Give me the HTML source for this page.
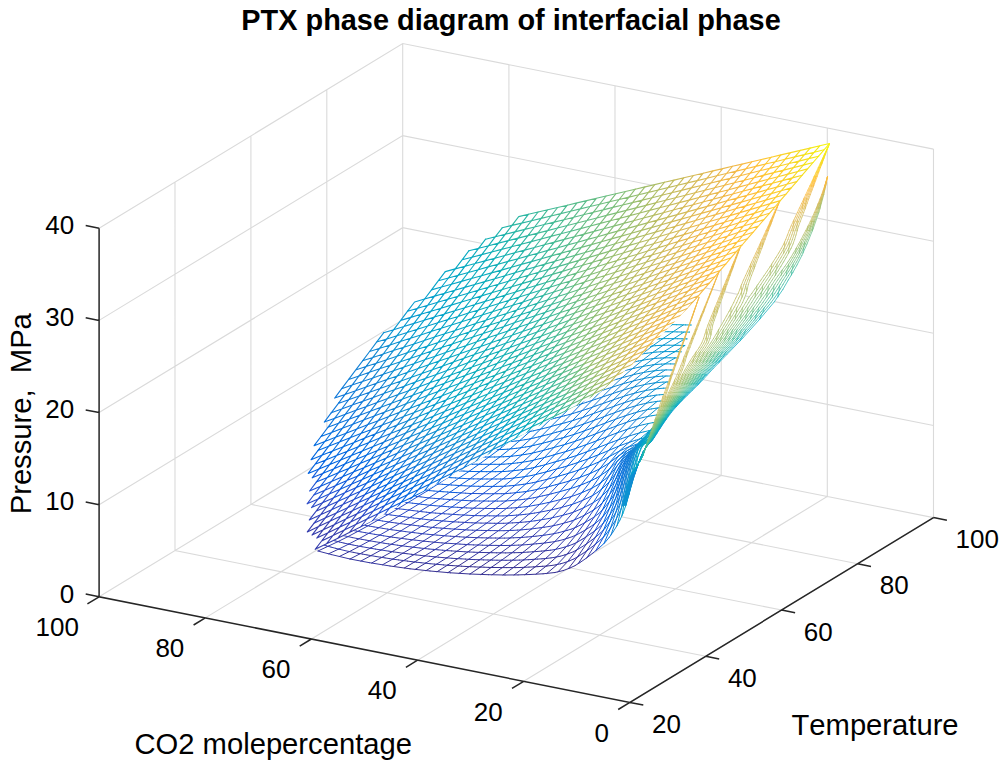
<!DOCTYPE html>
<html><head><meta charset="utf-8"><style>html,body{margin:0;padding:0;background:#fff;}text{font-kerning:none}svg{display:block}</style></head>
<body><svg width="1000" height="764" viewBox="0 0 1000 764">
<rect width="1000" height="764" fill="#fff"/>
<path d="M99.1 596.8L402.7 412.0L933.5 517.6M99.1 504.7L402.7 319.9L933.5 425.5M99.1 412.5L402.7 227.7L933.5 333.3M99.1 320.4L402.7 135.6L933.5 241.2M99.1 228.3L402.7 43.5L933.5 149.1M705.8 656.2L175.0 550.6L175.0 182.1M781.7 610.0L250.9 504.4L250.9 135.9M857.6 563.8L326.8 458.2L326.8 89.7M933.5 517.6L402.7 412.0L402.7 43.5M629.9 702.4L933.5 517.6L933.5 149.1M523.7 681.3L827.3 496.5L827.3 128.0M417.6 660.2L721.2 475.4L721.2 106.9M311.4 639.0L615.0 454.2L615.0 85.7M205.3 617.9L508.9 433.1L508.9 64.6" fill="none" stroke="#dadada" stroke-width="1.1"/>
<path d="M318.0 551.0L326.0 553.1L337.6 556.1L350.0 559.0L362.7 561.5L376.4 563.9L390.0 566.0L403.3 567.9L416.7 569.6L430.0 571.0L443.5 572.2L457.0 573.2L470.0 574.0L482.4 574.5L494.3 574.9L505.0 575.0L514.1 575.0L522.0 574.8L530.0 574.5L538.7 574.0L547.4 573.4L555.0 572.5L560.9 571.2L565.7 569.7L570.0 568.0L573.6 566.4L576.6 564.7L580.0 562.5L584.1 559.7L588.6 556.4L593.0 553.0L597.2 549.6L601.3 546.0L605.0 542.5L608.0 539.1L610.6 535.6L613.0 532.0L615.4 528.2L617.8 524.3L620.0 520.0L622.0 515.6L624.0 510.9L626.0 505.0L628.1 497.5L630.4 488.9L633.0 480.0L636.1 470.3L648.5 438.8L646.0 441.3L643.0 445.0L640.0 451.0L637.0 458.9L634.0 467.6L631.0 476.9L628.0 487.5L625.0 498.4L622.0 506.9L619.0 513.8L616.0 519.5L613.0 524.4L610.0 528.9L607.0 533.0L604.0 536.5L601.0 539.5L598.0 542.1L595.0 544.5L592.0 546.9L589.0 549.2L586.0 551.3L583.0 553.4L580.0 555.4L577.0 557.2L574.0 558.9L571.0 560.2L568.0 561.4L565.0 562.5L562.0 563.4L559.0 564.2L556.0 564.8L553.0 565.3L550.0 565.7L547.0 566.0L544.0 566.2L541.0 566.4L538.0 566.6L535.0 566.8L532.0 567.0L529.0 567.1L526.0 567.3L523.0 567.4L520.0 567.5L517.0 567.6L514.0 567.6L511.0 567.6L508.0 567.6L505.0 567.6L502.0 567.6L499.0 567.6L496.0 567.5L493.0 567.5L490.0 567.4L487.0 567.3L484.0 567.2L481.0 567.1L478.0 567.0L475.0 566.9L472.0 566.8L469.0 566.6L466.0 566.5L463.0 566.3L460.0 566.1L457.0 565.9L454.0 565.7L451.0 565.5L448.0 565.3L445.0 565.0L442.0 564.8L439.0 564.5L436.0 564.3L433.0 564.0L430.0 563.7L427.0 563.4L424.0 563.1L421.0 562.7L418.0 562.4L415.0 562.1L412.0 561.7L409.0 561.3L406.0 560.9L403.0 560.5L400.0 560.1L397.0 559.7L394.0 559.3L391.0 558.8L388.0 558.4L385.0 557.9L382.0 557.5L379.0 557.0L376.0 556.5L373.0 556.0L370.0 555.5L367.0 554.9L364.0 554.4L361.0 553.8L358.0 553.3L355.0 552.7L352.0 552.1L349.0 551.5L346.0 550.8L343.0 550.1L340.0 549.4L337.0 548.7L334.0 547.9L331.0 547.1L328.0 546.3L325.0 545.5L322.0 544.7ZM322.0 544.7L325.0 545.5L328.0 546.3L331.0 547.1L334.0 547.9L337.0 548.7L340.0 549.4L343.0 550.1L346.0 550.8L349.0 551.5L352.0 552.1L355.0 552.7L358.0 553.3L361.0 553.8L364.0 554.4L367.0 554.9L370.0 555.5L373.0 556.0L376.0 556.5L379.0 557.0L382.0 557.5L385.0 557.9L388.0 558.4L391.0 558.8L394.0 559.3L397.0 559.7L400.0 560.1L403.0 560.5L406.0 560.9L409.0 561.3L412.0 561.7L415.0 562.1L418.0 562.4L421.0 562.7L424.0 563.1L427.0 563.4L430.0 563.7L433.0 564.0L436.0 564.3L439.0 564.5L442.0 564.8L445.0 565.0L448.0 565.3L451.0 565.5L454.0 565.7L457.0 565.9L460.0 566.1L463.0 566.3L466.0 566.5L469.0 566.6L472.0 566.8L475.0 566.9L478.0 567.0L481.0 567.1L484.0 567.2L487.0 567.3L490.0 567.4L493.0 567.5L496.0 567.5L499.0 567.6L502.0 567.6L505.0 567.6L508.0 567.6L511.0 567.6L514.0 567.6L517.0 567.6L520.0 567.5L523.0 567.4L526.0 567.3L529.0 567.1L532.0 567.0L535.0 566.8L538.0 566.6L541.0 566.4L544.0 566.2L547.0 566.0L550.0 565.7L553.0 565.3L556.0 564.8L559.0 564.2L562.0 563.4L565.0 562.5L568.0 561.4L571.0 560.2L574.0 558.9L577.0 557.2L580.0 555.4L583.0 553.4L586.0 551.3L589.0 549.2L592.0 546.9L595.0 544.5L598.0 542.1L601.0 539.5L604.0 536.5L607.0 533.0L610.0 528.9L613.0 524.4L616.0 519.5L619.0 513.8L622.0 506.9L625.0 498.4L628.0 487.5L631.0 476.9L634.0 467.6L637.0 458.9L640.0 451.0L643.0 445.0L646.0 441.3L648.5 438.8L650.0 433.4L647.0 436.8L644.0 439.7L641.0 443.7L638.0 449.8L635.0 457.5L632.0 466.1L629.0 475.2L626.0 485.6L623.0 495.8L620.0 503.7L617.0 510.1L614.0 515.5L611.0 520.1L608.0 524.4L605.0 528.3L602.0 531.6L599.0 534.4L596.0 536.8L593.0 539.2L590.0 541.4L587.0 543.5L584.0 545.5L581.0 547.4L578.0 549.2L575.0 550.9L572.0 552.3L569.0 553.4L566.0 554.5L563.0 555.4L560.0 556.3L557.0 556.9L554.0 557.5L551.0 557.9L548.0 558.2L545.0 558.5L542.0 558.8L539.0 559.0L536.0 559.2L533.0 559.4L530.0 559.6L527.0 559.7L524.0 559.9L521.0 560.0L518.0 560.1L515.0 560.2L512.0 560.2L509.0 560.2L506.0 560.3L503.0 560.2L500.0 560.2L497.0 560.2L494.0 560.1L491.0 560.1L488.0 560.0L485.0 559.9L482.0 559.8L479.0 559.7L476.0 559.6L473.0 559.5L470.0 559.4L467.0 559.2L464.0 559.0L461.0 558.8L458.0 558.7L455.0 558.5L452.0 558.3L449.0 558.0L446.0 557.8L443.0 557.6L440.0 557.3L437.0 557.1L434.0 556.8L431.0 556.5L428.0 556.2L425.0 555.9L422.0 555.5L419.0 555.2L416.0 554.9L413.0 554.5L410.0 554.1L407.0 553.7L404.0 553.4L401.0 553.0L398.0 552.5L395.0 552.1L392.0 551.7L389.0 551.2L386.0 550.8L383.0 550.3L380.0 549.8L377.0 549.3L374.0 548.8L371.0 548.3L368.0 547.8L365.0 547.3L362.0 546.7L359.0 546.2L356.0 545.6L353.0 545.0L350.0 544.4L347.0 543.7L344.0 543.1L341.0 542.3L338.0 541.6L335.0 540.8L332.0 540.1L329.0 539.3L326.0 538.5ZM326.0 538.5L329.0 539.3L332.0 540.1L335.0 540.8L338.0 541.6L341.0 542.3L344.0 543.1L347.0 543.7L350.0 544.4L353.0 545.0L356.0 545.6L359.0 546.2L362.0 546.7L365.0 547.3L368.0 547.8L371.0 548.3L374.0 548.8L377.0 549.3L380.0 549.8L383.0 550.3L386.0 550.8L389.0 551.2L392.0 551.7L395.0 552.1L398.0 552.5L401.0 553.0L404.0 553.4L407.0 553.7L410.0 554.1L413.0 554.5L416.0 554.9L419.0 555.2L422.0 555.5L425.0 555.9L428.0 556.2L431.0 556.5L434.0 556.8L437.0 557.1L440.0 557.3L443.0 557.6L446.0 557.8L449.0 558.0L452.0 558.3L455.0 558.5L458.0 558.7L461.0 558.8L464.0 559.0L467.0 559.2L470.0 559.4L473.0 559.5L476.0 559.6L479.0 559.7L482.0 559.8L485.0 559.9L488.0 560.0L491.0 560.1L494.0 560.1L497.0 560.2L500.0 560.2L503.0 560.2L506.0 560.3L509.0 560.2L512.0 560.2L515.0 560.2L518.0 560.1L521.0 560.0L524.0 559.9L527.0 559.7L530.0 559.6L533.0 559.4L536.0 559.2L539.0 559.0L542.0 558.8L545.0 558.5L548.0 558.2L551.0 557.9L554.0 557.5L557.0 556.9L560.0 556.3L563.0 555.4L566.0 554.5L569.0 553.4L572.0 552.3L575.0 550.9L578.0 549.2L581.0 547.4L584.0 545.5L587.0 543.5L590.0 541.4L593.0 539.2L596.0 536.8L599.0 534.4L602.0 531.6L605.0 528.3L608.0 524.4L611.0 520.1L614.0 515.5L617.0 510.1L620.0 503.7L623.0 495.8L626.0 485.6L629.0 475.2L632.0 466.1L635.0 457.5L638.0 449.8L641.0 443.7L644.0 439.7L647.0 436.8L650.0 433.4L651.0 430.0L648.0 434.0L645.0 437.0L642.0 439.9L639.0 444.0L636.0 450.0L633.0 457.5L630.0 465.6L627.0 474.3L624.0 484.3L621.0 493.5L618.0 500.7L615.0 506.6L612.0 511.5L609.0 515.9L606.0 519.9L603.0 523.6L600.0 526.6L597.0 529.1L594.0 531.4L591.0 533.5L588.0 535.6L585.0 537.6L582.0 539.4L579.0 541.2L576.0 542.8L573.0 544.2L570.0 545.4L567.0 546.4L564.0 547.3L561.0 548.2L558.0 548.9L555.0 549.5L552.0 550.0L549.0 550.3L546.0 550.7L543.0 551.0L540.0 551.2L537.0 551.5L534.0 551.7L531.0 551.9L528.0 552.1L525.0 552.3L522.0 552.5L519.0 552.6L516.0 552.7L513.0 552.8L510.0 552.8L507.0 552.8L504.0 552.9L501.0 552.8L498.0 552.8L495.0 552.8L492.0 552.7L489.0 552.7L486.0 552.6L483.0 552.5L480.0 552.4L477.0 552.3L474.0 552.2L471.0 552.1L468.0 551.9L465.0 551.8L462.0 551.6L459.0 551.4L456.0 551.2L453.0 551.0L450.0 550.8L447.0 550.6L444.0 550.3L441.0 550.1L438.0 549.8L435.0 549.6L432.0 549.3L429.0 549.0L426.0 548.7L423.0 548.4L420.0 548.0L417.0 547.7L414.0 547.3L411.0 546.9L408.0 546.6L405.0 546.2L402.0 545.8L399.0 545.4L396.0 545.0L393.0 544.5L390.0 544.1L387.0 543.6L384.0 543.2L381.0 542.7L378.0 542.2L375.0 541.7L372.0 541.2L369.0 540.7L366.0 540.1L363.0 539.6L360.0 539.0L357.0 538.5L354.0 537.9L351.0 537.3L348.0 536.6L345.0 536.0L342.0 535.3L339.0 534.5L336.0 533.8L333.0 533.0L330.0 532.2ZM330.0 532.2L333.0 533.0L336.0 533.8L339.0 534.5L342.0 535.3L345.0 536.0L348.0 536.6L351.0 537.3L354.0 537.9L357.0 538.5L360.0 539.0L363.0 539.6L366.0 540.1L369.0 540.7L372.0 541.2L375.0 541.7L378.0 542.2L381.0 542.7L384.0 543.2L387.0 543.6L390.0 544.1L393.0 544.5L396.0 545.0L399.0 545.4L402.0 545.8L405.0 546.2L408.0 546.6L411.0 546.9L414.0 547.3L417.0 547.7L420.0 548.0L423.0 548.4L426.0 548.7L429.0 549.0L432.0 549.3L435.0 549.6L438.0 549.8L441.0 550.1L444.0 550.3L447.0 550.6L450.0 550.8L453.0 551.0L456.0 551.2L459.0 551.4L462.0 551.6L465.0 551.8L468.0 551.9L471.0 552.1L474.0 552.2L477.0 552.3L480.0 552.4L483.0 552.5L486.0 552.6L489.0 552.7L492.0 552.7L495.0 552.8L498.0 552.8L501.0 552.8L504.0 552.9L507.0 552.8L510.0 552.8L513.0 552.8L516.0 552.7L519.0 552.6L522.0 552.5L525.0 552.3L528.0 552.1L531.0 551.9L534.0 551.7L537.0 551.5L540.0 551.2L543.0 551.0L546.0 550.7L549.0 550.3L552.0 550.0L555.0 549.5L558.0 548.9L561.0 548.2L564.0 547.3L567.0 546.4L570.0 545.4L573.0 544.2L576.0 542.8L579.0 541.2L582.0 539.4L585.0 537.6L588.0 535.6L591.0 533.5L594.0 531.4L597.0 529.1L600.0 526.6L603.0 523.6L606.0 519.9L609.0 515.9L612.0 511.5L615.0 506.6L618.0 500.7L621.0 493.5L624.0 484.3L627.0 474.3L630.0 465.6L633.0 457.5L636.0 450.0L639.0 444.0L642.0 439.9L645.0 437.0L648.0 434.0L651.0 430.0L652.0 428.2L649.0 432.2L646.0 435.8L643.0 438.5L640.0 441.3L637.0 445.3L634.0 451.2L631.0 458.2L628.0 465.8L625.0 473.9L622.0 483.2L619.0 491.3L616.0 497.7L613.0 503.0L610.0 507.5L607.0 511.5L604.0 515.3L601.0 518.6L598.0 521.3L595.0 523.6L592.0 525.7L589.0 527.6L586.0 529.5L583.0 531.3L580.0 533.0L577.0 534.6L574.0 536.0L571.0 537.2L568.0 538.1L565.0 539.0L562.0 539.9L559.0 540.7L556.0 541.3L553.0 541.9L550.0 542.3L547.0 542.7L544.0 543.1L541.0 543.4L538.0 543.7L535.0 544.0L532.0 544.2L529.0 544.5L526.0 544.7L523.0 544.9L520.0 545.0L517.0 545.2L514.0 545.3L511.0 545.4L508.0 545.4L505.0 545.5L502.0 545.5L499.0 545.4L496.0 545.4L493.0 545.4L490.0 545.3L487.0 545.3L484.0 545.2L481.0 545.1L478.0 545.0L475.0 544.9L472.0 544.8L469.0 544.7L466.0 544.5L463.0 544.3L460.0 544.1L457.0 543.9L454.0 543.7L451.0 543.5L448.0 543.3L445.0 543.1L442.0 542.9L439.0 542.6L436.0 542.3L433.0 542.1L430.0 541.8L427.0 541.5L424.0 541.2L421.0 540.8L418.0 540.5L415.0 540.1L412.0 539.7L409.0 539.4L406.0 539.0L403.0 538.6L400.0 538.2L397.0 537.8L394.0 537.4L391.0 536.9L388.0 536.5L385.0 536.0L382.0 535.5L379.0 535.0L376.0 534.5L373.0 534.0L370.0 533.5L367.0 533.0L364.0 532.5L361.0 531.9L358.0 531.3L355.0 530.8L352.0 530.2L349.0 529.6L346.0 528.9L343.0 528.2L340.0 527.5L337.0 526.7L334.0 526.0ZM334.0 526.0L337.0 526.7L340.0 527.5L343.0 528.2L346.0 528.9L349.0 529.6L352.0 530.2L355.0 530.8L358.0 531.3L361.0 531.9L364.0 532.5L367.0 533.0L370.0 533.5L373.0 534.0L376.0 534.5L379.0 535.0L382.0 535.5L385.0 536.0L388.0 536.5L391.0 536.9L394.0 537.4L397.0 537.8L400.0 538.2L403.0 538.6L406.0 539.0L409.0 539.4L412.0 539.7L415.0 540.1L418.0 540.5L421.0 540.8L424.0 541.2L427.0 541.5L430.0 541.8L433.0 542.1L436.0 542.3L439.0 542.6L442.0 542.9L445.0 543.1L448.0 543.3L451.0 543.5L454.0 543.7L457.0 543.9L460.0 544.1L463.0 544.3L466.0 544.5L469.0 544.7L472.0 544.8L475.0 544.9L478.0 545.0L481.0 545.1L484.0 545.2L487.0 545.3L490.0 545.3L493.0 545.4L496.0 545.4L499.0 545.4L502.0 545.5L505.0 545.5L508.0 545.4L511.0 545.4L514.0 545.3L517.0 545.2L520.0 545.0L523.0 544.9L526.0 544.7L529.0 544.5L532.0 544.2L535.0 544.0L538.0 543.7L541.0 543.4L544.0 543.1L547.0 542.7L550.0 542.3L553.0 541.9L556.0 541.3L559.0 540.7L562.0 539.9L565.0 539.0L568.0 538.1L571.0 537.2L574.0 536.0L577.0 534.6L580.0 533.0L583.0 531.3L586.0 529.5L589.0 527.6L592.0 525.7L595.0 523.6L598.0 521.3L601.0 518.6L604.0 515.3L607.0 511.5L610.0 507.5L613.0 503.0L616.0 497.7L619.0 491.3L622.0 483.2L625.0 473.9L628.0 465.8L631.0 458.2L634.0 451.2L637.0 445.3L640.0 441.3L643.0 438.5L646.0 435.8L649.0 432.2L652.0 428.2L651.7 429.6L650.0 431.6L647.0 435.2L644.0 438.3L641.0 440.8L638.0 443.4L635.0 447.4L632.0 452.9L629.0 459.3L626.0 466.2L623.0 473.7L620.0 482.0L617.0 489.0L614.0 494.6L611.0 499.3L608.0 503.3L605.0 507.0L602.0 510.4L599.0 513.3L596.0 515.6L593.0 517.7L590.0 519.6L587.0 521.4L584.0 523.1L581.0 524.7L578.0 526.2L575.0 527.6L572.0 528.9L569.0 529.8L566.0 530.7L563.0 531.5L560.0 532.3L557.0 533.0L554.0 533.7L551.0 534.2L548.0 534.7L545.0 535.1L542.0 535.5L539.0 535.8L536.0 536.2L533.0 536.5L530.0 536.8L527.0 537.0L524.0 537.3L521.0 537.5L518.0 537.6L515.0 537.8L512.0 537.9L509.0 538.0L506.0 538.0L503.0 538.1L500.0 538.1L497.0 538.0L494.0 538.0L491.0 538.0L488.0 537.9L485.0 537.9L482.0 537.8L479.0 537.7L476.0 537.6L473.0 537.5L470.0 537.4L467.0 537.2L464.0 537.1L461.0 536.9L458.0 536.7L455.0 536.5L452.0 536.3L449.0 536.1L446.0 535.9L443.0 535.6L440.0 535.4L437.0 535.1L434.0 534.9L431.0 534.6L428.0 534.3L425.0 533.9L422.0 533.6L419.0 533.3L416.0 532.9L413.0 532.5L410.0 532.2L407.0 531.8L404.0 531.4L401.0 531.0L398.0 530.6L395.0 530.2L392.0 529.8L389.0 529.3L386.0 528.9L383.0 528.4L380.0 527.9L377.0 527.4L374.0 526.9L371.0 526.4L368.0 525.8L365.0 525.3L362.0 524.8L359.0 524.2L356.0 523.7L353.0 523.1L350.0 522.5L347.0 521.8L344.0 521.1L341.0 520.4L338.0 519.7ZM338.0 519.7L341.0 520.4L344.0 521.1L347.0 521.8L350.0 522.5L353.0 523.1L356.0 523.7L359.0 524.2L362.0 524.8L365.0 525.3L368.0 525.8L371.0 526.4L374.0 526.9L377.0 527.4L380.0 527.9L383.0 528.4L386.0 528.9L389.0 529.3L392.0 529.8L395.0 530.2L398.0 530.6L401.0 531.0L404.0 531.4L407.0 531.8L410.0 532.2L413.0 532.5L416.0 532.9L419.0 533.3L422.0 533.6L425.0 533.9L428.0 534.3L431.0 534.6L434.0 534.9L437.0 535.1L440.0 535.4L443.0 535.6L446.0 535.9L449.0 536.1L452.0 536.3L455.0 536.5L458.0 536.7L461.0 536.9L464.0 537.1L467.0 537.2L470.0 537.4L473.0 537.5L476.0 537.6L479.0 537.7L482.0 537.8L485.0 537.9L488.0 537.9L491.0 538.0L494.0 538.0L497.0 538.0L500.0 538.1L503.0 538.1L506.0 538.0L509.0 538.0L512.0 537.9L515.0 537.8L518.0 537.6L521.0 537.5L524.0 537.3L527.0 537.0L530.0 536.8L533.0 536.5L536.0 536.2L539.0 535.8L542.0 535.5L545.0 535.1L548.0 534.7L551.0 534.2L554.0 533.7L557.0 533.0L560.0 532.3L563.0 531.5L566.0 530.7L569.0 529.8L572.0 528.9L575.0 527.6L578.0 526.2L581.0 524.7L584.0 523.1L587.0 521.4L590.0 519.6L593.0 517.7L596.0 515.6L599.0 513.3L602.0 510.4L605.0 507.0L608.0 503.3L611.0 499.3L614.0 494.6L617.0 489.0L620.0 482.0L623.0 473.7L626.0 466.2L629.0 459.3L632.0 452.9L635.0 447.4L638.0 443.4L641.0 440.8L644.0 438.3L647.0 435.2L650.0 431.6L651.7 429.6L650.6 432.6L648.0 435.4L645.0 438.5L642.0 441.2L639.0 443.4L636.0 445.9L633.0 449.7L630.0 454.7L627.0 460.4L624.0 466.5L621.0 473.3L618.0 480.5L615.0 486.5L612.0 491.2L609.0 495.3L606.0 498.9L603.0 502.1L600.0 505.2L597.0 507.6L594.0 509.7L591.0 511.5L588.0 513.3L585.0 514.9L582.0 516.4L579.0 517.9L576.0 519.2L573.0 520.4L570.0 521.4L567.0 522.3L564.0 523.1L561.0 523.9L558.0 524.7L555.0 525.3L552.0 526.0L549.0 526.5L546.0 527.0L543.0 527.4L540.0 527.8L537.0 528.3L534.0 528.6L531.0 529.0L528.0 529.3L525.0 529.6L522.0 529.8L519.0 530.0L516.0 530.2L513.0 530.4L510.0 530.5L507.0 530.6L504.0 530.7L501.0 530.7L498.0 530.7L495.0 530.6L492.0 530.6L489.0 530.6L486.0 530.5L483.0 530.5L480.0 530.4L477.0 530.3L474.0 530.2L471.0 530.1L468.0 530.0L465.0 529.8L462.0 529.6L459.0 529.4L456.0 529.2L453.0 529.0L450.0 528.8L447.0 528.6L444.0 528.4L441.0 528.1L438.0 527.9L435.0 527.6L432.0 527.4L429.0 527.1L426.0 526.8L423.0 526.4L420.0 526.1L417.0 525.7L414.0 525.3L411.0 525.0L408.0 524.6L405.0 524.2L402.0 523.8L399.0 523.4L396.0 523.0L393.0 522.6L390.0 522.2L387.0 521.7L384.0 521.2L381.0 520.7L378.0 520.2L375.0 519.7L372.0 519.2L369.0 518.7L366.0 518.2L363.0 517.6L360.0 517.1L357.0 516.5L354.0 516.0L351.0 515.4L348.0 514.7L345.0 514.0L342.0 513.3ZM342.0 513.3L345.0 514.0L348.0 514.7L351.0 515.4L354.0 516.0L357.0 516.5L360.0 517.1L363.0 517.6L366.0 518.2L369.0 518.7L372.0 519.2L375.0 519.7L378.0 520.2L381.0 520.7L384.0 521.2L387.0 521.7L390.0 522.2L393.0 522.6L396.0 523.0L399.0 523.4L402.0 523.8L405.0 524.2L408.0 524.6L411.0 525.0L414.0 525.3L417.0 525.7L420.0 526.1L423.0 526.4L426.0 526.8L429.0 527.1L432.0 527.4L435.0 527.6L438.0 527.9L441.0 528.1L444.0 528.4L447.0 528.6L450.0 528.8L453.0 529.0L456.0 529.2L459.0 529.4L462.0 529.6L465.0 529.8L468.0 530.0L471.0 530.1L474.0 530.2L477.0 530.3L480.0 530.4L483.0 530.5L486.0 530.5L489.0 530.6L492.0 530.6L495.0 530.6L498.0 530.7L501.0 530.7L504.0 530.7L507.0 530.6L510.0 530.5L513.0 530.4L516.0 530.2L519.0 530.0L522.0 529.8L525.0 529.6L528.0 529.3L531.0 529.0L534.0 528.6L537.0 528.3L540.0 527.8L543.0 527.4L546.0 527.0L549.0 526.5L552.0 526.0L555.0 525.3L558.0 524.7L561.0 523.9L564.0 523.1L567.0 522.3L570.0 521.4L573.0 520.4L576.0 519.2L579.0 517.9L582.0 516.4L585.0 514.9L588.0 513.3L591.0 511.5L594.0 509.7L597.0 507.6L600.0 505.2L603.0 502.1L606.0 498.9L609.0 495.3L612.0 491.2L615.0 486.5L618.0 480.5L621.0 473.3L624.0 466.5L627.0 460.4L630.0 454.7L633.0 449.7L636.0 445.9L639.0 443.4L642.0 441.2L645.0 438.5L648.0 435.4L650.6 432.6L649.0 436.4L646.0 439.1L643.0 441.8L640.0 444.1L637.0 446.0L634.0 448.4L631.0 451.9L628.0 456.3L625.0 461.3L622.0 466.5L619.0 472.4L616.0 478.5L613.0 483.4L610.0 487.4L607.0 491.0L604.0 494.1L601.0 496.9L598.0 499.5L595.0 501.6L592.0 503.4L589.0 505.0L586.0 506.6L583.0 508.1L580.0 509.4L577.0 510.7L574.0 511.9L571.0 513.0L568.0 513.8L565.0 514.7L562.0 515.5L559.0 516.3L556.0 517.0L553.0 517.6L550.0 518.3L547.0 518.8L544.0 519.3L541.0 519.8L538.0 520.3L535.0 520.8L532.0 521.2L529.0 521.6L526.0 521.9L523.0 522.2L520.0 522.4L517.0 522.6L514.0 522.8L511.0 523.0L508.0 523.1L505.0 523.2L502.0 523.3L499.0 523.3L496.0 523.3L493.0 523.3L490.0 523.2L487.0 523.2L484.0 523.1L481.0 523.1L478.0 523.0L475.0 522.9L472.0 522.8L469.0 522.7L466.0 522.5L463.0 522.3L460.0 522.2L457.0 522.0L454.0 521.8L451.0 521.6L448.0 521.4L445.0 521.1L442.0 520.9L439.0 520.7L436.0 520.4L433.0 520.2L430.0 519.9L427.0 519.6L424.0 519.2L421.0 518.9L418.0 518.5L415.0 518.1L412.0 517.8L409.0 517.4L406.0 517.0L403.0 516.6L400.0 516.2L397.0 515.8L394.0 515.4L391.0 515.0L388.0 514.6L385.0 514.1L382.0 513.6L379.0 513.1L376.0 512.6L373.0 512.1L370.0 511.5L367.0 511.0L364.0 510.5L361.0 509.9L358.0 509.4L355.0 508.8L352.0 508.3L349.0 507.7L346.0 507.0ZM346.0 507.0L349.0 507.7L352.0 508.3L355.0 508.8L358.0 509.4L361.0 509.9L364.0 510.5L367.0 511.0L370.0 511.5L373.0 512.1L376.0 512.6L379.0 513.1L382.0 513.6L385.0 514.1L388.0 514.6L391.0 515.0L394.0 515.4L397.0 515.8L400.0 516.2L403.0 516.6L406.0 517.0L409.0 517.4L412.0 517.8L415.0 518.1L418.0 518.5L421.0 518.9L424.0 519.2L427.0 519.6L430.0 519.9L433.0 520.2L436.0 520.4L439.0 520.7L442.0 520.9L445.0 521.1L448.0 521.4L451.0 521.6L454.0 521.8L457.0 522.0L460.0 522.2L463.0 522.3L466.0 522.5L469.0 522.7L472.0 522.8L475.0 522.9L478.0 523.0L481.0 523.1L484.0 523.1L487.0 523.2L490.0 523.2L493.0 523.3L496.0 523.3L499.0 523.3L502.0 523.3L505.0 523.2L508.0 523.1L511.0 523.0L514.0 522.8L517.0 522.6L520.0 522.4L523.0 522.2L526.0 521.9L529.0 521.6L532.0 521.2L535.0 520.8L538.0 520.3L541.0 519.8L544.0 519.3L547.0 518.8L550.0 518.3L553.0 517.6L556.0 517.0L559.0 516.3L562.0 515.5L565.0 514.7L568.0 513.8L571.0 513.0L574.0 511.9L577.0 510.7L580.0 509.4L583.0 508.1L586.0 506.6L589.0 505.0L592.0 503.4L595.0 501.6L598.0 499.5L601.0 496.9L604.0 494.1L607.0 491.0L610.0 487.4L613.0 483.4L616.0 478.5L619.0 472.4L622.0 466.5L625.0 461.3L628.0 456.3L631.0 451.9L634.0 448.4L637.0 446.0L640.0 444.1L643.0 441.8L646.0 439.1L649.0 436.4L647.0 440.1L644.0 442.4L641.0 444.6L638.0 446.5L635.0 448.3L632.0 450.5L629.0 453.6L626.0 457.4L623.0 461.6L620.0 466.0L617.0 471.0L614.0 475.9L611.0 479.8L608.0 483.2L605.0 486.2L602.0 488.8L599.0 491.3L596.0 493.5L593.0 495.2L590.0 496.8L587.0 498.3L584.0 499.7L581.0 501.0L578.0 502.2L575.0 503.4L572.0 504.5L569.0 505.4L566.0 506.2L563.0 507.0L560.0 507.8L557.0 508.6L554.0 509.3L551.0 510.0L548.0 510.6L545.0 511.2L542.0 511.8L539.0 512.3L536.0 512.8L533.0 513.3L530.0 513.8L527.0 514.1L524.0 514.5L521.0 514.8L518.0 515.0L515.0 515.3L512.0 515.5L509.0 515.6L506.0 515.8L503.0 515.9L500.0 515.9L497.0 515.9L494.0 515.9L491.0 515.9L488.0 515.8L485.0 515.8L482.0 515.7L479.0 515.7L476.0 515.6L473.0 515.5L470.0 515.4L467.0 515.2L464.0 515.1L461.0 514.9L458.0 514.7L455.0 514.5L452.0 514.3L449.0 514.1L446.0 513.9L443.0 513.7L440.0 513.4L437.0 513.2L434.0 512.9L431.0 512.7L428.0 512.4L425.0 512.0L422.0 511.7L419.0 511.3L416.0 510.9L413.0 510.6L410.0 510.2L407.0 509.8L404.0 509.4L401.0 509.1L398.0 508.7L395.0 508.3L392.0 507.9L389.0 507.4L386.0 506.9L383.0 506.4L380.0 505.9L377.0 505.4L374.0 504.9L371.0 504.4L368.0 503.9L365.0 503.3L362.0 502.8L359.0 502.3L356.0 501.7L353.0 501.2L350.0 500.6ZM350.0 500.6L353.0 501.2L356.0 501.7L359.0 502.3L362.0 502.8L365.0 503.3L368.0 503.9L371.0 504.4L374.0 504.9L377.0 505.4L380.0 505.9L383.0 506.4L386.0 506.9L389.0 507.4L392.0 507.9L395.0 508.3L398.0 508.7L401.0 509.1L404.0 509.4L407.0 509.8L410.0 510.2L413.0 510.6L416.0 510.9L419.0 511.3L422.0 511.7L425.0 512.0L428.0 512.4L431.0 512.7L434.0 512.9L437.0 513.2L440.0 513.4L443.0 513.7L446.0 513.9L449.0 514.1L452.0 514.3L455.0 514.5L458.0 514.7L461.0 514.9L464.0 515.1L467.0 515.2L470.0 515.4L473.0 515.5L476.0 515.6L479.0 515.7L482.0 515.7L485.0 515.8L488.0 515.8L491.0 515.9L494.0 515.9L497.0 515.9L500.0 515.9L503.0 515.9L506.0 515.8L509.0 515.6L512.0 515.5L515.0 515.3L518.0 515.0L521.0 514.8L524.0 514.5L527.0 514.1L530.0 513.8L533.0 513.3L536.0 512.8L539.0 512.3L542.0 511.8L545.0 511.2L548.0 510.6L551.0 510.0L554.0 509.3L557.0 508.6L560.0 507.8L563.0 507.0L566.0 506.2L569.0 505.4L572.0 504.5L575.0 503.4L578.0 502.2L581.0 501.0L584.0 499.7L587.0 498.3L590.0 496.8L593.0 495.2L596.0 493.5L599.0 491.3L602.0 488.8L605.0 486.2L608.0 483.2L611.0 479.8L614.0 475.9L617.0 471.0L620.0 466.0L623.0 461.6L626.0 457.4L629.0 453.6L632.0 450.5L635.0 448.3L638.0 446.5L641.0 444.6L644.0 442.4L647.0 440.1L647.6 441.3L645.0 442.9L642.0 444.8L639.0 446.7L636.0 448.3L633.0 449.8L630.0 451.8L627.0 454.5L624.0 457.7L621.0 461.1L618.0 464.7L615.0 468.7L612.0 472.5L609.0 475.7L606.0 478.5L603.0 480.9L600.0 483.2L597.0 485.3L594.0 487.0L591.0 488.6L588.0 490.0L585.0 491.3L582.0 492.6L579.0 493.8L576.0 494.9L573.0 496.0L570.0 496.9L567.0 497.8L564.0 498.6L561.0 499.4L558.0 500.2L555.0 500.9L552.0 501.7L549.0 502.4L546.0 503.1L543.0 503.7L540.0 504.3L537.0 504.9L534.0 505.4L531.0 505.9L528.0 506.4L525.0 506.8L522.0 507.1L519.0 507.4L516.0 507.7L513.0 507.9L510.0 508.1L507.0 508.3L504.0 508.4L501.0 508.5L498.0 508.5L495.0 508.5L492.0 508.5L489.0 508.5L486.0 508.4L483.0 508.4L480.0 508.3L477.0 508.3L474.0 508.2L471.0 508.1L468.0 508.0L465.0 507.8L462.0 507.6L459.0 507.4L456.0 507.2L453.0 507.1L450.0 506.9L447.0 506.6L444.0 506.4L441.0 506.2L438.0 505.9L435.0 505.7L432.0 505.5L429.0 505.2L426.0 504.8L423.0 504.5L420.0 504.1L417.0 503.7L414.0 503.4L411.0 503.0L408.0 502.6L405.0 502.2L402.0 501.9L399.0 501.5L396.0 501.1L393.0 500.7L390.0 500.3L387.0 499.8L384.0 499.3L381.0 498.8L378.0 498.3L375.0 497.7L372.0 497.2L369.0 496.7L366.0 496.2L363.0 495.6L360.0 495.1L357.0 494.6L354.0 494.0ZM354.0 494.0L357.0 494.6L360.0 495.1L363.0 495.6L366.0 496.2L369.0 496.7L372.0 497.2L375.0 497.7L378.0 498.3L381.0 498.8L384.0 499.3L387.0 499.8L390.0 500.3L393.0 500.7L396.0 501.1L399.0 501.5L402.0 501.9L405.0 502.2L408.0 502.6L411.0 503.0L414.0 503.4L417.0 503.7L420.0 504.1L423.0 504.5L426.0 504.8L429.0 505.2L432.0 505.5L435.0 505.7L438.0 505.9L441.0 506.2L444.0 506.4L447.0 506.6L450.0 506.9L453.0 507.1L456.0 507.2L459.0 507.4L462.0 507.6L465.0 507.8L468.0 508.0L471.0 508.1L474.0 508.2L477.0 508.3L480.0 508.3L483.0 508.4L486.0 508.4L489.0 508.5L492.0 508.5L495.0 508.5L498.0 508.5L501.0 508.5L504.0 508.4L507.0 508.3L510.0 508.1L513.0 507.9L516.0 507.7L519.0 507.4L522.0 507.1L525.0 506.8L528.0 506.4L531.0 505.9L534.0 505.4L537.0 504.9L540.0 504.3L543.0 503.7L546.0 503.1L549.0 502.4L552.0 501.7L555.0 500.9L558.0 500.2L561.0 499.4L564.0 498.6L567.0 497.8L570.0 496.9L573.0 496.0L576.0 494.9L579.0 493.8L582.0 492.6L585.0 491.3L588.0 490.0L591.0 488.6L594.0 487.0L597.0 485.3L600.0 483.2L603.0 480.9L606.0 478.5L609.0 475.7L612.0 472.5L615.0 468.7L618.0 464.7L621.0 461.1L624.0 457.7L627.0 454.5L630.0 451.8L633.0 449.8L636.0 448.3L639.0 446.7L642.0 444.8L645.0 442.9L647.6 441.3L646.0 443.1L643.0 444.6L640.0 446.1L637.0 447.7L634.0 449.0L631.0 450.4L628.0 452.2L625.0 454.4L622.0 456.9L619.0 459.6L616.0 462.5L613.0 465.6L610.0 468.5L607.0 471.0L604.0 473.2L601.0 475.2L598.0 477.1L595.0 478.8L592.0 480.3L589.0 481.7L586.0 483.0L583.0 484.2L580.0 485.3L577.0 486.5L574.0 487.5L571.0 488.5L568.0 489.4L565.0 490.2L562.0 491.1L559.0 491.9L556.0 492.6L553.0 493.4L550.0 494.2L547.0 494.9L544.0 495.6L541.0 496.3L538.0 496.9L535.0 497.5L532.0 498.1L529.0 498.6L526.0 499.0L523.0 499.4L520.0 499.8L517.0 500.1L514.0 500.4L511.0 500.6L508.0 500.8L505.0 501.0L502.0 501.1L499.0 501.1L496.0 501.1L493.0 501.1L490.0 501.1L487.0 501.1L484.0 501.0L481.0 501.0L478.0 500.9L475.0 500.9L472.0 500.8L469.0 500.7L466.0 500.5L463.0 500.4L460.0 500.2L457.0 500.0L454.0 499.8L451.0 499.6L448.0 499.4L445.0 499.2L442.0 498.9L439.0 498.7L436.0 498.5L433.0 498.2L430.0 498.0L427.0 497.6L424.0 497.3L421.0 496.9L418.0 496.5L415.0 496.2L412.0 495.8L409.0 495.4L406.0 495.0L403.0 494.7L400.0 494.3L397.0 493.9L394.0 493.5L391.0 493.1L388.0 492.7L385.0 492.1L382.0 491.6L379.0 491.1L376.0 490.6L373.0 490.1L370.0 489.6L367.0 489.0L364.0 488.5L361.0 488.0L358.0 487.4ZM358.0 487.4L361.0 488.0L364.0 488.5L367.0 489.0L370.0 489.6L373.0 490.1L376.0 490.6L379.0 491.1L382.0 491.6L385.0 492.1L388.0 492.7L391.0 493.1L394.0 493.5L397.0 493.9L400.0 494.3L403.0 494.7L406.0 495.0L409.0 495.4L412.0 495.8L415.0 496.2L418.0 496.5L421.0 496.9L424.0 497.3L427.0 497.6L430.0 498.0L433.0 498.2L436.0 498.5L439.0 498.7L442.0 498.9L445.0 499.2L448.0 499.4L451.0 499.6L454.0 499.8L457.0 500.0L460.0 500.2L463.0 500.4L466.0 500.5L469.0 500.7L472.0 500.8L475.0 500.9L478.0 500.9L481.0 501.0L484.0 501.0L487.0 501.1L490.0 501.1L493.0 501.1L496.0 501.1L499.0 501.1L502.0 501.1L505.0 501.0L508.0 500.8L511.0 500.6L514.0 500.4L517.0 500.1L520.0 499.8L523.0 499.4L526.0 499.0L529.0 498.6L532.0 498.1L535.0 497.5L538.0 496.9L541.0 496.3L544.0 495.6L547.0 494.9L550.0 494.2L553.0 493.4L556.0 492.6L559.0 491.9L562.0 491.1L565.0 490.2L568.0 489.4L571.0 488.5L574.0 487.5L577.0 486.5L580.0 485.3L583.0 484.2L586.0 483.0L589.0 481.7L592.0 480.3L595.0 478.8L598.0 477.1L601.0 475.2L604.0 473.2L607.0 471.0L610.0 468.5L613.0 465.6L616.0 462.5L619.0 459.6L622.0 456.9L625.0 454.4L628.0 452.2L631.0 450.4L634.0 449.0L637.0 447.7L640.0 446.1L643.0 444.6L646.0 443.1L647.0 442.5L644.0 443.6L641.0 444.8L638.0 446.1L635.0 447.3L632.0 448.5L629.0 449.8L626.0 451.3L623.0 453.1L620.0 455.0L617.0 457.1L614.0 459.3L611.0 461.6L608.0 463.8L605.0 465.7L602.0 467.5L599.0 469.2L596.0 470.7L593.0 472.2L590.0 473.5L587.0 474.7L584.0 475.9L581.0 477.0L578.0 478.1L575.0 479.1L572.0 480.1L569.0 481.1L566.0 481.9L563.0 482.8L560.0 483.6L557.0 484.4L554.0 485.2L551.0 486.0L548.0 486.8L545.0 487.6L542.0 488.3L539.0 489.0L536.0 489.6L533.0 490.3L530.0 490.9L527.0 491.3L524.0 491.8L521.0 492.1L518.0 492.5L515.0 492.8L512.0 493.1L509.0 493.3L506.0 493.6L503.0 493.7L500.0 493.7L497.0 493.7L494.0 493.8L491.0 493.7L488.0 493.7L485.0 493.7L482.0 493.7L479.0 493.6L476.0 493.6L473.0 493.5L470.0 493.5L467.0 493.3L464.0 493.1L461.0 492.9L458.0 492.7L455.0 492.5L452.0 492.4L449.0 492.2L446.0 491.9L443.0 491.7L440.0 491.5L437.0 491.2L434.0 491.0L431.0 490.8L428.0 490.5L425.0 490.1L422.0 489.7L419.0 489.3L416.0 489.0L413.0 488.6L410.0 488.2L407.0 487.9L404.0 487.5L401.0 487.1L398.0 486.7L395.0 486.3L392.0 486.0L389.0 485.5L386.0 485.0L383.0 484.5L380.0 484.0L377.0 483.5L374.0 482.9L371.0 482.4L368.0 481.9L365.0 481.4L362.0 480.8ZM362.0 480.8L365.0 481.4L368.0 481.9L371.0 482.4L374.0 482.9L377.0 483.5L380.0 484.0L383.0 484.5L386.0 485.0L389.0 485.5L392.0 486.0L395.0 486.3L398.0 486.7L401.0 487.1L404.0 487.5L407.0 487.9L410.0 488.2L413.0 488.6L416.0 489.0L419.0 489.3L422.0 489.7L425.0 490.1L428.0 490.5L431.0 490.8L434.0 491.0L437.0 491.2L440.0 491.5L443.0 491.7L446.0 491.9L449.0 492.2L452.0 492.4L455.0 492.5L458.0 492.7L461.0 492.9L464.0 493.1L467.0 493.3L470.0 493.5L473.0 493.5L476.0 493.6L479.0 493.6L482.0 493.7L485.0 493.7L488.0 493.7L491.0 493.7L494.0 493.8L497.0 493.7L500.0 493.7L503.0 493.7L506.0 493.6L509.0 493.3L512.0 493.1L515.0 492.8L518.0 492.5L521.0 492.1L524.0 491.8L527.0 491.3L530.0 490.9L533.0 490.3L536.0 489.6L539.0 489.0L542.0 488.3L545.0 487.6L548.0 486.8L551.0 486.0L554.0 485.2L557.0 484.4L560.0 483.6L563.0 482.8L566.0 481.9L569.0 481.1L572.0 480.1L575.0 479.1L578.0 478.1L581.0 477.0L584.0 475.9L587.0 474.7L590.0 473.5L593.0 472.2L596.0 470.7L599.0 469.2L602.0 467.5L605.0 465.7L608.0 463.8L611.0 461.6L614.0 459.3L617.0 457.1L620.0 455.0L623.0 453.1L626.0 451.3L629.0 449.8L632.0 448.5L635.0 447.3L638.0 446.1L641.0 444.8L644.0 443.6L647.0 442.5L647.9 440.5L645.0 441.3L642.0 442.3L639.0 443.3L636.0 444.4L633.0 445.4L630.0 446.5L627.0 447.6L624.0 448.9L621.0 450.4L618.0 451.9L615.0 453.4L612.0 455.1L609.0 456.8L606.0 458.4L603.0 459.9L600.0 461.4L597.0 462.8L594.0 464.1L591.0 465.3L588.0 466.5L585.0 467.7L582.0 468.8L579.0 469.8L576.0 470.9L573.0 471.9L570.0 472.9L567.0 473.8L564.0 474.6L561.0 475.5L558.0 476.3L555.0 477.1L552.0 477.9L549.0 478.8L546.0 479.6L543.0 480.3L540.0 481.0L537.0 481.8L534.0 482.5L531.0 483.1L528.0 483.6L525.0 484.1L522.0 484.5L519.0 484.9L516.0 485.2L513.0 485.6L510.0 485.8L507.0 486.1L504.0 486.3L501.0 486.3L498.0 486.4L495.0 486.4L492.0 486.4L489.0 486.4L486.0 486.4L483.0 486.3L480.0 486.3L477.0 486.2L474.0 486.2L471.0 486.1L468.0 486.0L465.0 485.8L462.0 485.6L459.0 485.5L456.0 485.3L453.0 485.1L450.0 484.9L447.0 484.7L444.0 484.5L441.0 484.2L438.0 484.0L435.0 483.8L432.0 483.6L429.0 483.3L426.0 482.9L423.0 482.5L420.0 482.2L417.0 481.8L414.0 481.4L411.0 481.0L408.0 480.7L405.0 480.3L402.0 479.9L399.0 479.5L396.0 479.2L393.0 478.8L390.0 478.4L387.0 477.9L384.0 477.4L381.0 476.8L378.0 476.3L375.0 475.8L372.0 475.3L369.0 474.7L366.0 474.2ZM366.0 474.2L369.0 474.7L372.0 475.3L375.0 475.8L378.0 476.3L381.0 476.8L384.0 477.4L387.0 477.9L390.0 478.4L393.0 478.8L396.0 479.2L399.0 479.5L402.0 479.9L405.0 480.3L408.0 480.7L411.0 481.0L414.0 481.4L417.0 481.8L420.0 482.2L423.0 482.5L426.0 482.9L429.0 483.3L432.0 483.6L435.0 483.8L438.0 484.0L441.0 484.2L444.0 484.5L447.0 484.7L450.0 484.9L453.0 485.1L456.0 485.3L459.0 485.5L462.0 485.6L465.0 485.8L468.0 486.0L471.0 486.1L474.0 486.2L477.0 486.2L480.0 486.3L483.0 486.3L486.0 486.4L489.0 486.4L492.0 486.4L495.0 486.4L498.0 486.4L501.0 486.3L504.0 486.3L507.0 486.1L510.0 485.8L513.0 485.6L516.0 485.2L519.0 484.9L522.0 484.5L525.0 484.1L528.0 483.6L531.0 483.1L534.0 482.5L537.0 481.8L540.0 481.0L543.0 480.3L546.0 479.6L549.0 478.8L552.0 477.9L555.0 477.1L558.0 476.3L561.0 475.5L564.0 474.6L567.0 473.8L570.0 472.9L573.0 471.9L576.0 470.9L579.0 469.8L582.0 468.8L585.0 467.7L588.0 466.5L591.0 465.3L594.0 464.1L597.0 462.8L600.0 461.4L603.0 459.9L606.0 458.4L609.0 456.8L612.0 455.1L615.0 453.4L618.0 451.9L621.0 450.4L624.0 448.9L627.0 447.6L630.0 446.5L633.0 445.4L636.0 444.4L639.0 443.3L642.0 442.3L645.0 441.3L647.9 440.5L649.0 436.7L646.0 437.4L643.0 438.1L640.0 438.9L637.0 439.8L634.0 440.8L631.0 441.7L628.0 442.8L625.0 443.8L622.0 444.9L619.0 446.1L616.0 447.3L613.0 448.6L610.0 449.9L607.0 451.2L604.0 452.5L601.0 453.7L598.0 454.9L595.0 456.1L592.0 457.3L589.0 458.5L586.0 459.6L583.0 460.7L580.0 461.8L577.0 462.8L574.0 463.8L571.0 464.8L568.0 465.7L565.0 466.6L562.0 467.5L559.0 468.3L556.0 469.1L553.0 470.0L550.0 470.9L547.0 471.7L544.0 472.5L541.0 473.2L538.0 474.0L535.0 474.7L532.0 475.4L529.0 476.0L526.0 476.5L523.0 476.9L520.0 477.3L517.0 477.7L514.0 478.0L511.0 478.3L508.0 478.6L505.0 478.9L502.0 478.9L499.0 479.0L496.0 479.0L493.0 479.0L490.0 479.0L487.0 479.0L484.0 479.0L481.0 479.0L478.0 478.9L475.0 478.9L472.0 478.8L469.0 478.8L466.0 478.6L463.0 478.4L460.0 478.2L457.0 478.0L454.0 477.8L451.0 477.7L448.0 477.5L445.0 477.2L442.0 477.0L439.0 476.8L436.0 476.6L433.0 476.3L430.0 476.1L427.0 475.7L424.0 475.4L421.0 475.0L418.0 474.6L415.0 474.2L412.0 473.9L409.0 473.5L406.0 473.1L403.0 472.7L400.0 472.4L397.0 472.0L394.0 471.6L391.0 471.2L388.0 470.8L385.0 470.2L382.0 469.7L379.0 469.2L376.0 468.7L373.0 468.1L370.0 467.6ZM370.0 467.6L373.0 468.1L376.0 468.7L379.0 469.2L382.0 469.7L385.0 470.2L388.0 470.8L391.0 471.2L394.0 471.6L397.0 472.0L400.0 472.4L403.0 472.7L406.0 473.1L409.0 473.5L412.0 473.9L415.0 474.2L418.0 474.6L421.0 475.0L424.0 475.4L427.0 475.7L430.0 476.1L433.0 476.3L436.0 476.6L439.0 476.8L442.0 477.0L445.0 477.2L448.0 477.5L451.0 477.7L454.0 477.8L457.0 478.0L460.0 478.2L463.0 478.4L466.0 478.6L469.0 478.8L472.0 478.8L475.0 478.9L478.0 478.9L481.0 479.0L484.0 479.0L487.0 479.0L490.0 479.0L493.0 479.0L496.0 479.0L499.0 479.0L502.0 478.9L505.0 478.9L508.0 478.6L511.0 478.3L514.0 478.0L517.0 477.7L520.0 477.3L523.0 476.9L526.0 476.5L529.0 476.0L532.0 475.4L535.0 474.7L538.0 474.0L541.0 473.2L544.0 472.5L547.0 471.7L550.0 470.9L553.0 470.0L556.0 469.1L559.0 468.3L562.0 467.5L565.0 466.6L568.0 465.7L571.0 464.8L574.0 463.8L577.0 462.8L580.0 461.8L583.0 460.7L586.0 459.6L589.0 458.5L592.0 457.3L595.0 456.1L598.0 454.9L601.0 453.7L604.0 452.5L607.0 451.2L610.0 449.9L613.0 448.6L616.0 447.3L619.0 446.1L622.0 444.9L625.0 443.8L628.0 442.8L631.0 441.7L634.0 440.8L637.0 439.8L640.0 438.9L643.0 438.1L646.0 437.4L649.0 436.7L650.0 430.5L647.0 431.1L644.0 431.8L641.0 432.6L638.0 433.4L635.0 434.2L632.0 435.1L629.0 436.1L626.0 437.1L623.0 438.1L620.0 439.2L617.0 440.3L614.0 441.4L611.0 442.6L608.0 443.7L605.0 444.9L602.0 446.0L599.0 447.2L596.0 448.4L593.0 449.5L590.0 450.6L587.0 451.7L584.0 452.8L581.0 453.9L578.0 455.0L575.0 456.0L572.0 457.0L569.0 457.9L566.0 458.9L563.0 459.7L560.0 460.6L557.0 461.4L554.0 462.2L551.0 463.1L548.0 463.9L545.0 464.8L542.0 465.5L539.0 466.3L536.0 467.0L533.0 467.7L530.0 468.4L527.0 468.9L524.0 469.4L521.0 469.8L518.0 470.2L515.0 470.5L512.0 470.9L509.0 471.1L506.0 471.4L503.0 471.5L500.0 471.6L497.0 471.7L494.0 471.7L491.0 471.7L488.0 471.7L485.0 471.7L482.0 471.6L479.0 471.6L476.0 471.6L473.0 471.5L470.0 471.5L467.0 471.3L464.0 471.1L461.0 471.0L458.0 470.8L455.0 470.6L452.0 470.4L449.0 470.2L446.0 470.0L443.0 469.8L440.0 469.6L437.0 469.3L434.0 469.1L431.0 468.9L428.0 468.6L425.0 468.2L422.0 467.8L419.0 467.4L416.0 467.1L413.0 466.7L410.0 466.3L407.0 465.9L404.0 465.6L401.0 465.2L398.0 464.8L395.0 464.4L392.0 464.1L389.0 463.6L386.0 463.1L383.0 462.6L380.0 462.1L377.0 461.5L374.0 461.0ZM374.0 461.0L377.0 461.5L380.0 462.1L383.0 462.6L386.0 463.1L389.0 463.6L392.0 464.1L395.0 464.4L398.0 464.8L401.0 465.2L404.0 465.6L407.0 465.9L410.0 466.3L413.0 466.7L416.0 467.1L419.0 467.4L422.0 467.8L425.0 468.2L428.0 468.6L431.0 468.9L434.0 469.1L437.0 469.3L440.0 469.6L443.0 469.8L446.0 470.0L449.0 470.2L452.0 470.4L455.0 470.6L458.0 470.8L461.0 471.0L464.0 471.1L467.0 471.3L470.0 471.5L473.0 471.5L476.0 471.6L479.0 471.6L482.0 471.6L485.0 471.7L488.0 471.7L491.0 471.7L494.0 471.7L497.0 471.7L500.0 471.6L503.0 471.5L506.0 471.4L509.0 471.1L512.0 470.9L515.0 470.5L518.0 470.2L521.0 469.8L524.0 469.4L527.0 468.9L530.0 468.4L533.0 467.7L536.0 467.0L539.0 466.3L542.0 465.5L545.0 464.8L548.0 463.9L551.0 463.1L554.0 462.2L557.0 461.4L560.0 460.6L563.0 459.7L566.0 458.9L569.0 457.9L572.0 457.0L575.0 456.0L578.0 455.0L581.0 453.9L584.0 452.8L587.0 451.7L590.0 450.6L593.0 449.5L596.0 448.4L599.0 447.2L602.0 446.0L605.0 444.9L608.0 443.7L611.0 442.6L614.0 441.4L617.0 440.3L620.0 439.2L623.0 438.1L626.0 437.1L629.0 436.1L632.0 435.1L635.0 434.2L638.0 433.4L641.0 432.6L644.0 431.8L647.0 431.1L650.0 430.5L654.0 422.5L651.0 423.0L648.0 423.6L645.0 424.2L642.0 425.0L639.0 425.7L636.0 426.6L633.0 427.5L630.0 428.4L627.0 429.4L624.0 430.4L621.0 431.5L618.0 432.6L615.0 433.7L612.0 434.8L609.0 436.0L606.0 437.1L603.0 438.3L600.0 439.5L597.0 440.6L594.0 441.8L591.0 442.9L588.0 444.0L585.0 445.1L582.0 446.2L579.0 447.2L576.0 448.3L573.0 449.3L570.0 450.2L567.0 451.2L564.0 452.1L561.0 452.9L558.0 453.7L555.0 454.5L552.0 455.4L549.0 456.3L546.0 457.1L543.0 457.9L540.0 458.6L537.0 459.4L534.0 460.1L531.0 460.8L528.0 461.3L525.0 461.8L522.0 462.3L519.0 462.7L516.0 463.0L513.0 463.4L510.0 463.7L507.0 464.0L504.0 464.2L501.0 464.2L498.0 464.3L495.0 464.3L492.0 464.3L489.0 464.3L486.0 464.3L483.0 464.3L480.0 464.3L477.0 464.2L474.0 464.2L471.0 464.2L468.0 464.1L465.0 463.9L462.0 463.7L459.0 463.5L456.0 463.4L453.0 463.2L450.0 463.0L447.0 462.8L444.0 462.5L441.0 462.3L438.0 462.1L435.0 461.9L432.0 461.6L429.0 461.4L426.0 461.0L423.0 460.6L420.0 460.2L417.0 459.9L414.0 459.5L411.0 459.1L408.0 458.8L405.0 458.4L402.0 458.0L399.0 457.6L396.0 457.2L393.0 456.9L390.0 456.5L387.0 456.0L384.0 455.5L381.0 454.9L378.0 454.4ZM378.0 454.4L381.0 454.9L384.0 455.5L387.0 456.0L390.0 456.5L393.0 456.9L396.0 457.2L399.0 457.6L402.0 458.0L405.0 458.4L408.0 458.8L411.0 459.1L414.0 459.5L417.0 459.9L420.0 460.2L423.0 460.6L426.0 461.0L429.0 461.4L432.0 461.6L435.0 461.9L438.0 462.1L441.0 462.3L444.0 462.5L447.0 462.8L450.0 463.0L453.0 463.2L456.0 463.4L459.0 463.5L462.0 463.7L465.0 463.9L468.0 464.1L471.0 464.2L474.0 464.2L477.0 464.2L480.0 464.3L483.0 464.3L486.0 464.3L489.0 464.3L492.0 464.3L495.0 464.3L498.0 464.3L501.0 464.2L504.0 464.2L507.0 464.0L510.0 463.7L513.0 463.4L516.0 463.0L519.0 462.7L522.0 462.3L525.0 461.8L528.0 461.3L531.0 460.8L534.0 460.1L537.0 459.4L540.0 458.6L543.0 457.9L546.0 457.1L549.0 456.3L552.0 455.4L555.0 454.5L558.0 453.7L561.0 452.9L564.0 452.1L567.0 451.2L570.0 450.2L573.0 449.3L576.0 448.3L579.0 447.2L582.0 446.2L585.0 445.1L588.0 444.0L591.0 442.9L594.0 441.8L597.0 440.6L600.0 439.5L603.0 438.3L606.0 437.1L609.0 436.0L612.0 434.8L615.0 433.7L618.0 432.6L621.0 431.5L624.0 430.4L627.0 429.4L630.0 428.4L633.0 427.5L636.0 426.6L639.0 425.7L642.0 425.0L645.0 424.2L648.0 423.6L651.0 423.0L654.0 422.5L656.7 415.0L655.0 415.2L652.0 415.7L649.0 416.2L646.0 416.8L643.0 417.5L640.0 418.3L637.0 419.1L634.0 420.0L631.0 420.9L628.0 421.9L625.0 422.9L622.0 423.9L619.0 425.0L616.0 426.1L613.0 427.2L610.0 428.4L607.0 429.5L604.0 430.6L601.0 431.8L598.0 432.9L595.0 434.1L592.0 435.2L589.0 436.3L586.0 437.4L583.0 438.5L580.0 439.6L577.0 440.6L574.0 441.6L571.0 442.6L568.0 443.5L565.0 444.4L562.0 445.3L559.0 446.1L556.0 446.9L553.0 447.7L550.0 448.6L547.0 449.5L544.0 450.2L541.0 451.0L538.0 451.7L535.0 452.5L532.0 453.2L529.0 453.8L526.0 454.3L523.0 454.8L520.0 455.2L517.0 455.6L514.0 455.9L511.0 456.2L508.0 456.5L505.0 456.8L502.0 456.9L499.0 456.9L496.0 457.0L493.0 457.0L490.0 457.0L487.0 457.0L484.0 457.0L481.0 457.0L478.0 456.9L475.0 456.9L472.0 456.9L469.0 456.8L466.0 456.6L463.0 456.4L460.0 456.3L457.0 456.1L454.0 455.9L451.0 455.8L448.0 455.6L445.0 455.3L442.0 455.1L439.0 454.9L436.0 454.7L433.0 454.4L430.0 454.2L427.0 453.8L424.0 453.4L421.0 453.1L418.0 452.7L415.0 452.3L412.0 451.9L409.0 451.6L406.0 451.2L403.0 450.8L400.0 450.4L397.0 450.1L394.0 449.7L391.0 449.3L388.0 448.8L385.0 448.3L382.0 447.8ZM382.0 447.8L385.0 448.3L388.0 448.8L391.0 449.3L394.0 449.7L397.0 450.1L400.0 450.4L403.0 450.8L406.0 451.2L409.0 451.6L412.0 451.9L415.0 452.3L418.0 452.7L421.0 453.1L424.0 453.4L427.0 453.8L430.0 454.2L433.0 454.4L436.0 454.7L439.0 454.9L442.0 455.1L445.0 455.3L448.0 455.6L451.0 455.8L454.0 455.9L457.0 456.1L460.0 456.3L463.0 456.4L466.0 456.6L469.0 456.8L472.0 456.9L475.0 456.9L478.0 456.9L481.0 457.0L484.0 457.0L487.0 457.0L490.0 457.0L493.0 457.0L496.0 457.0L499.0 456.9L502.0 456.9L505.0 456.8L508.0 456.5L511.0 456.2L514.0 455.9L517.0 455.6L520.0 455.2L523.0 454.8L526.0 454.3L529.0 453.8L532.0 453.2L535.0 452.5L538.0 451.7L541.0 451.0L544.0 450.2L547.0 449.5L550.0 448.6L553.0 447.7L556.0 446.9L559.0 446.1L562.0 445.3L565.0 444.4L568.0 443.5L571.0 442.6L574.0 441.6L577.0 440.6L580.0 439.6L583.0 438.5L586.0 437.4L589.0 436.3L592.0 435.2L595.0 434.1L598.0 432.9L601.0 431.8L604.0 430.6L607.0 429.5L610.0 428.4L613.0 427.2L616.0 426.1L619.0 425.0L622.0 423.9L625.0 422.9L628.0 421.9L631.0 420.9L634.0 420.0L637.0 419.1L640.0 418.3L643.0 417.5L646.0 416.8L649.0 416.2L652.0 415.7L655.0 415.2L656.7 415.0L659.0 407.8L656.0 408.2L653.0 408.6L650.0 409.1L647.0 409.7L644.0 410.4L641.0 411.1L638.0 411.9L635.0 412.8L632.0 413.6L629.0 414.6L626.0 415.6L623.0 416.6L620.0 417.6L617.0 418.7L614.0 419.8L611.0 420.9L608.0 422.0L605.0 423.2L602.0 424.3L599.0 425.5L596.0 426.6L593.0 427.7L590.0 428.8L587.0 429.9L584.0 431.0L581.0 432.0L578.0 433.1L575.0 434.1L572.0 435.0L569.0 436.0L566.0 436.9L563.0 437.7L560.0 438.6L557.0 439.3L554.0 440.1L551.0 441.0L548.0 441.9L545.0 442.6L542.0 443.4L539.0 444.1L536.0 444.9L533.0 445.6L530.0 446.3L527.0 446.8L524.0 447.2L521.0 447.7L518.0 448.1L515.0 448.4L512.0 448.8L509.0 449.1L506.0 449.3L503.0 449.5L500.0 449.5L497.0 449.6L494.0 449.6L491.0 449.6L488.0 449.7L485.0 449.6L482.0 449.6L479.0 449.6L476.0 449.6L473.0 449.6L470.0 449.5L467.0 449.4L464.0 449.2L461.0 449.0L458.0 448.8L455.0 448.7L452.0 448.5L449.0 448.3L446.0 448.1L443.0 447.9L440.0 447.6L437.0 447.4L434.0 447.2L431.0 447.0L428.0 446.6L425.0 446.3L422.0 445.9L419.0 445.5L416.0 445.1L413.0 444.8L410.0 444.4L407.0 444.0L404.0 443.6L401.0 443.3L398.0 442.9L395.0 442.5L392.0 442.1L389.0 441.7L386.0 441.2ZM386.0 441.2L389.0 441.7L392.0 442.1L395.0 442.5L398.0 442.9L401.0 443.3L404.0 443.6L407.0 444.0L410.0 444.4L413.0 444.8L416.0 445.1L419.0 445.5L422.0 445.9L425.0 446.3L428.0 446.6L431.0 447.0L434.0 447.2L437.0 447.4L440.0 447.6L443.0 447.9L446.0 448.1L449.0 448.3L452.0 448.5L455.0 448.7L458.0 448.8L461.0 449.0L464.0 449.2L467.0 449.4L470.0 449.5L473.0 449.6L476.0 449.6L479.0 449.6L482.0 449.6L485.0 449.6L488.0 449.7L491.0 449.6L494.0 449.6L497.0 449.6L500.0 449.5L503.0 449.5L506.0 449.3L509.0 449.1L512.0 448.8L515.0 448.4L518.0 448.1L521.0 447.7L524.0 447.2L527.0 446.8L530.0 446.3L533.0 445.6L536.0 444.9L539.0 444.1L542.0 443.4L545.0 442.6L548.0 441.9L551.0 441.0L554.0 440.1L557.0 439.3L560.0 438.6L563.0 437.7L566.0 436.9L569.0 436.0L572.0 435.0L575.0 434.1L578.0 433.1L581.0 432.0L584.0 431.0L587.0 429.9L590.0 428.8L593.0 427.7L596.0 426.6L599.0 425.5L602.0 424.3L605.0 423.2L608.0 422.0L611.0 420.9L614.0 419.8L617.0 418.7L620.0 417.6L623.0 416.6L626.0 415.6L629.0 414.6L632.0 413.6L635.0 412.8L638.0 411.9L641.0 411.1L644.0 410.4L647.0 409.7L650.0 409.1L653.0 408.6L656.0 408.2L659.0 407.8L660.0 401.1L657.0 401.4L654.0 401.8L651.0 402.3L648.0 402.9L645.0 403.5L642.0 404.2L639.0 404.9L636.0 405.8L633.0 406.6L630.0 407.5L627.0 408.5L624.0 409.5L621.0 410.5L618.0 411.5L615.0 412.6L612.0 413.7L609.0 414.8L606.0 415.9L603.0 417.0L600.0 418.1L597.0 419.2L594.0 420.3L591.0 421.4L588.0 422.5L585.0 423.6L582.0 424.6L579.0 425.6L576.0 426.6L573.0 427.6L570.0 428.5L567.0 429.4L564.0 430.2L561.0 431.1L558.0 431.8L555.0 432.6L552.0 433.5L549.0 434.3L546.0 435.1L543.0 435.8L540.0 436.5L537.0 437.3L534.0 438.0L531.0 438.7L528.0 439.3L525.0 439.7L522.0 440.2L519.0 440.6L516.0 441.0L513.0 441.3L510.0 441.6L507.0 441.9L504.0 442.1L501.0 442.2L498.0 442.2L495.0 442.3L492.0 442.3L489.0 442.3L486.0 442.3L483.0 442.3L480.0 442.3L477.0 442.3L474.0 442.2L471.0 442.2L468.0 442.1L465.0 441.9L462.0 441.8L459.0 441.6L456.0 441.4L453.0 441.3L450.0 441.1L447.0 440.9L444.0 440.6L441.0 440.4L438.0 440.2L435.0 440.0L432.0 439.8L429.0 439.5L426.0 439.1L423.0 438.7L420.0 438.4L417.0 438.0L414.0 437.6L411.0 437.2L408.0 436.9L405.0 436.5L402.0 436.1L399.0 435.7L396.0 435.4L393.0 435.0L390.0 434.6ZM390.0 434.6L393.0 435.0L396.0 435.4L399.0 435.7L402.0 436.1L405.0 436.5L408.0 436.9L411.0 437.2L414.0 437.6L417.0 438.0L420.0 438.4L423.0 438.7L426.0 439.1L429.0 439.5L432.0 439.8L435.0 440.0L438.0 440.2L441.0 440.4L444.0 440.6L447.0 440.9L450.0 441.1L453.0 441.3L456.0 441.4L459.0 441.6L462.0 441.8L465.0 441.9L468.0 442.1L471.0 442.2L474.0 442.2L477.0 442.3L480.0 442.3L483.0 442.3L486.0 442.3L489.0 442.3L492.0 442.3L495.0 442.3L498.0 442.2L501.0 442.2L504.0 442.1L507.0 441.9L510.0 441.6L513.0 441.3L516.0 441.0L519.0 440.6L522.0 440.2L525.0 439.7L528.0 439.3L531.0 438.7L534.0 438.0L537.0 437.3L540.0 436.5L543.0 435.8L546.0 435.1L549.0 434.3L552.0 433.5L555.0 432.6L558.0 431.8L561.0 431.1L564.0 430.2L567.0 429.4L570.0 428.5L573.0 427.6L576.0 426.6L579.0 425.6L582.0 424.6L585.0 423.6L588.0 422.5L591.0 421.4L594.0 420.3L597.0 419.2L600.0 418.1L603.0 417.0L606.0 415.9L609.0 414.8L612.0 413.7L615.0 412.6L618.0 411.5L621.0 410.5L624.0 409.5L627.0 408.5L630.0 407.5L633.0 406.6L636.0 405.8L639.0 404.9L642.0 404.2L645.0 403.5L648.0 402.9L651.0 402.3L654.0 401.8L657.0 401.4L660.0 401.1L663.5 394.5L661.0 394.6L658.0 394.9L655.0 395.3L652.0 395.7L649.0 396.2L646.0 396.8L643.0 397.5L640.0 398.2L637.0 399.0L634.0 399.8L631.0 400.6L628.0 401.6L625.0 402.5L622.0 403.5L619.0 404.5L616.0 405.5L613.0 406.6L610.0 407.7L607.0 408.7L604.0 409.8L601.0 410.9L598.0 412.0L595.0 413.1L592.0 414.1L589.0 415.2L586.0 416.2L583.0 417.3L580.0 418.2L577.0 419.2L574.0 420.2L571.0 421.1L568.0 422.0L565.0 422.8L562.0 423.6L559.0 424.4L556.0 425.1L553.0 425.9L550.0 426.8L547.0 427.6L544.0 428.3L541.0 429.0L538.0 429.7L535.0 430.5L532.0 431.2L529.0 431.8L526.0 432.3L523.0 432.7L520.0 433.1L517.0 433.5L514.0 433.8L511.0 434.2L508.0 434.4L505.0 434.7L502.0 434.8L499.0 434.9L496.0 434.9L493.0 434.9L490.0 435.0L487.0 435.0L484.0 435.0L481.0 435.0L478.0 434.9L475.0 434.9L472.0 434.9L469.0 434.8L466.0 434.7L463.0 434.5L460.0 434.3L457.0 434.2L454.0 434.0L451.0 433.9L448.0 433.7L445.0 433.4L442.0 433.2L439.0 433.0L436.0 432.8L433.0 432.5L430.0 432.3L427.0 431.9L424.0 431.6L421.0 431.2L418.0 430.8L415.0 430.4L412.0 430.1L409.0 429.7L406.0 429.3L403.0 428.9L400.0 428.6L397.0 428.2L394.0 427.8ZM394.0 427.8L397.0 428.2L400.0 428.6L403.0 428.9L406.0 429.3L409.0 429.7L412.0 430.1L415.0 430.4L418.0 430.8L421.0 431.2L424.0 431.6L427.0 431.9L430.0 432.3L433.0 432.5L436.0 432.8L439.0 433.0L442.0 433.2L445.0 433.4L448.0 433.7L451.0 433.9L454.0 434.0L457.0 434.2L460.0 434.3L463.0 434.5L466.0 434.7L469.0 434.8L472.0 434.9L475.0 434.9L478.0 434.9L481.0 435.0L484.0 435.0L487.0 435.0L490.0 435.0L493.0 434.9L496.0 434.9L499.0 434.9L502.0 434.8L505.0 434.7L508.0 434.4L511.0 434.2L514.0 433.8L517.0 433.5L520.0 433.1L523.0 432.7L526.0 432.3L529.0 431.8L532.0 431.2L535.0 430.5L538.0 429.7L541.0 429.0L544.0 428.3L547.0 427.6L550.0 426.8L553.0 425.9L556.0 425.1L559.0 424.4L562.0 423.6L565.0 422.8L568.0 422.0L571.0 421.1L574.0 420.2L577.0 419.2L580.0 418.2L583.0 417.3L586.0 416.2L589.0 415.2L592.0 414.1L595.0 413.1L598.0 412.0L601.0 410.9L604.0 409.8L607.0 408.7L610.0 407.7L613.0 406.6L616.0 405.5L619.0 404.5L622.0 403.5L625.0 402.5L628.0 401.6L631.0 400.6L634.0 399.8L637.0 399.0L640.0 398.2L643.0 397.5L646.0 396.8L649.0 396.2L652.0 395.7L655.0 395.3L658.0 394.9L661.0 394.6L663.5 394.5L665.0 388.2L662.0 388.3L659.0 388.6L656.0 388.9L653.0 389.3L650.0 389.8L647.0 390.3L644.0 390.9L641.0 391.6L638.0 392.3L635.0 393.1L632.0 393.9L629.0 394.8L626.0 395.7L623.0 396.6L620.0 397.6L617.0 398.6L614.0 399.6L611.0 400.7L608.0 401.7L605.0 402.8L602.0 403.8L599.0 404.9L596.0 405.9L593.0 406.9L590.0 408.0L587.0 409.0L584.0 410.0L581.0 411.0L578.0 411.9L575.0 412.8L572.0 413.7L569.0 414.6L566.0 415.4L563.0 416.2L560.0 417.0L557.0 417.7L554.0 418.4L551.0 419.3L548.0 420.1L545.0 420.8L542.0 421.5L539.0 422.2L536.0 422.9L533.0 423.6L530.0 424.3L527.0 424.8L524.0 425.2L521.0 425.6L518.0 426.0L515.0 426.4L512.0 426.7L509.0 427.0L506.0 427.3L503.0 427.4L500.0 427.5L497.0 427.6L494.0 427.6L491.0 427.6L488.0 427.6L485.0 427.6L482.0 427.6L479.0 427.6L476.0 427.6L473.0 427.6L470.0 427.6L467.0 427.4L464.0 427.2L461.0 427.1L458.0 426.9L455.0 426.8L452.0 426.6L449.0 426.4L446.0 426.2L443.0 426.0L440.0 425.8L437.0 425.5L434.0 425.3L431.0 425.1L428.0 424.8L425.0 424.4L422.0 424.0L419.0 423.6L416.0 423.2L413.0 422.9L410.0 422.5L407.0 422.1L404.0 421.8L401.0 421.4L398.0 421.0ZM398.0 421.0L401.0 421.4L404.0 421.8L407.0 422.1L410.0 422.5L413.0 422.9L416.0 423.2L419.0 423.6L422.0 424.0L425.0 424.4L428.0 424.8L431.0 425.1L434.0 425.3L437.0 425.5L440.0 425.8L443.0 426.0L446.0 426.2L449.0 426.4L452.0 426.6L455.0 426.8L458.0 426.9L461.0 427.1L464.0 427.2L467.0 427.4L470.0 427.6L473.0 427.6L476.0 427.6L479.0 427.6L482.0 427.6L485.0 427.6L488.0 427.6L491.0 427.6L494.0 427.6L497.0 427.6L500.0 427.5L503.0 427.4L506.0 427.3L509.0 427.0L512.0 426.7L515.0 426.4L518.0 426.0L521.0 425.6L524.0 425.2L527.0 424.8L530.0 424.3L533.0 423.6L536.0 422.9L539.0 422.2L542.0 421.5L545.0 420.8L548.0 420.1L551.0 419.3L554.0 418.4L557.0 417.7L560.0 417.0L563.0 416.2L566.0 415.4L569.0 414.6L572.0 413.7L575.0 412.8L578.0 411.9L581.0 411.0L584.0 410.0L587.0 409.0L590.0 408.0L593.0 406.9L596.0 405.9L599.0 404.9L602.0 403.8L605.0 402.8L608.0 401.7L611.0 400.7L614.0 399.6L617.0 398.6L620.0 397.6L623.0 396.6L626.0 395.7L629.0 394.8L632.0 393.9L635.0 393.1L638.0 392.3L641.0 391.6L644.0 390.9L647.0 390.3L650.0 389.8L653.0 389.3L656.0 388.9L659.0 388.6L662.0 388.3L665.0 388.2L668.2 382.0L666.0 382.0L663.0 382.1L660.0 382.3L657.0 382.6L654.0 383.0L651.0 383.4L648.0 383.9L645.0 384.5L642.0 385.1L639.0 385.8L636.0 386.5L633.0 387.3L630.0 388.1L627.0 389.0L624.0 389.9L621.0 390.8L618.0 391.8L615.0 392.8L612.0 393.8L609.0 394.8L606.0 395.8L603.0 396.8L600.0 397.8L597.0 398.8L594.0 399.8L591.0 400.8L588.0 401.8L585.0 402.8L582.0 403.7L579.0 404.7L576.0 405.6L573.0 406.4L570.0 407.3L567.0 408.1L564.0 408.9L561.0 409.6L558.0 410.3L555.0 411.0L552.0 411.8L549.0 412.6L546.0 413.3L543.0 414.0L540.0 414.7L537.0 415.4L534.0 416.1L531.0 416.8L528.0 417.3L525.0 417.8L522.0 418.2L519.0 418.6L516.0 418.9L513.0 419.3L510.0 419.6L507.0 419.8L504.0 420.0L501.0 420.1L498.0 420.2L495.0 420.2L492.0 420.3L489.0 420.3L486.0 420.3L483.0 420.3L480.0 420.3L477.0 420.3L474.0 420.3L471.0 420.2L468.0 420.1L465.0 420.0L462.0 419.8L459.0 419.7L456.0 419.5L453.0 419.4L450.0 419.2L447.0 419.0L444.0 418.8L441.0 418.5L438.0 418.3L435.0 418.1L432.0 417.9L429.0 417.6L426.0 417.2L423.0 416.8L420.0 416.5L417.0 416.1L414.0 415.7L411.0 415.3L408.0 415.0L405.0 414.6L402.0 414.2ZM402.0 414.2L405.0 414.6L408.0 415.0L411.0 415.3L414.0 415.7L417.0 416.1L420.0 416.5L423.0 416.8L426.0 417.2L429.0 417.6L432.0 417.9L435.0 418.1L438.0 418.3L441.0 418.5L444.0 418.8L447.0 419.0L450.0 419.2L453.0 419.4L456.0 419.5L459.0 419.7L462.0 419.8L465.0 420.0L468.0 420.1L471.0 420.2L474.0 420.3L477.0 420.3L480.0 420.3L483.0 420.3L486.0 420.3L489.0 420.3L492.0 420.3L495.0 420.2L498.0 420.2L501.0 420.1L504.0 420.0L507.0 419.8L510.0 419.6L513.0 419.3L516.0 418.9L519.0 418.6L522.0 418.2L525.0 417.8L528.0 417.3L531.0 416.8L534.0 416.1L537.0 415.4L540.0 414.7L543.0 414.0L546.0 413.3L549.0 412.6L552.0 411.8L555.0 411.0L558.0 410.3L561.0 409.6L564.0 408.9L567.0 408.1L570.0 407.3L573.0 406.4L576.0 405.6L579.0 404.7L582.0 403.7L585.0 402.8L588.0 401.8L591.0 400.8L594.0 399.8L597.0 398.8L600.0 397.8L603.0 396.8L606.0 395.8L609.0 394.8L612.0 393.8L615.0 392.8L618.0 391.8L621.0 390.8L624.0 389.9L627.0 389.0L630.0 388.1L633.0 387.3L636.0 386.5L639.0 385.8L642.0 385.1L645.0 384.5L648.0 383.9L651.0 383.4L654.0 383.0L657.0 382.6L660.0 382.3L663.0 382.1L666.0 382.0L668.2 382.0L670.0 376.0L667.0 376.0L664.0 376.0L661.0 376.2L658.0 376.5L655.0 376.8L652.0 377.2L649.0 377.6L646.0 378.2L643.0 378.7L640.0 379.4L637.0 380.1L634.0 380.8L631.0 381.6L628.0 382.4L625.0 383.3L622.0 384.1L619.0 385.1L616.0 386.0L613.0 386.9L610.0 387.9L607.0 388.9L604.0 389.8L601.0 390.8L598.0 391.8L595.0 392.8L592.0 393.7L589.0 394.7L586.0 395.6L583.0 396.5L580.0 397.4L577.0 398.3L574.0 399.2L571.0 400.0L568.0 400.8L565.0 401.5L562.0 402.3L559.0 403.0L556.0 403.6L553.0 404.4L550.0 405.1L547.0 405.9L544.0 406.5L541.0 407.2L538.0 407.9L535.0 408.6L532.0 409.2L529.0 409.8L526.0 410.3L523.0 410.7L520.0 411.1L517.0 411.5L514.0 411.8L511.0 412.1L508.0 412.4L505.0 412.7L502.0 412.8L499.0 412.8L496.0 412.9L493.0 412.9L490.0 412.9L487.0 412.9L484.0 413.0L481.0 412.9L478.0 412.9L475.0 412.9L472.0 412.9L469.0 412.9L466.0 412.7L463.0 412.6L460.0 412.4L457.0 412.3L454.0 412.1L451.0 412.0L448.0 411.8L445.0 411.5L442.0 411.3L439.0 411.1L436.0 410.9L433.0 410.6L430.0 410.4L427.0 410.0L424.0 409.6L421.0 409.3L418.0 408.9L415.0 408.5L412.0 408.1L409.0 407.8L406.0 407.4ZM406.0 407.4L409.0 407.8L412.0 408.1L415.0 408.5L418.0 408.9L421.0 409.3L424.0 409.6L427.0 410.0L430.0 410.4L433.0 410.6L436.0 410.9L439.0 411.1L442.0 411.3L445.0 411.5L448.0 411.8L451.0 412.0L454.0 412.1L457.0 412.3L460.0 412.4L463.0 412.6L466.0 412.7L469.0 412.9L472.0 412.9L475.0 412.9L478.0 412.9L481.0 412.9L484.0 413.0L487.0 412.9L490.0 412.9L493.0 412.9L496.0 412.9L499.0 412.8L502.0 412.8L505.0 412.7L508.0 412.4L511.0 412.1L514.0 411.8L517.0 411.5L520.0 411.1L523.0 410.7L526.0 410.3L529.0 409.8L532.0 409.2L535.0 408.6L538.0 407.9L541.0 407.2L544.0 406.5L547.0 405.9L550.0 405.1L553.0 404.4L556.0 403.6L559.0 403.0L562.0 402.3L565.0 401.5L568.0 400.8L571.0 400.0L574.0 399.2L577.0 398.3L580.0 397.4L583.0 396.5L586.0 395.6L589.0 394.7L592.0 393.7L595.0 392.8L598.0 391.8L601.0 390.8L604.0 389.8L607.0 388.9L610.0 387.9L613.0 386.9L616.0 386.0L619.0 385.1L622.0 384.1L625.0 383.3L628.0 382.4L631.0 381.6L634.0 380.8L637.0 380.1L640.0 379.4L643.0 378.7L646.0 378.2L649.0 377.6L652.0 377.2L655.0 376.8L658.0 376.5L661.0 376.2L664.0 376.0L667.0 376.0L670.0 376.0L672.9 370.0L671.0 370.0L668.0 369.9L665.0 370.0L662.0 370.1L659.0 370.3L656.0 370.6L653.0 371.0L650.0 371.4L647.0 371.9L644.0 372.4L641.0 373.0L638.0 373.6L635.0 374.3L632.0 375.1L629.0 375.8L626.0 376.7L623.0 377.5L620.0 378.4L617.0 379.2L614.0 380.2L611.0 381.1L608.0 382.0L605.0 382.9L602.0 383.9L599.0 384.8L596.0 385.8L593.0 386.7L590.0 387.6L587.0 388.5L584.0 389.4L581.0 390.3L578.0 391.1L575.0 391.9L572.0 392.7L569.0 393.5L566.0 394.2L563.0 395.0L560.0 395.6L557.0 396.3L554.0 396.9L551.0 397.7L548.0 398.4L545.0 399.1L542.0 399.7L539.0 400.4L536.0 401.1L533.0 401.7L530.0 402.3L527.0 402.8L524.0 403.2L521.0 403.7L518.0 404.0L515.0 404.4L512.0 404.7L509.0 405.0L506.0 405.2L503.0 405.4L500.0 405.5L497.0 405.5L494.0 405.6L491.0 405.6L488.0 405.6L485.0 405.6L482.0 405.6L479.0 405.6L476.0 405.6L473.0 405.6L470.0 405.6L467.0 405.4L464.0 405.3L461.0 405.1L458.0 405.0L455.0 404.8L452.0 404.7L449.0 404.5L446.0 404.3L443.0 404.1L440.0 403.9L437.0 403.6L434.0 403.4L431.0 403.2L428.0 402.9L425.0 402.5L422.0 402.1L419.0 401.7L416.0 401.4L413.0 401.0L410.0 400.6ZM410.0 400.6L413.0 401.0L416.0 401.4L419.0 401.7L422.0 402.1L425.0 402.5L428.0 402.9L431.0 403.2L434.0 403.4L437.0 403.6L440.0 403.9L443.0 404.1L446.0 404.3L449.0 404.5L452.0 404.7L455.0 404.8L458.0 405.0L461.0 405.1L464.0 405.3L467.0 405.4L470.0 405.6L473.0 405.6L476.0 405.6L479.0 405.6L482.0 405.6L485.0 405.6L488.0 405.6L491.0 405.6L494.0 405.6L497.0 405.5L500.0 405.5L503.0 405.4L506.0 405.2L509.0 405.0L512.0 404.7L515.0 404.4L518.0 404.0L521.0 403.7L524.0 403.2L527.0 402.8L530.0 402.3L533.0 401.7L536.0 401.1L539.0 400.4L542.0 399.7L545.0 399.1L548.0 398.4L551.0 397.7L554.0 396.9L557.0 396.3L560.0 395.6L563.0 395.0L566.0 394.2L569.0 393.5L572.0 392.7L575.0 391.9L578.0 391.1L581.0 390.3L584.0 389.4L587.0 388.5L590.0 387.6L593.0 386.7L596.0 385.8L599.0 384.8L602.0 383.9L605.0 382.9L608.0 382.0L611.0 381.1L614.0 380.2L617.0 379.2L620.0 378.4L623.0 377.5L626.0 376.7L629.0 375.8L632.0 375.1L635.0 374.3L638.0 373.6L641.0 373.0L644.0 372.4L647.0 371.9L650.0 371.4L653.0 371.0L656.0 370.6L659.0 370.3L662.0 370.1L665.0 370.0L668.0 369.9L671.0 370.0L672.9 370.0L675.0 364.0L672.0 363.9L669.0 363.9L666.0 363.9L663.0 364.0L660.0 364.2L657.0 364.4L654.0 364.7L651.0 365.1L648.0 365.6L645.0 366.1L642.0 366.6L639.0 367.2L636.0 367.9L633.0 368.6L630.0 369.3L627.0 370.1L624.0 370.8L621.0 371.7L618.0 372.5L615.0 373.4L612.0 374.3L609.0 375.2L606.0 376.0L603.0 377.0L600.0 377.9L597.0 378.8L594.0 379.6L591.0 380.5L588.0 381.4L585.0 382.3L582.0 383.1L579.0 383.9L576.0 384.7L573.0 385.5L570.0 386.2L567.0 387.0L564.0 387.6L561.0 388.3L558.0 388.9L555.0 389.5L552.0 390.3L549.0 391.0L546.0 391.6L543.0 392.3L540.0 392.9L537.0 393.6L534.0 394.2L531.0 394.8L528.0 395.3L525.0 395.8L522.0 396.2L519.0 396.6L516.0 396.9L513.0 397.2L510.0 397.5L507.0 397.8L504.0 398.0L501.0 398.1L498.0 398.1L495.0 398.2L492.0 398.2L489.0 398.3L486.0 398.3L483.0 398.3L480.0 398.3L477.0 398.3L474.0 398.3L471.0 398.3L468.0 398.2L465.0 398.0L462.0 397.9L459.0 397.7L456.0 397.6L453.0 397.4L450.0 397.3L447.0 397.1L444.0 396.8L441.0 396.6L438.0 396.4L435.0 396.2L432.0 395.9L429.0 395.7L426.0 395.3L423.0 394.9L420.0 394.6L417.0 394.2L414.0 393.8ZM414.0 393.8L417.0 394.2L420.0 394.6L423.0 394.9L426.0 395.3L429.0 395.7L432.0 395.9L435.0 396.2L438.0 396.4L441.0 396.6L444.0 396.8L447.0 397.1L450.0 397.3L453.0 397.4L456.0 397.6L459.0 397.7L462.0 397.9L465.0 398.0L468.0 398.2L471.0 398.3L474.0 398.3L477.0 398.3L480.0 398.3L483.0 398.3L486.0 398.3L489.0 398.3L492.0 398.2L495.0 398.2L498.0 398.1L501.0 398.1L504.0 398.0L507.0 397.8L510.0 397.5L513.0 397.2L516.0 396.9L519.0 396.6L522.0 396.2L525.0 395.8L528.0 395.3L531.0 394.8L534.0 394.2L537.0 393.6L540.0 392.9L543.0 392.3L546.0 391.6L549.0 391.0L552.0 390.3L555.0 389.5L558.0 388.9L561.0 388.3L564.0 387.6L567.0 387.0L570.0 386.2L573.0 385.5L576.0 384.7L579.0 383.9L582.0 383.1L585.0 382.3L588.0 381.4L591.0 380.5L594.0 379.6L597.0 378.8L600.0 377.9L603.0 377.0L606.0 376.0L609.0 375.2L612.0 374.3L615.0 373.4L618.0 372.5L621.0 371.7L624.0 370.8L627.0 370.1L630.0 369.3L633.0 368.6L636.0 367.9L639.0 367.2L642.0 366.6L645.0 366.1L648.0 365.6L651.0 365.1L654.0 364.7L657.0 364.4L660.0 364.2L663.0 364.0L666.0 363.9L669.0 363.9L672.0 363.9L675.0 364.0L678.0 357.9L676.0 357.9L673.0 357.8L670.0 357.8L667.0 357.8L664.0 357.9L661.0 358.0L658.0 358.2L655.0 358.5L652.0 358.8L649.0 359.2L646.0 359.7L643.0 360.2L640.0 360.7L637.0 361.4L634.0 362.0L631.0 362.7L628.0 363.4L625.0 364.2L622.0 365.0L619.0 365.8L616.0 366.6L613.0 367.4L610.0 368.3L607.0 369.1L604.0 370.0L601.0 370.9L598.0 371.7L595.0 372.6L592.0 373.4L589.0 374.3L586.0 375.1L583.0 375.9L580.0 376.7L577.0 377.5L574.0 378.2L571.0 379.0L568.0 379.7L565.0 380.3L562.0 381.0L559.0 381.6L556.0 382.2L553.0 382.8L550.0 383.5L547.0 384.2L544.0 384.8L541.0 385.4L538.0 386.0L535.0 386.7L532.0 387.3L529.0 387.9L526.0 388.3L523.0 388.7L520.0 389.1L517.0 389.5L514.0 389.8L511.0 390.1L508.0 390.4L505.0 390.6L502.0 390.7L499.0 390.8L496.0 390.8L493.0 390.9L490.0 390.9L487.0 390.9L484.0 390.9L481.0 390.9L478.0 390.9L475.0 390.9L472.0 390.9L469.0 390.9L466.0 390.8L463.0 390.6L460.0 390.5L457.0 390.3L454.0 390.2L451.0 390.0L448.0 389.9L445.0 389.6L442.0 389.4L439.0 389.2L436.0 389.0L433.0 388.7L430.0 388.5L427.0 388.1L424.0 387.8L421.0 387.4L418.0 387.0ZM418.0 387.0L421.0 387.4L424.0 387.8L427.0 388.1L430.0 388.5L433.0 388.7L436.0 389.0L439.0 389.2L442.0 389.4L445.0 389.6L448.0 389.9L451.0 390.0L454.0 390.2L457.0 390.3L460.0 390.5L463.0 390.6L466.0 390.8L469.0 390.9L472.0 390.9L475.0 390.9L478.0 390.9L481.0 390.9L484.0 390.9L487.0 390.9L490.0 390.9L493.0 390.9L496.0 390.8L499.0 390.8L502.0 390.7L505.0 390.6L508.0 390.4L511.0 390.1L514.0 389.8L517.0 389.5L520.0 389.1L523.0 388.7L526.0 388.3L529.0 387.9L532.0 387.3L535.0 386.7L538.0 386.0L541.0 385.4L544.0 384.8L547.0 384.2L550.0 383.5L553.0 382.8L556.0 382.2L559.0 381.6L562.0 381.0L565.0 380.3L568.0 379.7L571.0 379.0L574.0 378.2L577.0 377.5L580.0 376.7L583.0 375.9L586.0 375.1L589.0 374.3L592.0 373.4L595.0 372.6L598.0 371.7L601.0 370.9L604.0 370.0L607.0 369.1L610.0 368.3L613.0 367.4L616.0 366.6L619.0 365.8L622.0 365.0L625.0 364.2L628.0 363.4L631.0 362.7L634.0 362.0L637.0 361.4L640.0 360.7L643.0 360.2L646.0 359.7L649.0 359.2L652.0 358.8L655.0 358.5L658.0 358.2L661.0 358.0L664.0 357.9L667.0 357.8L670.0 357.8L673.0 357.8L676.0 357.9L678.0 357.9L680.0 351.7L677.0 351.7L674.0 351.6L671.0 351.6L668.0 351.6L665.0 351.6L662.0 351.7L659.0 351.9L656.0 352.1L653.0 352.4L650.0 352.8L647.0 353.2L644.0 353.7L641.0 354.2L638.0 354.8L635.0 355.4L632.0 356.0L629.0 356.7L626.0 357.4L623.0 358.2L620.0 358.9L617.0 359.7L614.0 360.5L611.0 361.4L608.0 362.2L605.0 363.0L602.0 363.8L599.0 364.7L596.0 365.5L593.0 366.3L590.0 367.1L587.0 367.9L584.0 368.7L581.0 369.5L578.0 370.2L575.0 371.0L572.0 371.7L569.0 372.4L566.0 373.0L563.0 373.6L560.0 374.2L557.0 374.8L554.0 375.4L551.0 376.1L548.0 376.7L545.0 377.3L542.0 377.9L539.0 378.5L536.0 379.2L533.0 379.8L530.0 380.4L527.0 380.8L524.0 381.3L521.0 381.6L518.0 382.0L515.0 382.3L512.0 382.6L509.0 382.9L506.0 383.2L503.0 383.3L500.0 383.4L497.0 383.5L494.0 383.5L491.0 383.6L488.0 383.6L485.0 383.6L482.0 383.6L479.0 383.6L476.0 383.6L473.0 383.6L470.0 383.6L467.0 383.5L464.0 383.3L461.0 383.2L458.0 383.1L455.0 382.9L452.0 382.8L449.0 382.6L446.0 382.4L443.0 382.2L440.0 382.0L437.0 381.7L434.0 381.5L431.0 381.3L428.0 381.0L425.0 380.6L422.0 380.2ZM422.0 380.2L425.0 380.6L428.0 381.0L431.0 381.3L434.0 381.5L437.0 381.7L440.0 382.0L443.0 382.2L446.0 382.4L449.0 382.6L452.0 382.8L455.0 382.9L458.0 383.1L461.0 383.2L464.0 383.3L467.0 383.5L470.0 383.6L473.0 383.6L476.0 383.6L479.0 383.6L482.0 383.6L485.0 383.6L488.0 383.6L491.0 383.6L494.0 383.5L497.0 383.5L500.0 383.4L503.0 383.3L506.0 383.2L509.0 382.9L512.0 382.6L515.0 382.3L518.0 382.0L521.0 381.6L524.0 381.3L527.0 380.8L530.0 380.4L533.0 379.8L536.0 379.2L539.0 378.5L542.0 377.9L545.0 377.3L548.0 376.7L551.0 376.1L554.0 375.4L557.0 374.8L560.0 374.2L563.0 373.6L566.0 373.0L569.0 372.4L572.0 371.7L575.0 371.0L578.0 370.2L581.0 369.5L584.0 368.7L587.0 367.9L590.0 367.1L593.0 366.3L596.0 365.5L599.0 364.7L602.0 363.8L605.0 363.0L608.0 362.2L611.0 361.4L614.0 360.5L617.0 359.7L620.0 358.9L623.0 358.2L626.0 357.4L629.0 356.7L632.0 356.0L635.0 355.4L638.0 354.8L641.0 354.2L644.0 353.7L647.0 353.2L650.0 352.8L653.0 352.4L656.0 352.1L659.0 351.9L662.0 351.7L665.0 351.6L668.0 351.6L671.0 351.6L674.0 351.6L677.0 351.7L680.0 351.7L684.0 345.4L681.0 345.4L678.0 345.3L675.0 345.3L672.0 345.2L669.0 345.2L666.0 345.2L663.0 345.3L660.0 345.4L657.0 345.6L654.0 345.9L651.0 346.2L648.0 346.6L645.0 347.0L642.0 347.5L639.0 348.1L636.0 348.6L633.0 349.3L630.0 349.9L627.0 350.6L624.0 351.3L621.0 352.0L618.0 352.8L615.0 353.6L612.0 354.3L609.0 355.1L606.0 355.9L603.0 356.7L600.0 357.6L597.0 358.4L594.0 359.2L591.0 359.9L588.0 360.7L585.0 361.5L582.0 362.2L579.0 363.0L576.0 363.7L573.0 364.4L570.0 365.0L567.0 365.7L564.0 366.3L561.0 366.9L558.0 367.4L555.0 367.9L552.0 368.6L549.0 369.3L546.0 369.9L543.0 370.4L540.0 371.0L537.0 371.7L534.0 372.3L531.0 372.9L528.0 373.4L525.0 373.8L522.0 374.2L519.0 374.5L516.0 374.9L513.0 375.2L510.0 375.5L507.0 375.8L504.0 376.0L501.0 376.0L498.0 376.1L495.0 376.2L492.0 376.2L489.0 376.2L486.0 376.3L483.0 376.3L480.0 376.3L477.0 376.3L474.0 376.3L471.0 376.3L468.0 376.2L465.0 376.1L462.0 375.9L459.0 375.8L456.0 375.7L453.0 375.5L450.0 375.4L447.0 375.2L444.0 374.9L441.0 374.7L438.0 374.5L435.0 374.3L432.0 374.0L429.0 373.8L426.0 373.4ZM426.0 373.4L429.0 373.8L432.0 374.0L435.0 374.3L438.0 374.5L441.0 374.7L444.0 374.9L447.0 375.2L450.0 375.4L453.0 375.5L456.0 375.7L459.0 375.8L462.0 375.9L465.0 376.1L468.0 376.2L471.0 376.3L474.0 376.3L477.0 376.3L480.0 376.3L483.0 376.3L486.0 376.3L489.0 376.2L492.0 376.2L495.0 376.2L498.0 376.1L501.0 376.0L504.0 376.0L507.0 375.8L510.0 375.5L513.0 375.2L516.0 374.9L519.0 374.5L522.0 374.2L525.0 373.8L528.0 373.4L531.0 372.9L534.0 372.3L537.0 371.7L540.0 371.0L543.0 370.4L546.0 369.9L549.0 369.3L552.0 368.6L555.0 367.9L558.0 367.4L561.0 366.9L564.0 366.3L567.0 365.7L570.0 365.0L573.0 364.4L576.0 363.7L579.0 363.0L582.0 362.2L585.0 361.5L588.0 360.7L591.0 359.9L594.0 359.2L597.0 358.4L600.0 357.6L603.0 356.7L606.0 355.9L609.0 355.1L612.0 354.3L615.0 353.6L618.0 352.8L621.0 352.0L624.0 351.3L627.0 350.6L630.0 349.9L633.0 349.3L636.0 348.6L639.0 348.1L642.0 347.5L645.0 347.0L648.0 346.6L651.0 346.2L654.0 345.9L657.0 345.6L660.0 345.4L663.0 345.3L666.0 345.2L669.0 345.2L672.0 345.2L675.0 345.3L678.0 345.3L681.0 345.4L684.0 345.4L687.3 338.9L685.0 338.9L682.0 338.8L679.0 338.8L676.0 338.7L673.0 338.7L670.0 338.6L667.0 338.6L664.0 338.6L661.0 338.7L658.0 338.9L655.0 339.2L652.0 339.5L649.0 339.8L646.0 340.2L643.0 340.7L640.0 341.2L637.0 341.7L634.0 342.3L631.0 342.9L628.0 343.6L625.0 344.3L622.0 345.0L619.0 345.7L616.0 346.5L613.0 347.2L610.0 348.0L607.0 348.8L604.0 349.5L601.0 350.3L598.0 351.1L595.0 351.9L592.0 352.7L589.0 353.4L586.0 354.2L583.0 354.9L580.0 355.6L577.0 356.3L574.0 357.0L571.0 357.6L568.0 358.3L565.0 358.9L562.0 359.4L559.0 360.0L556.0 360.5L553.0 361.1L550.0 361.8L547.0 362.4L544.0 362.9L541.0 363.5L538.0 364.1L535.0 364.7L532.0 365.3L529.0 365.9L526.0 366.3L523.0 366.7L520.0 367.1L517.0 367.4L514.0 367.7L511.0 368.0L508.0 368.3L505.0 368.6L502.0 368.7L499.0 368.7L496.0 368.8L493.0 368.8L490.0 368.9L487.0 368.9L484.0 368.9L481.0 368.9L478.0 369.0L475.0 369.0L472.0 369.0L469.0 368.9L466.0 368.8L463.0 368.7L460.0 368.5L457.0 368.4L454.0 368.3L451.0 368.1L448.0 368.0L445.0 367.7L442.0 367.5L439.0 367.3L436.0 367.1L433.0 366.8L430.0 366.6ZM430.0 366.6L433.0 366.8L436.0 367.1L439.0 367.3L442.0 367.5L445.0 367.7L448.0 368.0L451.0 368.1L454.0 368.3L457.0 368.4L460.0 368.5L463.0 368.7L466.0 368.8L469.0 368.9L472.0 369.0L475.0 369.0L478.0 369.0L481.0 368.9L484.0 368.9L487.0 368.9L490.0 368.9L493.0 368.8L496.0 368.8L499.0 368.7L502.0 368.7L505.0 368.6L508.0 368.3L511.0 368.0L514.0 367.7L517.0 367.4L520.0 367.1L523.0 366.7L526.0 366.3L529.0 365.9L532.0 365.3L535.0 364.7L538.0 364.1L541.0 363.5L544.0 362.9L547.0 362.4L550.0 361.8L553.0 361.1L556.0 360.5L559.0 360.0L562.0 359.4L565.0 358.9L568.0 358.3L571.0 357.6L574.0 357.0L577.0 356.3L580.0 355.6L583.0 354.9L586.0 354.2L589.0 353.4L592.0 352.7L595.0 351.9L598.0 351.1L601.0 350.3L604.0 349.5L607.0 348.8L610.0 348.0L613.0 347.2L616.0 346.5L619.0 345.7L622.0 345.0L625.0 344.3L628.0 343.6L631.0 342.9L634.0 342.3L637.0 341.7L640.0 341.2L643.0 340.7L646.0 340.2L649.0 339.8L652.0 339.5L655.0 339.2L658.0 338.9L661.0 338.7L664.0 338.6L667.0 338.6L670.0 338.6L673.0 338.7L676.0 338.7L679.0 338.8L682.0 338.8L685.0 338.9L687.3 338.9L689.0 332.1L686.0 332.1L683.0 332.0L680.0 331.9L677.0 331.9L674.0 331.8L671.0 331.8L668.0 331.7L665.0 331.7L662.0 331.8L659.0 332.0L656.0 332.2L653.0 332.5L650.0 332.8L647.0 333.2L644.0 333.6L641.0 334.1L638.0 334.6L635.0 335.2L632.0 335.8L629.0 336.4L626.0 337.1L623.0 337.8L620.0 338.5L617.0 339.2L614.0 339.9L611.0 340.7L608.0 341.4L605.0 342.2L602.0 343.0L599.0 343.7L596.0 344.5L593.0 345.3L590.0 346.0L587.0 346.7L584.0 347.5L581.0 348.2L578.0 348.9L575.0 349.5L572.0 350.2L569.0 350.8L566.0 351.4L563.0 352.0L560.0 352.5L557.0 353.0L554.0 353.6L551.0 354.2L548.0 354.8L545.0 355.4L542.0 356.0L539.0 356.5L536.0 357.2L533.0 357.8L530.0 358.4L527.0 358.8L524.0 359.2L521.0 359.6L518.0 359.9L515.0 360.3L512.0 360.6L509.0 360.9L506.0 361.1L503.0 361.3L500.0 361.4L497.0 361.4L494.0 361.5L491.0 361.5L488.0 361.6L485.0 361.6L482.0 361.6L479.0 361.6L476.0 361.6L473.0 361.6L470.0 361.7L467.0 361.5L464.0 361.4L461.0 361.3L458.0 361.1L455.0 361.0L452.0 360.9L449.0 360.7L446.0 360.5L443.0 360.3L440.0 360.1L437.0 359.8L434.0 359.6ZM434.0 359.6L437.0 359.8L440.0 360.1L443.0 360.3L446.0 360.5L449.0 360.7L452.0 360.9L455.0 361.0L458.0 361.1L461.0 361.3L464.0 361.4L467.0 361.5L470.0 361.7L473.0 361.6L476.0 361.6L479.0 361.6L482.0 361.6L485.0 361.6L488.0 361.6L491.0 361.5L494.0 361.5L497.0 361.4L500.0 361.4L503.0 361.3L506.0 361.1L509.0 360.9L512.0 360.6L515.0 360.3L518.0 359.9L521.0 359.6L524.0 359.2L527.0 358.8L530.0 358.4L533.0 357.8L536.0 357.2L539.0 356.5L542.0 356.0L545.0 355.4L548.0 354.8L551.0 354.2L554.0 353.6L557.0 353.0L560.0 352.5L563.0 352.0L566.0 351.4L569.0 350.8L572.0 350.2L575.0 349.5L578.0 348.9L581.0 348.2L584.0 347.5L587.0 346.7L590.0 346.0L593.0 345.3L596.0 344.5L599.0 343.7L602.0 343.0L605.0 342.2L608.0 341.4L611.0 340.7L614.0 339.9L617.0 339.2L620.0 338.5L623.0 337.8L626.0 337.1L629.0 336.4L632.0 335.8L635.0 335.2L638.0 334.6L641.0 334.1L644.0 333.6L647.0 333.2L650.0 332.8L653.0 332.5L656.0 332.2L659.0 332.0L662.0 331.8L665.0 331.7L668.0 331.7L671.0 331.8L674.0 331.8L677.0 331.9L680.0 331.9L683.0 332.0L686.0 332.1L689.0 332.1L690.0 325.0L687.0 324.9L684.0 324.9L681.0 324.8L678.0 324.8L675.0 324.7L672.0 324.6L669.0 324.6L666.0 324.6L663.0 324.6L660.0 324.8L657.0 325.0L654.0 325.2L651.0 325.5L648.0 325.9L645.0 326.3L642.0 326.8L639.0 327.3L636.0 327.8L633.0 328.4L630.0 329.0L627.0 329.6L624.0 330.3L621.0 331.0L618.0 331.7L615.0 332.4L612.0 333.2L609.0 333.9L606.0 334.7L603.0 335.5L600.0 336.2L597.0 337.0L594.0 337.7L591.0 338.5L588.0 339.2L585.0 339.9L582.0 340.6L579.0 341.3L576.0 342.0L573.0 342.6L570.0 343.3L567.0 343.9L564.0 344.5L561.0 345.0L558.0 345.5L555.0 346.0L552.0 346.7L549.0 347.3L546.0 347.9L543.0 348.4L540.0 348.9L537.0 349.6L534.0 350.2L531.0 350.8L528.0 351.3L525.0 351.7L522.0 352.1L519.0 352.5L516.0 352.8L513.0 353.1L510.0 353.4L507.0 353.7L504.0 353.9L501.0 354.0L498.0 354.1L495.0 354.1L492.0 354.2L489.0 354.2L486.0 354.2L483.0 354.3L480.0 354.3L477.0 354.3L474.0 354.3L471.0 354.3L468.0 354.2L465.0 354.1L462.0 354.0L459.0 353.9L456.0 353.8L453.0 353.6L450.0 353.5L447.0 353.3L444.0 353.0L441.0 352.8L438.0 352.6ZM626.0 505.0L628.1 497.5L630.4 488.9L633.0 480.0L636.1 470.3L639.6 460.3L643.0 452.0L646.3 446.9L649.5 443.5L652.6 440.0L655.4 435.8L658.1 431.5L661.0 427.0L664.3 422.1L667.9 417.1L671.4 412.4L674.9 408.3L678.4 404.5L681.9 400.8L685.4 397.2L688.9 393.8L692.4 390.4L695.9 386.9L699.3 383.5L702.8 379.9L705.6 376.8L708.4 373.7L713.3 368.4L721.7 359.9L732.1 349.2L742.8 338.0L753.8 325.9L764.9 313.2L774.2 302.0L780.4 293.4L784.6 286.3L788.3 280.0L791.6 274.7L794.2 270.2L797.0 265.0L800.2 258.9L803.5 252.0L807.0 244.0L811.0 234.3L815.2 223.3L819.0 212.0L822.3 200.5L825.2 188.7L827.4 177.0L827.2 178.0L826.6 181.0L826.0 184.0L825.3 187.0L824.6 190.0L823.8 193.0L823.0 196.0L822.1 199.0L821.3 202.0L820.4 205.0L819.4 208.0L818.5 211.0L817.4 214.0L816.4 217.0L815.3 220.0L814.2 223.0L813.0 226.0L811.8 229.0L810.5 232.0L809.3 235.0L808.0 238.0L806.7 241.0L805.3 244.0L804.0 247.0L802.6 250.0L801.1 253.0L799.6 256.0L798.1 259.0L796.5 262.0L794.8 265.0L793.1 268.0L791.3 271.0L789.5 274.0L787.6 277.0L785.7 280.0L783.9 283.0L782.1 286.0L780.3 289.0L778.5 292.0L776.5 295.0L774.4 298.0L772.2 301.0L769.9 304.0L767.5 307.0L765.1 310.0L762.6 313.0L760.0 316.0L757.5 319.0L754.9 322.0L752.3 325.0L749.7 328.0L747.1 331.0L744.4 334.0L741.7 337.0L739.0 340.0L736.3 343.0L733.4 346.0L730.6 349.0L727.7 352.0L724.8 355.0L721.9 358.0L719.0 361.0L716.1 364.0L713.2 367.0L710.4 370.0L707.7 373.0L705.1 376.0L702.4 379.0L699.6 382.0L696.7 385.0L693.8 388.0L690.8 391.0L687.8 394.0L684.8 397.0L681.9 400.0L679.1 403.0L676.3 406.0L673.7 409.0L671.2 412.0L668.9 415.0L666.8 418.0L664.7 421.0L662.7 424.0L660.7 427.0L658.8 430.0L656.9 433.0L655.1 436.0L653.1 439.0L650.8 442.0L647.9 445.0L645.4 448.0L643.6 451.0L642.2 454.0L640.9 457.0L639.7 460.0L638.6 463.0L637.5 466.0L636.5 469.0L635.5 472.0L634.5 475.0L633.5 478.0L632.6 481.0L631.6 484.0L630.8 487.0L630.0 490.0L629.2 493.0L628.4 496.0L627.6 499.0L626.8 502.0L625.9 505.0ZM625.9 505.0L626.8 502.0L627.6 499.0L628.4 496.0L629.2 493.0L630.0 490.0L630.8 487.0L631.6 484.0L632.6 481.0L633.5 478.0L634.5 475.0L635.5 472.0L636.5 469.0L637.5 466.0L638.6 463.0L639.7 460.0L640.9 457.0L642.2 454.0L643.6 451.0L645.4 448.0L647.9 445.0L650.8 442.0L653.1 439.0L655.1 436.0L656.9 433.0L658.8 430.0L660.7 427.0L662.7 424.0L664.7 421.0L666.8 418.0L668.9 415.0L671.2 412.0L673.7 409.0L676.3 406.0L679.1 403.0L681.9 400.0L684.8 397.0L687.8 394.0L690.8 391.0L693.8 388.0L696.7 385.0L699.6 382.0L702.4 379.0L705.1 376.0L707.7 373.0L710.4 370.0L713.2 367.0L716.1 364.0L719.0 361.0L721.9 358.0L724.8 355.0L727.7 352.0L730.6 349.0L733.4 346.0L736.3 343.0L739.0 340.0L741.7 337.0L744.4 334.0L747.1 331.0L749.7 328.0L752.3 325.0L754.9 322.0L757.5 319.0L760.0 316.0L762.6 313.0L765.1 310.0L767.5 307.0L769.9 304.0L772.2 301.0L774.4 298.0L776.5 295.0L778.5 292.0L780.3 289.0L782.1 286.0L783.9 283.0L785.7 280.0L787.6 277.0L789.5 274.0L791.3 271.0L793.1 268.0L794.8 265.0L796.5 262.0L798.1 259.0L799.6 256.0L801.1 253.0L802.6 250.0L804.0 247.0L805.3 244.0L806.7 241.0L808.0 238.0L809.3 235.0L810.5 232.0L811.8 229.0L813.0 226.0L814.2 223.0L815.3 220.0L816.4 217.0L817.4 214.0L818.5 211.0L819.4 208.0L820.4 205.0L821.3 202.0L822.1 199.0L823.0 196.0L823.8 193.0L824.6 190.0L825.3 187.0L826.0 184.0L826.6 181.0L827.2 178.0L827.2 178.0L826.5 181.0L825.8 184.0L825.0 187.0L824.2 190.0L823.4 193.0L822.5 196.0L821.6 199.0L820.6 202.0L819.7 205.0L818.7 208.0L817.6 211.0L816.5 214.0L815.4 217.0L814.2 220.0L813.0 223.0L811.8 226.0L810.5 229.0L809.2 232.0L807.8 235.0L806.5 238.0L805.1 241.0L803.7 244.0L802.3 247.0L800.8 250.0L799.3 253.0L797.7 256.0L796.0 259.0L794.3 262.0L792.6 265.0L790.8 268.0L788.9 271.0L787.0 274.0L785.0 277.0L783.0 280.0L781.2 283.0L779.4 286.0L777.6 289.0L775.7 292.0L773.7 295.0L771.6 298.0L769.5 301.0L767.2 304.0L764.9 307.0L762.5 310.0L760.1 313.0L757.6 316.0L755.1 319.0L752.6 322.0L750.1 325.0L747.5 328.0L744.9 331.0L742.3 334.0L739.7 337.0L737.1 340.0L734.4 343.0L731.6 346.0L728.8 349.0L726.0 352.0L723.1 355.0L720.3 358.0L717.4 361.0L714.6 364.0L711.8 367.0L709.0 370.0L706.3 373.0L703.8 376.0L701.2 379.0L698.5 382.0L695.6 385.0L692.8 388.0L689.9 391.0L686.9 394.0L684.0 397.0L681.2 400.0L678.4 403.0L675.7 406.0L673.1 409.0L670.7 412.0L668.5 415.0L666.4 418.0L664.4 421.0L662.4 424.0L660.4 427.0L658.5 430.0L656.7 433.0L654.9 436.0L652.9 439.0L650.7 442.0L647.8 445.0L645.4 448.0L643.6 451.0L642.2 454.0L641.0 457.0L639.8 460.0L638.6 463.0L637.5 466.0L636.4 469.0L635.4 472.0L634.3 475.0L633.4 478.0L632.4 481.0L631.5 484.0L630.7 487.0L629.8 490.0L629.0 493.0L628.3 496.0L627.5 499.0L626.6 502.0L625.7 505.0ZM625.7 505.0L626.6 502.0L627.5 499.0L628.3 496.0L629.0 493.0L629.8 490.0L630.7 487.0L631.5 484.0L632.4 481.0L633.4 478.0L634.3 475.0L635.4 472.0L636.4 469.0L637.5 466.0L638.6 463.0L639.8 460.0L641.0 457.0L642.2 454.0L643.6 451.0L645.4 448.0L647.8 445.0L650.7 442.0L652.9 439.0L654.9 436.0L656.7 433.0L658.5 430.0L660.4 427.0L662.4 424.0L664.4 421.0L666.4 418.0L668.5 415.0L670.7 412.0L673.1 409.0L675.7 406.0L678.4 403.0L681.2 400.0L684.0 397.0L686.9 394.0L689.9 391.0L692.8 388.0L695.6 385.0L698.5 382.0L701.2 379.0L703.8 376.0L706.3 373.0L709.0 370.0L711.8 367.0L714.6 364.0L717.4 361.0L720.3 358.0L723.1 355.0L726.0 352.0L728.8 349.0L731.6 346.0L734.4 343.0L737.1 340.0L739.7 337.0L742.3 334.0L744.9 331.0L747.5 328.0L750.1 325.0L752.6 322.0L755.1 319.0L757.6 316.0L760.1 313.0L762.5 310.0L764.9 307.0L767.2 304.0L769.5 301.0L771.6 298.0L773.7 295.0L775.7 292.0L777.6 289.0L779.4 286.0L781.2 283.0L783.0 280.0L785.0 277.0L787.0 274.0L788.9 271.0L790.8 268.0L792.6 265.0L794.3 262.0L796.0 259.0L797.7 256.0L799.3 253.0L800.8 250.0L802.3 247.0L803.7 244.0L805.1 241.0L806.5 238.0L807.8 235.0L809.2 232.0L810.5 229.0L811.8 226.0L813.0 223.0L814.2 220.0L815.4 217.0L816.5 214.0L817.6 211.0L818.7 208.0L819.7 205.0L820.6 202.0L821.6 199.0L822.5 196.0L823.4 193.0L824.2 190.0L825.0 187.0L825.8 184.0L826.5 181.0L827.2 178.0L827.2 178.0L826.4 181.0L825.6 184.0L824.8 187.0L823.9 190.0L823.0 193.0L822.0 196.0L821.0 199.0L820.0 202.0L819.0 205.0L817.9 208.0L816.8 211.0L815.6 214.0L814.4 217.0L813.2 220.0L811.9 223.0L810.5 226.0L809.2 229.0L807.8 232.0L806.4 235.0L804.9 238.0L803.5 241.0L802.0 244.0L800.5 247.0L799.0 250.0L797.4 253.0L795.7 256.0L794.0 259.0L792.2 262.0L790.3 265.0L788.4 268.0L786.5 271.0L784.4 274.0L782.4 277.0L780.4 280.0L778.5 283.0L776.7 286.0L774.8 289.0L772.9 292.0L770.9 295.0L768.8 298.0L766.7 301.0L764.5 304.0L762.2 307.0L759.9 310.0L757.5 313.0L755.1 316.0L752.7 319.0L750.3 322.0L747.8 325.0L745.3 328.0L742.8 331.0L740.3 334.0L737.7 337.0L735.1 340.0L732.5 343.0L729.8 346.0L727.1 349.0L724.3 352.0L721.4 355.0L718.6 358.0L715.8 361.0L713.0 364.0L710.3 367.0L707.6 370.0L705.0 373.0L702.5 376.0L700.0 379.0L697.3 382.0L694.5 385.0L691.7 388.0L688.9 391.0L686.0 394.0L683.2 397.0L680.4 400.0L677.7 403.0L675.1 406.0L672.6 409.0L670.2 412.0L668.0 415.0L666.0 418.0L664.0 421.0L662.0 424.0L660.1 427.0L658.2 430.0L656.4 433.0L654.7 436.0L652.8 439.0L650.6 442.0L647.8 445.0L645.4 448.0L643.7 451.0L642.3 454.0L641.0 457.0L639.8 460.0L638.6 463.0L637.5 466.0L636.4 469.0L635.2 472.0L634.2 475.0L633.2 478.0L632.3 481.0L631.4 484.0L630.5 487.0L629.7 490.0L628.9 493.0L628.1 496.0L627.3 499.0L626.5 502.0L625.6 505.0ZM625.6 505.0L626.5 502.0L627.3 499.0L628.1 496.0L628.9 493.0L629.7 490.0L630.5 487.0L631.4 484.0L632.3 481.0L633.2 478.0L634.2 475.0L635.2 472.0L636.4 469.0L637.5 466.0L638.6 463.0L639.8 460.0L641.0 457.0L642.3 454.0L643.7 451.0L645.4 448.0L647.8 445.0L650.6 442.0L652.8 439.0L654.7 436.0L656.4 433.0L658.2 430.0L660.1 427.0L662.0 424.0L664.0 421.0L666.0 418.0L668.0 415.0L670.2 412.0L672.6 409.0L675.1 406.0L677.7 403.0L680.4 400.0L683.2 397.0L686.0 394.0L688.9 391.0L691.7 388.0L694.5 385.0L697.3 382.0L700.0 379.0L702.5 376.0L705.0 373.0L707.6 370.0L710.3 367.0L713.0 364.0L715.8 361.0L718.6 358.0L721.4 355.0L724.3 352.0L727.1 349.0L729.8 346.0L732.5 343.0L735.1 340.0L737.7 337.0L740.3 334.0L742.8 331.0L745.3 328.0L747.8 325.0L750.3 322.0L752.7 319.0L755.1 316.0L757.5 313.0L759.9 310.0L762.2 307.0L764.5 304.0L766.7 301.0L768.8 298.0L770.9 295.0L772.9 292.0L774.8 289.0L776.7 286.0L778.5 283.0L780.4 280.0L782.4 277.0L784.4 274.0L786.5 271.0L788.4 268.0L790.3 265.0L792.2 262.0L794.0 259.0L795.7 256.0L797.4 253.0L799.0 250.0L800.5 247.0L802.0 244.0L803.5 241.0L804.9 238.0L806.4 235.0L807.8 232.0L809.2 229.0L810.5 226.0L811.9 223.0L813.2 220.0L814.4 217.0L815.6 214.0L816.8 211.0L817.9 208.0L819.0 205.0L820.0 202.0L821.0 199.0L822.0 196.0L823.0 193.0L823.9 190.0L824.8 187.0L825.6 184.0L826.4 181.0L827.2 178.0L827.1 178.0L826.3 181.0L825.5 184.0L824.5 187.0L823.6 190.0L822.6 193.0L821.6 196.0L820.5 199.0L819.4 202.0L818.3 205.0L817.1 208.0L815.9 211.0L814.7 214.0L813.4 217.0L812.1 220.0L810.7 223.0L809.3 226.0L807.9 229.0L806.4 232.0L804.9 235.0L803.4 238.0L801.9 241.0L800.3 244.0L798.8 247.0L797.1 250.0L795.4 253.0L793.7 256.0L791.9 259.0L790.1 262.0L788.1 265.0L786.1 268.0L784.0 271.0L781.9 274.0L779.8 277.0L777.7 280.0L775.7 283.0L773.9 286.0L772.0 289.0L770.1 292.0L768.1 295.0L765.9 298.0L763.9 301.0L761.8 304.0L759.6 307.0L757.3 310.0L755.0 313.0L752.6 316.0L750.3 319.0L747.9 322.0L745.5 325.0L743.1 328.0L740.6 331.0L738.2 334.0L735.7 337.0L733.2 340.0L730.6 343.0L728.0 346.0L725.3 349.0L722.5 352.0L719.7 355.0L717.0 358.0L714.2 361.0L711.5 364.0L708.8 367.0L706.2 370.0L703.6 373.0L701.2 376.0L698.7 379.0L696.1 382.0L693.4 385.0L690.7 388.0L687.9 391.0L685.1 394.0L682.4 397.0L679.7 400.0L677.0 403.0L674.5 406.0L672.0 409.0L669.7 412.0L667.6 415.0L665.6 418.0L663.6 421.0L661.7 424.0L659.8 427.0L658.0 430.0L656.2 433.0L654.4 436.0L652.6 439.0L650.4 442.0L647.7 445.0L645.4 448.0L643.7 451.0L642.3 454.0L641.1 457.0L639.8 460.0L638.7 463.0L637.5 466.0L636.3 469.0L635.1 472.0L634.0 475.0L633.1 478.0L632.1 481.0L631.2 484.0L630.4 487.0L629.5 490.0L628.8 493.0L628.0 496.0L627.2 499.0L626.3 502.0L625.4 505.0ZM625.4 505.0L626.3 502.0L627.2 499.0L628.0 496.0L628.8 493.0L629.5 490.0L630.4 487.0L631.2 484.0L632.1 481.0L633.1 478.0L634.0 475.0L635.1 472.0L636.3 469.0L637.5 466.0L638.7 463.0L639.8 460.0L641.1 457.0L642.3 454.0L643.7 451.0L645.4 448.0L647.7 445.0L650.4 442.0L652.6 439.0L654.4 436.0L656.2 433.0L658.0 430.0L659.8 427.0L661.7 424.0L663.6 421.0L665.6 418.0L667.6 415.0L669.7 412.0L672.0 409.0L674.5 406.0L677.0 403.0L679.7 400.0L682.4 397.0L685.1 394.0L687.9 391.0L690.7 388.0L693.4 385.0L696.1 382.0L698.7 379.0L701.2 376.0L703.6 373.0L706.2 370.0L708.8 367.0L711.5 364.0L714.2 361.0L717.0 358.0L719.7 355.0L722.5 352.0L725.3 349.0L728.0 346.0L730.6 343.0L733.2 340.0L735.7 337.0L738.2 334.0L740.6 331.0L743.1 328.0L745.5 325.0L747.9 322.0L750.3 319.0L752.6 316.0L755.0 313.0L757.3 310.0L759.6 307.0L761.8 304.0L763.9 301.0L765.9 298.0L768.1 295.0L770.1 292.0L772.0 289.0L773.9 286.0L775.7 283.0L777.7 280.0L779.8 277.0L781.9 274.0L784.0 271.0L786.1 268.0L788.1 265.0L790.1 262.0L791.9 259.0L793.7 256.0L795.4 253.0L797.1 250.0L798.8 247.0L800.3 244.0L801.9 241.0L803.4 238.0L804.9 235.0L806.4 232.0L807.9 229.0L809.3 226.0L810.7 223.0L812.1 220.0L813.4 217.0L814.7 214.0L815.9 211.0L817.1 208.0L818.3 205.0L819.4 202.0L820.5 199.0L821.6 196.0L822.6 193.0L823.6 190.0L824.5 187.0L825.5 184.0L826.3 181.0L827.1 178.0L827.1 178.0L826.2 181.0L825.3 184.0L824.3 187.0L823.3 190.0L822.2 193.0L821.1 196.0L819.9 199.0L818.8 202.0L817.6 205.0L816.3 208.0L815.1 211.0L813.7 214.0L812.4 217.0L811.0 220.0L809.6 223.0L808.1 226.0L806.6 229.0L805.0 232.0L803.4 235.0L801.9 238.0L800.2 241.0L798.6 244.0L797.0 247.0L795.3 250.0L793.5 253.0L791.7 256.0L789.8 259.0L787.9 262.0L785.8 265.0L783.7 268.0L781.5 271.0L779.3 274.0L777.1 277.0L775.0 280.0L773.0 283.0L771.1 286.0L769.2 289.0L767.3 292.0L765.2 295.0L763.1 298.0L761.1 301.0L759.0 304.0L756.9 307.0L754.6 310.0L752.4 313.0L750.1 316.0L747.8 319.0L745.5 322.0L743.2 325.0L740.8 328.0L738.5 331.0L736.1 334.0L733.7 337.0L731.2 340.0L728.7 343.0L726.1 346.0L723.5 349.0L720.8 352.0L718.0 355.0L715.3 358.0L712.6 361.0L710.0 364.0L707.3 367.0L704.8 370.0L702.3 373.0L699.9 376.0L697.5 379.0L694.9 382.0L692.3 385.0L689.6 388.0L686.9 391.0L684.2 394.0L681.5 397.0L678.9 400.0L676.3 403.0L673.8 406.0L671.4 409.0L669.2 412.0L667.1 415.0L665.1 418.0L663.2 421.0L661.3 424.0L659.5 427.0L657.7 430.0L656.0 433.0L654.2 436.0L652.4 439.0L650.3 442.0L647.7 445.0L645.4 448.0L643.7 451.0L642.4 454.0L641.1 457.0L639.9 460.0L638.7 463.0L637.4 466.0L636.2 469.0L635.0 472.0L633.9 475.0L632.9 478.0L632.0 481.0L631.1 484.0L630.2 487.0L629.4 490.0L628.6 493.0L627.8 496.0L627.0 499.0L626.2 502.0L625.3 505.0ZM625.3 505.0L626.2 502.0L627.0 499.0L627.8 496.0L628.6 493.0L629.4 490.0L630.2 487.0L631.1 484.0L632.0 481.0L632.9 478.0L633.9 475.0L635.0 472.0L636.2 469.0L637.4 466.0L638.7 463.0L639.9 460.0L641.1 457.0L642.4 454.0L643.7 451.0L645.4 448.0L647.7 445.0L650.3 442.0L652.4 439.0L654.2 436.0L656.0 433.0L657.7 430.0L659.5 427.0L661.3 424.0L663.2 421.0L665.1 418.0L667.1 415.0L669.2 412.0L671.4 409.0L673.8 406.0L676.3 403.0L678.9 400.0L681.5 397.0L684.2 394.0L686.9 391.0L689.6 388.0L692.3 385.0L694.9 382.0L697.5 379.0L699.9 376.0L702.3 373.0L704.8 370.0L707.3 367.0L710.0 364.0L712.6 361.0L715.3 358.0L718.0 355.0L720.8 352.0L723.5 349.0L726.1 346.0L728.7 343.0L731.2 340.0L733.7 337.0L736.1 334.0L738.5 331.0L740.8 328.0L743.2 325.0L745.5 322.0L747.8 319.0L750.1 316.0L752.4 313.0L754.6 310.0L756.9 307.0L759.0 304.0L761.1 301.0L763.1 298.0L765.2 295.0L767.3 292.0L769.2 289.0L771.1 286.0L773.0 283.0L775.0 280.0L777.1 277.0L779.3 274.0L781.5 271.0L778.1 271.0L776.1 274.0L774.2 277.0L772.2 280.0L770.2 283.0L768.3 286.0L766.4 289.0L764.4 292.0L762.3 295.0L760.2 298.0L758.3 301.0L756.2 304.0L754.1 307.0L752.0 310.0L749.8 313.0L747.6 316.0L745.4 319.0L743.1 322.0L740.9 325.0L738.6 328.0L736.3 331.0L733.9 334.0L731.6 337.0L729.2 340.0L726.8 343.0L724.2 346.0L721.7 349.0L719.0 352.0L716.3 355.0L713.6 358.0L711.0 361.0L708.4 364.0L705.8 367.0L703.3 370.0L700.9 373.0L698.6 376.0L696.2 379.0L693.7 382.0L691.1 385.0L688.5 388.0L685.9 391.0L683.3 394.0L680.7 397.0L678.1 400.0L675.6 403.0L673.2 406.0L670.9 409.0L668.7 412.0L666.6 415.0L664.7 418.0L662.8 421.0L661.0 424.0L659.2 427.0L657.4 430.0L655.7 433.0L654.0 436.0L652.2 439.0L650.2 442.0L647.6 445.0L645.4 448.0L643.8 451.0L642.4 454.0L641.2 457.0L639.9 460.0L638.7 463.0L637.4 466.0L636.1 469.0L634.9 472.0L633.7 475.0L632.8 478.0L631.8 481.0L630.9 484.0L630.1 487.0L629.3 490.0L628.5 493.0L627.7 496.0L626.9 499.0L626.0 502.0L625.1 505.0ZM625.1 505.0L626.0 502.0L626.9 499.0L627.7 496.0L628.5 493.0L629.3 490.0L630.1 487.0L630.9 484.0L631.8 481.0L632.8 478.0L633.7 475.0L634.9 472.0L636.1 469.0L637.4 466.0L638.7 463.0L639.9 460.0L641.2 457.0L642.4 454.0L643.8 451.0L645.4 448.0L647.6 445.0L650.2 442.0L652.2 439.0L654.0 436.0L655.7 433.0L657.4 430.0L659.2 427.0L661.0 424.0L662.8 421.0L664.7 418.0L666.6 415.0L668.7 412.0L670.9 409.0L673.2 406.0L675.6 403.0L678.1 400.0L680.7 397.0L683.3 394.0L685.9 391.0L688.5 388.0L691.1 385.0L693.7 382.0L696.2 379.0L698.6 376.0L700.9 373.0L703.3 370.0L705.8 367.0L708.4 364.0L711.0 361.0L713.6 358.0L716.3 355.0L719.0 352.0L721.7 349.0L724.2 346.0L726.8 343.0L729.2 340.0L731.6 337.0L733.9 334.0L736.3 331.0L738.6 328.0L740.9 325.0L743.1 322.0L745.4 319.0L747.6 316.0L749.8 313.0L752.0 310.0L754.1 307.0L756.2 304.0L758.3 301.0L760.2 298.0L762.3 295.0L764.4 292.0L766.4 289.0L768.3 286.0L770.2 283.0L772.2 280.0L774.2 277.0L776.1 274.0L778.1 271.0L779.9 268.0L781.7 265.0L783.5 262.0L785.2 259.0L787.0 256.0L788.6 253.0L790.2 250.0L791.7 247.0L793.0 244.0L794.1 241.0L795.1 238.0L796.0 235.0L796.8 232.0L797.6 229.0L798.6 226.0L799.8 223.0L800.9 220.0L802.0 217.0L803.1 214.0L804.3 211.0L805.4 208.0L806.5 205.0L807.6 202.0L808.7 199.0L809.9 196.0L811.0 193.0L812.1 190.0L813.2 187.0L814.4 184.0L815.5 181.0L816.6 178.0L817.7 175.0L818.8 172.0L820.0 169.0L821.1 166.0L822.2 163.0L823.3 160.0L824.5 157.0L825.6 154.0L826.7 151.0L827.8 148.0L828.9 145.0L828.9 145.0L827.7 148.0L826.5 151.0L825.3 154.0L824.1 157.0L823.0 160.0L821.8 163.0L820.6 166.0L819.4 169.0L818.2 172.0L817.0 175.0L815.8 178.0L814.6 181.0L813.4 184.0L812.3 187.0L811.1 190.0L809.9 193.0L808.7 196.0L807.5 199.0L806.3 202.0L805.1 205.0L803.9 208.0L802.7 211.0L801.6 214.0L800.4 217.0L799.2 220.0L798.0 223.0L796.8 226.0L795.7 229.0L794.8 232.0L793.9 235.0L792.9 238.0L791.9 241.0L790.7 244.0L789.3 247.0L787.8 250.0L786.2 253.0L784.5 256.0L782.7 259.0L780.9 262.0L779.1 265.0L777.3 268.0L775.4 271.0L773.4 274.0L771.4 277.0L769.4 280.0L767.4 283.0L765.5 286.0L763.6 289.0L761.5 292.0L759.4 295.0L757.3 298.0L755.4 301.0L753.4 304.0L751.4 307.0L749.3 310.0L747.2 313.0L745.1 316.0L742.9 319.0L740.7 322.0L738.5 325.0L736.3 328.0L734.1 331.0L731.8 334.0L729.5 337.0L727.2 340.0L724.8 343.0L722.4 346.0L719.8 349.0L717.2 352.0L714.6 355.0L711.9 358.0L709.4 361.0L706.8 364.0L704.3 367.0L701.9 370.0L699.5 373.0L697.2 376.0L694.9 379.0L692.5 382.0L690.0 385.0L687.5 388.0L684.9 391.0L682.4 394.0L679.8 397.0L677.3 400.0L674.9 403.0L672.6 406.0L670.3 409.0L668.2 412.0L666.2 415.0L664.3 418.0L662.4 421.0L660.7 424.0L658.9 427.0L657.1 430.0L655.5 433.0L653.8 436.0L652.0 439.0L650.0 442.0L647.6 445.0L645.4 448.0L643.8 451.0L642.5 454.0L641.2 457.0L640.0 460.0L638.7 463.0L637.4 466.0L636.1 469.0L634.8 472.0L633.6 475.0L632.6 478.0L631.7 481.0L630.8 484.0L629.9 487.0L629.1 490.0L628.3 493.0L627.5 496.0L626.7 499.0L625.9 502.0L625.0 505.0ZM625.0 505.0L625.9 502.0L626.7 499.0L627.5 496.0L628.3 493.0L629.1 490.0L629.9 487.0L630.8 484.0L631.7 481.0L632.6 478.0L633.6 475.0L634.8 472.0L636.1 469.0L637.4 466.0L638.7 463.0L640.0 460.0L641.2 457.0L642.5 454.0L643.8 451.0L645.4 448.0L647.6 445.0L650.0 442.0L652.0 439.0L653.8 436.0L655.5 433.0L657.1 430.0L658.9 427.0L660.7 424.0L662.4 421.0L664.3 418.0L666.2 415.0L668.2 412.0L670.3 409.0L672.6 406.0L674.9 403.0L677.3 400.0L679.8 397.0L682.4 394.0L684.9 391.0L687.5 388.0L690.0 385.0L692.5 382.0L694.9 379.0L697.2 376.0L699.5 373.0L701.9 370.0L704.3 367.0L706.8 364.0L709.4 361.0L711.9 358.0L714.6 355.0L717.2 352.0L719.8 349.0L722.4 346.0L724.8 343.0L727.2 340.0L729.5 337.0L731.8 334.0L734.1 331.0L736.3 328.0L738.5 325.0L740.7 322.0L742.9 319.0L745.1 316.0L747.2 313.0L749.3 310.0L751.4 307.0L753.4 304.0L755.4 301.0L757.3 298.0L759.4 295.0L761.5 292.0L763.6 289.0L765.5 286.0L767.4 283.0L769.4 280.0L771.4 277.0L773.4 274.0L775.4 271.0L777.3 268.0L779.1 265.0L780.9 262.0L782.7 259.0L784.5 256.0L786.2 253.0L787.8 250.0L789.3 247.0L790.7 244.0L791.9 241.0L792.9 238.0L793.9 235.0L794.8 232.0L795.7 229.0L796.8 226.0L798.0 223.0L799.2 220.0L800.4 217.0L801.6 214.0L802.7 211.0L803.9 208.0L805.1 205.0L806.3 202.0L807.5 199.0L808.7 196.0L809.9 193.0L811.1 190.0L812.3 187.0L813.4 184.0L814.6 181.0L815.8 178.0L817.0 175.0L818.2 172.0L819.4 169.0L820.6 166.0L821.8 163.0L823.0 160.0L824.1 157.0L825.3 154.0L826.5 151.0L827.7 148.0L828.9 145.0L828.9 145.0L827.6 148.0L826.4 151.0L825.1 154.0L823.8 157.0L822.6 160.0L821.3 163.0L820.1 166.0L818.8 169.0L817.6 172.0L816.3 175.0L815.0 178.0L813.8 181.0L812.5 184.0L811.3 187.0L810.0 190.0L808.8 193.0L807.5 196.0L806.2 199.0L805.0 202.0L803.7 205.0L802.5 208.0L801.2 211.0L800.0 214.0L798.7 217.0L797.4 220.0L796.2 223.0L794.9 226.0L793.8 229.0L792.7 232.0L791.8 235.0L790.7 238.0L789.6 241.0L788.4 244.0L787.0 247.0L785.4 250.0L783.7 253.0L781.9 256.0L780.1 259.0L778.3 262.0L776.5 265.0L774.6 268.0L772.7 271.0L770.7 274.0L768.7 277.0L766.6 280.0L764.6 283.0L762.7 286.0L760.7 289.0L758.6 292.0L756.5 295.0L754.3 298.0L752.5 301.0L750.6 304.0L748.6 307.0L746.6 310.0L744.6 313.0L742.5 316.0L740.4 319.0L738.3 322.0L736.2 325.0L734.0 328.0L731.8 331.0L729.7 334.0L727.5 337.0L725.2 340.0L722.9 343.0L720.5 346.0L718.0 349.0L715.4 352.0L712.8 355.0L710.2 358.0L707.7 361.0L705.2 364.0L702.8 367.0L700.4 370.0L698.1 373.0L695.9 376.0L693.7 379.0L691.3 382.0L688.9 385.0L686.4 388.0L683.9 391.0L681.4 394.0L678.9 397.0L676.5 400.0L674.2 403.0L671.9 406.0L669.7 409.0L667.6 412.0L665.7 415.0L663.8 418.0L662.1 421.0L660.3 424.0L658.6 427.0L656.9 430.0L655.2 433.0L653.6 436.0L651.9 439.0L649.9 442.0L647.5 445.0L645.4 448.0L643.8 451.0L642.5 454.0L641.3 457.0L640.0 460.0L638.7 463.0L637.3 466.0L636.0 469.0L634.7 472.0L633.4 475.0L632.5 478.0L631.5 481.0L630.6 484.0L629.8 487.0L629.0 490.0L628.2 493.0L627.4 496.0L626.6 499.0L625.7 502.0L624.8 505.0ZM624.8 505.0L625.7 502.0L626.6 499.0L627.4 496.0L628.2 493.0L629.0 490.0L629.8 487.0L630.6 484.0L631.5 481.0L632.5 478.0L633.4 475.0L634.7 472.0L636.0 469.0L637.3 466.0L638.7 463.0L640.0 460.0L641.3 457.0L642.5 454.0L643.8 451.0L645.4 448.0L647.5 445.0L649.9 442.0L651.9 439.0L653.6 436.0L655.2 433.0L656.9 430.0L658.6 427.0L660.3 424.0L662.1 421.0L663.8 418.0L665.7 415.0L667.6 412.0L669.7 409.0L671.9 406.0L674.2 403.0L676.5 400.0L678.9 397.0L681.4 394.0L683.9 391.0L686.4 388.0L688.9 385.0L691.3 382.0L693.7 379.0L695.9 376.0L698.1 373.0L700.4 370.0L702.8 367.0L705.2 364.0L707.7 361.0L710.2 358.0L712.8 355.0L715.4 352.0L718.0 349.0L720.5 346.0L722.9 343.0L725.2 340.0L727.5 337.0L729.7 334.0L731.8 331.0L734.0 328.0L736.2 325.0L738.3 322.0L740.4 319.0L742.5 316.0L744.6 313.0L746.6 310.0L748.6 307.0L750.6 304.0L752.5 301.0L754.3 298.0L756.5 295.0L758.6 292.0L760.7 289.0L762.7 286.0L764.6 283.0L766.6 280.0L768.7 277.0L770.7 274.0L772.7 271.0L774.6 268.0L776.5 265.0L778.3 262.0L780.1 259.0L781.9 256.0L783.7 253.0L785.4 250.0L787.0 247.0L788.4 244.0L789.6 241.0L790.7 238.0L791.8 235.0L792.7 232.0L793.8 229.0L794.9 226.0L796.2 223.0L797.4 220.0L798.7 217.0L800.0 214.0L801.2 211.0L802.5 208.0L803.7 205.0L805.0 202.0L806.2 199.0L807.5 196.0L808.8 193.0L810.0 190.0L811.3 187.0L812.5 184.0L813.8 181.0L815.0 178.0L816.3 175.0L817.6 172.0L818.8 169.0L820.1 166.0L821.3 163.0L822.6 160.0L823.8 157.0L825.1 154.0L826.4 151.0L827.6 148.0L828.9 145.0L828.8 145.0L827.5 148.0L826.2 151.0L824.9 154.0L823.5 157.0L822.2 160.0L820.9 163.0L819.6 166.0L818.2 169.0L816.9 172.0L815.6 175.0L814.3 178.0L812.9 181.0L811.6 184.0L810.3 187.0L809.0 190.0L807.6 193.0L806.3 196.0L805.0 199.0L803.6 202.0L802.3 205.0L801.0 208.0L799.7 211.0L798.3 214.0L797.0 217.0L795.7 220.0L794.4 223.0L793.0 226.0L791.8 229.0L790.7 232.0L789.6 235.0L788.5 238.0L787.3 241.0L786.0 244.0L784.6 247.0L782.9 250.0L781.2 253.0L779.4 256.0L777.6 259.0L775.7 262.0L773.8 265.0L771.9 268.0L769.9 271.0L767.9 274.0L765.9 277.0L763.8 280.0L761.8 283.0L759.8 286.0L757.8 289.0L755.7 292.0L753.6 295.0L751.4 298.0L749.6 301.0L747.7 304.0L745.9 307.0L743.9 310.0L741.9 313.0L739.9 316.0L737.9 319.0L735.8 322.0L733.8 325.0L731.7 328.0L729.6 331.0L727.5 334.0L725.3 337.0L723.2 340.0L720.9 343.0L718.5 346.0L716.1 349.0L713.6 352.0L711.0 355.0L708.5 358.0L706.1 361.0L703.6 364.0L701.3 367.0L699.0 370.0L696.7 373.0L694.5 376.0L692.4 379.0L690.1 382.0L687.7 385.0L685.3 388.0L682.9 391.0L680.5 394.0L678.1 397.0L675.7 400.0L673.5 403.0L671.3 406.0L669.1 409.0L667.1 412.0L665.2 415.0L663.4 418.0L661.7 421.0L659.9 424.0L658.2 427.0L656.6 430.0L655.0 433.0L653.4 436.0L651.7 439.0L649.8 442.0L647.4 445.0L645.4 448.0L643.9 451.0L642.6 454.0L641.3 457.0L640.0 460.0L638.7 463.0L637.3 466.0L635.9 469.0L634.5 472.0L633.3 475.0L632.3 478.0L631.4 481.0L630.5 484.0L629.6 487.0L628.8 490.0L628.0 493.0L627.2 496.0L626.4 499.0L625.6 502.0L624.7 505.0ZM624.7 505.0L625.6 502.0L626.4 499.0L627.2 496.0L628.0 493.0L628.8 490.0L629.6 487.0L630.5 484.0L631.4 481.0L632.3 478.0L633.3 475.0L634.5 472.0L635.9 469.0L637.3 466.0L638.7 463.0L640.0 460.0L641.3 457.0L642.6 454.0L643.9 451.0L645.4 448.0L647.4 445.0L649.8 442.0L651.7 439.0L653.4 436.0L655.0 433.0L656.6 430.0L658.2 427.0L659.9 424.0L661.7 421.0L663.4 418.0L665.2 415.0L667.1 412.0L669.1 409.0L671.3 406.0L673.5 403.0L675.7 400.0L678.1 397.0L680.5 394.0L682.9 391.0L685.3 388.0L687.7 385.0L690.1 382.0L692.4 379.0L694.5 376.0L696.7 373.0L699.0 370.0L701.3 367.0L703.6 364.0L706.1 361.0L708.5 358.0L711.0 355.0L713.6 352.0L716.1 349.0L718.5 346.0L720.9 343.0L723.2 340.0L725.3 337.0L727.5 334.0L729.6 331.0L731.7 328.0L733.8 325.0L735.8 322.0L737.9 319.0L739.9 316.0L741.9 313.0L743.9 310.0L745.9 307.0L747.7 304.0L749.6 301.0L751.4 298.0L753.6 295.0L755.7 292.0L757.8 289.0L759.8 286.0L761.8 283.0L763.8 280.0L765.9 277.0L767.9 274.0L769.9 271.0L771.9 268.0L773.8 265.0L775.7 262.0L777.6 259.0L779.4 256.0L781.2 253.0L782.9 250.0L784.6 247.0L786.0 244.0L787.3 241.0L788.5 238.0L789.6 235.0L790.7 232.0L791.8 229.0L793.0 226.0L794.4 223.0L795.7 220.0L797.0 217.0L798.3 214.0L799.7 211.0L801.0 208.0L802.3 205.0L803.6 202.0L805.0 199.0L806.3 196.0L807.6 193.0L809.0 190.0L810.3 187.0L811.6 184.0L812.9 181.0L814.3 178.0L815.6 175.0L816.9 172.0L818.2 169.0L819.6 166.0L820.9 163.0L822.2 160.0L823.5 157.0L824.9 154.0L826.2 151.0L827.5 148.0L828.8 145.0L828.8 145.0L827.4 148.0L826.0 151.0L824.6 154.0L823.2 157.0L821.8 160.0L820.4 163.0L819.0 166.0L817.6 169.0L816.2 172.0L814.9 175.0L813.5 178.0L812.1 181.0L810.7 184.0L809.3 187.0L807.9 190.0L806.5 193.0L805.1 196.0L803.7 199.0L802.3 202.0L800.9 205.0L799.5 208.0L798.1 211.0L796.7 214.0L795.3 217.0L793.9 220.0L792.5 223.0L791.1 226.0L789.8 229.0L788.7 232.0L787.5 235.0L786.3 238.0L785.0 241.0L783.7 244.0L782.1 247.0L780.4 250.0L778.7 253.0L776.8 256.0L774.9 259.0L773.0 262.0L771.1 265.0L769.2 268.0L767.2 271.0L765.1 274.0L763.1 277.0L761.0 280.0L758.9 283.0L756.9 286.0L754.8 289.0L752.7 292.0L750.6 295.0L748.4 298.0L746.7 301.0L744.9 304.0L743.0 307.0L741.1 310.0L739.2 313.0L737.3 316.0L735.3 319.0L733.3 322.0L731.4 325.0L729.3 328.0L727.3 331.0L725.3 334.0L723.2 337.0L721.1 340.0L718.9 343.0L716.6 346.0L714.2 349.0L711.7 352.0L709.2 355.0L706.8 358.0L704.4 361.0L702.0 364.0L699.7 367.0L697.5 370.0L695.3 373.0L693.2 376.0L691.0 379.0L688.8 382.0L686.5 385.0L684.2 388.0L681.9 391.0L679.5 394.0L677.2 397.0L674.9 400.0L672.7 403.0L670.6 406.0L668.5 409.0L666.6 412.0L664.7 415.0L663.0 418.0L661.3 421.0L659.6 424.0L657.9 427.0L656.3 430.0L654.7 433.0L653.1 436.0L651.5 439.0L649.6 442.0L647.4 445.0L645.4 448.0L643.9 451.0L642.6 454.0L641.4 457.0L640.1 460.0L638.7 463.0L637.3 466.0L635.9 469.0L634.4 472.0L633.1 475.0L632.2 478.0L631.2 481.0L630.3 484.0L629.5 487.0L628.7 490.0L627.9 493.0L627.1 496.0L626.3 499.0L625.4 502.0L624.5 505.0ZM624.5 505.0L625.4 502.0L626.3 499.0L627.1 496.0L627.9 493.0L628.7 490.0L629.5 487.0L630.3 484.0L631.2 481.0L632.2 478.0L633.1 475.0L634.4 472.0L635.9 469.0L637.3 466.0L638.7 463.0L640.1 460.0L641.4 457.0L642.6 454.0L643.9 451.0L645.4 448.0L647.4 445.0L649.6 442.0L651.5 439.0L653.1 436.0L654.7 433.0L656.3 430.0L657.9 427.0L659.6 424.0L661.3 421.0L663.0 418.0L664.7 415.0L666.6 412.0L668.5 409.0L670.6 406.0L672.7 403.0L674.9 400.0L677.2 397.0L679.5 394.0L681.9 391.0L684.2 388.0L686.5 385.0L688.8 382.0L691.0 379.0L693.2 376.0L695.3 373.0L697.5 370.0L699.7 367.0L702.0 364.0L704.4 361.0L706.8 358.0L709.2 355.0L711.7 352.0L714.2 349.0L716.6 346.0L718.9 343.0L721.1 340.0L723.2 337.0L725.3 334.0L727.3 331.0L729.3 328.0L731.4 325.0L733.3 322.0L735.3 319.0L737.3 316.0L739.2 313.0L741.1 310.0L743.0 307.0L744.9 304.0L746.7 301.0L743.3 301.0L741.8 304.0L740.2 307.0L738.4 310.0L736.5 313.0L734.6 316.0L732.8 319.0L730.8 322.0L728.9 325.0L727.0 328.0L725.0 331.0L723.0 334.0L721.1 337.0L719.0 340.0L716.9 343.0L714.7 346.0L712.3 349.0L709.9 352.0L707.4 355.0L705.0 358.0L702.7 361.0L700.4 364.0L698.2 367.0L696.0 370.0L693.8 373.0L691.8 376.0L689.7 379.0L687.6 382.0L685.3 385.0L683.1 388.0L680.8 391.0L678.6 394.0L676.3 397.0L674.1 400.0L672.0 403.0L669.9 406.0L667.9 409.0L666.0 412.0L664.2 415.0L662.5 418.0L660.9 421.0L659.2 424.0L657.6 427.0L656.0 430.0L654.5 433.0L652.9 436.0L651.3 439.0L649.5 442.0L647.3 445.0L645.4 448.0L644.0 451.0L642.7 454.0L641.4 457.0L640.1 460.0L638.7 463.0L637.3 466.0L635.8 469.0L634.3 472.0L633.0 475.0L632.0 478.0L631.1 481.0L630.2 484.0L629.3 487.0L628.5 490.0L627.7 493.0L626.9 496.0L626.1 499.0L625.3 502.0L624.4 505.0ZM624.4 505.0L625.3 502.0L626.1 499.0L626.9 496.0L627.7 493.0L628.5 490.0L629.3 487.0L630.2 484.0L631.1 481.0L632.0 478.0L633.0 475.0L634.3 472.0L635.8 469.0L637.3 466.0L638.7 463.0L640.1 460.0L641.4 457.0L642.7 454.0L644.0 451.0L645.4 448.0L647.3 445.0L649.5 442.0L651.3 439.0L652.9 436.0L654.5 433.0L656.0 430.0L657.6 427.0L659.2 424.0L660.9 421.0L662.5 418.0L664.2 415.0L666.0 412.0L667.9 409.0L669.9 406.0L672.0 403.0L674.1 400.0L676.3 397.0L678.6 394.0L680.8 391.0L683.1 388.0L685.3 385.0L687.6 382.0L689.7 379.0L691.8 376.0L693.8 373.0L696.0 370.0L698.2 367.0L700.4 364.0L702.7 361.0L705.0 358.0L707.4 355.0L709.9 352.0L712.3 349.0L714.7 346.0L716.9 343.0L719.0 340.0L721.1 337.0L723.0 334.0L725.0 331.0L727.0 328.0L728.9 325.0L730.8 322.0L732.8 319.0L734.6 316.0L736.5 313.0L738.4 310.0L740.2 307.0L741.8 304.0L743.3 301.0L744.5 298.0L745.7 295.0L746.7 292.0L747.3 289.0L747.9 286.0L748.7 283.0L749.8 280.0L751.0 277.0L752.1 274.0L753.2 271.0L754.4 268.0L755.5 265.0L756.6 262.0L757.8 259.0L758.9 256.0L760.0 253.0L761.2 250.0L762.3 247.0L763.4 244.0L764.6 241.0L765.7 238.0L766.8 235.0L768.0 232.0L769.1 229.0L770.2 226.0L771.4 223.0L772.5 220.0L773.6 217.0L774.8 214.0L775.9 211.0L777.0 208.0L778.2 205.0L779.3 202.0L780.3 199.4L780.3 199.4L779.3 202.0L778.0 205.0L776.8 208.0L775.6 211.0L774.4 214.0L773.2 217.0L772.0 220.0L770.8 223.0L769.6 226.0L768.4 229.0L767.1 232.0L765.9 235.0L764.7 238.0L763.5 241.0L762.3 244.0L761.1 247.0L759.9 250.0L758.7 253.0L757.5 256.0L756.2 259.0L755.0 262.0L753.8 265.0L752.6 268.0L751.4 271.0L750.2 274.0L749.0 277.0L747.8 280.0L746.6 283.0L745.7 286.0L744.9 289.0L744.1 292.0L743.0 295.0L741.6 298.0L740.4 301.0L738.9 304.0L737.3 307.0L735.5 310.0L733.8 313.0L732.0 316.0L730.1 319.0L728.3 322.0L726.5 325.0L724.6 328.0L722.7 331.0L720.8 334.0L718.9 337.0L716.9 340.0L714.8 343.0L712.7 346.0L710.4 349.0L708.0 352.0L705.6 355.0L703.2 358.0L701.0 361.0L698.7 364.0L696.6 367.0L694.5 370.0L692.4 373.0L690.4 376.0L688.4 379.0L686.3 382.0L684.1 385.0L682.0 388.0L679.8 391.0L677.6 394.0L675.4 397.0L673.3 400.0L671.3 403.0L669.3 406.0L667.3 409.0L665.5 412.0L663.7 415.0L662.1 418.0L660.4 421.0L658.9 424.0L657.3 427.0L655.7 430.0L654.2 433.0L652.7 436.0L651.1 439.0L649.3 442.0L647.2 445.0L645.4 448.0L644.0 451.0L642.7 454.0L641.5 457.0L640.2 460.0L638.7 463.0L637.2 466.0L635.7 469.0L634.2 472.0L632.8 475.0L631.9 478.0L630.9 481.0L630.0 484.0L629.2 487.0L628.3 490.0L627.6 493.0L626.8 496.0L626.0 499.0L625.1 502.0L624.2 505.0ZM624.2 505.0L625.1 502.0L626.0 499.0L626.8 496.0L627.6 493.0L628.3 490.0L629.2 487.0L630.0 484.0L630.9 481.0L631.9 478.0L632.8 475.0L634.2 472.0L635.7 469.0L637.2 466.0L638.7 463.0L640.2 460.0L641.5 457.0L642.7 454.0L644.0 451.0L645.4 448.0L647.2 445.0L649.3 442.0L651.1 439.0L652.7 436.0L654.2 433.0L655.7 430.0L657.3 427.0L658.9 424.0L660.4 421.0L662.1 418.0L663.7 415.0L665.5 412.0L667.3 409.0L669.3 406.0L671.3 403.0L673.3 400.0L675.4 397.0L677.6 394.0L679.8 391.0L682.0 388.0L684.1 385.0L686.3 382.0L688.4 379.0L690.4 376.0L692.4 373.0L694.5 370.0L696.6 367.0L698.7 364.0L701.0 361.0L703.2 358.0L705.6 355.0L708.0 352.0L710.4 349.0L712.7 346.0L714.8 343.0L716.9 340.0L718.9 337.0L720.8 334.0L722.7 331.0L724.6 328.0L726.5 325.0L728.3 322.0L730.1 319.0L732.0 316.0L733.8 313.0L735.5 310.0L737.3 307.0L738.9 304.0L740.4 301.0L741.6 298.0L743.0 295.0L744.1 292.0L744.9 289.0L745.7 286.0L746.6 283.0L747.8 280.0L749.0 277.0L750.2 274.0L751.4 271.0L752.6 268.0L753.8 265.0L755.0 262.0L756.2 259.0L757.5 256.0L758.7 253.0L759.9 250.0L761.1 247.0L762.3 244.0L763.5 241.0L764.7 238.0L765.9 235.0L767.1 232.0L768.4 229.0L769.6 226.0L770.8 223.0L772.0 220.0L773.2 217.0L774.4 214.0L775.6 211.0L776.8 208.0L778.0 205.0L779.3 202.0L780.3 199.4L780.3 199.4L779.2 202.0L777.9 205.0L776.6 208.0L775.3 211.0L774.0 214.0L772.7 217.0L771.4 220.0L770.2 223.0L768.9 226.0L767.6 229.0L766.3 232.0L765.0 235.0L763.7 238.0L762.4 241.0L761.1 244.0L759.8 247.0L758.6 250.0L757.3 253.0L756.0 256.0L754.7 259.0L753.4 262.0L752.1 265.0L750.8 268.0L749.5 271.0L748.2 274.0L747.0 277.0L745.7 280.0L744.4 283.0L743.4 286.0L742.5 289.0L741.5 292.0L740.2 295.0L738.7 298.0L737.4 301.0L736.0 304.0L734.4 307.0L732.7 310.0L731.0 313.0L729.2 316.0L727.5 319.0L725.7 322.0L724.0 325.0L722.2 328.0L720.3 331.0L718.5 334.0L716.7 337.0L714.8 340.0L712.8 343.0L710.7 346.0L708.4 349.0L706.1 352.0L703.7 355.0L701.4 358.0L699.2 361.0L697.1 364.0L695.0 367.0L692.9 370.0L690.9 373.0L689.0 376.0L687.0 379.0L685.0 382.0L682.9 385.0L680.8 388.0L678.7 391.0L676.6 394.0L674.5 397.0L672.5 400.0L670.5 403.0L668.6 406.0L666.7 409.0L664.9 412.0L663.2 415.0L661.6 418.0L660.0 421.0L658.5 424.0L656.9 427.0L655.4 430.0L653.9 433.0L652.5 436.0L650.9 439.0L649.2 442.0L647.2 445.0L645.4 448.0L644.0 451.0L642.8 454.0L641.6 457.0L640.2 460.0L638.7 463.0L637.2 466.0L635.6 469.0L634.1 472.0L632.7 475.0L631.7 478.0L630.8 481.0L629.8 484.0L629.0 487.0L628.2 490.0L627.4 493.0L626.6 496.0L625.8 499.0L625.0 502.0L624.1 505.0ZM624.1 505.0L625.0 502.0L625.8 499.0L626.6 496.0L627.4 493.0L628.2 490.0L629.0 487.0L629.8 484.0L630.8 481.0L631.7 478.0L632.7 475.0L634.1 472.0L635.6 469.0L637.2 466.0L638.7 463.0L640.2 460.0L641.6 457.0L642.8 454.0L644.0 451.0L645.4 448.0L647.2 445.0L649.2 442.0L650.9 439.0L652.5 436.0L653.9 433.0L655.4 430.0L656.9 427.0L658.5 424.0L660.0 421.0L661.6 418.0L663.2 415.0L664.9 412.0L666.7 409.0L668.6 406.0L670.5 403.0L672.5 400.0L674.5 397.0L676.6 394.0L678.7 391.0L680.8 388.0L682.9 385.0L685.0 382.0L687.0 379.0L689.0 376.0L690.9 373.0L692.9 370.0L695.0 367.0L697.1 364.0L699.2 361.0L701.4 358.0L703.7 355.0L706.1 352.0L708.4 349.0L710.7 346.0L712.8 343.0L714.8 340.0L716.7 337.0L718.5 334.0L720.3 331.0L722.2 328.0L724.0 325.0L725.7 322.0L727.5 319.0L729.2 316.0L731.0 313.0L732.7 310.0L734.4 307.0L736.0 304.0L737.4 301.0L738.7 298.0L740.2 295.0L741.5 292.0L742.5 289.0L743.4 286.0L744.4 283.0L745.7 280.0L747.0 277.0L748.2 274.0L749.5 271.0L750.8 268.0L752.1 265.0L753.4 262.0L754.7 259.0L756.0 256.0L757.3 253.0L758.6 250.0L759.8 247.0L761.1 244.0L762.4 241.0L763.7 238.0L765.0 235.0L766.3 232.0L767.6 229.0L768.9 226.0L770.2 223.0L771.4 220.0L772.7 217.0L774.0 214.0L775.3 211.0L776.6 208.0L777.9 205.0L779.2 202.0L780.3 199.4L780.3 199.4L779.1 202.0L777.7 205.0L776.4 208.0L775.0 211.0L773.6 214.0L772.3 217.0L770.9 220.0L769.5 223.0L768.2 226.0L766.8 229.0L765.4 232.0L764.1 235.0L762.7 238.0L761.3 241.0L760.0 244.0L758.6 247.0L757.2 250.0L755.9 253.0L754.5 256.0L753.1 259.0L751.7 262.0L750.4 265.0L749.0 268.0L747.6 271.0L746.3 274.0L744.9 277.0L743.5 280.0L742.2 283.0L741.0 286.0L740.0 289.0L738.8 292.0L737.4 295.0L735.8 298.0L734.4 301.0L733.0 304.0L731.4 307.0L729.8 310.0L728.2 313.0L726.5 316.0L724.8 319.0L723.1 322.0L721.4 325.0L719.7 328.0L718.0 331.0L716.2 334.0L714.4 337.0L712.6 340.0L710.7 343.0L708.6 346.0L706.5 349.0L704.2 352.0L701.9 355.0L699.6 358.0L697.5 361.0L695.4 364.0L693.3 367.0L691.4 370.0L689.4 373.0L687.5 376.0L685.7 379.0L683.7 382.0L681.7 385.0L679.7 388.0L677.6 391.0L675.6 394.0L673.6 397.0L671.6 400.0L669.7 403.0L667.9 406.0L666.1 409.0L664.3 412.0L662.7 415.0L661.1 418.0L659.6 421.0L658.1 424.0L656.6 427.0L655.1 430.0L653.7 433.0L652.2 436.0L650.7 439.0L649.1 442.0L647.1 445.0L645.4 448.0L644.1 451.0L642.9 454.0L641.6 457.0L640.2 460.0L638.8 463.0L637.2 466.0L635.6 469.0L633.9 472.0L632.5 475.0L631.5 478.0L630.6 481.0L629.7 484.0L628.8 487.0L628.0 490.0L627.2 493.0L626.4 496.0L625.6 499.0L624.8 502.0L623.9 505.0ZM623.9 505.0L624.8 502.0L625.6 499.0L626.4 496.0L627.2 493.0L628.0 490.0L628.8 487.0L629.7 484.0L630.6 481.0L631.5 478.0L632.5 475.0L633.9 472.0L635.6 469.0L637.2 466.0L638.8 463.0L640.2 460.0L641.6 457.0L642.9 454.0L644.1 451.0L645.4 448.0L647.1 445.0L649.1 442.0L650.7 439.0L652.2 436.0L653.7 433.0L655.1 430.0L656.6 427.0L658.1 424.0L659.6 421.0L661.1 418.0L662.7 415.0L664.3 412.0L666.1 409.0L667.9 406.0L669.7 403.0L671.6 400.0L673.6 397.0L675.6 394.0L677.6 391.0L679.7 388.0L681.7 385.0L683.7 382.0L685.7 379.0L687.5 376.0L689.4 373.0L691.4 370.0L693.3 367.0L695.4 364.0L697.5 361.0L699.6 358.0L701.9 355.0L704.2 352.0L706.5 349.0L708.6 346.0L710.7 343.0L712.6 340.0L709.5 340.0L708.2 343.0L706.5 346.0L704.4 349.0L702.2 352.0L700.0 355.0L697.8 358.0L695.7 361.0L693.6 364.0L691.7 367.0L689.8 370.0L687.9 373.0L686.1 376.0L684.3 379.0L682.4 382.0L680.4 385.0L678.5 388.0L676.5 391.0L674.6 394.0L672.6 397.0L670.8 400.0L669.0 403.0L667.2 406.0L665.4 409.0L663.8 412.0L662.2 415.0L660.7 418.0L659.2 421.0L657.7 424.0L656.2 427.0L654.8 430.0L653.4 433.0L652.0 436.0L650.5 439.0L648.9 442.0L647.0 445.0L645.4 448.0L644.1 451.0L642.9 454.0L641.7 457.0L640.3 460.0L638.8 463.0L637.1 466.0L635.5 469.0L633.8 472.0L632.3 475.0L631.4 478.0L630.4 481.0L629.5 484.0L628.7 487.0L627.9 490.0L627.1 493.0L626.3 496.0L625.5 499.0L624.6 502.0L623.7 505.0ZM623.7 505.0L624.6 502.0L625.5 499.0L626.3 496.0L627.1 493.0L627.9 490.0L628.7 487.0L629.5 484.0L630.4 481.0L631.4 478.0L632.3 475.0L633.8 472.0L635.5 469.0L637.1 466.0L638.8 463.0L640.3 460.0L641.7 457.0L642.9 454.0L644.1 451.0L645.4 448.0L647.0 445.0L648.9 442.0L650.5 439.0L652.0 436.0L653.4 433.0L654.8 430.0L656.2 427.0L657.7 424.0L659.2 421.0L660.7 418.0L662.2 415.0L663.8 412.0L665.4 409.0L667.2 406.0L669.0 403.0L670.8 400.0L672.6 397.0L674.6 394.0L676.5 391.0L678.5 388.0L680.4 385.0L682.4 382.0L684.3 379.0L686.1 376.0L687.9 373.0L689.8 370.0L691.7 367.0L693.6 364.0L695.7 361.0L697.8 358.0L700.0 355.0L702.2 352.0L704.4 349.0L706.5 346.0L708.2 343.0L709.5 340.0L710.4 337.0L711.1 334.0L711.6 331.0L712.1 328.0L712.7 325.0L713.7 322.0L714.7 319.0L715.8 316.0L716.9 313.0L717.9 310.0L719.0 307.0L720.1 304.0L721.1 301.0L722.2 298.0L723.3 295.0L724.3 292.0L725.4 289.0L726.5 286.0L727.5 283.0L728.6 280.0L729.7 277.0L730.7 274.0L731.8 271.0L732.8 268.0L733.9 265.0L735.0 262.0L736.0 259.0L737.1 256.0L738.2 253.0L739.2 250.0L740.3 247.0L741.4 244.0L742.4 241.0L742.4 241.0L741.3 244.0L740.2 247.0L739.1 250.0L737.9 253.0L736.8 256.0L735.7 259.0L734.6 262.0L733.5 265.0L732.3 268.0L731.2 271.0L730.1 274.0L729.0 277.0L727.8 280.0L726.7 283.0L725.6 286.0L724.5 289.0L723.4 292.0L722.2 295.0L721.1 298.0L720.0 301.0L718.9 304.0L717.8 307.0L716.6 310.0L715.5 313.0L714.4 316.0L713.3 319.0L712.1 322.0L711.1 325.0L710.4 328.0L709.8 331.0L709.1 334.0L708.3 337.0L707.3 340.0L706.1 343.0L704.4 346.0L702.4 349.0L700.2 352.0L698.0 355.0L695.9 358.0L693.8 361.0L691.9 364.0L690.0 367.0L688.2 370.0L686.4 373.0L684.6 376.0L682.8 379.0L681.0 382.0L679.2 385.0L677.3 388.0L675.4 391.0L673.5 394.0L671.7 397.0L669.9 400.0L668.2 403.0L666.5 406.0L664.8 409.0L663.2 412.0L661.7 415.0L660.2 418.0L658.8 421.0L657.3 424.0L655.9 427.0L654.5 430.0L653.1 433.0L651.7 436.0L650.3 439.0L648.8 442.0L647.0 445.0L645.4 448.0L644.2 451.0L643.0 454.0L641.7 457.0L640.3 460.0L638.8 463.0L637.1 466.0L635.4 469.0L633.7 472.0L632.2 475.0L631.2 478.0L630.3 481.0L629.4 484.0L628.5 487.0L627.7 490.0L626.9 493.0L626.1 496.0L625.3 499.0L624.5 502.0L623.6 505.0ZM623.6 505.0L624.5 502.0L625.3 499.0L626.1 496.0L626.9 493.0L627.7 490.0L628.5 487.0L629.4 484.0L630.3 481.0L631.2 478.0L632.2 475.0L633.7 472.0L635.4 469.0L637.1 466.0L638.8 463.0L640.3 460.0L641.7 457.0L643.0 454.0L644.2 451.0L645.4 448.0L647.0 445.0L648.8 442.0L650.3 439.0L651.7 436.0L653.1 433.0L654.5 430.0L655.9 427.0L657.3 424.0L658.8 421.0L660.2 418.0L661.7 415.0L663.2 412.0L664.8 409.0L666.5 406.0L668.2 403.0L669.9 400.0L671.7 397.0L673.5 394.0L675.4 391.0L677.3 388.0L679.2 385.0L681.0 382.0L682.8 379.0L684.6 376.0L686.4 373.0L688.2 370.0L690.0 367.0L691.9 364.0L693.8 361.0L695.9 358.0L698.0 355.0L700.2 352.0L702.4 349.0L704.4 346.0L706.1 343.0L707.3 340.0L708.3 337.0L709.1 334.0L709.8 331.0L710.4 328.0L711.1 325.0L712.1 322.0L713.3 319.0L714.4 316.0L715.5 313.0L716.6 310.0L717.8 307.0L718.9 304.0L720.0 301.0L721.1 298.0L722.2 295.0L723.4 292.0L724.5 289.0L725.6 286.0L726.7 283.0L727.8 280.0L729.0 277.0L730.1 274.0L731.2 271.0L732.3 268.0L733.5 265.0L734.6 262.0L735.7 259.0L736.8 256.0L737.9 253.0L739.1 250.0L740.2 247.0L741.3 244.0L742.4 241.0L742.4 241.0L741.2 244.0L740.1 247.0L738.9 250.0L737.7 253.0L736.5 256.0L735.3 259.0L734.2 262.0L733.0 265.0L731.8 268.0L730.6 271.0L729.5 274.0L728.3 277.0L727.1 280.0L725.9 283.0L724.7 286.0L723.6 289.0L722.4 292.0L721.2 295.0L720.0 298.0L718.9 301.0L717.7 304.0L716.5 307.0L715.3 310.0L714.1 313.0L713.0 316.0L711.8 319.0L710.6 322.0L709.5 325.0L708.7 328.0L707.9 331.0L707.1 334.0L706.2 337.0L705.2 340.0L703.9 343.0L702.3 346.0L700.3 349.0L698.2 352.0L696.0 355.0L693.9 358.0L692.0 361.0L690.1 364.0L688.3 367.0L686.5 370.0L684.8 373.0L683.1 376.0L681.4 379.0L679.6 382.0L677.9 385.0L676.1 388.0L674.3 391.0L672.5 394.0L670.7 397.0L669.0 400.0L667.4 403.0L665.7 406.0L664.1 409.0L662.6 412.0L661.1 415.0L659.7 418.0L658.3 421.0L656.9 424.0L655.5 427.0L654.2 430.0L652.8 433.0L651.5 436.0L650.1 439.0L648.6 442.0L646.9 445.0L645.4 448.0L644.2 451.0L643.0 454.0L641.8 457.0L640.4 460.0L638.8 463.0L637.1 466.0L635.3 469.0L633.5 472.0L632.0 475.0L631.0 478.0L630.1 481.0L629.2 484.0L628.3 487.0L627.5 490.0L626.7 493.0L625.9 496.0L625.1 499.0L624.3 502.0L623.4 505.0ZM623.4 505.0L624.3 502.0L625.1 499.0L625.9 496.0L626.7 493.0L627.5 490.0L628.3 487.0L629.2 484.0L630.1 481.0L631.0 478.0L632.0 475.0L633.5 472.0L635.3 469.0L637.1 466.0L638.8 463.0L640.4 460.0L641.8 457.0L643.0 454.0L644.2 451.0L645.4 448.0L646.9 445.0L648.6 442.0L650.1 439.0L651.5 436.0L652.8 433.0L654.2 430.0L655.5 427.0L656.9 424.0L658.3 421.0L659.7 418.0L661.1 415.0L662.6 412.0L664.1 409.0L665.7 406.0L667.4 403.0L669.0 400.0L670.7 397.0L672.5 394.0L674.3 391.0L676.1 388.0L677.9 385.0L679.6 382.0L681.4 379.0L683.1 376.0L684.8 373.0L686.5 370.0L688.3 367.0L690.1 364.0L692.0 361.0L693.9 358.0L696.0 355.0L698.2 352.0L700.3 349.0L702.3 346.0L703.9 343.0L705.2 340.0L706.2 337.0L707.1 334.0L707.9 331.0L708.7 328.0L709.5 325.0L710.6 322.0L711.8 319.0L713.0 316.0L714.1 313.0L715.3 310.0L716.5 307.0L717.7 304.0L718.9 301.0L720.0 298.0L721.2 295.0L722.4 292.0L723.6 289.0L724.7 286.0L725.9 283.0L727.1 280.0L728.3 277.0L729.5 274.0L730.6 271.0L731.8 268.0L733.0 265.0L734.2 262.0L735.3 259.0L736.5 256.0L737.7 253.0L738.9 250.0L740.1 247.0L741.2 244.0L742.4 241.0L742.4 241.0L741.2 244.0L739.9 247.0L738.7 250.0L737.4 253.0L736.2 256.0L735.0 259.0L733.7 262.0L732.5 265.0L731.3 268.0L730.0 271.0L728.8 274.0L727.6 277.0L726.3 280.0L725.1 283.0L723.9 286.0L722.6 289.0L721.4 292.0L720.2 295.0L718.9 298.0L717.7 301.0L716.4 304.0L715.2 307.0L714.0 310.0L712.7 313.0L711.5 316.0L710.3 319.0L709.0 322.0L707.9 325.0L706.9 328.0L705.9 331.0L705.0 334.0L704.1 337.0L703.0 340.0L701.7 343.0L700.1 346.0L698.2 349.0L696.1 352.0L694.0 355.0L692.0 358.0L690.1 361.0L688.3 364.0L686.5 367.0L684.8 370.0L683.2 373.0L681.6 376.0L679.9 379.0L678.2 382.0L676.5 385.0L674.8 388.0L673.1 391.0L671.4 394.0L669.7 397.0L668.1 400.0L666.5 403.0L665.0 406.0L663.5 409.0L662.0 412.0L660.6 415.0L659.2 418.0L657.9 421.0L656.5 424.0L655.2 427.0L653.9 430.0L652.6 433.0L651.3 436.0L649.9 439.0L648.5 442.0L646.8 445.0L645.4 448.0L644.2 451.0L643.1 454.0L641.9 457.0L640.4 460.0L638.8 463.0L637.1 466.0L635.2 469.0L633.4 472.0L631.8 475.0L630.9 478.0L629.9 481.0L629.0 484.0L628.2 487.0L627.4 490.0L626.6 493.0L625.8 496.0L625.0 499.0L624.1 502.0L623.2 505.0ZM623.2 505.0L624.1 502.0L625.0 499.0L625.8 496.0L626.6 493.0L627.4 490.0L628.2 487.0L629.0 484.0L629.9 481.0L630.9 478.0L631.8 475.0L633.4 472.0L635.2 469.0L637.1 466.0L638.8 463.0L640.4 460.0L641.9 457.0L643.1 454.0L644.2 451.0L645.4 448.0L646.8 445.0L648.5 442.0L649.9 439.0L651.3 436.0L652.6 433.0L653.9 430.0L655.2 427.0L656.5 424.0L657.9 421.0L659.2 418.0L660.6 415.0L662.0 412.0L663.5 409.0L665.0 406.0L666.5 403.0L668.1 400.0L669.7 397.0L671.4 394.0L673.1 391.0L674.8 388.0L676.5 385.0L678.2 382.0L679.9 379.0L681.6 376.0L683.2 373.0L684.8 370.0L686.5 367.0L683.4 367.0L682.3 370.0L681.2 373.0L679.8 376.0L678.4 379.0L676.8 382.0L675.2 385.0L673.5 388.0L671.9 391.0L670.3 394.0L668.7 397.0L667.2 400.0L665.7 403.0L664.2 406.0L662.8 409.0L661.4 412.0L660.0 415.0L658.7 418.0L657.4 421.0L656.1 424.0L654.8 427.0L653.5 430.0L652.3 433.0L651.0 436.0L649.7 439.0L648.3 442.0L646.8 445.0L645.4 448.0L644.3 451.0L643.2 454.0L641.9 457.0L640.5 460.0L638.8 463.0L637.0 466.0L635.2 469.0L633.3 472.0L631.7 475.0L630.7 478.0L629.8 481.0L628.8 484.0L628.0 487.0L627.2 490.0L626.4 493.0L625.6 496.0L624.8 499.0L624.0 502.0L623.1 505.0ZM623.1 505.0L624.0 502.0L624.8 499.0L625.6 496.0L626.4 493.0L627.2 490.0L628.0 487.0L628.8 484.0L629.8 481.0L630.7 478.0L631.7 475.0L633.3 472.0L635.2 469.0L637.0 466.0L638.8 463.0L640.5 460.0L641.9 457.0L643.2 454.0L644.3 451.0L645.4 448.0L646.8 445.0L648.3 442.0L649.7 439.0L651.0 436.0L652.3 433.0L653.5 430.0L654.8 427.0L656.1 424.0L657.4 421.0L658.7 418.0L660.0 415.0L661.4 412.0L662.8 409.0L664.2 406.0L665.7 403.0L667.2 400.0L668.7 397.0L670.3 394.0L671.9 391.0L673.5 388.0L675.2 385.0L676.8 382.0L678.4 379.0L679.8 376.0L681.2 373.0L682.3 370.0L683.4 367.0L684.3 364.0L685.2 361.0L686.1 358.0L687.1 355.0L688.2 352.0L689.4 349.0L690.5 346.0L691.7 343.0L692.8 340.0L694.0 337.0L695.1 334.0L696.3 331.0L697.4 328.0L698.6 325.0L699.7 322.0L700.9 319.0L702.0 316.0L703.2 313.0L704.3 310.0L705.5 307.0L706.6 304.0L707.8 301.0L708.9 298.0L710.1 295.0L711.2 292.0L712.4 289.0L713.5 286.0L714.7 283.0L715.8 280.0L717.0 277.0L718.1 274.0L718.1 274.0L716.9 277.0L715.7 280.0L714.5 283.0L713.3 286.0L712.2 289.0L711.0 292.0L709.8 295.0L708.6 298.0L707.4 301.0L706.2 304.0L705.0 307.0L703.8 310.0L702.6 313.0L701.4 316.0L700.3 319.0L699.1 322.0L697.9 325.0L696.7 328.0L695.5 331.0L694.3 334.0L693.1 337.0L691.9 340.0L690.7 343.0L689.5 346.0L688.4 349.0L687.2 352.0L686.0 355.0L684.9 358.0L683.9 361.0L682.9 364.0L681.9 367.0L680.8 370.0L679.6 373.0L678.2 376.0L676.8 379.0L675.3 382.0L673.8 385.0L672.2 388.0L670.7 391.0L669.2 394.0L667.7 397.0L666.2 400.0L664.8 403.0L663.4 406.0L662.1 409.0L660.7 412.0L659.4 415.0L658.2 418.0L656.9 421.0L655.7 424.0L654.4 427.0L653.2 430.0L652.0 433.0L650.7 436.0L649.5 439.0L648.1 442.0L646.7 445.0L645.4 448.0L644.3 451.0L643.2 454.0L642.0 457.0L640.5 460.0L638.8 463.0L637.0 466.0L635.1 469.0L633.1 472.0L631.5 475.0L630.5 478.0L629.6 481.0L628.7 484.0L627.8 487.0L627.0 490.0L626.2 493.0L625.4 496.0L624.6 499.0L623.8 502.0L622.9 505.0ZM622.9 505.0L623.8 502.0L624.6 499.0L625.4 496.0L626.2 493.0L627.0 490.0L627.8 487.0L628.7 484.0L629.6 481.0L630.5 478.0L631.5 475.0L633.1 472.0L635.1 469.0L637.0 466.0L638.8 463.0L640.5 460.0L642.0 457.0L643.2 454.0L644.3 451.0L645.4 448.0L646.7 445.0L648.1 442.0L649.5 439.0L650.7 436.0L652.0 433.0L653.2 430.0L654.4 427.0L655.7 424.0L656.9 421.0L658.2 418.0L659.4 415.0L660.7 412.0L662.1 409.0L663.4 406.0L664.8 403.0L666.2 400.0L667.7 397.0L669.2 394.0L670.7 391.0L672.2 388.0L673.8 385.0L675.3 382.0L676.8 379.0L678.2 376.0L679.6 373.0L680.8 370.0L681.9 367.0L682.9 364.0L683.9 361.0L684.9 358.0L686.0 355.0L687.2 352.0L688.4 349.0L689.5 346.0L690.7 343.0L691.9 340.0L693.1 337.0L694.3 334.0L695.5 331.0L696.7 328.0L697.9 325.0L699.1 322.0L700.3 319.0L701.4 316.0L702.6 313.0L703.8 310.0L705.0 307.0L706.2 304.0L707.4 301.0L708.6 298.0L709.8 295.0L711.0 292.0L712.2 289.0L713.3 286.0L714.5 283.0L715.7 280.0L716.9 277.0L718.1 274.0L718.1 274.0L716.9 277.0L715.6 280.0L714.4 283.0L713.2 286.0L711.9 289.0L710.7 292.0L709.5 295.0L708.2 298.0L707.0 301.0L705.8 304.0L704.5 307.0L703.3 310.0L702.1 313.0L700.8 316.0L699.6 319.0L698.4 322.0L697.1 325.0L695.9 328.0L694.7 331.0L693.5 334.0L692.2 337.0L691.0 340.0L689.8 343.0L688.5 346.0L687.3 349.0L686.1 352.0L684.8 355.0L683.7 358.0L682.6 361.0L681.5 364.0L680.3 367.0L679.1 370.0L677.9 373.0L676.6 376.0L675.2 379.0L673.8 382.0L672.3 385.0L670.9 388.0L669.4 391.0L668.0 394.0L666.6 397.0L665.2 400.0L663.9 403.0L662.6 406.0L661.3 409.0L660.1 412.0L658.8 415.0L657.6 418.0L656.4 421.0L655.2 424.0L654.0 427.0L652.8 430.0L651.6 433.0L650.5 436.0L649.2 439.0L648.0 442.0L646.6 445.0L645.4 448.0L644.4 451.0L643.3 454.0L642.1 457.0L640.6 460.0L638.8 463.0L637.0 466.0L635.0 469.0L633.0 472.0L631.3 475.0L630.3 478.0L629.4 481.0L628.5 484.0L627.6 487.0L626.8 490.0L626.0 493.0L625.2 496.0L624.4 499.0L623.6 502.0L622.7 505.0ZM622.7 505.0L623.6 502.0L624.4 499.0L625.2 496.0L626.0 493.0L626.8 490.0L627.6 487.0L628.5 484.0L629.4 481.0L630.3 478.0L631.3 475.0L633.0 472.0L635.0 469.0L637.0 466.0L638.8 463.0L640.6 460.0L642.1 457.0L643.3 454.0L644.4 451.0L645.4 448.0L646.6 445.0L648.0 442.0L649.2 439.0L650.5 436.0L651.6 433.0L652.8 430.0L654.0 427.0L655.2 424.0L656.4 421.0L657.6 418.0L658.8 415.0L660.1 412.0L661.3 409.0L662.6 406.0L663.9 403.0L665.2 400.0L666.6 397.0L668.0 394.0L669.4 391.0L670.9 388.0L672.3 385.0L669.0 385.0L668.2 388.0L667.2 391.0L666.3 394.0L665.2 397.0L664.1 400.0L662.9 403.0L661.7 406.0L660.6 409.0L659.4 412.0L658.2 415.0L657.1 418.0L655.9 421.0L654.8 424.0L653.6 427.0L652.5 430.0L651.3 433.0L650.2 436.0L649.0 439.0L647.8 442.0L646.5 445.0L645.4 448.0L644.4 451.0L643.4 454.0L642.1 457.0L640.6 460.0L638.9 463.0L636.9 466.0L634.9 469.0L632.8 472.0L631.1 475.0L630.1 478.0L629.2 481.0L628.3 484.0L627.4 487.0L626.6 490.0L625.8 493.0L625.0 496.0L624.2 499.0L623.4 502.0L622.5 505.0ZM622.5 505.0L623.4 502.0L624.2 499.0L625.0 496.0L625.8 493.0L626.6 490.0L627.4 487.0L628.3 484.0L629.2 481.0L630.1 478.0L631.1 475.0L632.8 472.0L634.9 469.0L636.9 466.0L638.9 463.0L640.6 460.0L642.1 457.0L643.4 454.0L644.4 451.0L645.4 448.0L646.5 445.0L647.8 442.0L649.0 439.0L650.2 436.0L651.3 433.0L652.5 430.0L653.6 427.0L654.8 424.0L655.9 421.0L657.1 418.0L658.2 415.0L659.4 412.0L660.6 409.0L661.7 406.0L662.9 403.0L664.1 400.0L665.2 397.0L666.3 394.0L667.2 391.0L668.2 388.0L669.0 385.0L669.9 382.0L670.9 379.0L672.0 376.0L673.0 373.0L674.0 370.0L675.1 367.0L676.1 364.0L677.1 361.0L678.2 358.0L679.2 355.0L680.2 352.0L681.3 349.0L682.3 346.0L683.3 343.0L684.4 340.0L685.4 337.0L686.4 334.0L687.4 331.0L688.5 328.0L689.5 325.0L690.5 322.0L691.6 319.0L692.6 316.0L693.6 313.0L694.7 310.0L695.7 307.0L696.7 304.0L697.8 301.0L698.8 298.0L698.8 298.0L697.7 301.0L696.7 304.0L695.6 307.0L694.6 310.0L693.5 313.0L692.5 316.0L691.4 319.0L690.3 322.0L689.3 325.0L688.2 328.0L687.2 331.0L686.1 334.0L685.1 337.0L684.0 340.0L683.0 343.0L681.9 346.0L680.8 349.0L679.8 352.0L678.7 355.0L677.7 358.0L676.6 361.0L675.6 364.0L674.5 367.0L673.5 370.0L672.4 373.0L671.3 376.0L670.3 379.0L669.2 382.0L668.3 385.0L667.3 388.0L666.3 391.0L665.2 394.0L664.1 397.0L663.0 400.0L661.9 403.0L660.8 406.0L659.7 409.0L658.6 412.0L657.5 415.0L656.4 418.0L655.3 421.0L654.3 424.0L653.2 427.0L652.1 430.0L651.0 433.0L649.9 436.0L648.7 439.0L647.6 442.0L646.4 445.0L645.4 448.0L644.5 451.0L643.4 454.0L642.2 457.0L640.7 460.0L638.9 463.0L636.9 466.0L634.8 469.0L632.7 472.0L630.9 475.0L629.9 478.0L629.0 481.0L628.1 484.0L627.2 487.0L626.4 490.0L625.6 493.0L624.8 496.0L624.0 499.0L623.2 502.0L622.3 505.0ZM622.3 505.0L623.2 502.0L624.0 499.0L624.8 496.0L625.6 493.0L626.4 490.0L627.2 487.0L628.1 484.0L629.0 481.0L629.9 478.0L630.9 475.0L632.7 472.0L634.8 469.0L636.9 466.0L638.9 463.0L640.7 460.0L642.2 457.0L643.4 454.0L644.5 451.0L645.4 448.0L646.4 445.0L647.6 442.0L648.7 439.0L649.9 436.0L651.0 433.0L652.1 430.0L653.2 427.0L654.3 424.0L655.3 421.0L656.4 418.0L657.5 415.0L658.6 412.0L659.7 409.0L660.8 406.0L661.9 403.0L663.0 400.0L664.1 397.0L665.2 394.0L666.3 391.0L667.3 388.0L668.3 385.0L669.2 382.0L670.3 379.0L671.3 376.0L672.4 373.0L673.5 370.0L674.5 367.0L675.6 364.0L676.6 361.0L677.7 358.0L678.7 355.0L679.8 352.0L680.8 349.0L681.9 346.0L683.0 343.0L684.0 340.0L685.1 337.0L686.1 334.0L687.2 331.0L688.2 328.0L689.3 325.0L690.3 322.0L691.4 319.0L692.5 316.0L693.5 313.0L694.6 310.0L695.6 307.0L696.7 304.0L697.7 301.0L698.8 298.0L698.8 298.0L697.7 301.0L696.6 304.0L695.5 307.0L694.4 310.0L693.4 313.0L692.3 316.0L691.2 319.0L690.1 322.0L689.0 325.0L687.9 328.0L686.8 331.0L685.8 334.0L684.7 337.0L683.6 340.0L682.5 343.0L681.4 346.0L680.3 349.0L679.2 352.0L678.2 355.0L677.1 358.0L676.0 361.0L674.9 364.0L673.8 367.0L672.7 370.0L671.6 373.0L670.6 376.0L669.5 379.0L668.4 382.0L667.3 385.0L666.2 388.0L665.0 391.0L663.9 394.0L662.8 397.0L661.7 400.0L660.6 403.0L659.6 406.0L658.7 409.0L657.7 412.0L656.7 415.0L655.7 418.0L654.6 421.0L653.6 424.0L652.6 427.0L651.6 430.0L650.5 433.0L649.5 436.0L648.4 439.0L647.4 442.0L646.3 445.0L645.4 448.0L644.5 451.0L643.5 454.0L642.3 457.0L640.8 460.0L638.9 463.0L636.8 466.0L634.7 469.0L632.4 472.0L630.6 475.0L629.6 478.0L628.7 481.0L627.8 484.0L626.9 487.0L626.1 490.0L625.3 493.0L624.5 496.0L623.7 499.0L622.9 502.0L622.0 505.0Z" fill="#fff" stroke="#fff" stroke-width="0.8"/><g fill="none" stroke-width="1.0" stroke-linecap="round"><path d="M390.0 566.0L410.0 568.8M410.0 568.8L430.0 571.0M430.0 571.0L450.3 572.8M450.3 572.8L470.0 574.0M470.0 574.0L488.4 574.7M488.4 574.7L505.0 575.0M505.0 575.0L518.1 574.9M518.1 574.9L530.0 574.5M530.0 574.5L543.1 573.8M543.1 573.8L555.0 572.5M555.0 572.5L563.4 570.5M563.4 570.5L570.0 568.0M570.0 568.0L575.1 565.6M575.1 565.6L580.0 562.5M448.0 565.3L452.5 565.6M452.5 565.6L457.0 565.9M457.0 565.9L461.5 566.2M461.5 566.2L466.0 566.5M466.0 566.5L470.5 566.7M470.5 566.7L475.0 566.9M475.0 566.9L479.5 567.1M479.5 567.1L484.0 567.2M484.0 567.2L488.5 567.4M488.5 567.4L493.0 567.5M493.0 567.5L497.5 567.5M497.5 567.5L502.0 567.6M502.0 567.6L506.5 567.6M506.5 567.6L511.0 567.6M511.0 567.6L515.5 567.6M515.5 567.6L520.0 567.5M520.0 567.5L524.5 567.3M524.5 567.3L529.0 567.1M529.0 567.1L533.5 566.9M533.5 566.9L538.0 566.6M538.0 566.6L542.5 566.3M542.5 566.3L547.0 566.0M547.0 566.0L551.5 565.5M551.5 565.5L556.0 564.8M393.4 566.5L403.6 560.6M404.3 568.0L414.5 562.0M415.2 569.4L425.5 563.2M426.1 570.6L436.4 564.3M437.1 571.7L447.4 565.2M448.0 572.6L458.3 566.0M459.0 573.3L469.3 566.6M470.0 574.0L480.3 567.1M481.0 574.5L491.3 567.4M492.0 574.8L502.3 567.6M503.0 575.0L513.3 567.6M514.0 575.0L524.3 567.3M524.9 574.7L535.3 566.8M535.9 574.2L546.3 566.0M546.9 573.4L557.2 564.6M557.8 572.0L567.7 561.5M568.3 568.7L577.6 556.8M447.4 565.2L457.7 558.6M458.3 566.0L468.6 559.3M469.3 566.6L479.6 559.8M480.3 567.1L490.6 560.1M491.3 567.4L501.6 560.2M502.3 567.6L512.6 560.2M513.3 567.6L523.6 559.9M524.3 567.3L534.6 559.3M535.3 566.8L545.6 558.5M546.3 566.0L556.5 557.0" stroke="#363093"/><path d="M318.0 551.0L331.5 554.6M331.5 554.6L350.0 559.0M350.0 559.0L369.5 562.7M369.5 562.7L390.0 566.0M580.0 562.5L586.4 558.1M586.4 558.1L593.0 553.0M349.0 551.5L353.5 552.4M353.5 552.4L358.0 553.3M358.0 553.3L362.5 554.1M362.5 554.1L367.0 554.9M367.0 554.9L371.5 555.7M371.5 555.7L376.0 556.5M376.0 556.5L380.5 557.2M380.5 557.2L385.0 557.9M385.0 557.9L389.5 558.6M389.5 558.6L394.0 559.3M394.0 559.3L398.5 559.9M398.5 559.9L403.0 560.5M403.0 560.5L407.5 561.1M407.5 561.1L412.0 561.7M412.0 561.7L416.5 562.2M416.5 562.2L421.0 562.7M421.0 562.7L425.5 563.2M425.5 563.2L430.0 563.7M430.0 563.7L434.5 564.1M434.5 564.1L439.0 564.5M439.0 564.5L443.5 564.9M443.5 564.9L448.0 565.3M556.0 564.8L560.5 563.8M560.5 563.8L565.0 562.5M565.0 562.5L569.5 560.8M569.5 560.8L574.0 558.9M574.0 558.9L578.5 556.3M578.5 556.3L583.0 553.4M389.0 551.2L393.5 551.9M393.5 551.9L398.0 552.5M398.0 552.5L402.5 553.2M402.5 553.2L407.0 553.7M407.0 553.7L411.5 554.3M411.5 554.3L416.0 554.9M416.0 554.9L420.5 555.4M420.5 555.4L425.0 555.9M425.0 555.9L429.5 556.3M429.5 556.3L434.0 556.8M434.0 556.8L438.5 557.2M438.5 557.2L443.0 557.6M443.0 557.6L447.5 557.9M447.5 557.9L452.0 558.3M452.0 558.3L456.5 558.6M456.5 558.6L461.0 558.8M461.0 558.8L465.5 559.1M465.5 559.1L470.0 559.4M470.0 559.4L474.5 559.6M474.5 559.6L479.0 559.7M479.0 559.7L483.5 559.9M483.5 559.9L488.0 560.0M488.0 560.0L492.5 560.1M492.5 560.1L497.0 560.2M497.0 560.2L501.5 560.2M501.5 560.2L506.0 560.3M506.0 560.3L510.5 560.2M510.5 560.2L515.0 560.2M515.0 560.2L519.5 560.1M519.5 560.1L524.0 559.9M524.0 559.9L528.5 559.7M528.5 559.7L533.0 559.4M533.0 559.4L537.5 559.1M537.5 559.1L542.0 558.8M542.0 558.8L546.5 558.4M546.5 558.4L551.0 557.9M551.0 557.9L555.5 557.2M555.5 557.2L560.0 556.3M560.0 556.3L564.5 555.0M564.5 555.0L569.0 553.4M569.0 553.4L573.5 551.7M573.5 551.7L578.0 549.2M447.0 550.6L451.5 550.9M451.5 550.9L456.0 551.2M456.0 551.2L460.5 551.5M460.5 551.5L465.0 551.8M465.0 551.8L469.5 552.0M469.5 552.0L474.0 552.2M474.0 552.2L478.5 552.4M478.5 552.4L483.0 552.5M483.0 552.5L487.5 552.6M487.5 552.6L492.0 552.7M492.0 552.7L496.5 552.8M496.5 552.8L501.0 552.8M501.0 552.8L505.5 552.9M505.5 552.9L510.0 552.8M510.0 552.8L514.5 552.7M514.5 552.7L519.0 552.6M519.0 552.6L523.5 552.4M523.5 552.4L528.0 552.1M528.0 552.1L532.5 551.8M532.5 551.8L537.0 551.5M537.0 551.5L541.5 551.1M541.5 551.1L546.0 550.7M546.0 550.7L550.5 550.2M318.0 551.0L328.0 546.3M328.6 553.8L338.7 549.1M339.3 556.5L349.4 551.6M350.0 559.0L360.2 553.7M360.8 561.1L371.0 555.6M371.6 563.0L381.8 557.4M382.5 564.8L392.7 559.1M578.1 563.7L586.8 550.8M349.4 551.6L359.5 546.3M360.2 553.7L370.3 548.2M371.0 555.6L381.2 550.0M381.8 557.4L392.0 551.7M392.7 559.1L402.9 553.2M403.6 560.6L413.9 554.6M414.5 562.0L424.8 555.9M425.5 563.2L435.7 556.9M436.4 564.3L446.7 557.9M557.2 564.6L567.1 554.1M567.7 561.5L577.1 549.7M577.6 556.8L586.4 543.9M392.0 551.7L402.2 545.8M402.9 553.2L413.1 547.2M413.9 554.6L424.1 548.5M424.8 555.9L435.0 549.6M435.7 556.9L446.0 550.5M446.7 557.9L456.9 551.3M457.7 558.6L467.9 551.9M468.6 559.3L478.9 552.4M479.6 559.8L489.9 552.7M490.6 560.1L500.9 552.8M501.6 560.2L511.9 552.8M512.6 560.2L522.9 552.4M523.6 559.9L533.9 551.7M534.6 559.3L544.8 550.8M545.6 558.5L555.7 549.3M556.5 557.0L566.4 546.6M567.1 554.1L576.6 542.5M456.9 551.3L467.1 544.6M467.9 551.9L478.1 545.0M478.9 552.4L489.1 545.3M489.9 552.7L500.1 545.5M500.9 552.8L511.1 545.4M511.9 552.8L522.1 544.9M522.9 552.4L533.1 544.2M533.9 551.7L544.0 543.1M544.8 550.8L554.9 541.5" stroke="#3637a0"/><path d="M322.0 544.7L326.5 545.9M326.5 545.9L331.0 547.1M331.0 547.1L335.5 548.3M335.5 548.3L340.0 549.4M340.0 549.4L344.5 550.5M344.5 550.5L349.0 551.5M583.0 553.4L587.5 550.3M587.5 550.3L592.0 546.9M326.0 538.5L330.5 539.7M330.5 539.7L335.0 540.8M335.0 540.8L339.5 542.0M339.5 542.0L344.0 543.1M344.0 543.1L348.5 544.1M348.5 544.1L353.0 545.0M353.0 545.0L357.5 545.9M357.5 545.9L362.0 546.7M362.0 546.7L366.5 547.5M366.5 547.5L371.0 548.3M371.0 548.3L375.5 549.1M375.5 549.1L380.0 549.8M380.0 549.8L384.5 550.5M384.5 550.5L389.0 551.2M578.0 549.2L582.5 546.5M582.5 546.5L587.0 543.5M587.0 543.5L591.5 540.3M348.0 536.6L352.5 537.6M352.5 537.6L357.0 538.5M357.0 538.5L361.5 539.3M361.5 539.3L366.0 540.1M366.0 540.1L370.5 540.9M370.5 540.9L375.0 541.7M375.0 541.7L379.5 542.4M379.5 542.4L384.0 543.2M384.0 543.2L388.5 543.9M388.5 543.9L393.0 544.5M393.0 544.5L397.5 545.2M397.5 545.2L402.0 545.8M402.0 545.8L406.5 546.4M406.5 546.4L411.0 546.9M411.0 546.9L415.5 547.5M415.5 547.5L420.0 548.0M420.0 548.0L424.5 548.5M424.5 548.5L429.0 549.0M429.0 549.0L433.5 549.4M433.5 549.4L438.0 549.8M438.0 549.8L442.5 550.2M442.5 550.2L447.0 550.6M550.5 550.2L555.0 549.5M555.0 549.5L559.5 548.5M559.5 548.5L564.0 547.3M564.0 547.3L568.5 545.9M568.5 545.9L573.0 544.2M573.0 544.2L577.5 542.0M577.5 542.0L582.0 539.4M582.0 539.4L586.5 536.6M388.0 536.5L392.5 537.2M392.5 537.2L397.0 537.8M397.0 537.8L401.5 538.4M401.5 538.4L406.0 539.0M406.0 539.0L410.5 539.6M410.5 539.6L415.0 540.1M415.0 540.1L419.5 540.6M419.5 540.6L424.0 541.2M424.0 541.2L428.5 541.6M428.5 541.6L433.0 542.1M433.0 542.1L437.5 542.5M437.5 542.5L442.0 542.9M442.0 542.9L446.5 543.2M446.5 543.2L451.0 543.5M451.0 543.5L455.5 543.8M455.5 543.8L460.0 544.1M460.0 544.1L464.5 544.4M464.5 544.4L469.0 544.7M469.0 544.7L473.5 544.9M473.5 544.9L478.0 545.0M478.0 545.0L482.5 545.2M482.5 545.2L487.0 545.3M487.0 545.3L491.5 545.4M491.5 545.4L496.0 545.4M496.0 545.4L500.5 545.5M500.5 545.5L505.0 545.5M505.0 545.5L509.5 545.4M509.5 545.4L514.0 545.3M514.0 545.3L518.5 545.1M518.5 545.1L523.0 544.9M523.0 544.9L527.5 544.6M527.5 544.6L532.0 544.2M532.0 544.2L536.5 543.8M536.5 543.8L541.0 543.4M541.0 543.4L545.5 542.9M545.5 542.9L550.0 542.3M550.0 542.3L554.5 541.6M554.5 541.6L559.0 540.7M559.0 540.7L563.5 539.5M563.5 539.5L568.0 538.1M568.0 538.1L572.5 536.6M572.5 536.6L577.0 534.6M450.5 536.2L455.0 536.5M455.0 536.5L459.5 536.8M459.5 536.8L464.0 537.1M464.0 537.1L468.5 537.3M468.5 537.3L473.0 537.5M473.0 537.5L477.5 537.7M477.5 537.7L482.0 537.8M482.0 537.8L486.5 537.9M486.5 537.9L491.0 538.0M491.0 538.0L495.5 538.0M495.5 538.0L500.0 538.1M500.0 538.1L504.5 538.1M504.5 538.1L509.0 538.0M509.0 538.0L513.5 537.8M513.5 537.8L518.0 537.6M518.0 537.6L522.5 537.4M522.5 537.4L527.0 537.0M527.0 537.0L531.5 536.6M531.5 536.6L536.0 536.2M536.0 536.2L540.5 535.6M587.1 557.5L595.5 544.1M328.0 546.3L338.0 541.6M338.7 549.1L348.7 544.1M586.8 550.8L595.3 537.4M327.3 538.9L337.3 534.1M338.0 541.6L348.0 536.6M348.7 544.1L358.8 538.8M359.5 546.3L369.6 540.8M370.3 548.2L380.5 542.6M381.2 550.0L391.3 544.3M577.1 549.7L586.0 536.9M586.4 543.9L595.0 530.6M348.0 536.6L358.0 531.3M358.8 538.8L368.8 533.3M369.6 540.8L379.7 535.1M380.5 542.6L390.5 536.9M391.3 544.3L401.4 538.4M402.2 545.8L412.3 539.8M413.1 547.2L423.3 541.1M424.1 548.5L434.2 542.2M435.0 549.6L445.2 543.1M446.0 550.5L456.1 543.9M555.7 549.3L565.6 538.9M566.4 546.6L575.9 535.1M576.6 542.5L585.5 529.8M390.5 536.9L400.6 531.0M401.4 538.4L411.5 532.4M412.3 539.8L422.4 533.7M423.3 541.1L433.4 534.8M434.2 542.2L444.3 535.7M445.2 543.1L455.3 536.5M456.1 543.9L466.3 537.2M467.1 544.6L477.3 537.6M478.1 545.0L488.3 537.9M489.1 545.3L499.3 538.1M500.1 545.5L510.3 537.9M511.1 545.4L521.3 537.4M522.1 544.9L532.2 536.6M533.1 544.2L543.1 535.3M544.0 543.1L554.0 533.6M554.9 541.5L564.7 531.1M565.6 538.9L575.1 527.6M455.3 536.5L465.4 529.8M466.3 537.2L476.4 530.3M477.3 537.6L487.4 530.5M488.3 537.9L498.4 530.7M499.3 538.1L509.4 530.5M510.3 537.9L520.4 529.9M521.3 537.4L531.4 529.0M532.2 536.6L542.3 527.5" stroke="#353dad"/><path d="M593.0 553.0L599.3 547.8M592.0 546.9L596.5 543.3M591.5 540.3L596.0 536.8M330.0 532.2L334.5 533.4M334.5 533.4L339.0 534.5M339.0 534.5L343.5 535.6M343.5 535.6L348.0 536.6M586.5 536.6L591.0 533.5M334.0 526.0L338.5 527.1M338.5 527.1L343.0 528.2M343.0 528.2L347.5 529.2M347.5 529.2L352.0 530.2M352.0 530.2L356.5 531.1M356.5 531.1L361.0 531.9M361.0 531.9L365.5 532.7M365.5 532.7L370.0 533.5M370.0 533.5L374.5 534.3M374.5 534.3L379.0 535.0M379.0 535.0L383.5 535.8M383.5 535.8L388.0 536.5M577.0 534.6L581.5 532.2M581.5 532.2L586.0 529.5M586.0 529.5L590.5 526.7M347.0 521.8L351.5 522.8M351.5 522.8L356.0 523.7M356.0 523.7L360.5 524.5M360.5 524.5L365.0 525.3M365.0 525.3L369.5 526.1M369.5 526.1L374.0 526.9M374.0 526.9L378.5 527.6M378.5 527.6L383.0 528.4M383.0 528.4L387.5 529.1M387.5 529.1L392.0 529.8M392.0 529.8L396.5 530.4M396.5 530.4L401.0 531.0M401.0 531.0L405.5 531.6M405.5 531.6L410.0 532.2M410.0 532.2L414.5 532.7M414.5 532.7L419.0 533.3M419.0 533.3L423.5 533.8M423.5 533.8L428.0 534.3M428.0 534.3L432.5 534.7M432.5 534.7L437.0 535.1M437.0 535.1L441.5 535.5M441.5 535.5L446.0 535.9M446.0 535.9L450.5 536.2M540.5 535.6L545.0 535.1M545.0 535.1L549.5 534.4M549.5 534.4L554.0 533.7M554.0 533.7L558.5 532.7M558.5 532.7L563.0 531.5M563.0 531.5L567.5 530.3M567.5 530.3L572.0 528.9M572.0 528.9L576.5 527.0M576.5 527.0L581.0 524.7M581.0 524.7L585.5 522.3M387.0 521.7L391.5 522.4M391.5 522.4L396.0 523.0M396.0 523.0L400.5 523.6M400.5 523.6L405.0 524.2M405.0 524.2L409.5 524.8M409.5 524.8L414.0 525.3M414.0 525.3L418.5 525.9M418.5 525.9L423.0 526.4M423.0 526.4L427.5 526.9M427.5 526.9L432.0 527.4M432.0 527.4L436.5 527.8M436.5 527.8L441.0 528.1M441.0 528.1L445.5 528.5M445.5 528.5L450.0 528.8M450.0 528.8L454.5 529.1M454.5 529.1L459.0 529.4M459.0 529.4L463.5 529.7M463.5 529.7L468.0 530.0M468.0 530.0L472.5 530.2M472.5 530.2L477.0 530.3M477.0 530.3L481.5 530.4M481.5 530.4L486.0 530.5M486.0 530.5L490.5 530.6M490.5 530.6L495.0 530.6M495.0 530.6L499.5 530.7M499.5 530.7L504.0 530.7M504.0 530.7L508.5 530.5M508.5 530.5L513.0 530.4M513.0 530.4L517.5 530.1M517.5 530.1L522.0 529.8M522.0 529.8L526.5 529.4M526.5 529.4L531.0 529.0M531.0 529.0L535.5 528.4M535.5 528.4L540.0 527.8M540.0 527.8L544.5 527.2M544.5 527.2L549.0 526.5M549.0 526.5L553.5 525.7M553.5 525.7L558.0 524.7M558.0 524.7L562.5 523.5M562.5 523.5L567.0 522.3M567.0 522.3L571.5 521.0M454.0 521.8L458.5 522.1M458.5 522.1L463.0 522.3M463.0 522.3L467.5 522.6M467.5 522.6L472.0 522.8M472.0 522.8L476.5 522.9M476.5 522.9L481.0 523.1M481.0 523.1L485.5 523.1M485.5 523.1L490.0 523.2M490.0 523.2L494.5 523.3M494.5 523.3L499.0 523.3M499.0 523.3L503.5 523.3M503.5 523.3L508.0 523.1M508.0 523.1L512.5 522.9M512.5 522.9L517.0 522.6M517.0 522.6L521.5 522.3M521.5 522.3L526.0 521.9M526.0 521.9L530.5 521.4M337.3 534.1L347.2 529.2M586.0 536.9L594.7 523.8M336.5 526.6L346.4 521.7M347.2 529.2L357.2 523.9M358.0 531.3L368.0 525.8M368.8 533.3L378.8 527.7M379.7 535.1L389.7 529.4M575.9 535.1L584.9 522.6M585.5 529.8L594.3 516.8M357.2 523.9L367.2 518.4M368.0 525.8L378.0 520.2M378.8 527.7L388.9 522.0M389.7 529.4L399.7 523.5M400.6 531.0L410.7 524.9M411.5 532.4L421.6 526.2M422.4 533.7L432.5 527.4M433.4 534.8L443.5 528.3M444.3 535.7L454.5 529.1M543.1 535.3L553.1 525.7M554.0 533.6L563.8 523.2M564.7 531.1L574.3 519.9M575.1 527.6L584.3 515.3M388.9 522.0L398.9 516.1M399.7 523.5L409.8 517.5M410.7 524.9L420.7 518.8M421.6 526.2L431.7 520.0M432.5 527.4L442.6 520.9M443.5 528.3L453.6 521.7M454.5 529.1L464.6 522.4M465.4 529.8L475.6 522.9M476.4 530.3L486.6 523.2M487.4 530.5L497.6 523.3M498.4 530.7L508.5 523.1M509.4 530.5L519.5 522.4M520.4 529.9L530.5 521.4M531.4 529.0L541.4 519.8M542.3 527.5L552.2 517.8M553.1 525.7L562.9 515.3M563.8 523.2L573.4 512.1M453.6 521.7L463.7 515.0M464.6 522.4L474.7 515.5M475.6 522.9L485.7 515.8M486.6 523.2L496.7 515.9M497.6 523.3L507.6 515.7M508.5 523.1L518.6 515.0M519.5 522.4L529.6 513.8" stroke="#3243ba"/><path d="M591.0 533.5L595.5 530.3M590.5 526.7L595.0 523.6M338.0 519.7L342.5 520.8M342.5 520.8L347.0 521.8M585.5 522.3L590.0 519.6M590.0 519.6L594.5 516.7M342.0 513.3L346.5 514.4M346.5 514.4L351.0 515.4M351.0 515.4L355.5 516.2M355.5 516.2L360.0 517.1M360.0 517.1L364.5 517.9M364.5 517.9L369.0 518.7M369.0 518.7L373.5 519.5M373.5 519.5L378.0 520.2M378.0 520.2L382.5 521.0M382.5 521.0L387.0 521.7M571.5 521.0L576.0 519.2M576.0 519.2L580.5 517.2M580.5 517.2L585.0 514.9M585.0 514.9L589.5 512.4M350.5 508.0L355.0 508.8M355.0 508.8L359.5 509.7M359.5 509.7L364.0 510.5M364.0 510.5L368.5 511.3M368.5 511.3L373.0 512.1M373.0 512.1L377.5 512.8M377.5 512.8L382.0 513.6M382.0 513.6L386.5 514.3M386.5 514.3L391.0 515.0M391.0 515.0L395.5 515.6M395.5 515.6L400.0 516.2M400.0 516.2L404.5 516.8M404.5 516.8L409.0 517.4M409.0 517.4L413.5 518.0M413.5 518.0L418.0 518.5M418.0 518.5L422.5 519.0M422.5 519.0L427.0 519.6M427.0 519.6L431.5 520.0M431.5 520.0L436.0 520.4M436.0 520.4L440.5 520.8M440.5 520.8L445.0 521.1M445.0 521.1L449.5 521.5M449.5 521.5L454.0 521.8M530.5 521.4L535.0 520.8M535.0 520.8L539.5 520.1M539.5 520.1L544.0 519.3M544.0 519.3L548.5 518.6M548.5 518.6L553.0 517.6M553.0 517.6L557.5 516.6M557.5 516.6L562.0 515.5M562.0 515.5L566.5 514.3M566.5 514.3L571.0 513.0M571.0 513.0L575.5 511.3M575.5 511.3L580.0 509.4M580.0 509.4L584.5 507.3M390.5 507.7L395.0 508.3M395.0 508.3L399.5 508.9M399.5 508.9L404.0 509.4M404.0 509.4L408.5 510.0M408.5 510.0L413.0 510.6M413.0 510.6L417.5 511.1M417.5 511.1L422.0 511.7M422.0 511.7L426.5 512.2M426.5 512.2L431.0 512.7M431.0 512.7L435.5 513.1M435.5 513.1L440.0 513.4M440.0 513.4L444.5 513.8M444.5 513.8L449.0 514.1M449.0 514.1L453.5 514.4M453.5 514.4L458.0 514.7M458.0 514.7L462.5 515.0M462.5 515.0L467.0 515.2M467.0 515.2L471.5 515.5M471.5 515.5L476.0 515.6M476.0 515.6L480.5 515.7M480.5 515.7L485.0 515.8M485.0 515.8L489.5 515.8M489.5 515.8L494.0 515.9M494.0 515.9L498.5 515.9M498.5 515.9L503.0 515.9M503.0 515.9L507.5 515.7M507.5 515.7L512.0 515.5M512.0 515.5L516.5 515.1M516.5 515.1L521.0 514.8M521.0 514.8L525.5 514.3M525.5 514.3L530.0 513.8M530.0 513.8L534.5 513.1M534.5 513.1L539.0 512.3M539.0 512.3L543.5 511.5M543.5 511.5L548.0 510.6M548.0 510.6L552.5 509.6M552.5 509.6L557.0 508.6M557.0 508.6L561.5 507.4M561.5 507.4L566.0 506.2M457.5 507.3L462.0 507.6M462.0 507.6L466.5 507.9M466.5 507.9L471.0 508.1M471.0 508.1L475.5 508.2M475.5 508.2L480.0 508.3M480.0 508.3L484.5 508.4M484.5 508.4L489.0 508.5M489.0 508.5L493.5 508.5M493.5 508.5L498.0 508.5M498.0 508.5L502.5 508.5M502.5 508.5L507.0 508.3M507.0 508.3L511.5 508.0M511.5 508.0L516.0 507.7M516.0 507.7L520.5 507.3M595.5 544.1L603.5 530.1M595.3 537.4L603.2 523.3M595.0 530.6L602.9 516.5M346.4 521.7L356.3 516.4M584.9 522.6L593.8 509.8M345.6 514.2L355.5 508.9M356.3 516.4L366.3 510.9M367.2 518.4L377.1 512.8M378.0 520.2L388.0 514.6M574.3 519.9L583.5 507.8M584.3 515.3L593.3 502.7M355.5 508.9L365.4 503.4M366.3 510.9L376.3 505.3M377.1 512.8L387.1 507.1M388.0 514.6L398.0 508.7M398.9 516.1L408.9 510.1M409.8 517.5L419.8 511.4M420.7 518.8L430.8 512.7M431.7 520.0L441.7 513.6M442.6 520.9L452.7 514.4M530.5 521.4L540.4 512.0M541.4 519.8L551.2 509.9M552.2 517.8L561.9 507.3M562.9 515.3L572.5 504.3M573.4 512.1L582.7 500.3M398.0 508.7L408.0 502.6M408.9 510.1L418.9 504.0M419.8 511.4L429.8 505.3M430.8 512.7L440.8 506.2M441.7 513.6L451.8 507.0M452.7 514.4L462.8 507.7M463.7 515.0L473.7 508.2M474.7 515.5L484.7 508.4M485.7 515.8L495.7 508.5M496.7 515.9L506.7 508.3M507.6 515.7L517.7 507.5M518.6 515.0L528.6 506.3M529.6 513.8L539.5 504.4M540.4 512.0L550.2 502.1M551.2 509.9L560.9 499.4M561.9 507.3L571.5 496.5M462.8 507.7L472.8 500.8M473.7 508.2L483.8 501.0M484.7 508.4L494.8 501.1M495.7 508.5L505.8 501.0M506.7 508.3L516.8 500.1M517.7 507.5L527.7 498.8" stroke="#2c4ac7"/><path d="M596.5 543.3L601.0 539.5M596.0 536.8L600.5 533.0M595.5 530.3L600.0 526.6M595.0 523.6L599.5 520.0M594.5 516.7L599.0 513.3M589.5 512.4L594.0 509.7M594.0 509.7L598.5 506.5M346.0 507.0L350.5 508.0M584.5 507.3L589.0 505.0M589.0 505.0L593.5 502.5M350.0 500.6L354.5 501.4M354.5 501.4L359.0 502.3M359.0 502.3L363.5 503.1M363.5 503.1L368.0 503.9M368.0 503.9L372.5 504.6M372.5 504.6L377.0 505.4M377.0 505.4L381.5 506.2M381.5 506.2L386.0 506.9M386.0 506.9L390.5 507.7M566.0 506.2L570.5 504.9M570.5 504.9L575.0 503.4M575.0 503.4L579.5 501.6M579.5 501.6L584.0 499.7M584.0 499.7L588.5 497.6M354.0 494.0L358.5 494.8M358.5 494.8L363.0 495.6M363.0 495.6L367.5 496.4M367.5 496.4L372.0 497.2M372.0 497.2L376.5 498.0M376.5 498.0L381.0 498.8M381.0 498.8L385.5 499.5M385.5 499.5L390.0 500.3M390.0 500.3L394.5 500.9M394.5 500.9L399.0 501.5M399.0 501.5L403.5 502.1M403.5 502.1L408.0 502.6M408.0 502.6L412.5 503.2M412.5 503.2L417.0 503.7M417.0 503.7L421.5 504.3M421.5 504.3L426.0 504.8M426.0 504.8L430.5 505.3M430.5 505.3L435.0 505.7M435.0 505.7L439.5 506.1M439.5 506.1L444.0 506.4M444.0 506.4L448.5 506.8M448.5 506.8L453.0 507.1M453.0 507.1L457.5 507.3M520.5 507.3L525.0 506.8M525.0 506.8L529.5 506.2M529.5 506.2L534.0 505.4M534.0 505.4L538.5 504.6M538.5 504.6L543.0 503.7M543.0 503.7L547.5 502.7M547.5 502.7L552.0 501.7M552.0 501.7L556.5 500.6M556.5 500.6L561.0 499.4M561.0 499.4L565.5 498.2M565.5 498.2L570.0 496.9M570.0 496.9L574.5 495.5M574.5 495.5L579.0 493.8M389.5 492.9L394.0 493.5M394.0 493.5L398.5 494.1M398.5 494.1L403.0 494.7M403.0 494.7L407.5 495.2M407.5 495.2L412.0 495.8M412.0 495.8L416.5 496.4M416.5 496.4L421.0 496.9M421.0 496.9L425.5 497.5M425.5 497.5L430.0 498.0M430.0 498.0L434.5 498.4M434.5 498.4L439.0 498.7M439.0 498.7L443.5 499.1M443.5 499.1L448.0 499.4M448.0 499.4L452.5 499.7M452.5 499.7L457.0 500.0M457.0 500.0L461.5 500.3M461.5 500.3L466.0 500.5M466.0 500.5L470.5 500.8M470.5 500.8L475.0 500.9M475.0 500.9L479.5 501.0M479.5 501.0L484.0 501.0M484.0 501.0L488.5 501.1M488.5 501.1L493.0 501.1M493.0 501.1L497.5 501.1M497.5 501.1L502.0 501.1M502.0 501.1L506.5 500.9M506.5 500.9L511.0 500.6M511.0 500.6L515.5 500.2M515.5 500.2L520.0 499.8M520.0 499.8L524.5 499.2M524.5 499.2L529.0 498.6M529.0 498.6L533.5 497.8M533.5 497.8L538.0 496.9M538.0 496.9L542.5 495.9M542.5 495.9L547.0 494.9M547.0 494.9L551.5 493.8M551.5 493.8L556.0 492.6M461.0 492.9L465.5 493.2M465.5 493.2L470.0 493.5M470.0 493.5L474.5 493.5M474.5 493.5L479.0 493.6M479.0 493.6L483.5 493.7M483.5 493.7L488.0 493.7M488.0 493.7L492.5 493.8M492.5 493.8L497.0 493.7M497.0 493.7L501.5 493.7M501.5 493.7L506.0 493.6M506.0 493.6L510.5 493.2M510.5 493.2L515.0 492.8M595.8 550.7L603.7 536.8M594.7 523.8L602.6 509.7M594.3 516.8L602.3 502.9M593.8 509.8L602.0 496.0M583.5 507.8L592.6 495.5M354.6 501.5L364.5 495.9M365.4 503.4L375.4 497.8M376.3 505.3L386.2 499.7M387.1 507.1L397.1 501.2M572.5 504.3L581.8 492.6M582.7 500.3L591.8 488.2M364.5 495.9L374.5 490.3M375.4 497.8L385.3 492.2M386.2 499.7L396.2 493.8M397.1 501.2L407.1 495.2M408.0 502.6L418.0 496.5M418.9 504.0L428.9 497.9M429.8 505.3L439.9 498.8M440.8 506.2L450.9 499.6M451.8 507.0L461.8 500.3M528.6 506.3L538.5 496.8M539.5 504.4L549.2 494.4M550.2 502.1L559.9 491.6M560.9 499.4L570.5 488.6M571.5 496.5L580.9 485.0M396.2 493.8L406.2 487.7M407.1 495.2L417.1 489.1M418.0 496.5L428.0 490.5M428.9 497.9L439.0 491.4M439.9 498.8L449.9 492.2M450.9 499.6L460.9 492.9M461.8 500.3L471.9 493.5M472.8 500.8L482.9 493.7M483.8 501.0L493.9 493.8M494.8 501.1L504.9 493.6M505.8 501.0L515.8 492.7M516.8 500.1L526.8 491.4M527.7 498.8L537.6 489.3M538.5 496.8L548.3 486.8M549.2 494.4L558.9 483.9M460.9 492.9L470.9 486.1M471.9 493.5L481.9 486.3M482.9 493.7L492.9 486.4M493.9 493.8L503.9 486.3M504.9 493.6L514.9 485.4" stroke="#2053d4"/><path d="M600.5 533.0L605.0 528.3M600.0 526.6L604.5 521.8M599.5 520.0L604.0 515.3M599.0 513.3L603.5 508.7M598.5 506.5L603.0 502.1M593.5 502.5L598.0 499.5M598.0 499.5L602.5 495.5M588.5 497.6L593.0 495.2M593.0 495.2L597.5 492.4M579.0 493.8L583.5 491.9M583.5 491.9L588.0 490.0M588.0 490.0L592.5 487.8M358.0 487.4L362.5 488.2M362.5 488.2L367.0 489.0M367.0 489.0L371.5 489.8M371.5 489.8L376.0 490.6M376.0 490.6L380.5 491.4M380.5 491.4L385.0 492.1M385.0 492.1L389.5 492.9M556.0 492.6L560.5 491.5M560.5 491.5L565.0 490.2M565.0 490.2L569.5 488.9M569.5 488.9L574.0 487.5M574.0 487.5L578.5 485.9M578.5 485.9L583.0 484.2M583.0 484.2L587.5 482.3M362.0 480.8L366.5 481.6M366.5 481.6L371.0 482.4M371.0 482.4L375.5 483.2M375.5 483.2L380.0 484.0M380.0 484.0L384.5 484.8M384.5 484.8L389.0 485.5M389.0 485.5L393.5 486.1M393.5 486.1L398.0 486.7M398.0 486.7L402.5 487.3M402.5 487.3L407.0 487.9M407.0 487.9L411.5 488.4M411.5 488.4L416.0 489.0M416.0 489.0L420.5 489.5M420.5 489.5L425.0 490.1M425.0 490.1L429.5 490.6M429.5 490.6L434.0 491.0M434.0 491.0L438.5 491.4M438.5 491.4L443.0 491.7M443.0 491.7L447.5 492.0M447.5 492.0L452.0 492.4M452.0 492.4L456.5 492.6M456.5 492.6L461.0 492.9M515.0 492.8L519.5 492.3M519.5 492.3L524.0 491.8M524.0 491.8L528.5 491.1M528.5 491.1L533.0 490.3M533.0 490.3L537.5 489.3M537.5 489.3L542.0 488.3M542.0 488.3L546.5 487.2M546.5 487.2L551.0 486.0M551.0 486.0L555.5 484.8M555.5 484.8L560.0 483.6M560.0 483.6L564.5 482.4M564.5 482.4L569.0 481.1M569.0 481.1L573.5 479.6M573.5 479.6L578.0 478.1M393.0 478.8L397.5 479.3M397.5 479.3L402.0 479.9M402.0 479.9L406.5 480.5M406.5 480.5L411.0 481.0M411.0 481.0L415.5 481.6M415.5 481.6L420.0 482.2M420.0 482.2L424.5 482.7M424.5 482.7L429.0 483.3M429.0 483.3L433.5 483.7M433.5 483.7L438.0 484.0M438.0 484.0L442.5 484.3M442.5 484.3L447.0 484.7M447.0 484.7L451.5 485.0M451.5 485.0L456.0 485.3M456.0 485.3L460.5 485.6M460.5 485.6L465.0 485.8M465.0 485.8L469.5 486.1M469.5 486.1L474.0 486.2M474.0 486.2L478.5 486.3M478.5 486.3L483.0 486.3M483.0 486.3L487.5 486.4M487.5 486.4L492.0 486.4M492.0 486.4L496.5 486.4M496.5 486.4L501.0 486.3M501.0 486.3L505.5 486.2M505.5 486.2L510.0 485.8M510.0 485.8L514.5 485.4M514.5 485.4L519.0 484.9M519.0 484.9L523.5 484.3M523.5 484.3L528.0 483.6M528.0 483.6L532.5 482.8M532.5 482.8L537.0 481.8M537.0 481.8L541.5 480.7M541.5 480.7L546.0 479.6M546.0 479.6L550.5 478.4M464.5 478.5L469.0 478.8M469.0 478.8L473.5 478.9M473.5 478.9L478.0 478.9M478.0 478.9L482.5 479.0M482.5 479.0L487.0 479.0M487.0 479.0L491.5 479.0M491.5 479.0L496.0 479.0M496.0 479.0L500.5 479.0M500.5 479.0L505.0 478.9M505.0 478.9L509.5 478.5M509.5 478.5L514.0 478.0M593.3 502.7L601.6 489.2M592.6 495.5L601.1 482.3M581.8 492.6L591.0 480.8M591.8 488.2L600.6 475.5M363.6 488.4L373.5 482.8M374.5 490.3L384.4 484.7M385.3 492.2L395.3 486.4M559.9 491.6L569.5 480.9M570.5 488.6L579.9 477.4M580.9 485.0L590.1 473.4M362.7 481.0L372.6 475.4M373.5 482.8L383.4 477.3M384.4 484.7L394.3 478.9M395.3 486.4L405.2 480.3M406.2 487.7L416.1 481.7M417.1 489.1L427.0 483.0M428.0 490.5L438.0 484.0M439.0 491.4L449.0 484.8M449.9 492.2L459.9 485.5M515.8 492.7L525.8 484.0M526.8 491.4L536.6 481.9M537.6 489.3L547.3 479.3M548.3 486.8L557.9 476.3M558.9 483.9L568.5 473.3M569.5 480.9L578.9 469.9M394.3 478.9L404.3 472.9M405.2 480.3L415.2 474.2M416.1 481.7L426.1 475.6M427.0 483.0L437.0 476.6M438.0 484.0L448.0 477.5M449.0 484.8L459.0 478.1M459.9 485.5L470.0 478.8M470.9 486.1L481.0 479.0M481.9 486.3L492.0 479.0M492.9 486.4L503.0 478.9M503.9 486.3L513.9 478.0M514.9 485.4L524.8 476.7M525.8 484.0L535.6 474.6M536.6 481.9L546.3 471.9M547.3 479.3L556.9 468.9M470.0 478.8L480.0 471.6M481.0 479.0L491.0 471.7M492.0 479.0L502.0 471.6M503.0 478.9L512.9 470.8" stroke="#0f5cdd"/><path d="M599.3 547.8L605.0 542.5M601.0 539.5L605.5 534.8M604.5 521.8L609.0 515.9M604.0 515.3L608.5 509.6M603.5 508.7L608.0 503.3M603.0 502.1L607.5 497.1M602.5 495.5L607.0 491.0M597.5 492.4L602.0 488.8M602.0 488.8L606.5 484.7M592.5 487.8L597.0 485.3M597.0 485.3L601.5 482.1M587.5 482.3L592.0 480.3M592.0 480.3L596.5 478.0M596.5 478.0L601.0 475.2M578.0 478.1L582.5 476.4M582.5 476.4L587.0 474.7M587.0 474.7L591.5 472.8M591.5 472.8L596.0 470.7M366.0 474.2L370.5 475.0M370.5 475.0L375.0 475.8M375.0 475.8L379.5 476.6M379.5 476.6L384.0 477.4M384.0 477.4L388.5 478.1M388.5 478.1L393.0 478.8M550.5 478.4L555.0 477.1M555.0 477.1L559.5 475.9M559.5 475.9L564.0 474.6M564.0 474.6L568.5 473.3M568.5 473.3L573.0 471.9M573.0 471.9L577.5 470.4M577.5 470.4L582.0 468.8M582.0 468.8L586.5 467.1M370.0 467.6L374.5 468.4M374.5 468.4L379.0 469.2M379.0 469.2L383.5 470.0M383.5 470.0L388.0 470.8M388.0 470.8L392.5 471.4M392.5 471.4L397.0 472.0M397.0 472.0L401.5 472.5M401.5 472.5L406.0 473.1M406.0 473.1L410.5 473.7M410.5 473.7L415.0 474.2M415.0 474.2L419.5 474.8M419.5 474.8L424.0 475.4M424.0 475.4L428.5 475.9M428.5 475.9L433.0 476.3M433.0 476.3L437.5 476.7M437.5 476.7L442.0 477.0M442.0 477.0L446.5 477.3M446.5 477.3L451.0 477.7M451.0 477.7L455.5 477.9M455.5 477.9L460.0 478.2M460.0 478.2L464.5 478.5M514.0 478.0L518.5 477.5M518.5 477.5L523.0 476.9M523.0 476.9L527.5 476.2M527.5 476.2L532.0 475.4M532.0 475.4L536.5 474.3M536.5 474.3L541.0 473.2M541.0 473.2L545.5 472.1M545.5 472.1L550.0 470.9M550.0 470.9L554.5 469.5M554.5 469.5L559.0 468.3M559.0 468.3L563.5 467.1M563.5 467.1L568.0 465.7M568.0 465.7L572.5 464.3M572.5 464.3L577.0 462.8M392.0 464.1L396.5 464.6M396.5 464.6L401.0 465.2M401.0 465.2L405.5 465.7M405.5 465.7L410.0 466.3M410.0 466.3L414.5 466.9M414.5 466.9L419.0 467.4M419.0 467.4L423.5 468.0M423.5 468.0L428.0 468.6M428.0 468.6L432.5 469.0M432.5 469.0L437.0 469.3M437.0 469.3L441.5 469.7M441.5 469.7L446.0 470.0M446.0 470.0L450.5 470.3M450.5 470.3L455.0 470.6M455.0 470.6L459.5 470.9M459.5 470.9L464.0 471.1M464.0 471.1L468.5 471.4M468.5 471.4L473.0 471.5M473.0 471.5L477.5 471.6M477.5 471.6L482.0 471.6M482.0 471.6L486.5 471.7M486.5 471.7L491.0 471.7M491.0 471.7L495.5 471.7M495.5 471.7L500.0 471.6M500.0 471.6L504.5 471.5M504.5 471.5L509.0 471.1M509.0 471.1L513.5 470.7M513.5 470.7L518.0 470.2M518.0 470.2L522.5 469.6M522.5 469.6L527.0 468.9M527.0 468.9L531.5 468.1M531.5 468.1L536.0 467.0M536.0 467.0L540.5 465.9M540.5 465.9L545.0 464.8M545.0 464.8L549.5 463.5M468.0 464.1L472.5 464.2M472.5 464.2L477.0 464.2M477.0 464.2L481.5 464.3M481.5 464.3L486.0 464.3M486.0 464.3L490.5 464.3M490.5 464.3L495.0 464.3M495.0 464.3L499.5 464.3M499.5 464.3L504.0 464.2M504.0 464.2L508.5 463.8M603.5 530.1L609.9 514.6M603.2 523.3L609.7 507.9M602.9 516.5L609.6 501.2M602.6 509.7L609.5 494.6M602.3 502.9L609.5 488.0M602.0 496.0L609.5 481.6M601.6 489.2L609.5 475.2M591.0 480.8L600.0 468.6M579.9 477.4L589.2 466.0M590.1 473.4L599.3 461.7M372.6 475.4L382.5 469.8M383.4 477.3L393.3 471.5M557.9 476.3L567.5 465.9M568.5 473.3L577.9 462.5M578.9 469.9L588.3 458.8M371.6 467.9L381.5 462.3M382.5 469.8L392.4 464.1M393.3 471.5L403.3 465.5M404.3 472.9L414.2 466.8M415.2 474.2L425.1 468.2M426.1 475.6L436.1 469.3M437.0 476.6L447.0 470.1M448.0 477.5L458.0 470.8M459.0 478.1L469.0 471.4M513.9 478.0L523.9 469.4M524.8 476.7L534.7 467.3M535.6 474.6L545.3 464.7M546.3 471.9L555.9 461.7M556.9 468.9L566.5 458.7M567.5 465.9L577.0 455.3M392.4 464.1L402.3 458.0M403.3 465.5L413.2 459.4M414.2 466.8L424.1 460.8M425.1 468.2L435.1 461.9M436.1 469.3L446.0 462.7M447.0 470.1L457.0 463.4M458.0 470.8L468.0 464.1M469.0 471.4L479.0 464.3M480.0 471.6L490.0 464.3M491.0 471.7L501.0 464.2M502.0 471.6L512.0 463.5M512.9 470.8L522.9 462.1M523.9 469.4L533.7 460.2M534.7 467.3L544.4 457.5M545.3 464.7L555.0 454.5M468.0 464.1L478.0 456.9M479.0 464.3L489.0 457.0M490.0 464.3L500.0 456.9M501.0 464.2L511.0 456.2" stroke="#0363e1"/><path d="M605.0 528.3L609.5 522.3M608.5 509.6L613.0 503.0M608.0 503.3L612.5 497.1M607.5 497.1L612.0 491.2M607.0 491.0L611.5 485.5M606.5 484.7L611.0 479.8M601.5 482.1L606.0 478.5M606.0 478.5L610.5 474.2M601.0 475.2L605.5 472.2M596.0 470.7L600.5 468.4M600.5 468.4L605.0 465.7M586.5 467.1L591.0 465.3M591.0 465.3L595.5 463.4M595.5 463.4L600.0 461.4M577.0 462.8L581.5 461.2M581.5 461.2L586.0 459.6M586.0 459.6L590.5 457.9M590.5 457.9L595.0 456.1M374.0 461.0L378.5 461.8M378.5 461.8L383.0 462.6M383.0 462.6L387.5 463.4M387.5 463.4L392.0 464.1M549.5 463.5L554.0 462.2M554.0 462.2L558.5 461.0M558.5 461.0L563.0 459.7M563.0 459.7L567.5 458.4M567.5 458.4L572.0 457.0M572.0 457.0L576.5 455.5M576.5 455.5L581.0 453.9M581.0 453.9L585.5 452.3M378.0 454.4L382.5 455.2M382.5 455.2L387.0 456.0M387.0 456.0L391.5 456.7M391.5 456.7L396.0 457.2M396.0 457.2L400.5 457.8M400.5 457.8L405.0 458.4M405.0 458.4L409.5 458.9M409.5 458.9L414.0 459.5M414.0 459.5L418.5 460.1M418.5 460.1L423.0 460.6M423.0 460.6L427.5 461.2M427.5 461.2L432.0 461.6M432.0 461.6L436.5 462.0M436.5 462.0L441.0 462.3M441.0 462.3L445.5 462.7M445.5 462.7L450.0 463.0M450.0 463.0L454.5 463.3M454.5 463.3L459.0 463.5M459.0 463.5L463.5 463.8M463.5 463.8L468.0 464.1M508.5 463.8L513.0 463.4M513.0 463.4L517.5 462.9M517.5 462.9L522.0 462.3M522.0 462.3L526.5 461.6M526.5 461.6L531.0 460.8M531.0 460.8L535.5 459.7M535.5 459.7L540.0 458.6M540.0 458.6L544.5 457.5M544.5 457.5L549.0 456.3M549.0 456.3L553.5 455.0M553.5 455.0L558.0 453.7M558.0 453.7L562.5 452.5M562.5 452.5L567.0 451.2M567.0 451.2L571.5 449.8M571.5 449.8L576.0 448.3M395.5 449.9L400.0 450.4M400.0 450.4L404.5 451.0M404.5 451.0L409.0 451.6M409.0 451.6L413.5 452.1M413.5 452.1L418.0 452.7M418.0 452.7L422.5 453.3M422.5 453.3L427.0 453.8M427.0 453.8L431.5 454.3M431.5 454.3L436.0 454.7M436.0 454.7L440.5 455.0M440.5 455.0L445.0 455.3M445.0 455.3L449.5 455.7M449.5 455.7L454.0 455.9M454.0 455.9L458.5 456.2M458.5 456.2L463.0 456.4M463.0 456.4L467.5 456.7M467.5 456.7L472.0 456.9M472.0 456.9L476.5 456.9M476.5 456.9L481.0 457.0M481.0 457.0L485.5 457.0M485.5 457.0L490.0 457.0M490.0 457.0L494.5 457.0M494.5 457.0L499.0 456.9M499.0 456.9L503.5 456.8M503.5 456.8L508.0 456.5M508.0 456.5L512.5 456.1M512.5 456.1L517.0 455.6M517.0 455.6L521.5 455.0M521.5 455.0L526.0 454.3M526.0 454.3L530.5 453.5M530.5 453.5L535.0 452.5M535.0 452.5L539.5 451.4M539.5 451.4L544.0 450.2M544.0 450.2L548.5 449.0M476.0 449.6L480.5 449.6M480.5 449.6L485.0 449.6M485.0 449.6L489.5 449.7M489.5 449.7L494.0 449.6M494.0 449.6L498.5 449.6M498.5 449.6L503.0 449.5M603.7 536.8L610.2 521.3M609.6 501.2L615.6 485.4M609.5 494.6L615.7 479.0M609.5 488.0L616.0 472.7M601.1 482.3L609.5 469.0M600.6 475.5L609.4 462.8M600.0 468.6L609.1 456.7M589.2 466.0L598.5 454.7M577.9 462.5L587.3 451.6M588.3 458.8L597.6 447.7M381.5 462.3L391.4 456.7M555.9 461.7L565.6 451.6M566.5 458.7L576.0 448.3M577.0 455.3L586.4 444.6M380.5 454.8L390.4 449.2M391.4 456.7L401.3 450.6M402.3 458.0L412.2 452.0M413.2 459.4L423.1 453.3M424.1 460.8L434.1 454.5M435.1 461.9L445.0 455.3M446.0 462.7L456.0 456.0M457.0 463.4L467.0 456.7M512.0 463.5L521.9 454.9M522.9 462.1L532.7 453.0M533.7 460.2L543.4 450.4M544.4 457.5L554.0 447.4M555.0 454.5L564.6 444.5M565.6 451.6L575.1 441.3M401.3 450.6L411.2 444.6M412.2 452.0L422.1 445.9M423.1 453.3L433.1 447.1M434.1 454.5L444.0 448.0M445.0 455.3L455.0 448.7M456.0 456.0L466.0 449.3M467.0 456.7L477.0 449.6M478.0 456.9L488.0 449.7M489.0 457.0L499.0 449.6M500.0 456.9L510.0 449.0M511.0 456.2L520.9 447.7M521.9 454.9L531.7 445.9M532.7 453.0L542.4 443.3M543.4 450.4L553.1 440.4M477.0 449.6L487.0 442.3M488.0 449.7L498.0 442.2M499.0 449.6L509.0 441.7" stroke="#0268e1"/><path d="M605.5 534.8L610.0 528.9M609.0 515.9L613.5 509.2M612.5 497.1L617.0 489.0M612.0 491.2L616.5 483.6M611.5 485.5L616.0 478.5M611.0 479.8L615.5 473.5M610.5 474.2L615.0 468.7M605.5 472.2L610.0 468.5M610.0 468.5L614.5 464.0M605.0 465.7L609.5 462.8M609.5 462.8L614.0 459.3M600.0 461.4L604.5 459.2M604.5 459.2L609.0 456.8M595.0 456.1L599.5 454.3M599.5 454.3L604.0 452.5M585.5 452.3L590.0 450.6M590.0 450.6L594.5 448.9M594.5 448.9L599.0 447.2M576.0 448.3L580.5 446.7M580.5 446.7L585.0 445.1M585.0 445.1L589.5 443.5M589.5 443.5L594.0 441.8M382.0 447.8L386.5 448.6M386.5 448.6L391.0 449.3M391.0 449.3L395.5 449.9M548.5 449.0L553.0 447.7M553.0 447.7L557.5 446.5M557.5 446.5L562.0 445.3M562.0 445.3L566.5 444.0M566.5 444.0L571.0 442.6M571.0 442.6L575.5 441.1M575.5 441.1L580.0 439.6M580.0 439.6L584.5 438.0M386.0 441.2L390.5 442.0M390.5 442.0L395.0 442.5M395.0 442.5L399.5 443.1M399.5 443.1L404.0 443.6M404.0 443.6L408.5 444.2M408.5 444.2L413.0 444.8M413.0 444.8L417.5 445.3M417.5 445.3L422.0 445.9M422.0 445.9L426.5 446.5M426.5 446.5L431.0 447.0M431.0 447.0L435.5 447.3M435.5 447.3L440.0 447.6M440.0 447.6L444.5 448.0M444.5 448.0L449.0 448.3M449.0 448.3L453.5 448.6M453.5 448.6L458.0 448.8M458.0 448.8L462.5 449.1M462.5 449.1L467.0 449.4M467.0 449.4L471.5 449.5M471.5 449.5L476.0 449.6M503.0 449.5L507.5 449.2M507.5 449.2L512.0 448.8M512.0 448.8L516.5 448.3M516.5 448.3L521.0 447.7M521.0 447.7L525.5 447.0M525.5 447.0L530.0 446.3M530.0 446.3L534.5 445.2M534.5 445.2L539.0 444.1M539.0 444.1L543.5 443.0M543.5 443.0L548.0 441.9M548.0 441.9L552.5 440.6M552.5 440.6L557.0 439.3M557.0 439.3L561.5 438.1M561.5 438.1L566.0 436.9M566.0 436.9L570.5 435.5M570.5 435.5L575.0 434.1M394.5 435.2L399.0 435.7M399.0 435.7L403.5 436.3M403.5 436.3L408.0 436.9M408.0 436.9L412.5 437.4M412.5 437.4L417.0 438.0M417.0 438.0L421.5 438.5M421.5 438.5L426.0 439.1M426.0 439.1L430.5 439.6M430.5 439.6L435.0 440.0M435.0 440.0L439.5 440.3M439.5 440.3L444.0 440.6M444.0 440.6L448.5 441.0M448.5 441.0L453.0 441.3M453.0 441.3L457.5 441.5M457.5 441.5L462.0 441.8M462.0 441.8L466.5 442.0M466.5 442.0L471.0 442.2M471.0 442.2L475.5 442.2M475.5 442.2L480.0 442.3M480.0 442.3L484.5 442.3M484.5 442.3L489.0 442.3M489.0 442.3L493.5 442.3M493.5 442.3L498.0 442.2M498.0 442.2L502.5 442.1M502.5 442.1L507.0 441.9M507.0 441.9L511.5 441.5M511.5 441.5L516.0 441.0M516.0 441.0L520.5 440.4M520.5 440.4L525.0 439.7M525.0 439.7L529.5 439.0M529.5 439.0L534.0 438.0M534.0 438.0L538.5 436.9M538.5 436.9L543.0 435.8M543.0 435.8L547.5 434.7M609.9 514.6L615.6 498.5M609.7 507.9L615.5 491.9M609.5 481.6L616.5 466.7M609.5 475.2L617.3 461.2M609.5 469.0L618.2 456.3M609.4 462.8L618.8 451.5M599.3 461.7L608.6 450.5M598.5 454.7L607.9 443.8M587.3 451.6L596.7 440.7M576.0 448.3L585.5 437.6M586.4 444.6L595.8 433.8M390.4 449.2L400.3 443.2M554.0 447.4L563.7 437.5M564.6 444.5L574.2 434.3M575.1 441.3L584.6 430.8M389.4 441.8L399.3 435.8M400.3 443.2L410.2 437.1M411.2 444.6L421.2 438.5M422.1 445.9L432.1 439.8M433.1 447.1L443.1 440.6M444.0 448.0L454.0 441.3M455.0 448.7L465.0 441.9M466.0 449.3L476.0 442.3M510.0 449.0L519.9 440.5M520.9 447.7L530.8 438.8M531.7 445.9L541.5 436.2M542.4 443.3L552.1 433.4M553.1 440.4L562.7 430.6M563.7 437.5L573.3 427.5M399.3 435.8L409.3 429.7M410.2 437.1L420.2 431.1M421.2 438.5L431.1 432.4M432.1 439.8L442.1 433.2M443.1 440.6L453.0 434.0M454.0 441.3L464.0 434.6M465.0 441.9L475.0 434.9M476.0 442.3L486.0 435.0M487.0 442.3L497.0 434.9M498.0 442.2L508.0 434.4M509.0 441.7L518.9 433.3M519.9 440.5L529.8 431.6M530.8 438.8L540.5 429.1M541.5 436.2L551.2 426.4" stroke="#046de0"/><path d="M605.0 542.5L609.3 537.3M609.5 522.3L614.0 515.5M613.5 509.2L618.0 500.7M613.0 503.0L617.5 494.7M617.0 489.0L621.5 477.9M616.5 483.6L621.0 473.3M616.0 478.5L620.5 469.4M615.5 473.5L620.0 466.0M615.0 468.7L619.5 462.8M614.5 464.0L619.0 459.6M614.0 459.3L618.5 456.1M609.0 456.8L613.5 454.3M613.5 454.3L618.0 451.9M604.0 452.5L608.5 450.5M608.5 450.5L613.0 448.6M599.0 447.2L603.5 445.5M603.5 445.5L608.0 443.7M608.0 443.7L612.5 442.0M594.0 441.8L598.5 440.0M598.5 440.0L603.0 438.3M603.0 438.3L607.5 436.6M584.5 438.0L589.0 436.3M589.0 436.3L593.5 434.7M593.5 434.7L598.0 432.9M575.0 434.1L579.5 432.6M579.5 432.6L584.0 431.0M584.0 431.0L588.5 429.4M588.5 429.4L593.0 427.7M390.0 434.6L394.5 435.2M547.5 434.7L552.0 433.5M552.0 433.5L556.5 432.2M556.5 432.2L561.0 431.1M561.0 431.1L565.5 429.8M565.5 429.8L570.0 428.5M570.0 428.5L574.5 427.1M574.5 427.1L579.0 425.6M579.0 425.6L583.5 424.1M394.0 427.8L398.5 428.4M398.5 428.4L403.0 428.9M403.0 428.9L407.5 429.5M407.5 429.5L412.0 430.1M412.0 430.1L416.5 430.6M416.5 430.6L421.0 431.2M421.0 431.2L425.5 431.7M425.5 431.7L430.0 432.3M430.0 432.3L434.5 432.6M434.5 432.6L439.0 433.0M439.0 433.0L443.5 433.3M443.5 433.3L448.0 433.7M448.0 433.7L452.5 433.9M452.5 433.9L457.0 434.2M457.0 434.2L461.5 434.4M461.5 434.4L466.0 434.7M466.0 434.7L470.5 434.9M470.5 434.9L475.0 434.9M475.0 434.9L479.5 434.9M479.5 434.9L484.0 435.0M484.0 435.0L488.5 435.0M488.5 435.0L493.0 434.9M493.0 434.9L497.5 434.9M497.5 434.9L502.0 434.8M502.0 434.8L506.5 434.6M506.5 434.6L511.0 434.2M511.0 434.2L515.5 433.7M515.5 433.7L520.0 433.1M520.0 433.1L524.5 432.5M524.5 432.5L529.0 431.8M529.0 431.8L533.5 430.8M533.5 430.8L538.0 429.7M538.0 429.7L542.5 428.7M542.5 428.7L547.0 427.6M547.0 427.6L551.5 426.4M551.5 426.4L556.0 425.1M556.0 425.1L560.5 424.0M560.5 424.0L565.0 422.8M565.0 422.8L569.5 421.5M569.5 421.5L574.0 420.2M398.0 421.0L402.5 421.6M402.5 421.6L407.0 422.1M407.0 422.1L411.5 422.7M411.5 422.7L416.0 423.2M416.0 423.2L420.5 423.8M420.5 423.8L425.0 424.4M425.0 424.4L429.5 424.9M429.5 424.9L434.0 425.3M434.0 425.3L438.5 425.6M438.5 425.6L443.0 426.0M443.0 426.0L447.5 426.3M447.5 426.3L452.0 426.6M452.0 426.6L456.5 426.8M456.5 426.8L461.0 427.1M461.0 427.1L465.5 427.3M465.5 427.3L470.0 427.6M470.0 427.6L474.5 427.6M474.5 427.6L479.0 427.6M479.0 427.6L483.5 427.6M483.5 427.6L488.0 427.6M488.0 427.6L492.5 427.6M492.5 427.6L497.0 427.6M497.0 427.6L501.5 427.5M501.5 427.5L506.0 427.3M506.0 427.3L510.5 426.9M510.5 426.9L515.0 426.4M515.0 426.4L519.5 425.8M519.5 425.8L524.0 425.2M524.0 425.2L528.5 424.5M528.5 424.5L533.0 423.6M533.0 423.6L537.5 422.6M537.5 422.6L542.0 421.5M542.0 421.5L546.5 420.4M604.0 543.5L610.5 528.1M610.2 521.3L615.7 505.2M615.6 498.5L620.0 481.9M615.5 491.9L620.1 475.4M615.6 485.4L620.6 469.1M615.7 479.0L621.8 463.3M616.0 472.7L623.5 458.2M616.5 466.7L625.6 454.0M617.3 461.2L627.5 450.5M609.1 456.7L618.8 446.2M608.6 450.5L618.2 439.9M597.6 447.7L607.0 436.8M607.9 443.8L617.3 432.9M596.7 440.7L606.1 429.8M585.5 437.6L594.9 427.0M595.8 433.8L605.2 423.1M574.2 434.3L583.7 424.0M584.6 430.8L594.1 420.3M552.1 433.4L561.8 423.7M562.7 430.6L572.4 420.7M573.3 427.5L582.9 417.3M398.3 428.3L408.3 422.3M409.3 429.7L419.2 423.7M420.2 431.1L430.2 425.0M431.1 432.4L441.1 425.8M442.1 433.2L452.1 426.6M453.0 434.0L463.1 427.2M464.0 434.6L474.1 427.6M475.0 434.9L485.1 427.6M486.0 435.0L496.1 427.6M497.0 434.9L507.1 427.2M508.0 434.4L518.0 426.0M518.9 433.3L528.9 424.5M529.8 431.6L539.6 422.1M540.5 429.1L550.3 419.5M551.2 426.4L561.0 416.7M561.8 423.7L571.6 413.9M408.3 422.3L418.3 416.2M419.2 423.7L429.3 417.6M430.2 425.0L440.2 418.5M441.1 425.8L451.2 419.3M452.1 426.6L462.2 419.8M463.1 427.2L473.2 420.2M474.1 427.6L484.2 420.3M485.1 427.6L495.2 420.2M496.1 427.6L506.2 419.9M507.1 427.2L517.1 418.8M518.0 426.0L528.0 417.3M528.9 424.5L538.8 415.0M539.6 422.1L549.5 412.5" stroke="#0871de"/><path d="M610.0 528.9L614.5 522.0M617.5 494.7L622.0 483.2M621.5 477.9L626.0 466.2M621.0 473.3L625.5 463.5M620.5 469.4L625.0 461.3M620.0 466.0L624.5 459.4M619.5 462.8L624.0 457.7M619.0 459.6L623.5 455.6M618.5 456.1L623.0 453.1M618.0 451.9L622.5 449.6M613.0 448.6L617.5 446.7M617.5 446.7L622.0 444.9M612.5 442.0L617.0 440.3M617.0 440.3L621.5 438.7M607.5 436.6L612.0 434.8M612.0 434.8L616.5 433.1M598.0 432.9L602.5 431.2M602.5 431.2L607.0 429.5M607.0 429.5L611.5 427.8M593.0 427.7L597.5 426.0M597.5 426.0L602.0 424.3M602.0 424.3L606.5 422.6M583.5 424.1L588.0 422.5M588.0 422.5L592.5 420.9M592.5 420.9L597.0 419.2M597.0 419.2L601.5 417.6M574.0 420.2L578.5 418.7M578.5 418.7L583.0 417.3M583.0 417.3L587.5 415.7M587.5 415.7L592.0 414.1M546.5 420.4L551.0 419.3M551.0 419.3L555.5 418.0M555.5 418.0L560.0 417.0M560.0 417.0L564.5 415.8M564.5 415.8L569.0 414.6M569.0 414.6L573.5 413.3M573.5 413.3L578.0 411.9M578.0 411.9L582.5 410.5M582.5 410.5L587.0 409.0M402.0 414.2L406.5 414.8M406.5 414.8L411.0 415.3M411.0 415.3L415.5 415.9M415.5 415.9L420.0 416.5M420.0 416.5L424.5 417.0M424.5 417.0L429.0 417.6M429.0 417.6L433.5 418.0M433.5 418.0L438.0 418.3M438.0 418.3L442.5 418.6M442.5 418.6L447.0 419.0M447.0 419.0L451.5 419.3M451.5 419.3L456.0 419.5M456.0 419.5L460.5 419.7M460.5 419.7L465.0 420.0M465.0 420.0L469.5 420.2M469.5 420.2L474.0 420.3M474.0 420.3L478.5 420.3M478.5 420.3L483.0 420.3M483.0 420.3L487.5 420.3M487.5 420.3L492.0 420.3M492.0 420.3L496.5 420.2M496.5 420.2L501.0 420.1M501.0 420.1L505.5 420.0M505.5 420.0L510.0 419.6M510.0 419.6L514.5 419.1M514.5 419.1L519.0 418.6M519.0 418.6L523.5 418.0M523.5 418.0L528.0 417.3M528.0 417.3L532.5 416.4M532.5 416.4L537.0 415.4M537.0 415.4L541.5 414.3M541.5 414.3L546.0 413.3M546.0 413.3L550.5 412.2M550.5 412.2L555.0 411.0M555.0 411.0L559.5 410.0M559.5 410.0L564.0 408.9M564.0 408.9L568.5 407.7M568.5 407.7L573.0 406.4M406.0 407.4L410.5 408.0M410.5 408.0L415.0 408.5M415.0 408.5L419.5 409.1M419.5 409.1L424.0 409.6M424.0 409.6L428.5 410.2M428.5 410.2L433.0 410.6M433.0 410.6L437.5 411.0M437.5 411.0L442.0 411.3M442.0 411.3L446.5 411.6M446.5 411.6L451.0 412.0M451.0 412.0L455.5 412.2M455.5 412.2L460.0 412.4M460.0 412.4L464.5 412.6M464.5 412.6L469.0 412.9M469.0 412.9L473.5 412.9M473.5 412.9L478.0 412.9M478.0 412.9L482.5 413.0M482.5 413.0L487.0 412.9M487.0 412.9L491.5 412.9M491.5 412.9L496.0 412.9M496.0 412.9L500.5 412.8M500.5 412.8L505.0 412.7M505.0 412.7L509.5 412.3M509.5 412.3L514.0 411.8M514.0 411.8L518.5 411.3M518.5 411.3L523.0 410.7M523.0 410.7L527.5 410.1M527.5 410.1L532.0 409.2M532.0 409.2L536.5 408.2M536.5 408.2L541.0 407.2M541.0 407.2L545.5 406.2M615.7 505.2L620.1 488.5M620.1 488.5L623.8 471.6M620.0 481.9L624.6 465.3M620.1 475.4L626.0 459.5M620.6 469.1L628.3 454.5M621.8 463.3L631.5 450.7M618.2 456.3L628.8 446.9M618.8 451.5L629.1 442.4M618.8 446.2L628.6 436.2M607.0 436.8L616.4 426.0M606.1 429.8L615.5 419.3M594.9 427.0L604.4 416.5M583.7 424.0L593.3 413.7M594.1 420.3L603.6 410.0M572.4 420.7L582.1 410.6M582.9 417.3L592.5 407.1M550.3 419.5L560.1 409.8M561.0 416.7L570.8 407.1M571.6 413.9L581.3 403.9M582.1 410.6L591.8 400.6M407.4 414.9L417.6 408.8M418.3 416.2L428.5 410.2M429.3 417.6L439.4 411.1M440.2 418.5L450.4 411.9M451.2 419.3L461.4 412.5M462.2 419.8L472.4 412.9M473.2 420.2L483.4 413.0M484.2 420.3L494.4 412.9M495.2 420.2L505.4 412.6M506.2 419.9L516.3 411.6M517.1 418.8L527.2 410.1M528.0 417.3L538.0 407.9M538.8 415.0L548.7 405.4M549.5 412.5L559.4 402.9M560.1 409.8L570.1 400.2M570.8 407.1L580.7 397.2M406.6 407.5L416.8 401.4M417.6 408.8L427.7 402.8M428.5 410.2L438.7 403.8M439.4 411.1L449.6 404.6M450.4 411.9L460.6 405.1M461.4 412.5L471.6 405.6M472.4 412.9L482.6 405.6M483.4 413.0L493.6 405.6M494.4 412.9L504.6 405.3M505.4 412.6L515.6 404.3M516.3 411.6L526.5 402.9M527.2 410.1L537.3 400.8M538.0 407.9L548.0 398.4" stroke="#0d75dc"/><path d="M614.0 515.5L618.5 507.0M618.0 500.7L622.5 489.2M622.0 483.2L626.5 469.7M625.5 463.5L630.0 454.7M625.0 461.3L629.5 454.0M624.5 459.4L629.0 453.6M624.0 457.7L628.5 453.1M623.5 455.6L628.0 452.2M623.0 453.1L627.5 450.5M622.5 449.6L627.0 447.6M622.0 444.9L626.5 443.3M626.5 443.3L631.0 441.7M621.5 438.7L626.0 437.1M616.5 433.1L621.0 431.5M621.0 431.5L625.5 429.9M611.5 427.8L616.0 426.1M616.0 426.1L620.5 424.5M606.5 422.6L611.0 420.9M611.0 420.9L615.5 419.3M601.5 417.6L606.0 415.9M606.0 415.9L610.5 414.2M592.0 414.1L596.5 412.5M596.5 412.5L601.0 410.9M601.0 410.9L605.5 409.3M587.0 409.0L591.5 407.5M591.5 407.5L596.0 405.9M596.0 405.9L600.5 404.3M573.0 406.4L577.5 405.1M577.5 405.1L582.0 403.7M582.0 403.7L586.5 402.3M586.5 402.3L591.0 400.8M591.0 400.8L595.5 399.3M545.5 406.2L550.0 405.1M550.0 405.1L554.5 404.0M554.5 404.0L559.0 403.0M559.0 403.0L563.5 401.9M563.5 401.9L568.0 400.8M568.0 400.8L572.5 399.6M572.5 399.6L577.0 398.3M577.0 398.3L581.5 397.0M581.5 397.0L586.0 395.6M410.0 400.6L414.5 401.2M414.5 401.2L419.0 401.7M419.0 401.7L423.5 402.3M423.5 402.3L428.0 402.9M428.0 402.9L432.5 403.3M432.5 403.3L437.0 403.6M437.0 403.6L441.5 404.0M441.5 404.0L446.0 404.3M446.0 404.3L450.5 404.6M450.5 404.6L455.0 404.8M455.0 404.8L459.5 405.1M459.5 405.1L464.0 405.3M464.0 405.3L468.5 405.5M468.5 405.5L473.0 405.6M473.0 405.6L477.5 405.6M477.5 405.6L482.0 405.6M482.0 405.6L486.5 405.6M486.5 405.6L491.0 405.6M491.0 405.6L495.5 405.5M495.5 405.5L500.0 405.5M500.0 405.5L504.5 405.3M504.5 405.3L509.0 405.0M509.0 405.0L513.5 404.5M513.5 404.5L518.0 404.0M518.0 404.0L522.5 403.5M522.5 403.5L527.0 402.8M527.0 402.8L531.5 402.0M531.5 402.0L536.0 401.1M536.0 401.1L540.5 400.0M540.5 400.0L545.0 399.1M545.0 399.1L549.5 398.1M549.5 398.1L554.0 396.9M554.0 396.9L558.5 396.0M558.5 396.0L563.0 395.0M563.0 395.0L567.5 393.9M567.5 393.9L572.0 392.7M572.0 392.7L576.5 391.5M414.0 393.8L418.5 394.4M418.5 394.4L423.0 394.9M423.0 394.9L427.5 395.5M427.5 395.5L432.0 395.9M432.0 395.9L436.5 396.3M436.5 396.3L441.0 396.6M441.0 396.6L445.5 397.0M445.5 397.0L450.0 397.3M450.0 397.3L454.5 397.5M454.5 397.5L459.0 397.7M459.0 397.7L463.5 398.0M463.5 398.0L468.0 398.2M468.0 398.2L472.5 398.3M472.5 398.3L477.0 398.3M477.0 398.3L481.5 398.3M481.5 398.3L486.0 398.3M486.0 398.3L490.5 398.2M490.5 398.2L495.0 398.2M495.0 398.2L499.5 398.1M499.5 398.1L504.0 398.0M504.0 398.0L508.5 397.7M508.5 397.7L513.0 397.2M513.0 397.2L517.5 396.7M517.5 396.7L522.0 396.2M522.0 396.2L526.5 395.6M526.5 395.6L531.0 394.8M531.0 394.8L535.5 393.9M535.5 393.9L540.0 392.9M540.0 392.9L544.5 392.0M544.5 392.0L549.0 391.0M610.5 528.1L616.0 512.0M616.0 512.0L620.3 495.2M620.3 495.2L623.6 478.1M623.6 478.1L628.1 461.4M623.8 471.6L629.6 455.5M624.6 465.3L632.1 450.4M626.0 459.5L636.5 447.3M623.5 458.2L635.1 448.5M625.6 454.0L637.7 446.2M618.2 439.9L627.6 429.2M617.3 432.9L626.7 422.3M616.4 426.0L625.9 415.6M605.2 423.1L614.7 412.7M604.4 416.5L614.0 406.2M593.3 413.7L602.9 403.5M603.6 410.0L613.3 399.9M592.5 407.1L602.2 397.1M581.3 403.9L591.2 394.0M591.8 400.6L601.7 390.6M548.7 405.4L558.7 395.9M559.4 402.9L569.4 393.4M570.1 400.2L580.0 390.5M580.7 397.2L590.6 387.4M416.8 401.4L426.9 395.4M427.7 402.8L437.9 396.4M438.7 403.8L448.9 397.2M449.6 404.6L459.9 397.8M460.6 405.1L470.8 398.3M471.6 405.6L481.8 398.3M482.6 405.6L492.8 398.2M493.6 405.6L503.8 398.0M504.6 405.3L514.8 397.0M515.6 404.3L525.7 395.7M526.5 402.9L536.5 393.7M537.3 400.8L547.3 391.4M548.0 398.4L558.0 388.9M558.7 395.9L568.7 386.5M569.4 393.4L579.4 383.8M416.0 394.1L426.1 388.0M426.9 395.4L437.1 389.0M437.9 396.4L448.1 389.9M448.9 397.2L459.0 390.4M459.9 397.8L470.0 390.9M470.8 398.3L481.0 390.9M481.8 398.3L492.0 390.9M492.8 398.2L503.0 390.7M503.8 398.0L514.0 389.8M514.8 397.0L524.9 388.5M525.7 395.7L535.7 386.5M536.5 393.7L546.5 384.3" stroke="#1079da"/><path d="M609.3 537.3L613.0 532.0M618.5 507.0L623.0 495.8M622.5 489.2L627.0 474.3M626.5 469.7L631.0 458.2M626.0 466.2L630.5 456.0M629.0 453.6L633.5 449.3M628.5 453.1L633.0 449.8M628.0 452.2L632.5 449.7M627.5 450.5L632.0 448.5M627.0 447.6L631.5 446.0M626.0 437.1L630.5 435.6M625.5 429.9L630.0 428.4M620.5 424.5L625.0 422.9M625.0 422.9L629.5 421.4M615.5 419.3L620.0 417.6M620.0 417.6L624.5 416.1M624.5 416.1L629.0 414.6M610.5 414.2L615.0 412.6M615.0 412.6L619.5 411.0M619.5 411.0L624.0 409.5M605.5 409.3L610.0 407.7M610.0 407.7L614.5 406.1M614.5 406.1L619.0 404.5M600.5 404.3L605.0 402.8M605.0 402.8L609.5 401.2M609.5 401.2L614.0 399.6M595.5 399.3L600.0 397.8M600.0 397.8L604.5 396.3M604.5 396.3L609.0 394.8M586.0 395.6L590.5 394.2M590.5 394.2L595.0 392.8M595.0 392.8L599.5 391.3M576.5 391.5L581.0 390.3M581.0 390.3L585.5 389.0M585.5 389.0L590.0 387.6M590.0 387.6L594.5 386.2M549.0 391.0L553.5 389.9M553.5 389.9L558.0 388.9M558.0 388.9L562.5 388.0M562.5 388.0L567.0 387.0M567.0 387.0L571.5 385.9M571.5 385.9L576.0 384.7M576.0 384.7L580.5 383.5M580.5 383.5L585.0 382.3M585.0 382.3L589.5 381.0M418.0 387.0L422.5 387.6M422.5 387.6L427.0 388.1M427.0 388.1L431.5 388.6M431.5 388.6L436.0 389.0M436.0 389.0L440.5 389.3M440.5 389.3L445.0 389.6M445.0 389.6L449.5 390.0M449.5 390.0L454.0 390.2M454.0 390.2L458.5 390.4M458.5 390.4L463.0 390.6M463.0 390.6L467.5 390.8M467.5 390.8L472.0 390.9M472.0 390.9L476.5 390.9M476.5 390.9L481.0 390.9M481.0 390.9L485.5 390.9M485.5 390.9L490.0 390.9M490.0 390.9L494.5 390.9M494.5 390.9L499.0 390.8M499.0 390.8L503.5 390.7M503.5 390.7L508.0 390.4M508.0 390.4L512.5 389.9M512.5 389.9L517.0 389.5M517.0 389.5L521.5 388.9M521.5 388.9L526.0 388.3M526.0 388.3L530.5 387.6M530.5 387.6L535.0 386.7M535.0 386.7L539.5 385.7M539.5 385.7L544.0 384.8M544.0 384.8L548.5 383.9M548.5 383.9L553.0 382.8M553.0 382.8L557.5 381.9M557.5 381.9L562.0 381.0M562.0 381.0L566.5 380.0M566.5 380.0L571.0 379.0M571.0 379.0L575.5 377.9M422.0 380.2L426.5 380.8M426.5 380.8L431.0 381.3M431.0 381.3L435.5 381.6M435.5 381.6L440.0 382.0M440.0 382.0L444.5 382.3M444.5 382.3L449.0 382.6M449.0 382.6L453.5 382.9M453.5 382.9L458.0 383.1M458.0 383.1L462.5 383.3M462.5 383.3L467.0 383.5M467.0 383.5L471.5 383.6M471.5 383.6L476.0 383.6M476.0 383.6L480.5 383.6M480.5 383.6L485.0 383.6M485.0 383.6L489.5 383.6M489.5 383.6L494.0 383.5M494.0 383.5L498.5 383.4M498.5 383.4L503.0 383.3M503.0 383.3L507.5 383.1M507.5 383.1L512.0 382.6M512.0 382.6L516.5 382.2M516.5 382.2L521.0 381.6M521.0 381.6L525.5 381.1M525.5 381.1L530.0 380.4M530.0 380.4L534.5 379.5M534.5 379.5L539.0 378.5M539.0 378.5L543.5 377.6M543.5 377.6L548.0 376.7M623.8 484.8L627.3 467.7M627.3 467.7L632.7 451.5M628.1 461.4L635.6 446.4M628.3 454.5L641.1 445.4M627.5 450.5L639.2 443.2M628.8 446.9L639.6 439.1M629.1 442.4L639.1 433.1M628.6 436.2L638.1 426.0M627.6 429.2L637.2 419.0M626.7 422.3L636.4 412.4M615.5 419.3L625.1 409.1M614.7 412.7L624.4 402.7M614.0 406.2L623.7 396.4M602.9 403.5L612.6 393.5M602.2 397.1L612.1 387.2M591.2 394.0L601.1 384.2M580.0 390.5L590.0 380.8M590.6 387.4L600.5 377.7M547.3 391.4L557.2 381.9M558.0 388.9L568.0 379.7M568.7 386.5L578.7 377.1M579.4 383.8L589.3 374.2M426.1 388.0L436.3 381.7M437.1 389.0L447.3 382.5M448.1 389.9L458.3 383.1M459.0 390.4L469.2 383.6M470.0 390.9L480.2 383.6M481.0 390.9L491.2 383.6M492.0 390.9L502.2 383.4M503.0 390.7L513.2 382.5M514.0 389.8L524.1 381.2M524.9 388.5L535.0 379.4M535.7 386.5L545.7 377.2M546.5 384.3L556.5 374.9M557.2 381.9L567.3 372.7M568.0 379.7L578.0 370.2M425.4 380.6L435.5 374.3M436.3 381.7L446.5 375.1M447.3 382.5L457.5 375.7M458.3 383.1L468.5 376.2M469.2 383.6L479.5 376.3M480.2 383.6L490.5 376.2M491.2 383.6L501.5 376.0M502.2 383.4L512.5 375.2M513.2 382.5L523.4 374.0M524.1 381.2L534.2 372.2M535.0 379.4L545.0 370.1" stroke="#127dd8"/><path d="M614.5 522.0L619.0 513.8M627.0 474.3L631.5 461.5M630.5 456.0L635.0 447.4M630.0 454.7L634.5 447.6M629.5 454.0L634.0 448.4M631.5 446.0L636.0 444.4M631.0 441.7L635.5 440.3M630.5 435.6L635.0 434.2M630.0 428.4L634.5 427.0M629.5 421.4L634.0 420.0M629.0 414.6L633.5 413.2M624.0 409.5L628.5 408.0M628.5 408.0L633.0 406.6M619.0 404.5L623.5 403.0M623.5 403.0L628.0 401.6M614.0 399.6L618.5 398.1M618.5 398.1L623.0 396.6M609.0 394.8L613.5 393.3M613.5 393.3L618.0 391.8M599.5 391.3L604.0 389.8M604.0 389.8L608.5 388.4M608.5 388.4L613.0 386.9M594.5 386.2L599.0 384.8M599.0 384.8L603.5 383.4M603.5 383.4L608.0 382.0M589.5 381.0L594.0 379.6M594.0 379.6L598.5 378.3M598.5 378.3L603.0 377.0M575.5 377.9L580.0 376.7M580.0 376.7L584.5 375.5M584.5 375.5L589.0 374.3M589.0 374.3L593.5 373.0M593.5 373.0L598.0 371.7M548.0 376.7L552.5 375.7M552.5 375.7L557.0 374.8M557.0 374.8L561.5 373.9M561.5 373.9L566.0 373.0M566.0 373.0L570.5 372.0M570.5 372.0L575.0 371.0M575.0 371.0L579.5 369.9M579.5 369.9L584.0 368.7M584.0 368.7L588.5 367.5M426.0 373.4L430.5 373.9M430.5 373.9L435.0 374.3M435.0 374.3L439.5 374.6M439.5 374.6L444.0 374.9M444.0 374.9L448.5 375.3M448.5 375.3L453.0 375.5M453.0 375.5L457.5 375.7M457.5 375.7L462.0 375.9M462.0 375.9L466.5 376.1M466.5 376.1L471.0 376.3M471.0 376.3L475.5 376.3M475.5 376.3L480.0 376.3M480.0 376.3L484.5 376.3M484.5 376.3L489.0 376.2M489.0 376.2L493.5 376.2M493.5 376.2L498.0 376.1M498.0 376.1L502.5 376.0M502.5 376.0L507.0 375.8M507.0 375.8L511.5 375.3M511.5 375.3L516.0 374.9M516.0 374.9L520.5 374.4M520.5 374.4L525.0 373.8M525.0 373.8L529.5 373.2M529.5 373.2L534.0 372.3M534.0 372.3L538.5 371.3M538.5 371.3L543.0 370.4M543.0 370.4L547.5 369.6M547.5 369.6L552.0 368.6M552.0 368.6L556.5 367.7M556.5 367.7L561.0 366.9M561.0 366.9L565.5 366.0M565.5 366.0L570.0 365.0M570.0 365.0L574.5 364.0M574.5 364.0L579.0 363.0M430.0 366.6L434.5 366.9M434.5 366.9L439.0 367.3M439.0 367.3L443.5 367.6M443.5 367.6L448.0 368.0M448.0 368.0L452.5 368.2M452.5 368.2L457.0 368.4M457.0 368.4L461.5 368.6M461.5 368.6L466.0 368.8M466.0 368.8L470.5 369.0M470.5 369.0L475.0 369.0M475.0 369.0L479.5 369.0M479.5 369.0L484.0 368.9M484.0 368.9L488.5 368.9M488.5 368.9L493.0 368.8M493.0 368.8L497.5 368.8M497.5 368.8L502.0 368.7M502.0 368.7L506.5 368.4M506.5 368.4L511.0 368.0M511.0 368.0L515.5 367.6M515.5 367.6L520.0 367.1M520.0 367.1L524.5 366.5M524.5 366.5L529.0 365.9M529.0 365.9L533.5 365.0M533.5 365.0L538.0 364.1M538.0 364.1L542.5 363.2M542.5 363.2L547.0 362.4M611.0 535.0L616.4 518.8M620.7 502.0L623.8 484.8M627.0 474.3L631.3 457.5M629.6 455.5L640.7 443.6M625.9 415.6L635.6 405.9M625.1 409.1L634.9 399.5M624.4 402.7L634.3 393.3M613.3 399.9L623.1 390.2M612.6 393.5L622.6 384.0M601.7 390.6L611.6 380.9M601.1 384.2L611.1 374.5M590.0 380.8L599.9 371.2M578.7 377.1L588.7 367.5M589.3 374.2L599.3 364.6M545.7 377.2L555.8 367.8M556.5 374.9L566.6 365.7M567.3 372.7L577.3 363.4M578.0 370.2L588.0 360.7M435.5 374.3L445.8 367.8M446.5 375.1L456.8 368.4M457.5 375.7L467.7 368.9M468.5 376.2L478.7 369.0M479.5 376.3L489.7 368.9M490.5 376.2L500.7 368.7M501.5 376.0L511.7 368.0M512.5 375.2L522.6 366.7M523.4 374.0L533.5 365.0M534.2 372.2L544.3 362.9M545.0 370.1L555.1 360.7M555.8 367.8L565.9 358.7M566.6 365.7L576.6 356.4M434.8 367.0L445.0 360.4M445.8 367.8L456.0 361.1M456.8 368.4L467.0 361.5M467.7 368.9L478.0 361.6M478.7 369.0L489.0 361.5M489.7 368.9L500.0 361.4M500.7 368.7L511.0 360.7M511.7 368.0L521.9 359.5M522.6 366.7L532.8 357.8M533.5 365.0L543.6 355.7" stroke="#1481d6"/><path d="M623.0 495.8L627.5 480.2M631.0 458.2L635.5 448.1M633.0 449.8L637.5 447.5M632.5 449.7L637.0 447.7M632.0 448.5L636.5 446.7M635.0 434.2L639.5 432.9M634.5 427.0L639.0 425.7M634.0 420.0L638.5 418.7M633.5 413.2L638.0 411.9M633.0 406.6L637.5 405.3M628.0 401.6L632.5 400.2M632.5 400.2L637.0 399.0M623.0 396.6L627.5 395.2M627.5 395.2L632.0 393.9M632.0 393.9L636.5 392.7M618.0 391.8L622.5 390.4M622.5 390.4L627.0 389.0M627.0 389.0L631.5 387.7M613.0 386.9L617.5 385.5M617.5 385.5L622.0 384.1M622.0 384.1L626.5 382.8M608.0 382.0L612.5 380.6M612.5 380.6L617.0 379.2M617.0 379.2L621.5 377.9M603.0 377.0L607.5 375.6M607.5 375.6L612.0 374.3M612.0 374.3L616.5 372.9M598.0 371.7L602.5 370.4M602.5 370.4L607.0 369.1M607.0 369.1L611.5 367.9M588.5 367.5L593.0 366.3M593.0 366.3L597.5 365.1M597.5 365.1L602.0 363.8M579.0 363.0L583.5 361.9M583.5 361.9L588.0 360.7M588.0 360.7L592.5 359.5M592.5 359.5L597.0 358.4M547.0 362.4L551.5 361.4M551.5 361.4L556.0 360.5M556.0 360.5L560.5 359.7M560.5 359.7L565.0 358.9M565.0 358.9L569.5 358.0M569.5 358.0L574.0 357.0M574.0 357.0L578.5 356.0M578.5 356.0L583.0 354.9M583.0 354.9L587.5 353.8M434.0 359.6L438.5 359.9M438.5 359.9L443.0 360.3M443.0 360.3L447.5 360.6M447.5 360.6L452.0 360.9M452.0 360.9L456.5 361.1M456.5 361.1L461.0 361.3M461.0 361.3L465.5 361.5M465.5 361.5L470.0 361.7M470.0 361.7L474.5 361.6M474.5 361.6L479.0 361.6M479.0 361.6L483.5 361.6M483.5 361.6L488.0 361.6M488.0 361.6L492.5 361.5M492.5 361.5L497.0 361.4M497.0 361.4L501.5 361.3M501.5 361.3L506.0 361.1M506.0 361.1L510.5 360.7M510.5 360.7L515.0 360.3M515.0 360.3L519.5 359.8M519.5 359.8L524.0 359.2M524.0 359.2L528.5 358.6M528.5 358.6L533.0 357.8M533.0 357.8L537.5 356.9M537.5 356.9L542.0 356.0M542.0 356.0L546.5 355.1M546.5 355.1L551.0 354.2M551.0 354.2L555.5 353.3M555.5 353.3L560.0 352.5M560.0 352.5L564.5 351.7M564.5 351.7L569.0 350.8M569.0 350.8L573.5 349.9M573.5 349.9L578.0 348.9M438.0 352.6L442.5 352.9M442.5 352.9L447.0 353.3M447.0 353.3L451.5 353.6M451.5 353.6L456.0 353.8M456.0 353.8L460.5 353.9M460.5 353.9L465.0 354.1M465.0 354.1L469.5 354.3M469.5 354.3L474.0 354.3M474.0 354.3L478.5 354.3M478.5 354.3L483.0 354.3M483.0 354.3L487.5 354.2M487.5 354.2L492.0 354.2M492.0 354.2L496.5 354.1M496.5 354.1L501.0 354.0M501.0 354.0L505.5 353.8M505.5 353.8L510.0 353.4M510.0 353.4L514.5 353.0M514.5 353.0L519.0 352.5M519.0 352.5L523.5 351.9M523.5 351.9L528.0 351.3M528.0 351.3L532.5 350.5M532.5 350.5L537.0 349.6M537.0 349.6L541.5 348.7M541.5 348.7L546.0 347.9M616.4 518.8L620.7 502.0M624.3 491.7L627.0 474.3M627.3 481.1L630.6 463.9M631.3 457.5L639.0 442.5M632.7 451.5L644.1 439.4M632.1 450.4L645.6 441.1M631.5 450.7L644.9 443.6M637.2 419.0L647.1 409.7M636.4 412.4L646.3 403.2M635.6 405.9L645.6 396.9M634.9 399.5L645.0 390.7M623.7 396.4L633.7 387.1M623.1 390.2L633.2 381.0M612.1 387.2L622.1 377.7M622.6 384.0L632.8 374.9M611.6 380.9L621.6 371.5M600.5 377.7L610.5 368.1M611.1 374.5L621.1 365.2M599.9 371.2L609.9 361.7M588.7 367.5L598.6 357.9M599.3 364.6L609.3 355.1M577.3 363.4L587.3 353.8M588.0 360.7L598.0 351.1M544.3 362.9L554.4 353.5M555.1 360.7L565.2 351.6M565.9 358.7L576.0 349.3M576.6 356.4L586.7 346.8M434.1 359.6L444.3 353.1M445.0 360.4L455.3 353.7M456.0 361.1L466.3 354.2M467.0 361.5L477.3 354.3M478.0 361.6L488.3 354.2M489.0 361.5L499.3 354.0M500.0 361.4L510.3 353.4M511.0 360.7L521.2 352.2M521.9 359.5L532.1 350.6M532.8 357.8L542.9 348.4M543.6 355.7L553.7 346.3M554.4 353.5L564.5 344.4M565.2 351.6L575.3 342.2M576.0 349.3L586.0 339.7" stroke="#1485d4"/><path d="M613.0 532.0L616.6 526.3M619.0 513.8L623.5 502.9M627.5 480.2L632.0 466.1M631.5 461.5L636.0 450.0M635.0 447.4L639.5 442.0M634.5 447.6L639.0 443.4M634.0 448.4L638.5 445.0M633.5 449.3L638.0 446.5M635.5 440.3L640.0 438.9M639.0 425.7L643.5 424.6M638.5 418.7L643.0 417.5M638.0 411.9L642.5 410.8M637.5 405.3L642.0 404.2M642.0 404.2L646.5 403.2M637.0 399.0L641.5 397.8M641.5 397.8L646.0 396.8M636.5 392.7L641.0 391.6M641.0 391.6L645.5 390.6M631.5 387.7L636.0 386.5M636.0 386.5L640.5 385.5M626.5 382.8L631.0 381.6M631.0 381.6L635.5 380.4M635.5 380.4L640.0 379.4M621.5 377.9L626.0 376.7M626.0 376.7L630.5 375.5M630.5 375.5L635.0 374.3M616.5 372.9L621.0 371.7M621.0 371.7L625.5 370.4M625.5 370.4L630.0 369.3M611.5 367.9L616.0 366.6M616.0 366.6L620.5 365.4M602.0 363.8L606.5 362.6M606.5 362.6L611.0 361.4M611.0 361.4L615.5 360.1M597.0 358.4L601.5 357.1M601.5 357.1L606.0 355.9M606.0 355.9L610.5 354.7M587.5 353.8L592.0 352.7M592.0 352.7L596.5 351.5M596.5 351.5L601.0 350.3M601.0 350.3L605.5 349.2M578.0 348.9L582.5 347.8M582.5 347.8L587.0 346.7M587.0 346.7L591.5 345.6M591.5 345.6L596.0 344.5M546.0 347.9L550.5 347.0M550.5 347.0L555.0 346.0M555.0 346.0L559.5 345.3M559.5 345.3L564.0 344.5M564.0 344.5L568.5 343.6M568.5 343.6L573.0 342.6M573.0 342.6L577.5 341.7M577.5 341.7L582.0 340.6M582.0 340.6L586.5 339.6M586.5 339.6L591.0 338.5M630.6 463.9L635.8 447.5M638.1 426.0L647.9 416.4M634.3 393.3L644.4 384.6M633.7 387.1L643.9 378.5M633.2 381.0L643.5 372.5M622.1 377.7L632.3 368.7M621.6 371.5L631.7 362.5M610.5 368.1L620.5 358.8M609.9 361.7L619.9 352.3M598.6 357.9L608.6 348.3M587.3 353.8L597.3 344.2M598.0 351.1L608.0 341.4M586.7 346.8L596.7 337.1" stroke="#1389d3"/><path d="M623.5 502.9L628.0 487.5M635.5 448.1L640.0 441.3M636.0 444.4L640.5 442.8M639.5 432.9L644.0 431.8M643.0 417.5L647.5 416.5M642.5 410.8L647.0 409.7M646.5 403.2L651.0 402.3M646.0 396.8L650.5 396.0M650.5 396.0L655.0 395.3M645.5 390.6L650.0 389.8M650.0 389.8L654.5 389.1M640.5 385.5L645.0 384.5M645.0 384.5L649.5 383.7M649.5 383.7L654.0 383.0M640.0 379.4L644.5 378.4M644.5 378.4L649.0 377.6M649.0 377.6L653.5 377.0M635.0 374.3L639.5 373.3M639.5 373.3L644.0 372.4M644.0 372.4L648.5 371.6M630.0 369.3L634.5 368.2M634.5 368.2L639.0 367.2M639.0 367.2L643.5 366.3M620.5 365.4L625.0 364.2M625.0 364.2L629.5 363.1M629.5 363.1L634.0 362.0M634.0 362.0L638.5 361.0M615.5 360.1L620.0 358.9M620.0 358.9L624.5 357.8M624.5 357.8L629.0 356.7M610.5 354.7L615.0 353.6M615.0 353.6L619.5 352.4M619.5 352.4L624.0 351.3M605.5 349.2L610.0 348.0M610.0 348.0L614.5 346.8M614.5 346.8L619.0 345.7M596.0 344.5L600.5 343.4M600.5 343.4L605.0 342.2M605.0 342.2L609.5 341.1M591.0 338.5L595.5 337.4M595.5 337.4L600.0 336.2M600.0 336.2L604.5 335.1M621.2 508.9L624.3 491.7M630.5 470.6L634.5 453.6M634.5 453.6L642.5 438.9M635.8 447.5L647.1 435.1M635.6 446.4L649.0 436.4M639.1 433.1L648.8 423.4M646.3 403.2L656.5 395.1M645.6 396.9L655.8 388.9M645.0 390.7L655.2 382.8M644.4 384.6L654.8 376.8M643.9 378.5L654.4 370.8M632.8 374.9L643.0 366.4M643.5 372.5L653.9 364.8M632.3 368.7L642.5 360.3M621.1 365.2L631.2 356.2M631.7 362.5L642.0 354.0M620.5 358.8L630.6 349.8M609.3 355.1L619.3 345.6M619.9 352.3L630.0 343.2M608.6 348.3L618.7 338.8M597.3 344.2L607.3 334.4M608.0 341.4L618.0 331.7" stroke="#108ed2"/><path d="M616.6 526.3L620.0 520.0M632.0 466.1L636.5 453.5M636.0 450.0L640.5 441.7M637.0 447.7L641.5 445.4M636.5 446.7L641.0 444.8M643.5 424.6L648.0 423.6M647.5 416.5L652.0 415.7M647.0 409.7L651.5 408.9M651.5 408.9L656.0 408.2M651.0 402.3L655.5 401.6M655.5 401.6L660.0 401.1M655.0 395.3L659.5 394.8M654.5 389.1L659.0 388.6M659.0 388.6L663.5 388.2M654.0 383.0L658.5 382.5M658.5 382.5L663.0 382.1M653.5 377.0L658.0 376.5M658.0 376.5L662.5 376.1M648.5 371.6L653.0 371.0M653.0 371.0L657.5 370.5M657.5 370.5L662.0 370.1M662.0 370.1L666.5 369.9M643.5 366.3L648.0 365.6M648.0 365.6L652.5 364.9M652.5 364.9L657.0 364.4M657.0 364.4L661.5 364.1M638.5 361.0L643.0 360.2M643.0 360.2L647.5 359.4M647.5 359.4L652.0 358.8M652.0 358.8L656.5 358.3M656.5 358.3L661.0 358.0M629.0 356.7L633.5 355.7M633.5 355.7L638.0 354.8M638.0 354.8L642.5 353.9M642.5 353.9L647.0 353.2M624.0 351.3L628.5 350.2M628.5 350.2L633.0 349.3M633.0 349.3L637.5 348.4M619.0 345.7L623.5 344.6M623.5 344.6L628.0 343.6M628.0 343.6L632.5 342.6M609.5 341.1L614.0 339.9M614.0 339.9L618.5 338.8M618.5 338.8L623.0 337.8M604.5 335.1L609.0 333.9M609.0 333.9L613.5 332.8M613.5 332.8L618.0 331.7M617.0 525.7L621.2 508.9M624.9 498.6L627.3 481.1M627.9 488.0L630.5 470.6M634.1 460.2L639.2 443.7M639.6 439.1L649.8 430.6M647.9 416.4L657.9 407.9M647.1 409.7L657.2 401.4M655.8 388.9L666.2 382.0M655.2 382.8L665.8 376.0M654.8 376.8L665.3 370.0M654.4 370.8L664.9 363.9M643.0 366.4L653.4 358.7M653.9 364.8L664.3 357.8M642.5 360.3L652.8 352.4M653.4 358.7L663.8 351.6M631.2 356.2L641.4 347.6M642.0 354.0L652.3 346.1M630.6 349.8L640.8 341.1M619.3 345.6L629.4 336.3M618.7 338.8L628.7 329.3" stroke="#0c93d2"/><path d="M628.0 487.5L632.5 472.2M636.5 453.5L641.0 443.7M640.0 441.3L644.5 437.2M639.5 442.0L644.0 438.3M639.0 443.4L643.5 440.0M638.5 445.0L643.0 441.8M638.0 446.5L642.5 443.5M637.5 447.5L642.0 444.8M640.0 438.9L644.5 437.7M652.0 415.7L656.5 415.0M656.0 408.2L659.1 407.8M659.5 394.8L663.5 394.5M663.5 388.2L665.9 388.1M663.0 382.1L667.5 382.0M662.5 376.1L667.0 376.0M667.0 376.0L670.6 376.0M666.5 369.9L671.0 370.0M671.0 370.0L672.9 370.0M661.5 364.1L666.0 363.9M666.0 363.9L670.5 363.9M670.5 363.9L675.0 364.0M661.0 358.0L665.5 357.8M665.5 357.8L670.0 357.8M670.0 357.8L674.5 357.9M647.0 353.2L651.5 352.6M651.5 352.6L656.0 352.1M656.0 352.1L660.5 351.8M660.5 351.8L665.0 351.6M665.0 351.6L669.5 351.6M669.5 351.6L674.0 351.6M637.5 348.4L642.0 347.5M642.0 347.5L646.5 346.8M646.5 346.8L651.0 346.2M651.0 346.2L655.5 345.7M655.5 345.7L660.0 345.4M660.0 345.4L664.5 345.2M664.5 345.2L669.0 345.2M632.5 342.6L637.0 341.7M637.0 341.7L641.5 340.9M641.5 340.9L646.0 340.2M646.0 340.2L650.5 339.6M650.5 339.6L655.0 339.2M655.0 339.2L659.5 338.8M623.0 337.8L627.5 336.7M627.5 336.7L632.0 335.8M632.0 335.8L636.5 334.9M636.5 334.9L641.0 334.1M618.0 331.7L622.5 330.7M622.5 330.7L627.0 329.6M627.0 329.6L631.5 328.7M639.2 443.7L650.0 430.9M664.9 363.9L675.3 357.9M664.3 357.8L674.8 351.7M652.8 352.4L663.3 345.2M663.8 351.6L674.3 345.3M641.4 347.6L651.7 339.5M652.3 346.1L662.7 338.7M663.3 345.2L673.7 338.7M630.0 343.2L640.2 334.2M640.8 341.1L651.1 332.7M651.7 339.5L662.0 331.8M629.4 336.3L639.5 327.2" stroke="#0998d1"/><path d="M620.0 520.0L623.0 513.3M643.0 452.0L647.9 445.1M632.5 472.2L637.0 458.9M640.5 441.7L645.0 437.0M640.5 442.8L645.0 441.3M644.0 431.8L648.5 430.8M648.0 423.6L652.5 422.7M660.0 401.1L661.3 401.0M663.5 394.5L663.5 394.5M667.5 382.0L668.2 382.0M670.6 376.0L670.6 376.0M675.0 364.0L675.3 364.0M674.5 357.9L678.0 357.9M678.0 357.9L678.0 357.9M674.0 351.6L678.5 351.7M678.5 351.7L681.4 351.8M669.0 345.2L673.5 345.3M673.5 345.3L678.0 345.3M678.0 345.3L682.5 345.4M682.5 345.4L684.8 345.5M659.5 338.8L664.0 338.6M664.0 338.6L668.5 338.6M668.5 338.6L673.0 338.7M673.0 338.7L677.5 338.7M677.5 338.7L682.0 338.8M682.0 338.8L686.5 338.9M641.0 334.1L645.5 333.4M645.5 333.4L650.0 332.8M650.0 332.8L654.5 332.3M654.5 332.3L659.0 332.0M659.0 332.0L663.5 331.8M663.5 331.8L668.0 331.7M668.0 331.7L672.5 331.8M672.5 331.8L677.0 331.9M677.0 331.9L681.5 332.0M631.5 328.7L636.0 327.8M636.0 327.8L640.5 327.0M640.5 327.0L645.0 326.3M645.0 326.3L649.5 325.7M649.5 325.7L654.0 325.2M654.0 325.2L658.5 324.9M658.5 324.9L663.0 324.6M663.0 324.6L667.5 324.6M630.9 477.4L634.1 460.2M638.0 449.9L646.6 435.6M674.8 351.7L684.8 345.5M674.3 345.3L684.7 338.9M662.7 338.7L673.0 331.8M673.7 338.7L684.0 332.0M640.2 334.2L650.4 325.6M651.1 332.7L661.4 324.7M662.0 331.8L672.4 324.6M673.0 331.8L683.4 324.9" stroke="#079ccf"/><path d="M641.0 443.7L645.5 438.2M641.0 444.8L645.5 443.0M652.5 422.7L654.1 422.5M656.5 415.0L656.7 415.0M659.1 407.8L659.1 407.8M686.5 338.9L687.3 338.9M681.5 332.0L686.0 332.1M686.0 332.1L689.4 332.1M689.4 332.1L689.4 332.1M667.5 324.6L672.0 324.6M672.0 324.6L676.5 324.7M676.5 324.7L681.0 324.8M681.0 324.8L685.5 324.9M685.5 324.9L690.0 325.0M690.0 325.0L691.4 325.0M621.9 515.9L624.9 498.6M634.2 466.9L638.0 449.9" stroke="#06a0cd"/><path d="M623.0 513.3L626.0 505.0M637.8 465.2L643.0 452.0M637.0 458.9L641.5 447.7M645.0 437.0L649.5 432.1M644.5 437.2L649.0 432.2M649.0 432.2L652.3 427.8M652.3 427.8L652.3 427.8M644.0 438.3L648.5 433.4M643.5 440.0L648.0 435.4M643.0 441.8L647.5 437.7M641.5 445.4L646.0 443.1M644.5 437.7L649.0 436.7M648.5 430.8L651.5 430.2M637.8 456.6L643.5 440.4" stroke="#06a4ca"/><path d="M626.0 505.0L629.2 493.3M641.5 447.7L646.0 441.3M645.5 438.2L650.0 433.4M650.0 433.4L650.7 432.4M649.5 432.1L652.1 428.4M648.5 433.4L651.7 429.6M651.7 429.6L651.7 429.6M648.0 435.4L650.6 432.6M642.5 443.5L647.0 440.1M642.0 444.8L646.5 442.0M625.8 505.6L627.9 488.0" stroke="#06a7c6"/><path d="M629.2 493.3L633.0 480.0M647.5 437.7L649.5 436.0M645.0 441.3L647.9 440.5M649.0 436.7L649.2 436.6M628.8 495.0L630.9 477.4M635.0 473.9L637.8 456.6M642.2 446.5L650.7 432.4" stroke="#07a9c2"/><path d="M646.0 441.3L648.5 438.8M647.0 440.1L648.4 439.0M646.5 442.0L647.6 441.3M645.5 443.0L647.2 442.4M631.7 484.4L634.2 466.9" stroke="#0aacbe"/><path d="M633.0 480.0L637.8 465.2M646.0 443.1L647.2 442.5" stroke="#0faeb9"/></g><g fill="none" stroke-width="0.75" stroke-linecap="round"><path d="M635.2 473.0L636.8 468.0" stroke="#1481d6"/><path d="M632.1 482.5L633.5 478.0M633.5 478.0L635.0 473.5M635.0 473.5L636.5 469.0M636.5 469.0L638.1 464.5M632.0 482.5L633.4 478.0M633.4 478.0L634.8 473.5M634.8 473.5L636.4 469.0M633.2 478.0L634.7 473.5M635.0 473.0L636.7 468.0" stroke="#1485d4"/><path d="M630.8 487.0L632.1 482.5M638.1 464.5L639.7 460.0M630.7 487.0L632.0 482.5M636.4 469.0L638.1 464.5M630.5 487.0L631.8 482.5M631.8 482.5L633.2 478.0M634.7 473.5L636.4 469.0M636.4 469.0L638.1 464.5M630.4 487.0L631.7 482.5M631.7 482.5L633.1 478.0M633.1 478.0L634.6 473.5M634.6 473.5L636.3 469.0M630.2 487.0L631.5 482.5M631.5 482.5L632.9 478.0M632.9 478.0L634.4 473.5M634.4 473.5L636.2 469.0M631.4 482.5L632.8 478.0M632.8 478.0L634.3 473.5M631.2 482.5L632.6 478.0M632.6 478.0L634.1 473.5M631.1 482.5L632.5 478.0M632.5 478.0L634.0 473.5M630.9 482.5L632.3 478.0M632.3 478.0L633.9 473.5M630.2 489.0L631.5 484.0M637.2 467.0L639.0 462.0M634.7 473.0L636.6 468.0" stroke="#1389d3"/><path d="M628.4 496.0L629.6 491.5M629.6 491.5L630.8 487.0M639.7 460.0L641.5 455.5M641.5 455.5L643.6 451.0M628.3 496.0L629.4 491.5M629.4 491.5L630.7 487.0M638.1 464.5L639.8 460.0M639.8 460.0L641.6 455.5M628.1 496.0L629.3 491.5M629.3 491.5L630.5 487.0M638.1 464.5L639.8 460.0M628.0 496.0L629.2 491.5M629.2 491.5L630.4 487.0M636.3 469.0L638.1 464.5M627.8 496.0L629.0 491.5M629.0 491.5L630.2 487.0M636.2 469.0L638.0 464.5M627.7 496.0L628.9 491.5M628.9 491.5L630.1 487.0M630.1 487.0L631.4 482.5M634.3 473.5L636.1 469.0M628.7 491.5L629.9 487.0M629.9 487.0L631.2 482.5M634.1 473.5L636.1 469.0M628.6 491.5L629.8 487.0M629.8 487.0L631.1 482.5M634.0 473.5L636.0 469.0M628.4 491.5L629.6 487.0M629.6 487.0L630.9 482.5M633.9 473.5L635.9 469.0M628.3 491.5L629.5 487.0M629.5 487.0L630.8 482.5M630.8 482.5L632.2 478.0M632.2 478.0L633.7 473.5M628.1 491.5L629.3 487.0M629.3 487.0L630.6 482.5M630.6 482.5L632.0 478.0M632.0 478.0L633.6 473.5M627.9 491.5L629.2 487.0M629.2 487.0L630.5 482.5M630.5 482.5L631.9 478.0M631.9 478.0L633.4 473.5M627.8 491.5L629.0 487.0M629.0 487.0L630.3 482.5M630.3 482.5L631.7 478.0M631.7 478.0L633.3 473.5M627.6 491.5L628.8 487.0M628.8 487.0L630.1 482.5M630.1 482.5L631.5 478.0M631.5 478.0L633.1 473.5M628.7 487.0L630.0 482.5M630.0 482.5L631.4 478.0M631.4 478.0L633.0 473.5M628.5 487.0L629.8 482.5M629.8 482.5L631.2 478.0M628.3 487.0L629.6 482.5M629.6 482.5L631.0 478.0M629.5 482.5L630.9 478.0M629.3 482.5L630.7 478.0M628.8 495.0L630.0 490.0M643.6 451.0L647.0 446.0M628.5 495.0L629.7 490.0M630.0 489.0L631.2 484.0M637.1 467.0L639.0 462.0M628.2 495.0L629.4 490.0M629.7 489.0L630.9 484.0M627.9 495.0L629.1 490.0M634.5 473.0L636.5 468.0M629.4 489.0L630.6 484.0M627.6 495.0L628.8 490.0M634.2 473.0L636.4 468.0M629.1 489.0L630.3 484.0M628.8 489.0L630.0 484.0M628.5 489.0L629.7 484.0M628.1 489.0L629.4 484.0" stroke="#108ed2"/><path d="M652.6 440.0L656.8 433.7M656.8 433.7L661.0 427.0M625.9 505.0L627.2 500.5M627.2 500.5L628.4 496.0M643.6 451.0L646.6 446.5M625.7 505.0L627.0 500.5M627.0 500.5L628.3 496.0M641.6 455.5L643.6 451.0M625.6 505.0L626.9 500.5M626.9 500.5L628.1 496.0M639.8 460.0L641.6 455.5M625.4 505.0L626.8 500.5M626.8 500.5L628.0 496.0M638.1 464.5L639.8 460.0M625.3 505.0L626.6 500.5M626.6 500.5L627.8 496.0M638.0 464.5L639.9 460.0M625.1 505.0L626.5 500.5M626.5 500.5L627.7 496.0M636.1 469.0L638.0 464.5M625.0 505.0L626.3 500.5M626.3 500.5L627.5 496.0M627.5 496.0L628.7 491.5M636.1 469.0L638.0 464.5M624.8 505.0L626.2 500.5M626.2 500.5L627.4 496.0M627.4 496.0L628.6 491.5M636.0 469.0L638.0 464.5M624.7 505.0L626.0 500.5M626.0 500.5L627.2 496.0M627.2 496.0L628.4 491.5M624.5 505.0L625.9 500.5M625.9 500.5L627.1 496.0M627.1 496.0L628.3 491.5M633.7 473.5L635.9 469.0M624.4 505.0L625.7 500.5M625.7 500.5L626.9 496.0M626.9 496.0L628.1 491.5M633.6 473.5L635.8 469.0M624.2 505.0L625.6 500.5M625.6 500.5L626.8 496.0M626.8 496.0L627.9 491.5M633.4 473.5L635.7 469.0M624.1 505.0L625.4 500.5M625.4 500.5L626.6 496.0M626.6 496.0L627.8 491.5M633.3 473.5L635.6 469.0M623.9 505.0L625.2 500.5M625.2 500.5L626.4 496.0M626.4 496.0L627.6 491.5M623.7 505.0L625.1 500.5M625.1 500.5L626.3 496.0M626.3 496.0L627.5 491.5M627.5 491.5L628.7 487.0M623.6 505.0L624.9 500.5M624.9 500.5L626.1 496.0M626.1 496.0L627.3 491.5M627.3 491.5L628.5 487.0M631.2 478.0L632.8 473.5M623.4 505.0L624.7 500.5M624.7 500.5L625.9 496.0M625.9 496.0L627.1 491.5M627.1 491.5L628.3 487.0M631.0 478.0L632.7 473.5M623.2 505.0L624.6 500.5M624.6 500.5L625.8 496.0M625.8 496.0L627.0 491.5M627.0 491.5L628.2 487.0M628.2 487.0L629.5 482.5M630.9 478.0L632.5 473.5M623.1 505.0L624.4 500.5M624.4 500.5L625.6 496.0M625.6 496.0L626.8 491.5M626.8 491.5L628.0 487.0M628.0 487.0L629.3 482.5M630.7 478.0L632.3 473.5M622.9 505.0L624.2 500.5M624.2 500.5L625.4 496.0M625.4 496.0L626.6 491.5M626.6 491.5L627.8 487.0M627.8 487.0L629.1 482.5M629.1 482.5L630.5 478.0M630.5 478.0L632.2 473.5M622.7 505.0L624.0 500.5M624.0 500.5L625.2 496.0M625.2 496.0L626.4 491.5M626.4 491.5L627.6 487.0M627.6 487.0L628.9 482.5M628.9 482.5L630.3 478.0M630.3 478.0L632.0 473.5M622.5 505.0L623.8 500.5M623.8 500.5L625.0 496.0M625.0 496.0L626.2 491.5M626.2 491.5L627.4 487.0M627.4 487.0L628.7 482.5M628.7 482.5L630.1 478.0M630.1 478.0L631.8 473.5M622.3 505.0L623.6 500.5M623.6 500.5L624.8 496.0M624.8 496.0L626.0 491.5M626.0 491.5L627.2 487.0M627.2 487.0L628.5 482.5M628.5 482.5L629.9 478.0M629.9 478.0L631.6 473.5M622.0 505.0L623.3 500.5M623.3 500.5L624.5 496.0M624.5 496.0L625.7 491.5M625.7 491.5L626.9 487.0M626.9 487.0L628.2 482.5M628.2 482.5L629.6 478.0M637.0 467.0L639.1 462.0M627.3 495.0L628.5 490.0M634.0 473.0L636.3 468.0M627.0 495.0L628.2 490.0M633.7 473.0L636.2 468.0M626.7 495.0L627.9 490.0M626.4 495.0L627.5 490.0M627.8 489.0L629.0 484.0M626.0 495.0L627.2 490.0M627.4 489.0L628.7 484.0M625.7 495.0L626.8 490.0M627.1 489.0L628.3 484.0M625.3 495.0L626.4 490.0M626.7 489.0L627.8 484.0" stroke="#0c93d2"/><path d="M647.9 445.1L652.6 440.0M661.0 427.0L666.1 419.6M646.6 446.5L650.8 442.0M643.6 451.0L646.5 446.5M641.6 455.5L643.7 451.0M639.8 460.0L641.7 455.5M639.9 460.0L641.7 455.5M638.0 464.5L639.9 460.0M638.0 464.5L640.0 460.0M635.9 469.0L638.0 464.5M635.9 469.0L638.0 464.5M635.8 469.0L638.0 464.5M633.1 473.5L635.6 469.0M633.0 473.5L635.5 469.0M632.8 473.5L635.4 469.0M632.7 473.5L635.3 469.0M632.5 473.5L635.2 469.0M629.6 478.0L631.4 473.5M659.7 429.0L662.7 424.0M647.9 445.0L652.2 440.0M643.6 451.0L646.9 446.0M636.9 467.0L639.1 462.0M636.9 467.0L639.2 462.0M633.4 473.0L636.0 468.0M633.1 473.0L635.9 468.0" stroke="#0998d1"/><path d="M666.1 419.6L671.4 412.4M671.4 412.4L676.6 406.3M650.8 442.0L654.1 437.5M654.1 437.5L656.9 433.0M646.5 446.5L650.7 442.0M643.7 451.0L646.5 446.5M641.7 455.5L643.7 451.0M641.7 455.5L643.7 451.0M639.9 460.0L641.8 455.5M640.0 460.0L641.8 455.5M638.0 464.5L640.0 460.0M638.0 464.5L640.0 460.0M638.0 464.5L640.1 460.0M635.7 469.0L638.0 464.5M635.6 469.0L638.0 464.5M635.6 469.0L638.0 464.5M632.3 473.5L635.2 469.0M632.2 473.5L635.1 469.0M632.0 473.5L635.0 469.0M631.8 473.5L634.9 469.0M631.6 473.5L634.8 469.0M676.0 407.0L680.0 402.0M636.8 467.0L639.2 462.0M632.8 473.0L635.8 468.0M632.5 473.0L635.6 468.0M632.1 473.0L635.5 468.0" stroke="#079ccf"/><path d="M676.6 406.3L681.9 400.8M681.9 400.8L687.2 395.5M687.2 395.5L692.4 390.4M656.9 433.0L659.7 428.5M659.7 428.5L662.7 424.0M662.7 424.0L665.8 419.5M650.7 442.0L653.9 437.5M653.9 437.5L656.7 433.0M646.5 446.5L650.6 442.0M643.7 451.0L646.5 446.5M641.8 455.5L643.8 451.0M640.0 460.0L641.9 455.5M640.0 460.0L641.9 455.5M638.0 464.5L640.1 460.0M638.0 464.5L640.2 460.0M635.5 469.0L638.0 464.5M635.4 469.0L638.0 464.5M635.3 469.0L637.9 464.5M635.2 469.0L637.9 464.5M631.4 473.5L634.7 469.0M647.8 445.0L651.9 440.0M643.7 451.0L646.9 446.0M636.7 467.0L639.3 462.0M636.6 467.0L639.3 462.0" stroke="#06a0cd"/><path d="M692.4 390.4L697.6 385.2M697.6 385.2L702.8 379.9M665.8 419.5L668.9 415.0M668.9 415.0L672.4 410.5M656.7 433.0L659.4 428.5M659.4 428.5L662.4 424.0M650.6 442.0L653.7 437.5M646.5 446.5L650.4 442.0M643.7 451.0L646.5 446.5M643.8 451.0L646.4 446.5M641.8 455.5L643.8 451.0M641.9 455.5L643.8 451.0M640.1 460.0L642.0 455.5M640.1 460.0L642.1 455.5M638.0 464.5L640.2 460.0M638.0 464.5L640.2 460.0M638.0 464.5L640.3 460.0M635.2 469.0L637.9 464.5M635.1 469.0L637.9 464.5M635.0 469.0L637.9 464.5M634.9 469.0L637.9 464.5M697.8 385.0L701.5 380.0M663.4 423.0L666.4 418.0M659.1 429.0L662.0 424.0M643.8 451.0L646.8 446.0M636.5 467.0L639.4 462.0" stroke="#06a4ca"/><path d="M702.8 379.9L706.9 375.4M706.9 375.4L713.3 368.4M672.4 410.5L676.3 406.0M676.3 406.0L680.5 401.5M662.4 424.0L665.4 419.5M665.4 419.5L668.5 415.0M653.7 437.5L656.4 433.0M656.4 433.0L659.2 428.5M650.4 442.0L653.5 437.5M646.5 446.5L650.3 442.0M646.4 446.5L650.2 442.0M643.8 451.0L646.4 446.5M641.9 455.5L643.9 451.0M642.0 455.5L643.9 451.0M640.2 460.0L642.1 455.5M640.2 460.0L642.2 455.5M638.0 464.5L640.3 460.0M637.9 464.5L640.4 460.0M637.9 464.5L640.4 460.0M634.8 469.0L637.9 464.5M634.7 469.0L637.9 464.5M647.7 445.0L651.6 440.0M636.4 467.0L639.4 462.0M636.3 467.0L639.5 462.0" stroke="#06a7c6"/><path d="M713.3 368.4L726.7 354.7M726.7 354.7L742.8 338.0M680.5 401.5L684.8 397.0M684.8 397.0L689.3 392.5M689.3 392.5L693.8 388.0M668.5 415.0L671.9 410.5M671.9 410.5L675.7 406.0M659.2 428.5L662.0 424.0M662.0 424.0L665.0 419.5M653.5 437.5L656.2 433.0M656.2 433.0L658.9 428.5M650.3 442.0L653.3 437.5M646.4 446.5L650.0 442.0M643.8 451.0L646.4 446.5M643.9 451.0L646.4 446.5M642.1 455.5L644.0 451.0M642.1 455.5L644.0 451.0M640.2 460.0L642.2 455.5M640.3 460.0L642.3 455.5M640.3 460.0L642.4 455.5M637.9 464.5L640.5 460.0M637.9 464.5L640.5 460.0M637.9 464.5L640.6 460.0M718.6 363.0L721.9 358.0M681.0 401.0L685.0 396.0M662.7 423.0L665.6 418.0M643.8 451.0L646.7 446.0M636.2 467.0L639.5 462.0" stroke="#07a9c2"/><path d="M742.8 338.0L759.5 319.5M693.8 388.0L698.2 383.5M698.2 383.5L702.4 379.0M675.7 406.0L679.8 401.5M679.8 401.5L684.0 397.0M665.0 419.5L668.0 415.0M668.0 415.0L671.4 410.5M658.9 428.5L661.7 424.0M661.7 424.0L664.6 419.5M653.3 437.5L656.0 433.0M656.0 433.0L658.6 428.5M650.2 442.0L653.1 437.5M653.1 437.5L655.7 433.0M650.0 442.0L652.9 437.5M646.4 446.5L649.9 442.0M646.4 446.5L649.8 442.0M643.9 451.0L646.3 446.5M644.0 451.0L646.3 446.5M642.2 455.5L644.0 451.0M642.2 455.5L644.1 451.0M640.4 460.0L642.4 455.5M640.4 460.0L642.5 455.5M637.9 464.5L640.6 460.0M637.9 464.5L640.7 460.0M637.9 464.5L640.8 460.0M740.0 341.0L742.6 336.0M674.9 407.0L678.6 402.0M658.6 429.0L661.3 424.0M647.6 445.0L651.2 440.0M643.9 451.0L646.6 446.0" stroke="#0aacbe"/><path d="M759.5 319.5L774.2 302.0M702.4 379.0L706.4 374.5M706.4 374.5L710.4 370.0M710.4 370.0L714.6 365.5M714.6 365.5L719.0 361.0M684.0 397.0L688.4 392.5M688.4 392.5L692.8 388.0M671.4 410.5L675.1 406.0M675.1 406.0L679.1 401.5M664.6 419.5L667.6 415.0M667.6 415.0L670.8 410.5M658.6 428.5L661.3 424.0M661.3 424.0L664.2 419.5M655.7 433.0L658.3 428.5M652.9 437.5L655.5 433.0M649.9 442.0L652.7 437.5M646.3 446.5L649.6 442.0M644.0 451.0L646.3 446.5M644.0 451.0L646.2 446.5M642.3 455.5L644.1 451.0M642.4 455.5L644.2 451.0M640.5 460.0L642.6 455.5M640.5 460.0L642.6 455.5M640.6 460.0L642.7 455.5M759.9 319.0L761.7 314.0M702.4 379.0L705.5 374.0M662.0 423.0L664.7 418.0M647.4 445.0L650.9 440.0M644.0 451.0L646.6 446.0" stroke="#0faeb9"/><path d="M774.2 302.0L782.7 289.7M719.0 361.0L723.4 356.5M723.4 356.5L727.7 352.0M727.7 352.0L732.0 347.5M732.0 347.5L736.3 343.0M692.8 388.0L697.1 383.5M697.1 383.5L701.2 379.0M701.2 379.0L705.0 374.5M705.0 374.5L709.0 370.0M679.1 401.5L683.2 397.0M683.2 397.0L687.5 392.5M670.8 410.5L674.5 406.0M674.5 406.0L678.3 401.5M664.2 419.5L667.1 415.0M667.1 415.0L670.3 410.5M658.3 428.5L661.0 424.0M661.0 424.0L663.8 419.5M655.5 433.0L658.0 428.5M652.7 437.5L655.2 433.0M649.8 442.0L652.5 437.5M646.3 446.5L649.5 442.0M646.3 446.5L649.3 442.0M644.1 451.0L646.2 446.5M644.1 451.0L646.2 446.5M642.4 455.5L644.2 451.0M642.5 455.5L644.2 451.0M642.6 455.5L644.3 451.0M640.6 460.0L642.8 455.5M640.7 460.0L642.9 455.5M640.8 460.0L643.0 455.5M722.9 357.0L726.0 352.0M695.6 385.0L699.1 380.0M679.5 401.0L683.3 396.0M673.6 407.0L677.2 402.0M658.0 429.0L660.7 424.0M647.3 445.0L650.6 440.0M644.1 451.0L646.5 446.0" stroke="#15b1b4"/><path d="M736.3 343.0L740.4 338.5M740.4 338.5L744.4 334.0M744.4 334.0L748.4 329.5M748.4 329.5L752.3 325.0M709.0 370.0L713.2 365.5M713.2 365.5L717.4 361.0M717.4 361.0L721.7 356.5M721.7 356.5L726.0 352.0M687.5 392.5L691.7 388.0M691.7 388.0L695.9 383.5M695.9 383.5L700.0 379.0M678.3 401.5L682.4 397.0M682.4 397.0L686.5 392.5M670.3 410.5L673.8 406.0M663.8 419.5L666.6 415.0M658.0 428.5L660.7 424.0M660.7 424.0L663.4 419.5M655.2 433.0L657.7 428.5M657.7 428.5L660.3 424.0M652.5 437.5L655.0 433.0M649.6 442.0L652.3 437.5M649.5 442.0L652.1 437.5M646.2 446.5L649.2 442.0M646.2 446.5L649.1 442.0M644.2 451.0L646.2 446.5M644.2 451.0L646.1 446.5M642.6 455.5L644.3 451.0M642.7 455.5L644.4 451.0M777.9 297.0L778.5 292.0M743.5 335.0L745.8 330.0M715.5 363.0L718.6 358.0M661.2 423.0L663.8 418.0M657.4 429.0L659.9 424.0M647.2 445.0L650.2 440.0M644.2 451.0L646.4 446.0" stroke="#1db3af"/><path d="M782.7 289.7L788.3 280.0M752.3 325.0L756.2 320.5M756.2 320.5L760.0 316.0M760.0 316.0L763.8 311.5M763.8 311.5L767.5 307.0M726.0 352.0L730.2 347.5M730.2 347.5L734.4 343.0M734.4 343.0L738.4 338.5M738.4 338.5L742.3 334.0M700.0 379.0L703.7 374.5M703.7 374.5L707.6 370.0M707.6 370.0L711.7 365.5M711.7 365.5L715.8 361.0M686.5 392.5L690.7 388.0M690.7 388.0L694.8 383.5M673.8 406.0L677.6 401.5M677.6 401.5L681.5 397.0M666.6 415.0L669.8 410.5M669.8 410.5L673.2 406.0M663.4 419.5L666.2 415.0M660.3 424.0L662.9 419.5M655.0 433.0L657.4 428.5M657.4 428.5L659.9 424.0M652.3 437.5L654.7 433.0M654.7 433.0L657.1 428.5M652.1 437.5L654.5 433.0M649.3 442.0L651.9 437.5M646.2 446.5L648.9 442.0M644.2 451.0L646.1 446.5M644.3 451.0L646.1 446.5M642.8 455.5L644.4 451.0M642.9 455.5L644.5 451.0M643.0 455.5L644.5 451.0M762.6 313.0L764.1 308.0M736.2 341.0L738.6 336.0M700.0 379.0L702.8 374.0M693.4 385.0L696.6 380.0M678.0 401.0L681.5 396.0M644.2 451.0L646.3 446.0" stroke="#25b5a9"/><path d="M788.3 280.0L792.9 272.4M767.5 307.0L771.1 302.5M771.1 302.5L774.4 298.0M774.4 298.0L777.5 293.5M742.3 334.0L746.2 329.5M746.2 329.5L750.1 325.0M750.1 325.0L753.9 320.5M753.9 320.5L757.6 316.0M715.8 361.0L720.0 356.5M720.0 356.5L724.3 352.0M724.3 352.0L728.4 347.5M728.4 347.5L732.5 343.0M694.8 383.5L698.7 379.0M698.7 379.0L702.4 374.5M702.4 374.5L706.2 370.0M706.2 370.0L710.2 365.5M681.5 397.0L685.6 392.5M685.6 392.5L689.6 388.0M689.6 388.0L693.6 383.5M673.2 406.0L676.9 401.5M676.9 401.5L680.7 397.0M666.2 415.0L669.2 410.5M669.2 410.5L672.6 406.0M662.9 419.5L665.7 415.0M665.7 415.0L668.6 410.5M659.9 424.0L662.5 419.5M657.1 428.5L659.6 424.0M654.5 433.0L656.8 428.5M651.9 437.5L654.2 433.0M649.2 442.0L651.7 437.5M649.1 442.0L651.5 437.5M646.2 446.5L648.8 442.0M646.1 446.5L648.6 442.0M644.3 451.0L646.0 446.5M644.4 451.0L646.0 446.5M755.1 319.0L756.7 314.0M719.6 357.0L722.5 352.0M672.4 407.0L675.7 402.0M660.5 423.0L663.0 418.0M656.8 429.0L659.2 424.0M647.0 445.0L649.8 440.0M644.3 451.0L646.2 446.0" stroke="#2eb7a4"/><path d="M792.9 272.4L797.0 265.0M777.5 293.5L780.3 289.0M780.3 289.0L783.0 284.5M757.6 316.0L761.3 311.5M761.3 311.5L764.9 307.0M764.9 307.0L768.4 302.5M768.4 302.5L771.6 298.0M732.5 343.0L736.4 338.5M736.4 338.5L740.3 334.0M740.3 334.0L744.0 329.5M744.0 329.5L747.8 325.0M710.2 365.5L714.2 361.0M714.2 361.0L718.4 356.5M718.4 356.5L722.5 352.0M722.5 352.0L726.6 347.5M693.6 383.5L697.5 379.0M697.5 379.0L701.1 374.5M701.1 374.5L704.8 370.0M680.7 397.0L684.6 392.5M684.6 392.5L688.5 388.0M672.6 406.0L676.1 401.5M676.1 401.5L679.8 397.0M668.6 410.5L671.9 406.0M662.5 419.5L665.2 415.0M665.2 415.0L668.1 410.5M659.6 424.0L662.1 419.5M656.8 428.5L659.2 424.0M654.2 433.0L656.5 428.5M651.7 437.5L653.9 433.0M653.9 433.0L656.2 428.5M651.5 437.5L653.7 433.0M648.9 442.0L651.3 437.5M648.8 442.0L651.0 437.5M646.1 446.5L648.5 442.0M646.1 446.5L648.3 442.0M644.4 451.0L646.0 446.5M644.5 451.0L645.9 446.5M791.4 275.0L791.9 270.0M779.1 291.0L779.4 286.0M739.4 335.0L741.4 330.0M712.4 363.0L715.3 358.0M697.5 379.0L700.1 374.0M656.2 429.0L658.5 424.0M646.9 445.0L649.4 440.0M644.4 451.0L646.1 446.0" stroke="#38b99e"/><path d="M797.0 265.0L801.8 255.6M783.0 284.5L785.7 280.0M785.7 280.0L788.5 275.5M771.6 298.0L774.7 293.5M774.7 293.5L777.6 289.0M747.8 325.0L751.5 320.5M751.5 320.5L755.1 316.0M755.1 316.0L758.7 311.5M758.7 311.5L762.2 307.0M726.6 347.5L730.6 343.0M730.6 343.0L734.5 338.5M734.5 338.5L738.2 334.0M738.2 334.0L741.9 329.5M741.9 329.5L745.5 325.0M704.8 370.0L708.6 365.5M708.6 365.5L712.6 361.0M712.6 361.0L716.7 356.5M716.7 356.5L720.8 352.0M720.8 352.0L724.8 347.5M688.5 388.0L692.4 383.5M692.4 383.5L696.2 379.0M696.2 379.0L699.7 374.5M699.7 374.5L703.3 370.0M679.8 397.0L683.7 392.5M683.7 392.5L687.5 388.0M671.9 406.0L675.4 401.5M668.1 410.5L671.3 406.0M662.1 419.5L664.7 415.0M664.7 415.0L667.5 410.5M659.2 424.0L661.7 419.5M661.7 419.5L664.2 415.0M656.5 428.5L658.9 424.0M658.9 424.0L661.3 419.5M656.2 428.5L658.5 424.0M653.7 433.0L655.8 428.5M651.3 437.5L653.4 433.0M648.6 442.0L650.8 437.5M646.0 446.5L648.1 442.0M646.0 446.5L648.0 442.0M644.5 451.0L645.9 446.5M772.3 297.0L772.9 292.0M757.5 313.0L758.8 308.0M732.3 341.0L734.5 336.0M716.2 357.0L719.0 352.0M691.1 385.0L694.1 380.0M676.5 401.0L679.8 396.0M671.2 407.0L674.2 402.0M659.8 423.0L662.1 418.0M646.8 445.0L649.0 440.0" stroke="#42bb98"/><path d="M801.8 255.6L807.0 244.0M788.5 275.5L791.3 271.0M791.3 271.0L794.0 266.5M777.6 289.0L780.3 284.5M780.3 284.5L783.0 280.0M762.2 307.0L765.6 302.5M765.6 302.5L768.8 298.0M768.8 298.0L771.9 293.5M745.5 325.0L749.1 320.5M749.1 320.5L752.6 316.0M752.6 316.0L756.1 311.5M724.8 347.5L728.7 343.0M728.7 343.0L732.5 338.5M732.5 338.5L736.1 334.0M736.1 334.0L739.6 329.5M703.3 370.0L707.1 365.5M707.1 365.5L711.0 361.0M711.0 361.0L715.0 356.5M715.0 356.5L719.0 352.0M687.5 388.0L691.3 383.5M691.3 383.5L694.9 379.0M694.9 379.0L698.4 374.5M698.4 374.5L701.9 370.0M675.4 401.5L678.9 397.0M678.9 397.0L682.7 392.5M682.7 392.5L686.4 388.0M671.3 406.0L674.6 401.5M674.6 401.5L678.1 397.0M667.5 410.5L670.6 406.0M664.2 415.0L667.0 410.5M661.3 419.5L663.7 415.0M658.5 424.0L660.8 419.5M655.8 428.5L658.1 424.0M653.4 433.0L655.5 428.5M651.0 437.5L653.1 433.0M650.8 437.5L652.8 433.0M648.5 442.0L650.6 437.5M648.3 442.0L650.3 437.5M646.0 446.5L647.8 442.0M645.9 446.5L647.6 442.0M803.0 253.0L803.5 248.0M750.3 319.0L751.7 314.0M735.3 335.0L737.0 330.0M709.3 363.0L711.9 358.0M694.9 379.0L697.4 374.0M659.0 423.0L661.1 418.0M655.6 429.0L657.7 424.0M646.6 445.0L648.6 440.0" stroke="#4dbc92"/><path d="M794.0 266.5L796.5 262.0M783.0 280.0L786.0 275.5M786.0 275.5L788.9 271.0M771.9 293.5L774.8 289.0M774.8 289.0L777.6 284.5M756.1 311.5L759.6 307.0M759.6 307.0L762.9 302.5M762.9 302.5L765.9 298.0M765.9 298.0L769.1 293.5M739.6 329.5L743.2 325.0M743.2 325.0L746.7 320.5M746.7 320.5L750.1 316.0M750.1 316.0L753.5 311.5M719.0 352.0L723.0 347.5M723.0 347.5L726.8 343.0M726.8 343.0L730.4 338.5M730.4 338.5L733.9 334.0M733.9 334.0L737.4 329.5M701.9 370.0L705.6 365.5M705.6 365.5L709.4 361.0M709.4 361.0L713.2 356.5M713.2 356.5L717.2 352.0M686.4 388.0L690.1 383.5M690.1 383.5L693.7 379.0M693.7 379.0L697.0 374.5M697.0 374.5L700.4 370.0M678.1 397.0L681.7 392.5M681.7 392.5L685.3 388.0M670.6 406.0L673.8 401.5M673.8 401.5L677.2 397.0M667.0 410.5L669.9 406.0M663.7 415.0L666.4 410.5M660.8 419.5L663.2 415.0M658.1 424.0L660.4 419.5M655.5 428.5L657.7 424.0M653.1 433.0L655.2 428.5M655.2 428.5L657.3 424.0M652.8 433.0L654.9 428.5M650.6 437.5L652.6 433.0M650.3 437.5L652.3 433.0M648.1 442.0L650.1 437.5M648.0 442.0L649.8 437.5M645.9 446.5L647.4 442.0M792.5 269.0L793.2 264.0M786.3 275.0L787.1 270.0M773.6 291.0L773.9 286.0M728.4 341.0L730.3 336.0M712.8 357.0L715.4 352.0M688.9 385.0L691.6 380.0M675.0 401.0L678.0 396.0M669.9 407.0L672.7 402.0M655.0 429.0L656.9 424.0M646.4 445.0L648.1 440.0" stroke="#59bd8c"/><path d="M807.0 244.0L813.1 228.9M796.5 262.0L798.9 257.5M798.9 257.5L801.1 253.0M788.9 271.0L791.7 266.5M791.7 266.5L794.3 262.0M777.6 284.5L780.4 280.0M780.4 280.0L783.4 275.5M769.1 293.5L772.0 289.0M772.0 289.0L774.8 284.5M753.5 311.5L756.9 307.0M756.9 307.0L760.1 302.5M760.1 302.5L763.1 298.0M737.4 329.5L740.9 325.0M740.9 325.0L744.3 320.5M744.3 320.5L747.6 316.0M747.6 316.0L750.9 311.5M717.2 352.0L721.1 347.5M721.1 347.5L724.8 343.0M724.8 343.0L728.4 338.5M728.4 338.5L731.8 334.0M731.8 334.0L735.2 329.5M700.4 370.0L704.0 365.5M704.0 365.5L707.7 361.0M707.7 361.0L711.5 356.5M711.5 356.5L715.4 352.0M685.3 388.0L688.9 383.5M688.9 383.5L692.4 379.0M692.4 379.0L695.6 374.5M695.6 374.5L699.0 370.0M677.2 397.0L680.7 392.5M680.7 392.5L684.2 388.0M669.9 406.0L673.1 401.5M673.1 401.5L676.3 397.0M666.4 410.5L669.3 406.0M663.2 415.0L665.8 410.5M660.4 419.5L662.7 415.0M657.7 424.0L659.9 419.5M659.9 419.5L662.2 415.0M657.3 424.0L659.5 419.5M654.9 428.5L656.9 424.0M652.6 433.0L654.5 428.5M652.3 433.0L654.2 428.5M650.1 437.5L652.0 433.0M647.8 442.0L649.6 437.5M647.6 442.0L649.3 437.5M766.7 297.0L767.3 292.0M752.4 313.0L753.4 308.0M745.4 319.0L746.5 314.0M731.1 335.0L732.6 330.0M706.1 363.0L708.5 358.0M692.4 379.0L694.6 374.0M673.4 401.0L676.1 396.0M668.6 407.0L671.2 402.0M658.2 423.0L660.2 418.0" stroke="#65be86"/><path d="M801.1 253.0L803.3 248.5M803.3 248.5L805.3 244.0M794.3 262.0L796.9 257.5M783.4 275.5L786.5 271.0M786.5 271.0L789.4 266.5M774.8 284.5L777.7 280.0M777.7 280.0L780.8 275.5M763.1 298.0L766.3 293.5M766.3 293.5L769.2 289.0M750.9 311.5L754.1 307.0M754.1 307.0L757.3 302.5M757.3 302.5L760.2 298.0M735.2 329.5L738.5 325.0M738.5 325.0L741.8 320.5M741.8 320.5L745.1 316.0M715.4 352.0L719.2 347.5M719.2 347.5L722.9 343.0M722.9 343.0L726.3 338.5M726.3 338.5L729.7 334.0M729.7 334.0L732.9 329.5M699.0 370.0L702.5 365.5M702.5 365.5L706.1 361.0M706.1 361.0L709.8 356.5M709.8 356.5L713.6 352.0M684.2 388.0L687.7 383.5M687.7 383.5L691.0 379.0M691.0 379.0L694.2 374.5M694.2 374.5L697.5 370.0M676.3 397.0L679.7 392.5M679.7 392.5L683.1 388.0M683.1 388.0L686.4 383.5M669.3 406.0L672.3 401.5M672.3 401.5L675.4 397.0M665.8 410.5L668.6 406.0M668.6 406.0L671.5 401.5M662.7 415.0L665.2 410.5M665.2 410.5L667.9 406.0M662.2 415.0L664.6 410.5M659.5 419.5L661.7 415.0M656.9 424.0L659.0 419.5M654.5 428.5L656.5 424.0M654.2 428.5L656.1 424.0M652.0 433.0L653.8 428.5M649.8 437.5L651.6 433.0M649.6 437.5L651.3 433.0M647.4 442.0L648.9 437.5M804.0 247.0L804.6 242.0M787.8 269.0L788.8 264.0M767.9 291.0L768.3 286.0M724.4 341.0L726.1 336.0M709.3 357.0L711.7 352.0M686.5 385.0L689.0 380.0M657.4 423.0L659.2 418.0M654.3 429.0L656.1 424.0" stroke="#71bf80"/><path d="M813.1 228.9L819.0 212.0M805.3 244.0L807.3 239.5M796.9 257.5L799.3 253.0M799.3 253.0L801.5 248.5M789.4 266.5L792.2 262.0M792.2 262.0L794.8 257.5M780.8 275.5L784.0 271.0M784.0 271.0L787.1 266.5M769.2 289.0L772.1 284.5M772.1 284.5L775.0 280.0M760.2 298.0L763.4 293.5M763.4 293.5L766.4 289.0M745.1 316.0L748.3 311.5M748.3 311.5L751.4 307.0M751.4 307.0L754.4 302.5M754.4 302.5L757.3 298.0M732.9 329.5L736.2 325.0M736.2 325.0L739.3 320.5M739.3 320.5L742.5 316.0M713.6 352.0L717.3 347.5M717.3 347.5L720.9 343.0M720.9 343.0L724.3 338.5M724.3 338.5L727.5 334.0M727.5 334.0L730.6 329.5M697.5 370.0L700.9 365.5M700.9 365.5L704.4 361.0M704.4 361.0L708.0 356.5M708.0 356.5L711.7 352.0M711.7 352.0L715.4 347.5M686.4 383.5L689.7 379.0M689.7 379.0L692.8 374.5M692.8 374.5L696.0 370.0M696.0 370.0L699.3 365.5M675.4 397.0L678.7 392.5M678.7 392.5L682.0 388.0M682.0 388.0L685.2 383.5M671.5 401.5L674.5 397.0M667.9 406.0L670.7 401.5M664.6 410.5L667.2 406.0M661.7 415.0L664.0 410.5M659.0 419.5L661.1 415.0M656.5 424.0L658.5 419.5M656.1 424.0L658.0 419.5M653.8 428.5L655.7 424.0M651.6 433.0L653.4 428.5M651.3 433.0L653.0 428.5M649.3 437.5L651.0 433.0M648.9 437.5L650.5 433.0M812.3 231.0L813.0 226.0M799.3 253.0L800.0 248.0M781.2 275.0L782.2 270.0M760.9 297.0L761.5 292.0M747.2 313.0L748.0 308.0M740.4 319.0L741.2 314.0M726.8 335.0L728.0 330.0M702.8 363.0L705.0 358.0M689.7 379.0L691.7 374.0M671.8 401.0L674.3 396.0M667.3 407.0L669.6 402.0M653.6 429.0L655.2 424.0" stroke="#7cbf7b"/><path d="M807.3 239.5L809.3 235.0M809.3 235.0L811.1 230.5M801.5 248.5L803.7 244.0M803.7 244.0L805.8 239.5M794.8 257.5L797.4 253.0M797.4 253.0L799.8 248.5M787.1 266.5L790.1 262.0M790.1 262.0L792.8 257.5M775.0 280.0L778.2 275.5M778.2 275.5L781.5 271.0M781.5 271.0L784.8 266.5M766.4 289.0L769.3 284.5M769.3 284.5L772.2 280.0M757.3 298.0L760.5 293.5M760.5 293.5L763.6 289.0M742.5 316.0L745.6 311.5M745.6 311.5L748.6 307.0M748.6 307.0L751.6 302.5M751.6 302.5L754.3 298.0M730.6 329.5L733.8 325.0M733.8 325.0L736.9 320.5M736.9 320.5L739.9 316.0M739.9 316.0L742.9 311.5M715.4 347.5L718.9 343.0M718.9 343.0L722.2 338.5M722.2 338.5L725.3 334.0M725.3 334.0L728.3 329.5M699.3 365.5L702.7 361.0M702.7 361.0L706.2 356.5M706.2 356.5L709.9 352.0M709.9 352.0L713.5 347.5M685.2 383.5L688.4 379.0M688.4 379.0L691.4 374.5M691.4 374.5L694.5 370.0M694.5 370.0L697.7 365.5M674.5 397.0L677.7 392.5M677.7 392.5L680.8 388.0M680.8 388.0L684.0 383.5M684.0 383.5L687.0 379.0M670.7 401.5L673.6 397.0M667.2 406.0L669.9 401.5M664.0 410.5L666.5 406.0M661.1 415.0L663.4 410.5M658.5 419.5L660.6 415.0M658.0 419.5L660.0 415.0M655.7 424.0L657.5 419.5M653.4 428.5L655.2 424.0M653.0 428.5L654.8 424.0M651.0 433.0L652.6 428.5M650.5 433.0L652.1 428.5M762.2 291.0L762.7 286.0M720.4 341.0L721.7 336.0M705.8 357.0L708.0 352.0M684.1 385.0L686.4 380.0M656.5 423.0L658.2 418.0M652.8 429.0L654.3 424.0" stroke="#87bf77"/><path d="M811.1 230.5L813.0 226.0M805.8 239.5L807.8 235.0M799.8 248.5L802.0 244.0M802.0 244.0L804.2 239.5M792.8 257.5L795.4 253.0M795.4 253.0L798.0 248.5M784.8 266.5L787.9 262.0M787.9 262.0L790.8 257.5M772.2 280.0L775.2 275.5M775.2 275.5L778.1 271.0M778.1 271.0L780.8 266.5M763.6 289.0L766.5 284.5M766.5 284.5L769.4 280.0M754.3 298.0L757.6 293.5M757.6 293.5L760.7 289.0M742.9 311.5L745.9 307.0M745.9 307.0L748.7 302.5M748.7 302.5L751.4 298.0M728.3 329.5L731.4 325.0M731.4 325.0L734.3 320.5M734.3 320.5L737.3 316.0M737.3 316.0L740.2 311.5M713.5 347.5L716.9 343.0M716.9 343.0L720.0 338.5M720.0 338.5L723.0 334.0M723.0 334.0L726.0 329.5M726.0 329.5L728.9 325.0M697.7 365.5L701.0 361.0M701.0 361.0L704.4 356.5M704.4 356.5L708.0 352.0M708.0 352.0L711.5 347.5M711.5 347.5L714.8 343.0M687.0 379.0L689.9 374.5M689.9 374.5L692.9 370.0M692.9 370.0L696.0 365.5M696.0 365.5L699.2 361.0M673.6 397.0L676.6 392.5M676.6 392.5L679.7 388.0M679.7 388.0L682.7 383.5M682.7 383.5L685.7 379.0M669.9 401.5L672.6 397.0M672.6 397.0L675.6 392.5M666.5 406.0L669.0 401.5M663.4 410.5L665.7 406.0M660.6 415.0L662.7 410.5M662.7 410.5L665.0 406.0M660.0 415.0L662.1 410.5M657.5 419.5L659.4 415.0M655.2 424.0L657.0 419.5M654.8 424.0L656.5 419.5M652.6 428.5L654.3 424.0M800.5 247.0L801.4 242.0M795.4 253.0L796.4 248.0M775.5 275.0L776.0 270.0M755.1 297.0L755.7 292.0M741.9 313.0L742.4 308.0M735.3 319.0L735.9 314.0M722.4 335.0L723.3 330.0M699.5 363.0L701.4 358.0M687.0 379.0L688.8 374.0M681.7 385.0L683.6 380.0M670.2 401.0L672.3 396.0M665.9 407.0L667.9 402.0M655.6 423.0L657.1 418.0" stroke="#92bf73"/><path d="M819.0 212.0L823.8 194.6M813.0 226.0L814.7 221.5M814.7 221.5L816.4 217.0M807.8 235.0L809.8 230.5M809.8 230.5L811.8 226.0M804.2 239.5L806.4 235.0M798.0 248.5L800.3 244.0M790.8 257.5L793.5 253.0M793.5 253.0L796.1 248.5M780.8 266.5L783.5 262.0M783.5 262.0L786.1 257.5M769.4 280.0L772.4 275.5M772.4 275.5L775.4 271.0M775.4 271.0L778.2 266.5M760.7 289.0L763.6 284.5M763.6 284.5L766.6 280.0M766.6 280.0L769.7 275.5M751.4 298.0L754.7 293.5M754.7 293.5L757.8 289.0M757.8 289.0L760.8 284.5M740.2 311.5L743.0 307.0M743.0 307.0L745.8 302.5M745.8 302.5L748.4 298.0M728.9 325.0L731.8 320.5M731.8 320.5L734.6 316.0M734.6 316.0L737.4 311.5M714.8 343.0L717.9 338.5M717.9 338.5L720.8 334.0M720.8 334.0L723.6 329.5M723.6 329.5L726.5 325.0M699.2 361.0L702.6 356.5M702.6 356.5L706.1 352.0M706.1 352.0L709.6 347.5M709.6 347.5L712.8 343.0M712.8 343.0L715.7 338.5M685.7 379.0L688.5 374.5M688.5 374.5L691.4 370.0M691.4 370.0L694.4 365.5M694.4 365.5L697.5 361.0M697.5 361.0L700.7 356.5M675.6 392.5L678.5 388.0M678.5 388.0L681.4 383.5M681.4 383.5L684.3 379.0M684.3 379.0L687.0 374.5M669.0 401.5L671.7 397.0M671.7 397.0L674.5 392.5M674.5 392.5L677.3 388.0M665.7 406.0L668.2 401.5M665.0 406.0L667.3 401.5M662.1 410.5L664.2 406.0M659.4 415.0L661.4 410.5M657.0 419.5L658.8 415.0M656.5 419.5L658.2 415.0M654.3 424.0L655.9 419.5M652.1 428.5L653.6 424.0M819.9 209.0L820.7 204.0M813.4 225.0L814.2 220.0M809.6 231.0L810.5 226.0M756.4 291.0L756.9 286.0M736.5 313.0L736.7 308.0M716.2 341.0L717.3 336.0M702.2 357.0L704.2 352.0M696.1 363.0L697.8 358.0M684.3 379.0L685.8 374.0M664.5 407.0L666.2 402.0M654.6 423.0L655.7 418.0" stroke="#9cbf6f"/><path d="M816.4 217.0L818.0 212.5M811.8 226.0L813.6 221.5M806.4 235.0L808.5 230.5M808.5 230.5L810.5 226.0M800.3 244.0L802.6 239.5M802.6 239.5L804.9 235.0M796.1 248.5L798.6 244.0M786.1 257.5L788.6 253.0M788.6 253.0L791.0 248.5M778.2 266.5L780.9 262.0M780.9 262.0L783.6 257.5M769.7 275.5L772.7 271.0M772.7 271.0L775.5 266.5M760.8 284.5L763.8 280.0M763.8 280.0L766.9 275.5M748.4 298.0L751.7 293.5M751.7 293.5L754.8 289.0M754.8 289.0L757.9 284.5M737.4 311.5L740.2 307.0M740.2 307.0L742.6 302.5M742.6 302.5L744.5 298.0M744.5 298.0L746.2 293.5M726.5 325.0L729.2 320.5M729.2 320.5L732.0 316.0M732.0 316.0L734.7 311.5M734.7 311.5L737.3 307.0M715.7 338.5L718.5 334.0M718.5 334.0L721.3 329.5M721.3 329.5L724.0 325.0M724.0 325.0L726.6 320.5M700.7 356.5L704.2 352.0M704.2 352.0L707.6 347.5M707.6 347.5L710.7 343.0M710.7 343.0L713.5 338.5M687.0 374.5L689.8 370.0M689.8 370.0L692.7 365.5M692.7 365.5L695.7 361.0M695.7 361.0L698.8 356.5M698.8 356.5L702.2 352.0M677.3 388.0L680.1 383.5M680.1 383.5L682.8 379.0M682.8 379.0L685.5 374.5M685.5 374.5L688.2 370.0M668.2 401.5L670.7 397.0M670.7 397.0L673.4 392.5M673.4 392.5L676.1 388.0M667.3 401.5L669.7 397.0M664.2 406.0L666.4 401.5M661.4 410.5L663.4 406.0M658.8 415.0L660.7 410.5M658.2 415.0L660.0 410.5M655.9 419.5L657.5 415.0M653.6 424.0L655.1 419.5M788.6 253.0L788.9 248.0M776.7 269.0L777.1 264.0M770.0 275.0L770.6 270.0M730.1 319.0L730.4 314.0M717.9 335.0L718.5 330.0M698.5 357.0L700.2 352.0M679.2 385.0L680.8 380.0M668.5 401.0L670.3 396.0" stroke="#a5be6b"/><path d="M818.0 212.5L819.4 208.0M819.4 208.0L820.8 203.5M813.6 221.5L815.4 217.0M815.4 217.0L817.1 212.5M810.5 226.0L812.5 221.5M804.9 235.0L807.1 230.5M807.1 230.5L809.3 226.0M798.6 244.0L801.1 239.5M801.1 239.5L803.4 235.0M791.0 248.5L793.0 244.0M783.6 257.5L786.2 253.0M786.2 253.0L788.6 248.5M775.5 266.5L778.3 262.0M778.3 262.0L781.0 257.5M766.9 275.5L769.9 271.0M769.9 271.0L772.9 266.5M757.9 284.5L761.0 280.0M761.0 280.0L764.1 275.5M746.2 293.5L747.3 289.0M747.3 289.0L748.3 284.5M737.3 307.0L739.7 302.5M739.7 302.5L741.6 298.0M741.6 298.0L743.6 293.5M726.6 320.5L729.2 316.0M729.2 316.0L731.8 311.5M731.8 311.5L734.4 307.0M713.5 338.5L716.2 334.0M716.2 334.0L718.8 329.5M718.8 329.5L721.4 325.0M721.4 325.0L724.0 320.5M702.2 352.0L705.5 347.5M705.5 347.5L708.2 343.0M708.2 343.0L710.0 338.5M710.0 338.5L711.1 334.0M688.2 370.0L690.9 365.5M690.9 365.5L693.8 361.0M693.8 361.0L696.9 356.5M696.9 356.5L700.2 352.0M700.2 352.0L703.4 347.5M676.1 388.0L678.8 383.5M678.8 383.5L681.4 379.0M681.4 379.0L683.9 374.5M683.9 374.5L686.5 370.0M686.5 370.0L689.2 365.5M669.7 397.0L672.3 392.5M672.3 392.5L674.8 388.0M674.8 388.0L677.4 383.5M666.4 401.5L668.7 397.0M663.4 406.0L665.5 401.5M660.7 410.5L662.6 406.0M660.0 410.5L661.7 406.0M657.5 415.0L659.2 410.5M655.1 419.5L656.7 415.0M811.0 225.0L812.1 220.0M806.9 231.0L808.1 226.0M771.3 269.0L771.8 264.0M746.9 291.0L745.7 286.0M742.1 297.0L741.5 292.0M731.0 313.0L730.9 308.0M692.5 363.0L693.9 358.0M681.4 379.0L682.6 374.0M676.5 385.0L677.9 380.0M666.7 401.0L668.2 396.0M663.0 407.0L664.3 402.0" stroke="#aebe67"/><path d="M820.8 203.5L822.1 199.0M817.1 212.5L818.7 208.0M812.5 221.5L814.4 217.0M814.4 217.0L816.2 212.5M809.3 226.0L811.4 221.5M803.4 235.0L805.8 230.5M805.8 230.5L808.1 226.0M793.0 244.0L794.6 239.5M794.6 239.5L796.0 235.0M788.6 248.5L790.7 244.0M790.7 244.0L792.4 239.5M781.0 257.5L783.7 253.0M783.7 253.0L786.2 248.5M772.9 266.5L775.7 262.0M775.7 262.0L778.5 257.5M764.1 275.5L767.2 271.0M767.2 271.0L770.2 266.5M748.3 284.5L749.8 280.0M749.8 280.0L751.5 275.5M743.6 293.5L744.9 289.0M744.9 289.0L746.1 284.5M734.4 307.0L736.7 302.5M736.7 302.5L738.7 298.0M738.7 298.0L740.9 293.5M724.0 320.5L726.5 316.0M726.5 316.0L729.0 311.5M729.0 311.5L731.4 307.0M731.4 307.0L733.7 302.5M711.1 334.0L711.9 329.5M711.9 329.5L712.7 325.0M712.7 325.0L714.2 320.5M714.2 320.5L715.8 316.0M703.4 347.5L706.1 343.0M706.1 343.0L707.9 338.5M707.9 338.5L709.1 334.0M709.1 334.0L710.1 329.5M689.2 365.5L692.0 361.0M692.0 361.0L695.0 356.5M695.0 356.5L698.2 352.0M698.2 352.0L701.3 347.5M701.3 347.5L703.9 343.0M677.4 383.5L679.9 379.0M679.9 379.0L682.4 374.5M682.4 374.5L684.8 370.0M684.8 370.0L687.4 365.5M687.4 365.5L690.1 361.0M668.7 397.0L671.1 392.5M671.1 392.5L673.5 388.0M673.5 388.0L676.0 383.5M676.0 383.5L678.4 379.0M665.5 401.5L667.7 397.0M667.7 397.0L669.9 392.5M662.6 406.0L664.6 401.5M661.7 406.0L663.5 401.5M659.2 410.5L660.8 406.0M656.7 415.0L658.2 410.5M821.0 203.0L821.9 198.0M818.3 209.0L819.3 204.0M789.3 247.0L789.2 242.0M783.7 253.0L784.0 248.0M710.9 335.0L710.0 330.0M706.9 341.0L706.5 336.0M694.6 357.0L696.1 352.0M661.3 407.0L662.3 402.0" stroke="#b7bd64"/><path d="M823.8 194.6L827.4 177.0M822.1 199.0L823.4 194.5M818.7 208.0L820.2 203.5M820.2 203.5L821.6 199.0M816.2 212.5L817.9 208.0M811.4 221.5L813.4 217.0M813.4 217.0L815.3 212.5M808.1 226.0L810.3 221.5M796.0 235.0L797.2 230.5M797.2 230.5L798.6 226.0M792.4 239.5L793.9 235.0M786.2 248.5L788.4 244.0M788.4 244.0L790.2 239.5M778.5 257.5L781.2 253.0M781.2 253.0L783.8 248.5M770.2 266.5L773.0 262.0M773.0 262.0L775.9 257.5M775.9 257.5L778.7 253.0M751.5 275.5L753.2 271.0M753.2 271.0L754.9 266.5M754.9 266.5L756.6 262.0M746.1 284.5L747.8 280.0M747.8 280.0L749.6 275.5M749.6 275.5L751.4 271.0M740.9 293.5L742.5 289.0M742.5 289.0L743.9 284.5M743.9 284.5L745.7 280.0M733.7 302.5L735.8 298.0M735.8 298.0L738.2 293.5M738.2 293.5L740.0 289.0M715.8 316.0L717.4 311.5M717.4 311.5L719.0 307.0M719.0 307.0L720.6 302.5M720.6 302.5L722.2 298.0M710.1 329.5L711.1 325.0M711.1 325.0L712.7 320.5M712.7 320.5L714.4 316.0M714.4 316.0L716.1 311.5M703.9 343.0L705.7 338.5M705.7 338.5L707.1 334.0M707.1 334.0L708.3 329.5M708.3 329.5L709.5 325.0M690.1 361.0L693.0 356.5M693.0 356.5L696.1 352.0M696.1 352.0L699.2 347.5M699.2 347.5L701.7 343.0M701.7 343.0L703.6 338.5M678.4 379.0L680.5 374.5M680.5 374.5L682.3 370.0M682.3 370.0L683.9 365.5M683.9 365.5L685.2 361.0M685.2 361.0L686.5 356.5M669.9 392.5L672.2 388.0M672.2 388.0L674.6 383.5M674.6 383.5L676.8 379.0M676.8 379.0L678.9 374.5M664.6 401.5L666.6 397.0M666.6 397.0L668.7 392.5M668.7 392.5L670.9 388.0M663.5 401.5L665.2 397.0M660.8 406.0L662.5 401.5M658.2 410.5L659.6 406.0M797.1 231.0L796.8 226.0M754.0 269.0L754.2 264.0M749.8 275.0L750.0 270.0M741.8 291.0L741.0 286.0M716.9 313.0L717.4 308.0M713.3 319.0L713.8 314.0M706.8 335.0L706.2 330.0M678.4 379.0L679.1 374.0M673.8 385.0L674.7 380.0M664.8 401.0L665.6 396.0" stroke="#c0bc60"/><path d="M823.4 194.5L824.6 190.0M821.6 199.0L823.0 194.5M817.9 208.0L819.5 203.5M819.5 203.5L821.0 199.0M815.3 212.5L817.1 208.0M817.1 208.0L818.8 203.5M810.3 221.5L812.4 217.0M812.4 217.0L814.4 212.5M798.6 226.0L800.3 221.5M800.3 221.5L802.0 217.0M793.9 235.0L795.2 230.5M795.2 230.5L796.8 226.0M790.2 239.5L791.8 235.0M791.8 235.0L793.3 230.5M783.8 248.5L786.0 244.0M786.0 244.0L788.0 239.5M778.7 253.0L781.3 248.5M781.3 248.5L783.7 244.0M756.6 262.0L758.3 257.5M758.3 257.5L760.0 253.0M751.4 271.0L753.2 266.5M753.2 266.5L755.0 262.0M745.7 280.0L747.6 275.5M747.6 275.5L749.5 271.0M740.0 289.0L741.6 284.5M741.6 284.5L743.5 280.0M722.2 298.0L723.8 293.5M723.8 293.5L725.4 289.0M716.1 311.5L717.8 307.0M717.8 307.0L719.4 302.5M719.4 302.5L721.1 298.0M709.5 325.0L711.2 320.5M711.2 320.5L713.0 316.0M713.0 316.0L714.7 311.5M714.7 311.5L716.5 307.0M703.6 338.5L705.0 334.0M705.0 334.0L706.4 329.5M706.4 329.5L707.9 325.0M707.9 325.0L709.7 320.5M686.5 356.5L688.2 352.0M688.2 352.0L690.0 347.5M690.0 347.5L691.7 343.0M691.7 343.0L693.4 338.5M693.4 338.5L695.1 334.0M678.9 374.5L680.8 370.0M680.8 370.0L682.4 365.5M682.4 365.5L683.9 361.0M683.9 361.0L685.4 356.5M685.4 356.5L687.2 352.0M670.9 388.0L673.1 383.5M673.1 383.5L675.2 379.0M675.2 379.0L677.2 374.5M677.2 374.5L679.1 370.0M679.1 370.0L680.9 365.5M665.2 397.0L666.8 392.5M666.8 392.5L668.2 388.0M668.2 388.0L669.5 383.5M662.5 401.5L664.1 397.0M659.6 406.0L661.1 401.5M819.7 203.0L820.9 198.0M816.7 209.0L818.0 204.0M784.6 247.0L784.6 242.0M724.7 291.0L725.6 286.0M714.1 313.0L714.8 308.0M686.4 357.0L687.2 352.0M683.3 363.0L683.7 358.0M669.0 385.0L669.9 380.0M662.6 401.0L663.1 396.0" stroke="#c8bc5d"/><path d="M823.0 194.5L824.2 190.0M821.0 199.0L822.5 194.5M818.8 203.5L820.5 199.0M814.4 212.5L816.3 208.0M816.3 208.0L818.2 203.5M802.0 217.0L803.7 212.5M803.7 212.5L805.4 208.0M796.8 226.0L798.6 221.5M798.6 221.5L800.4 217.0M793.3 230.5L794.9 226.0M794.9 226.0L796.8 221.5M788.0 239.5L789.6 235.0M789.6 235.0L791.3 230.5M783.7 244.0L785.7 239.5M785.7 239.5L787.5 235.0M760.0 253.0L761.7 248.5M761.7 248.5L763.4 244.0M755.0 262.0L756.8 257.5M756.8 257.5L758.7 253.0M758.7 253.0L760.5 248.5M749.5 271.0L751.5 266.5M751.5 266.5L753.4 262.0M753.4 262.0L755.3 257.5M743.5 280.0L745.6 275.5M745.6 275.5L747.6 271.0M747.6 271.0L749.7 266.5M725.4 289.0L727.0 284.5M727.0 284.5L728.6 280.0M728.6 280.0L730.2 275.5M721.1 298.0L722.8 293.5M722.8 293.5L724.5 289.0M724.5 289.0L726.2 284.5M716.5 307.0L718.3 302.5M718.3 302.5L720.0 298.0M720.0 298.0L721.8 293.5M709.7 320.5L711.5 316.0M711.5 316.0L713.4 311.5M713.4 311.5L715.2 307.0M715.2 307.0L717.1 302.5M695.1 334.0L696.9 329.5M696.9 329.5L698.6 325.0M698.6 325.0L700.3 320.5M700.3 320.5L702.0 316.0M687.2 352.0L688.9 347.5M688.9 347.5L690.7 343.0M690.7 343.0L692.5 338.5M692.5 338.5L694.3 334.0M694.3 334.0L696.1 329.5M680.9 365.5L682.6 361.0M682.6 361.0L684.2 356.5M684.2 356.5L686.1 352.0M686.1 352.0L687.9 347.5M687.9 347.5L689.8 343.0M669.5 383.5L670.9 379.0M670.9 379.0L672.5 374.5M672.5 374.5L674.0 370.0M674.0 370.0L675.6 365.5M675.6 365.5L677.1 361.0M664.1 397.0L665.7 392.5M665.7 392.5L667.3 388.0M667.3 388.0L668.7 383.5M668.7 383.5L670.3 379.0M670.3 379.0L671.9 374.5M661.1 401.5L662.8 397.0M662.8 397.0L664.5 392.5M825.5 187.0L826.4 182.0M797.2 225.0L797.4 220.0M793.1 231.0L793.0 226.0M762.3 247.0L763.1 242.0M758.7 253.0L759.4 248.0M750.4 269.0L750.8 264.0M721.5 297.0L722.4 292.0M694.7 335.0L695.9 330.0M691.5 341.0L692.6 336.0M676.4 363.0L677.7 358.0M670.3 379.0L671.3 374.0" stroke="#d1bb59"/><path d="M824.6 190.0L825.6 185.5M822.5 194.5L823.9 190.0M820.5 199.0L822.1 194.5M818.2 203.5L819.9 199.0M805.4 208.0L807.1 203.5M800.4 217.0L802.1 212.5M802.1 212.5L803.9 208.0M796.8 221.5L798.7 217.0M798.7 217.0L800.6 212.5M791.3 230.5L793.0 226.0M793.0 226.0L795.0 221.5M787.5 235.0L789.2 230.5M789.2 230.5L791.1 226.0M763.4 244.0L765.1 239.5M765.1 239.5L766.8 235.0M760.5 248.5L762.3 244.0M762.3 244.0L764.1 239.5M755.3 257.5L757.3 253.0M757.3 253.0L759.2 248.5M749.7 266.5L751.7 262.0M751.7 262.0L753.8 257.5M730.2 275.5L731.8 271.0M731.8 271.0L733.4 266.5M726.2 284.5L727.8 280.0M727.8 280.0L729.5 275.5M729.5 275.5L731.2 271.0M721.8 293.5L723.6 289.0M723.6 289.0L725.3 284.5M725.3 284.5L727.1 280.0M717.1 302.5L718.9 298.0M718.9 298.0L720.8 293.5M720.8 293.5L722.6 289.0M702.0 316.0L703.8 311.5M703.8 311.5L705.5 307.0M705.5 307.0L707.2 302.5M696.1 329.5L697.9 325.0M697.9 325.0L699.7 320.5M699.7 320.5L701.4 316.0M701.4 316.0L703.2 311.5M689.8 343.0L691.6 338.5M691.6 338.5L693.5 334.0M693.5 334.0L695.3 329.5M695.3 329.5L697.1 325.0M677.1 361.0L678.7 356.5M678.7 356.5L680.2 352.0M680.2 352.0L681.8 347.5M681.8 347.5L683.3 343.0M683.3 343.0L684.9 338.5M671.9 374.5L673.5 370.0M673.5 370.0L675.0 365.5M675.0 365.5L676.6 361.0M676.6 361.0L678.2 356.5M664.5 392.5L666.2 388.0M666.2 388.0L667.8 383.5M667.8 383.5L669.5 379.0M669.5 379.0L671.1 374.5M671.1 374.5L672.7 370.0M805.0 209.0L805.5 204.0M793.5 225.0L793.9 220.0M732.5 269.0L733.8 264.0M722.8 291.0L723.9 286.0M703.2 313.0L704.6 308.0M700.3 319.0L701.7 314.0M684.0 341.0L685.4 336.0M678.0 357.0L679.2 352.0" stroke="#d9ba56"/><path d="M825.6 185.5L826.6 181.0M824.2 190.0L825.4 185.5M823.9 190.0L825.2 185.5M822.1 194.5L823.6 190.0M819.9 199.0L821.7 194.5M807.1 203.5L808.7 199.0M808.7 199.0L810.4 194.5M803.9 208.0L805.7 203.5M805.7 203.5L807.5 199.0M800.6 212.5L802.5 208.0M795.0 221.5L797.0 217.0M797.0 217.0L799.0 212.5M791.1 226.0L793.2 221.5M793.2 221.5L795.3 217.0M766.8 235.0L768.5 230.5M768.5 230.5L770.2 226.0M764.1 239.5L765.9 235.0M765.9 235.0L767.7 230.5M759.2 248.5L761.1 244.0M761.1 244.0L763.1 239.5M753.8 257.5L755.9 253.0M755.9 253.0L757.9 248.5M757.9 248.5L760.0 244.0M733.4 266.5L735.0 262.0M735.0 262.0L736.6 257.5M736.6 257.5L738.2 253.0M731.2 271.0L732.9 266.5M732.9 266.5L734.6 262.0M727.1 280.0L728.9 275.5M728.9 275.5L730.6 271.0M722.6 289.0L724.5 284.5M724.5 284.5L726.3 280.0M707.2 302.5L708.9 298.0M708.9 298.0L710.7 293.5M710.7 293.5L712.4 289.0M703.2 311.5L705.0 307.0M705.0 307.0L706.8 302.5M706.8 302.5L708.6 298.0M697.1 325.0L699.0 320.5M699.0 320.5L700.8 316.0M700.8 316.0L702.7 311.5M702.7 311.5L704.5 307.0M684.9 338.5L686.4 334.0M686.4 334.0L688.0 329.5M688.0 329.5L689.5 325.0M689.5 325.0L691.1 320.5M678.2 356.5L679.8 352.0M679.8 352.0L681.4 347.5M681.4 347.5L683.0 343.0M683.0 343.0L684.5 338.5M684.5 338.5L686.1 334.0M672.7 370.0L674.4 365.5M674.4 365.5L676.0 361.0M676.0 361.0L677.6 356.5M677.6 356.5L679.2 352.0M679.2 352.0L680.9 347.5M825.0 187.0L826.2 182.0M805.9 203.0L806.7 198.0M802.1 209.0L802.8 204.0M759.8 247.0L760.9 242.0M729.7 275.0L731.0 270.0M711.6 291.0L713.3 286.0M685.8 335.0L687.2 330.0" stroke="#e1b952"/><path d="M827.4 177.0L827.4 177.0M826.6 181.0L827.4 177.0M825.4 185.5L826.5 181.0M823.6 190.0L825.0 185.5M821.7 194.5L823.3 190.0M810.4 194.5L812.1 190.0M807.5 199.0L809.3 194.5M802.5 208.0L804.4 203.5M804.4 203.5L806.2 199.0M799.0 212.5L801.0 208.0M801.0 208.0L803.0 203.5M795.3 217.0L797.4 212.5M797.4 212.5L799.5 208.0M770.2 226.0L771.9 221.5M771.9 221.5L773.6 217.0M767.7 230.5L769.6 226.0M769.6 226.0L771.4 221.5M763.1 239.5L765.0 235.0M765.0 235.0L766.9 230.5M760.0 244.0L762.0 239.5M762.0 239.5L764.1 235.0M738.2 253.0L739.8 248.5M739.8 248.5L741.4 244.0M734.6 262.0L736.3 257.5M736.3 257.5L737.9 253.0M737.9 253.0L739.6 248.5M730.6 271.0L732.4 266.5M732.4 266.5L734.2 262.0M734.2 262.0L735.9 257.5M726.3 280.0L728.2 275.5M728.2 275.5L730.0 271.0M730.0 271.0L731.9 266.5M712.4 289.0L714.1 284.5M714.1 284.5L715.8 280.0M715.8 280.0L717.6 275.5M708.6 298.0L710.4 293.5M710.4 293.5L712.2 289.0M712.2 289.0L713.9 284.5M704.5 307.0L706.4 302.5M706.4 302.5L708.2 298.0M708.2 298.0L710.1 293.5M691.1 320.5L692.6 316.0M692.6 316.0L694.2 311.5M694.2 311.5L695.7 307.0M695.7 307.0L697.2 302.5M686.1 334.0L687.7 329.5M687.7 329.5L689.3 325.0M689.3 325.0L690.9 320.5M690.9 320.5L692.5 316.0M680.9 347.5L682.5 343.0M682.5 343.0L684.1 338.5M684.1 338.5L685.8 334.0M685.8 334.0L687.4 329.5M687.4 329.5L689.0 325.0M770.6 225.0L772.0 220.0M767.5 231.0L768.9 226.0M740.3 247.0L742.1 242.0M737.9 253.0L739.7 248.0M731.4 269.0L732.9 264.0M709.0 297.0L710.7 292.0M691.6 319.0L693.2 314.0" stroke="#e9b94e"/><path d="M826.5 181.0L827.4 177.0M825.2 185.5L826.4 181.0M825.0 185.5L826.3 181.0M823.3 190.0L824.8 185.5M812.1 190.0L813.8 185.5M809.3 194.5L811.1 190.0M806.2 199.0L808.1 194.5M803.0 203.5L805.0 199.0M805.0 199.0L807.0 194.5M799.5 208.0L801.6 203.5M801.6 203.5L803.7 199.0M773.6 217.0L775.3 212.5M775.3 212.5L777.0 208.0M771.4 221.5L773.2 217.0M773.2 217.0L775.0 212.5M766.9 230.5L768.9 226.0M768.9 226.0L770.8 221.5M770.8 221.5L772.7 217.0M764.1 235.0L766.1 230.5M766.1 230.5L768.2 226.0M741.4 244.0L742.8 240.0M742.8 240.0L742.8 240.0M739.6 248.5L741.3 244.0M741.3 244.0L742.8 240.0M735.9 257.5L737.7 253.0M737.7 253.0L739.5 248.5M731.9 266.5L733.7 262.0M733.7 262.0L735.6 257.5M735.6 257.5L737.4 253.0M717.6 275.5L718.7 272.5M713.9 284.5L715.7 280.0M715.7 280.0L717.5 275.5M717.5 275.5L718.7 272.5M710.1 293.5L711.9 289.0M711.9 289.0L713.8 284.5M713.8 284.5L715.6 280.0M697.2 302.5L698.8 298.0M698.8 298.0L698.9 297.7M692.5 316.0L694.0 311.5M694.0 311.5L695.6 307.0M695.6 307.0L697.2 302.5M697.2 302.5L698.8 298.0M689.0 325.0L690.6 320.5M690.6 320.5L692.3 316.0M692.3 316.0L693.9 311.5M824.5 187.0L825.9 182.0M803.2 203.0L804.2 198.0M769.3 225.0L770.9 220.0M693.5 313.0L695.2 308.0" stroke="#f1b94a"/><path d="M827.4 177.0L827.4 177.0M827.4 177.0L827.4 177.0M826.4 181.0L827.4 177.0M826.3 181.0L827.4 177.0M824.8 185.5L826.2 181.0M813.8 185.5L815.5 181.0M811.1 190.0L812.9 185.5M808.1 194.5L810.0 190.0M807.0 194.5L809.0 190.0M803.7 199.0L805.8 194.5M777.0 208.0L778.8 203.5M778.8 203.5L780.3 199.4M780.3 199.4L780.3 199.4M775.0 212.5L776.8 208.0M776.8 208.0L778.6 203.5M772.7 217.0L774.7 212.5M774.7 212.5L776.6 208.0M768.2 226.0L770.2 221.5M770.2 221.5L772.3 217.0M772.3 217.0L774.3 212.5M742.8 240.0L742.8 240.0M739.5 248.5L741.2 244.0M741.2 244.0L742.8 240.0M742.8 240.0L742.8 240.0M737.4 253.0L739.3 248.5M739.3 248.5L741.2 244.0M715.6 280.0L717.5 275.5M717.5 275.5L718.7 272.5M698.8 298.0L698.9 297.7M693.9 311.5L695.5 307.0M695.5 307.0L697.2 302.5M697.2 302.5L698.8 298.0M698.8 298.0L698.9 297.7M813.2 187.0L814.2 182.0M776.4 209.0L778.3 204.0M740.1 247.0L742.0 242.0" stroke="#f8bb44"/><path d="M827.4 177.0L827.4 177.0M827.4 177.0L827.4 177.0M826.2 181.0L827.4 177.0M815.5 181.0L817.2 176.5M812.9 185.5L814.6 181.0M810.0 190.0L811.9 185.5M811.9 185.5L813.8 181.0M809.0 190.0L810.9 185.5M805.8 194.5L807.9 190.0M778.6 203.5L780.3 199.4M780.3 199.4L780.3 199.4M776.6 208.0L778.5 203.5M778.5 203.5L780.3 199.4M774.3 212.5L776.4 208.0M776.4 208.0L778.4 203.5M741.2 244.0L742.8 240.0M742.8 240.0L742.8 240.0M811.3 187.0L812.5 182.0" stroke="#fdbe3d"/><path d="M827.4 177.0L827.4 177.0M817.2 176.5L818.8 172.0M814.6 181.0L816.4 176.5M813.8 181.0L815.7 176.5M810.9 185.5L812.9 181.0M807.9 190.0L810.0 185.5M810.0 185.5L812.1 181.0M780.3 199.4L780.3 199.4M778.4 203.5L780.3 199.4M780.3 199.4L780.3 199.4M814.6 181.0L815.9 176.0" stroke="#ffc337"/><path d="M816.4 176.5L818.2 172.0M815.7 176.5L817.6 172.0M812.9 181.0L814.9 176.5M812.1 181.0L814.2 176.5M812.9 181.0L814.4 176.0" stroke="#fec832"/><path d="M818.8 172.0L820.5 167.5M818.2 172.0L820.0 167.5M817.6 172.0L819.4 167.5M814.9 176.5L816.9 172.0M814.2 176.5L816.2 172.0" stroke="#fcce2e"/><path d="M820.5 167.5L822.2 163.0M820.0 167.5L821.8 163.0M819.4 167.5L821.3 163.0M816.9 172.0L818.9 167.5M816.2 172.0L818.3 167.5M821.5 165.0L823.0 160.0" stroke="#fad32a"/><path d="M822.2 163.0L823.9 158.5M821.8 163.0L823.6 158.5M821.3 163.0L823.2 158.5M818.9 167.5L820.9 163.0M818.3 167.5L820.4 163.0M820.5 165.0L822.2 160.0" stroke="#f7d826"/><path d="M823.9 158.5L825.6 154.0M823.6 158.5L825.3 154.0M823.2 158.5L825.1 154.0M820.9 163.0L822.9 158.5M820.4 163.0L822.5 158.5M823.4 159.0L825.1 154.0" stroke="#f5de21"/><path d="M825.6 154.0L827.3 149.5M825.3 154.0L827.1 149.5M825.1 154.0L827.0 149.5M822.9 158.5L824.9 154.0M822.5 158.5L824.6 154.0M822.7 159.0L824.6 154.0" stroke="#f5e41d"/><path d="M827.3 149.5L828.9 145.0M827.1 149.5L828.9 145.0M824.9 154.0L826.8 149.5M824.6 154.0L826.7 149.5" stroke="#f5eb18"/><path d="M828.9 145.0L829.5 143.5M827.0 149.5L828.9 145.0M826.8 149.5L828.8 145.0M826.7 149.5L828.8 145.0" stroke="#f6f313"/><path d="M828.9 145.0L829.5 143.5M828.9 145.0L829.5 143.5M828.8 145.0L829.5 143.5M828.8 145.0L829.5 143.5" stroke="#f9fb0e"/></g><clipPath id="cu"><path d="M318.0 551.0L380.0 517.0L440.0 482.3L517.8 437.5L600.0 392.5L631.8 364.8L669.5 327.0L698.0 297.7L900.0 300.0L900.0 100.0L300.0 100.0L250.0 551.0Z"/></clipPath><g clip-path="url(#cu)"><path d="M334.7 398.1L345.1 394.4L352.1 385.1L341.7 388.7ZM341.7 388.7L352.1 385.1L359.0 375.9L348.7 379.4ZM348.7 379.4L359.0 375.9L366.0 366.6L355.6 370.1ZM355.6 370.1L366.0 366.6L372.9 357.4L362.6 360.8ZM362.6 360.8L372.9 357.4L379.8 348.2L369.6 351.5ZM369.6 351.5L379.8 348.2L386.8 338.9L376.6 342.1ZM376.6 342.1L386.8 338.9L393.7 329.7L383.6 332.8ZM324.3 422.1L334.8 418.2L341.7 409.0L331.2 412.8ZM331.2 412.8L341.7 409.0L348.6 399.8L338.2 403.6ZM338.2 403.6L348.6 399.8L355.6 390.7L345.1 394.4ZM345.1 394.4L355.6 390.7L362.5 381.5L352.1 385.1ZM352.1 385.1L362.5 381.5L369.4 372.3L359.0 375.9ZM359.0 375.9L369.4 372.3L376.3 363.2L366.0 366.6ZM366.0 366.6L376.3 363.2L383.2 354.0L372.9 357.4ZM372.9 357.4L383.2 354.0L390.1 344.9L379.8 348.2ZM379.8 348.2L390.1 344.9L397.0 335.7L386.8 338.9ZM386.8 338.9L397.0 335.7L403.9 326.5L393.7 329.7ZM393.7 329.7L403.9 326.5L410.8 317.4L400.7 320.4ZM400.7 320.4L410.8 317.4L417.7 308.2L407.6 311.2ZM407.6 311.2L417.7 308.2L424.6 299.0L414.6 302.0ZM314.1 445.7L324.8 441.5L331.7 432.4L321.0 436.5ZM321.0 436.5L331.7 432.4L338.5 423.3L327.9 427.3ZM327.9 427.3L338.5 423.3L345.4 414.2L334.8 418.2ZM334.8 418.2L345.4 414.2L352.3 405.1L341.7 409.0ZM341.7 409.0L352.3 405.1L359.1 396.1L348.6 399.8ZM348.6 399.8L359.1 396.1L366.0 387.0L355.6 390.7ZM355.6 390.7L366.0 387.0L372.9 377.9L362.5 381.5ZM362.5 381.5L372.9 377.9L379.7 368.8L369.4 372.3ZM369.4 372.3L379.7 368.8L386.6 359.7L376.3 363.2ZM376.3 363.2L386.6 359.7L393.4 350.6L383.2 354.0ZM383.2 354.0L393.4 350.6L400.3 341.6L390.1 344.9ZM390.1 344.9L400.3 341.6L407.2 332.5L397.0 335.7ZM397.0 335.7L407.2 332.5L414.0 323.4L403.9 326.5ZM403.9 326.5L414.0 323.4L420.9 314.3L410.8 317.4ZM410.8 317.4L420.9 314.3L427.8 305.2L417.7 308.2ZM417.7 308.2L427.8 305.2L434.6 296.1L424.6 299.0ZM424.6 299.0L434.6 296.1L441.5 287.0L431.5 289.9ZM431.5 289.9L441.5 287.0L448.4 278.0L438.4 280.7ZM438.4 280.7L448.4 278.0L455.2 268.9L445.3 271.6ZM311.1 459.7L321.8 455.3L328.6 446.3L317.9 450.6ZM317.9 450.6L328.6 446.3L335.5 437.3L324.8 441.5ZM324.8 441.5L335.5 437.3L342.3 428.3L331.7 432.4ZM331.7 432.4L342.3 428.3L349.1 419.3L338.5 423.3ZM338.5 423.3L349.1 419.3L355.9 410.3L345.4 414.2ZM345.4 414.2L355.9 410.3L362.8 401.3L352.3 405.1ZM352.3 405.1L362.8 401.3L369.6 392.3L359.1 396.1ZM359.1 396.1L369.6 392.3L376.4 383.3L366.0 387.0ZM366.0 387.0L376.4 383.3L383.2 374.3L372.9 377.9ZM372.9 377.9L383.2 374.3L390.1 365.3L379.7 368.8ZM379.7 368.8L390.1 365.3L396.9 356.3L386.6 359.7ZM386.6 359.7L396.9 356.3L403.7 347.3L393.4 350.6ZM393.4 350.6L403.7 347.3L410.5 338.3L400.3 341.6ZM400.3 341.6L410.5 338.3L417.4 329.2L407.2 332.5ZM407.2 332.5L417.4 329.2L424.2 320.2L414.0 323.4ZM414.0 323.4L424.2 320.2L431.0 311.2L420.9 314.3ZM420.9 314.3L431.0 311.2L437.8 302.2L427.8 305.2ZM427.8 305.2L437.8 302.2L444.7 293.2L434.6 296.1ZM434.6 296.1L444.7 293.2L451.5 284.2L441.5 287.0ZM441.5 287.0L451.5 284.2L458.3 275.2L448.4 278.0ZM448.4 278.0L458.3 275.2L465.1 266.2L455.2 268.9ZM455.2 268.9L465.1 266.2L472.0 257.2L462.1 259.8ZM462.1 259.8L472.0 257.2L478.8 248.2L469.0 250.7ZM308.2 473.4L319.0 468.9L325.8 459.9L315.0 464.3ZM315.0 464.3L325.8 459.9L332.6 451.0L321.8 455.3ZM321.8 455.3L332.6 451.0L339.4 442.1L328.6 446.3ZM328.6 446.3L339.4 442.1L346.1 433.2L335.5 437.3ZM335.5 437.3L346.1 433.2L352.9 424.2L342.3 428.3ZM342.3 428.3L352.9 424.2L359.7 415.3L349.1 419.3ZM349.1 419.3L359.7 415.3L366.5 406.4L355.9 410.3ZM355.9 410.3L366.5 406.4L373.3 397.4L362.8 401.3ZM362.8 401.3L373.3 397.4L380.1 388.5L369.6 392.3ZM369.6 392.3L380.1 388.5L386.9 379.6L376.4 383.3ZM376.4 383.3L386.9 379.6L393.6 370.7L383.2 374.3ZM383.2 374.3L393.6 370.7L400.4 361.7L390.1 365.3ZM390.1 365.3L400.4 361.7L407.2 352.8L396.9 356.3ZM396.9 356.3L407.2 352.8L414.0 343.9L403.7 347.3ZM403.7 347.3L414.0 343.9L420.8 335.0L410.5 338.3ZM410.5 338.3L420.8 335.0L427.6 326.0L417.4 329.2ZM417.4 329.2L427.6 326.0L434.3 317.1L424.2 320.2ZM424.2 320.2L434.3 317.1L441.1 308.2L431.0 311.2ZM431.0 311.2L441.1 308.2L447.9 299.2L437.8 302.2ZM437.8 302.2L447.9 299.2L454.7 290.3L444.7 293.2ZM444.7 293.2L454.7 290.3L461.5 281.4L451.5 284.2ZM451.5 284.2L461.5 281.4L468.3 272.5L458.3 275.2ZM458.3 275.2L468.3 272.5L475.1 263.5L465.1 266.2ZM465.1 266.2L475.1 263.5L481.8 254.6L472.0 257.2ZM472.0 257.2L481.8 254.6L488.6 245.7L478.8 248.2ZM478.8 248.2L488.6 245.7L495.4 236.7L485.6 239.2ZM312.2 477.8L323.1 473.2L329.8 464.4L319.0 468.9ZM319.0 468.9L329.8 464.4L336.6 455.5L325.8 459.9ZM325.8 459.9L336.6 455.5L343.3 446.7L332.6 451.0ZM332.6 451.0L343.3 446.7L350.1 437.8L339.4 442.1ZM339.4 442.1L350.1 437.8L356.8 429.0L346.1 433.2ZM346.1 433.2L356.8 429.0L363.6 420.1L352.9 424.2ZM352.9 424.2L363.6 420.1L370.3 411.3L359.7 415.3ZM359.7 415.3L370.3 411.3L377.1 402.4L366.5 406.4ZM366.5 406.4L377.1 402.4L383.8 393.6L373.3 397.4ZM373.3 397.4L383.8 393.6L390.5 384.8L380.1 388.5ZM380.1 388.5L390.5 384.8L397.3 375.9L386.9 379.6ZM386.9 379.6L397.3 375.9L404.0 367.0L393.6 370.7ZM393.6 370.7L404.0 367.0L410.8 358.2L400.4 361.7ZM400.4 361.7L410.8 358.2L417.5 349.3L407.2 352.8ZM407.2 352.8L417.5 349.3L424.3 340.5L414.0 343.9ZM414.0 343.9L424.3 340.5L431.0 331.6L420.8 335.0ZM420.8 335.0L431.0 331.6L437.8 322.8L427.6 326.0ZM427.6 326.0L437.8 322.8L444.5 313.9L434.3 317.1ZM434.3 317.1L444.5 313.9L451.2 305.1L441.1 308.2ZM441.1 308.2L451.2 305.1L458.0 296.2L447.9 299.2ZM447.9 299.2L458.0 296.2L464.7 287.4L454.7 290.3ZM454.7 290.3L464.7 287.4L471.5 278.5L461.5 281.4ZM461.5 281.4L471.5 278.5L478.2 269.7L468.3 272.5ZM468.3 272.5L478.2 269.7L485.0 260.9L475.1 263.5ZM475.1 263.5L485.0 260.9L491.7 252.0L481.8 254.6ZM481.8 254.6L491.7 252.0L498.5 243.1L488.6 245.7ZM488.6 245.7L498.5 243.1L505.2 234.3L495.4 236.7ZM495.4 236.7L505.2 234.3L512.0 225.4L502.2 227.8ZM309.6 491.0L320.6 486.2L327.3 477.5L316.3 482.1ZM316.3 482.1L327.3 477.5L334.0 468.7L323.1 473.2ZM323.1 473.2L334.0 468.7L340.7 459.9L329.8 464.4ZM329.8 464.4L340.7 459.9L347.4 451.2L336.6 455.5ZM336.6 455.5L347.4 451.2L354.1 442.4L343.3 446.7ZM343.3 446.7L354.1 442.4L360.8 433.6L350.1 437.8ZM350.1 437.8L360.8 433.6L367.5 424.8L356.8 429.0ZM356.8 429.0L367.5 424.8L374.2 416.1L363.6 420.1ZM363.6 420.1L374.2 416.1L380.9 407.3L370.3 411.3ZM370.3 411.3L380.9 407.3L387.6 398.5L377.1 402.4ZM377.1 402.4L387.6 398.5L394.3 389.8L383.8 393.6ZM383.8 393.6L394.3 389.8L401.0 381.0L390.5 384.8ZM390.5 384.8L401.0 381.0L407.7 372.2L397.3 375.9ZM397.3 375.9L407.7 372.2L414.4 363.4L404.0 367.0ZM404.0 367.0L414.4 363.4L421.1 354.7L410.8 358.2ZM410.8 358.2L421.1 354.7L427.8 345.9L417.5 349.3ZM417.5 349.3L427.8 345.9L434.5 337.1L424.3 340.5ZM424.3 340.5L434.5 337.1L441.2 328.3L431.0 331.6ZM431.0 331.6L441.2 328.3L447.9 319.6L437.8 322.8ZM437.8 322.8L447.9 319.6L454.7 310.8L444.5 313.9ZM444.5 313.9L454.7 310.8L461.4 302.0L451.2 305.1ZM451.2 305.1L461.4 302.0L468.1 293.3L458.0 296.2ZM458.0 296.2L468.1 293.3L474.8 284.5L464.7 287.4ZM464.7 287.4L474.8 284.5L481.5 275.7L471.5 278.5ZM471.5 278.5L481.5 275.7L488.2 266.9L478.2 269.7ZM478.2 269.7L488.2 266.9L494.9 258.2L485.0 260.9ZM485.0 260.9L494.9 258.2L501.6 249.4L491.7 252.0ZM491.7 252.0L501.6 249.4L508.3 240.6L498.5 243.1ZM498.5 243.1L508.3 240.6L515.0 231.9L505.2 234.3ZM505.2 234.3L515.0 231.9L521.7 223.1L512.0 225.4ZM512.0 225.4L521.7 223.1L528.4 214.3L518.7 216.6ZM307.1 503.8L318.2 498.9L324.8 490.2L313.8 495.0ZM313.8 495.0L324.8 490.2L331.5 481.5L320.6 486.2ZM320.6 486.2L331.5 481.5L338.2 472.8L327.3 477.5ZM327.3 477.5L338.2 472.8L344.8 464.1L334.0 468.7ZM334.0 468.7L344.8 464.1L351.5 455.4L340.7 459.9ZM340.7 459.9L351.5 455.4L358.2 446.8L347.4 451.2ZM347.4 451.2L358.2 446.8L364.8 438.1L354.1 442.4ZM354.1 442.4L364.8 438.1L371.5 429.4L360.8 433.6ZM360.8 433.6L371.5 429.4L378.2 420.7L367.5 424.8ZM367.5 424.8L378.2 420.7L384.8 412.0L374.2 416.1ZM374.2 416.1L384.8 412.0L391.5 403.3L380.9 407.3ZM380.9 407.3L391.5 403.3L398.2 394.6L387.6 398.5ZM387.6 398.5L398.2 394.6L404.8 385.9L394.3 389.8ZM394.3 389.8L404.8 385.9L411.5 377.2L401.0 381.0ZM401.0 381.0L411.5 377.2L418.2 368.5L407.7 372.2ZM407.7 372.2L418.2 368.5L424.8 359.8L414.4 363.4ZM414.4 363.4L424.8 359.8L431.5 351.1L421.1 354.7ZM421.1 354.7L431.5 351.1L438.1 342.4L427.8 345.9ZM427.8 345.9L438.1 342.4L444.8 333.7L434.5 337.1ZM434.5 337.1L444.8 333.7L451.5 325.0L441.2 328.3ZM441.2 328.3L451.5 325.0L458.1 316.4L447.9 319.6ZM447.9 319.6L458.1 316.4L464.8 307.7L454.7 310.8ZM454.7 310.8L464.8 307.7L471.5 299.0L461.4 302.0ZM461.4 302.0L471.5 299.0L478.1 290.3L468.1 293.3ZM468.1 293.3L478.1 290.3L484.8 281.6L474.8 284.5ZM474.8 284.5L484.8 281.6L491.5 272.9L481.5 275.7ZM481.5 275.7L491.5 272.9L498.1 264.2L488.2 266.9ZM488.2 266.9L498.1 264.2L504.8 255.5L494.9 258.2ZM494.9 258.2L504.8 255.5L511.5 246.8L501.6 249.4ZM501.6 249.4L511.5 246.8L518.1 238.1L508.3 240.6ZM508.3 240.6L518.1 238.1L524.8 229.4L515.0 231.9ZM515.0 231.9L524.8 229.4L531.5 220.7L521.7 223.1ZM521.7 223.1L531.5 220.7L538.1 212.0L528.4 214.3ZM311.5 507.6L322.6 502.7L329.2 494.0L318.2 498.9ZM318.2 498.9L329.2 494.0L335.8 485.4L324.8 490.2ZM324.8 490.2L335.8 485.4L342.5 476.8L331.5 481.5ZM331.5 481.5L342.5 476.8L349.1 468.2L338.2 472.8ZM338.2 472.8L349.1 468.2L355.7 459.6L344.8 464.1ZM344.8 464.1L355.7 459.6L362.3 451.0L351.5 455.4ZM351.5 455.4L362.3 451.0L369.0 442.4L358.2 446.8ZM358.2 446.8L369.0 442.4L375.6 433.7L364.8 438.1ZM364.8 438.1L375.6 433.7L382.2 425.1L371.5 429.4ZM371.5 429.4L382.2 425.1L388.8 416.5L378.2 420.7ZM378.2 420.7L388.8 416.5L395.5 407.9L384.8 412.0ZM384.8 412.0L395.5 407.9L402.1 399.3L391.5 403.3ZM391.5 403.3L402.1 399.3L408.7 390.7L398.2 394.6ZM398.2 394.6L408.7 390.7L415.3 382.1L404.8 385.9ZM404.8 385.9L415.3 382.1L422.0 373.4L411.5 377.2ZM411.5 377.2L422.0 373.4L428.6 364.8L418.2 368.5ZM418.2 368.5L428.6 364.8L435.2 356.2L424.8 359.8ZM424.8 359.8L435.2 356.2L441.8 347.6L431.5 351.1ZM431.5 351.1L441.8 347.6L448.5 339.0L438.1 342.4ZM438.1 342.4L448.5 339.0L455.1 330.4L444.8 333.7ZM444.8 333.7L455.1 330.4L461.7 321.7L451.5 325.0ZM451.5 325.0L461.7 321.7L468.3 313.1L458.1 316.4ZM458.1 316.4L468.3 313.1L475.0 304.5L464.8 307.7ZM464.8 307.7L475.0 304.5L481.6 295.9L471.5 299.0ZM471.5 299.0L481.6 295.9L488.2 287.3L478.1 290.3ZM478.1 290.3L488.2 287.3L494.8 278.7L484.8 281.6ZM484.8 281.6L494.8 278.7L501.5 270.1L491.5 272.9ZM491.5 272.9L501.5 270.1L508.1 261.4L498.1 264.2ZM498.1 264.2L508.1 261.4L514.7 252.8L504.8 255.5ZM504.8 255.5L514.7 252.8L521.3 244.2L511.5 246.8ZM511.5 246.8L521.3 244.2L528.0 235.6L518.1 238.1ZM518.1 238.1L528.0 235.6L534.6 227.0L524.8 229.4ZM524.8 229.4L534.6 227.0L541.2 218.4L531.5 220.7ZM531.5 220.7L541.2 218.4L547.8 209.7L538.1 212.0ZM309.3 519.9L320.5 514.8L327.1 506.3L316.0 511.3ZM316.0 511.3L327.1 506.3L333.7 497.7L322.6 502.7ZM322.6 502.7L333.7 497.7L340.2 489.2L329.2 494.0ZM329.2 494.0L340.2 489.2L346.8 480.6L335.8 485.4ZM335.8 485.4L346.8 480.6L353.4 472.1L342.5 476.8ZM342.5 476.8L353.4 472.1L360.0 463.6L349.1 468.2ZM349.1 468.2L360.0 463.6L366.6 455.0L355.7 459.6ZM355.7 459.6L366.6 455.0L373.2 446.5L362.3 451.0ZM362.3 451.0L373.2 446.5L379.8 438.0L369.0 442.4ZM369.0 442.4L379.8 438.0L386.3 429.4L375.6 433.7ZM375.6 433.7L386.3 429.4L392.9 420.9L382.2 425.1ZM382.2 425.1L392.9 420.9L399.5 412.3L388.8 416.5ZM388.8 416.5L399.5 412.3L406.1 403.8L395.5 407.9ZM395.5 407.9L406.1 403.8L412.7 395.3L402.1 399.3ZM402.1 399.3L412.7 395.3L419.3 386.7L408.7 390.7ZM408.7 390.7L419.3 386.7L425.8 378.2L415.3 382.1ZM415.3 382.1L425.8 378.2L432.4 369.7L422.0 373.4ZM422.0 373.4L432.4 369.7L439.0 361.1L428.6 364.8ZM428.6 364.8L439.0 361.1L445.6 352.6L435.2 356.2ZM435.2 356.2L445.6 352.6L452.2 344.1L441.8 347.6ZM441.8 347.6L452.2 344.1L458.8 335.5L448.5 339.0ZM448.5 339.0L458.8 335.5L465.4 327.0L455.1 330.4ZM455.1 330.4L465.4 327.0L471.9 318.4L461.7 321.7ZM461.7 321.7L471.9 318.4L478.5 309.9L468.3 313.1ZM468.3 313.1L478.5 309.9L485.1 301.4L475.0 304.5ZM475.0 304.5L485.1 301.4L491.7 292.8L481.6 295.9ZM481.6 295.9L491.7 292.8L498.3 284.3L488.2 287.3ZM488.2 287.3L498.3 284.3L504.9 275.8L494.8 278.7ZM494.8 278.7L504.9 275.8L511.5 267.2L501.5 270.1ZM501.5 270.1L511.5 267.2L518.0 258.7L508.1 261.4ZM508.1 261.4L518.0 258.7L524.6 250.1L514.7 252.8ZM514.7 252.8L524.6 250.1L531.2 241.6L521.3 244.2ZM521.3 244.2L531.2 241.6L537.8 233.1L528.0 235.6ZM528.0 235.6L537.8 233.1L544.4 224.5L534.6 227.0ZM534.6 227.0L544.4 224.5L551.0 216.0L541.2 218.4ZM541.2 218.4L551.0 216.0L557.6 207.5L547.8 209.7ZM307.3 531.9L318.5 526.6L325.1 518.1L313.9 523.3ZM313.9 523.3L325.1 518.1L331.6 509.7L320.5 514.8ZM320.5 514.8L331.6 509.7L338.2 501.2L327.1 506.3ZM327.1 506.3L338.2 501.2L344.7 492.8L333.7 497.7ZM333.7 497.7L344.7 492.8L351.3 484.3L340.2 489.2ZM340.2 489.2L351.3 484.3L357.8 475.9L346.8 480.6ZM346.8 480.6L357.8 475.9L364.4 467.4L353.4 472.1ZM353.4 472.1L364.4 467.4L370.9 458.9L360.0 463.6ZM360.0 463.6L370.9 458.9L377.5 450.5L366.6 455.0ZM366.6 455.0L377.5 450.5L384.0 442.0L373.2 446.5ZM373.2 446.5L384.0 442.0L390.5 433.6L379.8 438.0ZM379.8 438.0L390.5 433.6L397.1 425.1L386.3 429.4ZM386.3 429.4L397.1 425.1L403.6 416.6L392.9 420.9ZM392.9 420.9L403.6 416.6L410.2 408.2L399.5 412.3ZM399.5 412.3L410.2 408.2L416.7 399.7L406.1 403.8ZM406.1 403.8L416.7 399.7L423.3 391.3L412.7 395.3ZM412.7 395.3L423.3 391.3L429.8 382.8L419.3 386.7ZM419.3 386.7L429.8 382.8L436.4 374.4L425.8 378.2ZM425.8 378.2L436.4 374.4L442.9 365.9L432.4 369.7ZM432.4 369.7L442.9 365.9L449.5 357.4L439.0 361.1ZM439.0 361.1L449.5 357.4L456.0 349.0L445.6 352.6ZM445.6 352.6L456.0 349.0L462.5 340.5L452.2 344.1ZM452.2 344.1L462.5 340.5L469.1 332.1L458.8 335.5ZM458.8 335.5L469.1 332.1L475.6 323.6L465.4 327.0ZM465.4 327.0L475.6 323.6L482.2 315.1L471.9 318.4ZM471.9 318.4L482.2 315.1L488.7 306.7L478.5 309.9ZM478.5 309.9L488.7 306.7L495.3 298.2L485.1 301.4ZM485.1 301.4L495.3 298.2L501.8 289.8L491.7 292.8ZM491.7 292.8L501.8 289.8L508.4 281.3L498.3 284.3ZM498.3 284.3L508.4 281.3L514.9 272.8L504.9 275.8ZM504.9 275.8L514.9 272.8L521.4 264.4L511.5 267.2ZM511.5 267.2L521.4 264.4L528.0 255.9L518.0 258.7ZM518.0 258.7L528.0 255.9L534.5 247.5L524.6 250.1ZM524.6 250.1L534.5 247.5L541.1 239.0L531.2 241.6ZM531.2 241.6L541.1 239.0L547.6 230.6L537.8 233.1ZM537.8 233.1L547.6 230.6L554.2 222.1L544.4 224.5ZM544.4 224.5L554.2 222.1L560.7 213.6L551.0 216.0ZM551.0 216.0L560.7 213.6L567.3 205.2L557.6 207.5ZM312.0 535.1L323.3 529.7L329.8 521.3L318.5 526.6ZM318.5 526.6L329.8 521.3L336.3 513.0L325.1 518.1ZM325.1 518.1L336.3 513.0L342.8 504.6L331.6 509.7ZM331.6 509.7L342.8 504.6L349.3 496.2L338.2 501.2ZM338.2 501.2L349.3 496.2L355.8 487.8L344.7 492.8ZM344.7 492.8L355.8 487.8L362.3 479.4L351.3 484.3ZM351.3 484.3L362.3 479.4L368.8 471.1L357.8 475.9ZM357.8 475.9L368.8 471.1L375.3 462.7L364.4 467.4ZM364.4 467.4L375.3 462.7L381.8 454.3L370.9 458.9ZM370.9 458.9L381.8 454.3L388.3 445.9L377.5 450.5ZM377.5 450.5L388.3 445.9L394.8 437.5L384.0 442.0ZM384.0 442.0L394.8 437.5L401.3 429.2L390.5 433.6ZM390.5 433.6L401.3 429.2L407.8 420.8L397.1 425.1ZM397.1 425.1L407.8 420.8L414.3 412.4L403.6 416.6ZM403.6 416.6L414.3 412.4L420.9 404.0L410.2 408.2ZM410.2 408.2L420.9 404.0L427.4 395.6L416.7 399.7ZM416.7 399.7L427.4 395.6L433.9 387.3L423.3 391.3ZM423.3 391.3L433.9 387.3L440.4 378.9L429.8 382.8ZM429.8 382.8L440.4 378.9L446.9 370.5L436.4 374.4ZM436.4 374.4L446.9 370.5L453.4 362.1L442.9 365.9ZM442.9 365.9L453.4 362.1L459.9 353.7L449.5 357.4ZM449.5 357.4L459.9 353.7L466.4 345.4L456.0 349.0ZM456.0 349.0L466.4 345.4L472.9 337.0L462.5 340.5ZM462.5 340.5L472.9 337.0L479.4 328.6L469.1 332.1ZM469.1 332.1L479.4 328.6L485.9 320.2L475.6 323.6ZM475.6 323.6L485.9 320.2L492.4 311.8L482.2 315.1ZM482.2 315.1L492.4 311.8L498.9 303.5L488.7 306.7ZM488.7 306.7L498.9 303.5L505.4 295.1L495.3 298.2ZM495.3 298.2L505.4 295.1L511.9 286.7L501.8 289.8ZM501.8 289.8L511.9 286.7L518.4 278.3L508.4 281.3ZM508.4 281.3L518.4 278.3L524.9 269.9L514.9 272.8ZM514.9 272.8L524.9 269.9L531.4 261.6L521.4 264.4ZM521.4 264.4L531.4 261.6L537.9 253.2L528.0 255.9ZM528.0 255.9L537.9 253.2L544.4 244.8L534.5 247.5ZM534.5 247.5L544.4 244.8L551.0 236.4L541.1 239.0ZM541.1 239.0L551.0 236.4L557.5 228.0L547.6 230.6ZM547.6 230.6L557.5 228.0L564.0 219.7L554.2 222.1ZM554.2 222.1L564.0 219.7L570.5 211.3L560.7 213.6ZM560.7 213.6L570.5 211.3L577.0 202.9L567.3 205.2ZM316.8 538.1L328.1 532.7L334.6 524.4L323.3 529.7ZM323.3 529.7L334.6 524.4L341.0 516.1L329.8 521.3ZM329.8 521.3L341.0 516.1L347.5 507.8L336.3 513.0ZM336.3 513.0L347.5 507.8L353.9 499.5L342.8 504.6ZM342.8 504.6L353.9 499.5L360.4 491.2L349.3 496.2ZM349.3 496.2L360.4 491.2L366.9 482.9L355.8 487.8ZM355.8 487.8L366.9 482.9L373.3 474.6L362.3 479.4ZM362.3 479.4L373.3 474.6L379.8 466.3L368.8 471.1ZM368.8 471.1L379.8 466.3L386.3 458.0L375.3 462.7ZM375.3 462.7L386.3 458.0L392.7 449.7L381.8 454.3ZM381.8 454.3L392.7 449.7L399.2 441.4L388.3 445.9ZM388.3 445.9L399.2 441.4L405.7 433.1L394.8 437.5ZM394.8 437.5L405.7 433.1L412.1 424.8L401.3 429.2ZM401.3 429.2L412.1 424.8L418.6 416.5L407.8 420.8ZM407.8 420.8L418.6 416.5L425.1 408.2L414.3 412.4ZM414.3 412.4L425.1 408.2L431.5 399.9L420.9 404.0ZM420.9 404.0L431.5 399.9L438.0 391.6L427.4 395.6ZM427.4 395.6L438.0 391.6L444.5 383.3L433.9 387.3ZM433.9 387.3L444.5 383.3L450.9 375.0L440.4 378.9ZM440.4 378.9L450.9 375.0L457.4 366.7L446.9 370.5ZM446.9 370.5L457.4 366.7L463.9 358.3L453.4 362.1ZM453.4 362.1L463.9 358.3L470.3 350.0L459.9 353.7ZM459.9 353.7L470.3 350.0L476.8 341.7L466.4 345.4ZM466.4 345.4L476.8 341.7L483.2 333.4L472.9 337.0ZM472.9 337.0L483.2 333.4L489.7 325.1L479.4 328.6ZM479.4 328.6L489.7 325.1L496.2 316.8L485.9 320.2ZM485.9 320.2L496.2 316.8L502.6 308.5L492.4 311.8ZM492.4 311.8L502.6 308.5L509.1 300.2L498.9 303.5ZM498.9 303.5L509.1 300.2L515.6 291.9L505.4 295.1ZM505.4 295.1L515.6 291.9L522.0 283.6L511.9 286.7ZM511.9 286.7L522.0 283.6L528.5 275.3L518.4 278.3ZM518.4 278.3L528.5 275.3L535.0 267.0L524.9 269.9ZM524.9 269.9L535.0 267.0L541.4 258.7L531.4 261.6ZM531.4 261.6L541.4 258.7L547.9 250.4L537.9 253.2ZM537.9 253.2L547.9 250.4L554.4 242.1L544.4 244.8ZM544.4 244.8L554.4 242.1L560.8 233.8L551.0 236.4ZM551.0 236.4L560.8 233.8L567.3 225.5L557.5 228.0ZM557.5 228.0L567.3 225.5L573.8 217.2L564.0 219.7ZM564.0 219.7L573.8 217.2L580.2 208.9L570.5 211.3ZM570.5 211.3L580.2 208.9L586.7 200.6L577.0 202.9ZM315.2 549.3L326.6 543.7L333.0 535.5L321.6 541.0ZM321.6 541.0L333.0 535.5L339.4 527.3L328.1 532.7ZM328.1 532.7L339.4 527.3L345.8 519.1L334.6 524.4ZM334.6 524.4L345.8 519.1L352.3 510.8L341.0 516.1ZM341.0 516.1L352.3 510.8L358.7 502.6L347.5 507.8ZM347.5 507.8L358.7 502.6L365.1 494.4L353.9 499.5ZM353.9 499.5L365.1 494.4L371.5 486.2L360.4 491.2ZM360.4 491.2L371.5 486.2L378.0 477.9L366.9 482.9ZM366.9 482.9L378.0 477.9L384.4 469.7L373.3 474.6ZM373.3 474.6L384.4 469.7L390.8 461.5L379.8 466.3ZM379.8 466.3L390.8 461.5L397.2 453.3L386.3 458.0ZM386.3 458.0L397.2 453.3L403.6 445.0L392.7 449.7ZM392.7 449.7L403.6 445.0L410.1 436.8L399.2 441.4ZM399.2 441.4L410.1 436.8L416.5 428.6L405.7 433.1ZM405.7 433.1L416.5 428.6L422.9 420.4L412.1 424.8ZM412.1 424.8L422.9 420.4L429.4 412.1L418.6 416.5ZM418.6 416.5L429.4 412.1L435.8 403.9L425.1 408.2ZM425.1 408.2L435.8 403.9L442.2 395.7L431.5 399.9ZM431.5 399.9L442.2 395.7L448.6 387.5L438.0 391.6ZM438.0 391.6L448.6 387.5L455.1 379.2L444.5 383.3ZM444.5 383.3L455.1 379.2L461.5 371.0L450.9 375.0ZM450.9 375.0L461.5 371.0L467.9 362.8L457.4 366.7ZM457.4 366.7L467.9 362.8L474.3 354.6L463.9 358.3ZM463.9 358.3L474.3 354.6L480.8 346.4L470.3 350.0ZM470.3 350.0L480.8 346.4L487.2 338.1L476.8 341.7ZM476.8 341.7L487.2 338.1L493.6 329.9L483.2 333.4ZM483.2 333.4L493.6 329.9L500.0 321.7L489.7 325.1ZM489.7 325.1L500.0 321.7L506.5 313.5L496.2 316.8ZM496.2 316.8L506.5 313.5L512.9 305.2L502.6 308.5ZM502.6 308.5L512.9 305.2L519.3 297.0L509.1 300.2ZM509.1 300.2L519.3 297.0L525.7 288.8L515.6 291.9ZM515.6 291.9L525.7 288.8L532.2 280.6L522.0 283.6ZM522.0 283.6L532.2 280.6L538.6 272.3L528.5 275.3ZM528.5 275.3L538.6 272.3L545.0 264.1L535.0 267.0ZM535.0 267.0L545.0 264.1L551.4 255.9L541.4 258.7ZM541.4 258.7L551.4 255.9L557.9 247.7L547.9 250.4ZM547.9 250.4L557.9 247.7L564.3 239.4L554.4 242.1ZM554.4 242.1L564.3 239.4L570.7 231.2L560.8 233.8ZM560.8 233.8L570.7 231.2L577.1 223.0L567.3 225.5ZM567.3 225.5L577.1 223.0L583.5 214.8L573.8 217.2ZM573.8 217.2L583.5 214.8L590.0 206.5L580.2 208.9ZM580.2 208.9L590.0 206.5L596.4 198.3L586.7 200.6ZM326.6 543.7L337.9 538.2L344.3 530.0L333.0 535.5ZM333.0 535.5L344.3 530.0L350.7 521.9L339.4 527.3ZM339.4 527.3L350.7 521.9L357.1 513.7L345.8 519.1ZM345.8 519.1L357.1 513.7L363.5 505.6L352.3 510.8ZM352.3 510.8L363.5 505.6L369.9 497.4L358.7 502.6ZM358.7 502.6L369.9 497.4L376.3 489.3L365.1 494.4ZM365.1 494.4L376.3 489.3L382.6 481.1L371.5 486.2ZM371.5 486.2L382.6 481.1L389.0 473.0L378.0 477.9ZM378.0 477.9L389.0 473.0L395.4 464.8L384.4 469.7ZM384.4 469.7L395.4 464.8L401.8 456.7L390.8 461.5ZM390.8 461.5L401.8 456.7L408.2 448.6L397.2 453.3ZM397.2 453.3L408.2 448.6L414.6 440.4L403.6 445.0ZM403.6 445.0L414.6 440.4L420.9 432.3L410.1 436.8ZM410.1 436.8L420.9 432.3L427.3 424.1L416.5 428.6ZM416.5 428.6L427.3 424.1L433.7 416.0L422.9 420.4ZM422.9 420.4L433.7 416.0L440.1 407.8L429.4 412.1ZM429.4 412.1L440.1 407.8L446.5 399.7L435.8 403.9ZM435.8 403.9L446.5 399.7L452.9 391.5L442.2 395.7ZM442.2 395.7L452.9 391.5L459.3 383.4L448.6 387.5ZM448.6 387.5L459.3 383.4L465.6 375.2L455.1 379.2ZM455.1 379.2L465.6 375.2L472.0 367.1L461.5 371.0ZM461.5 371.0L472.0 367.1L478.4 359.0L467.9 362.8ZM467.9 362.8L478.4 359.0L484.8 350.8L474.3 354.6ZM474.3 354.6L484.8 350.8L491.2 342.7L480.8 346.4ZM480.8 346.4L491.2 342.7L497.6 334.5L487.2 338.1ZM487.2 338.1L497.6 334.5L504.0 326.4L493.6 329.9ZM493.6 329.9L504.0 326.4L510.3 318.2L500.0 321.7ZM500.0 321.7L510.3 318.2L516.7 310.1L506.5 313.5ZM506.5 313.5L516.7 310.1L523.1 301.9L512.9 305.2ZM512.9 305.2L523.1 301.9L529.5 293.8L519.3 297.0ZM519.3 297.0L529.5 293.8L535.9 285.6L525.7 288.8ZM525.7 288.8L535.9 285.6L542.3 277.5L532.2 280.6ZM532.2 280.6L542.3 277.5L548.6 269.4L538.6 272.3ZM538.6 272.3L548.6 269.4L555.0 261.2L545.0 264.1ZM545.0 264.1L555.0 261.2L561.4 253.1L551.4 255.9ZM551.4 255.9L561.4 253.1L567.8 244.9L557.9 247.7ZM557.9 247.7L567.8 244.9L574.2 236.8L564.3 239.4ZM564.3 239.4L574.2 236.8L580.6 228.6L570.7 231.2ZM570.7 231.2L580.6 228.6L587.0 220.5L577.1 223.0ZM577.1 223.0L587.0 220.5L593.3 212.3L583.5 214.8ZM583.5 214.8L593.3 212.3L599.7 204.2L590.0 206.5ZM590.0 206.5L599.7 204.2L606.1 196.0L596.4 198.3ZM337.9 538.2L349.3 532.6L355.7 524.5L344.3 530.0ZM344.3 530.0L355.7 524.5L362.0 516.4L350.7 521.9ZM350.7 521.9L362.0 516.4L368.4 508.4L357.1 513.7ZM357.1 513.7L368.4 508.4L374.7 500.3L363.5 505.6ZM363.5 505.6L374.7 500.3L381.1 492.2L369.9 497.4ZM369.9 497.4L381.1 492.2L387.4 484.2L376.3 489.3ZM376.3 489.3L387.4 484.2L393.8 476.1L382.6 481.1ZM382.6 481.1L393.8 476.1L400.1 468.0L389.0 473.0ZM389.0 473.0L400.1 468.0L406.4 460.0L395.4 464.8ZM395.4 464.8L406.4 460.0L412.8 451.9L401.8 456.7ZM401.8 456.7L412.8 451.9L419.1 443.8L408.2 448.6ZM408.2 448.6L419.1 443.8L425.5 435.8L414.6 440.4ZM414.6 440.4L425.5 435.8L431.8 427.7L420.9 432.3ZM420.9 432.3L431.8 427.7L438.2 419.6L427.3 424.1ZM427.3 424.1L438.2 419.6L444.5 411.6L433.7 416.0ZM433.7 416.0L444.5 411.6L450.9 403.5L440.1 407.8ZM440.1 407.8L450.9 403.5L457.2 395.4L446.5 399.7ZM446.5 399.7L457.2 395.4L463.5 387.4L452.9 391.5ZM452.9 391.5L463.5 387.4L469.9 379.3L459.3 383.4ZM459.3 383.4L469.9 379.3L476.2 371.2L465.6 375.2ZM465.6 375.2L476.2 371.2L482.6 363.2L472.0 367.1ZM472.0 367.1L482.6 363.2L488.9 355.1L478.4 359.0ZM478.4 359.0L488.9 355.1L495.3 347.0L484.8 350.8ZM484.8 350.8L495.3 347.0L501.6 339.0L491.2 342.7ZM491.2 342.7L501.6 339.0L508.0 330.9L497.6 334.5ZM497.6 334.5L508.0 330.9L514.3 322.8L504.0 326.4ZM504.0 326.4L514.3 322.8L520.7 314.8L510.3 318.2ZM510.3 318.2L520.7 314.8L527.0 306.7L516.7 310.1ZM516.7 310.1L527.0 306.7L533.3 298.6L523.1 301.9ZM523.1 301.9L533.3 298.6L539.7 290.6L529.5 293.8ZM529.5 293.8L539.7 290.6L546.0 282.5L535.9 285.6ZM535.9 285.6L546.0 282.5L552.4 274.4L542.3 277.5ZM542.3 277.5L552.4 274.4L558.7 266.4L548.6 269.4ZM548.6 269.4L558.7 266.4L565.1 258.3L555.0 261.2ZM555.0 261.2L565.1 258.3L571.4 250.2L561.4 253.1ZM561.4 253.1L571.4 250.2L577.8 242.2L567.8 244.9ZM567.8 244.9L577.8 242.2L584.1 234.1L574.2 236.8ZM574.2 236.8L584.1 234.1L590.4 226.0L580.6 228.6ZM580.6 228.6L590.4 226.0L596.8 218.0L587.0 220.5ZM587.0 220.5L596.8 218.0L603.1 209.9L593.3 212.3ZM593.3 212.3L603.1 209.9L609.5 201.8L599.7 204.2ZM599.7 204.2L609.5 201.8L615.8 193.8L606.1 196.0ZM349.3 532.6L360.7 527.0L367.0 519.0L355.7 524.5ZM355.7 524.5L367.0 519.0L373.3 511.0L362.0 516.4ZM362.0 516.4L373.3 511.0L379.6 503.0L368.4 508.4ZM368.4 508.4L379.6 503.0L386.0 495.1L374.7 500.3ZM374.7 500.3L386.0 495.1L392.3 487.1L381.1 492.2ZM381.1 492.2L392.3 487.1L398.6 479.1L387.4 484.2ZM387.4 484.2L398.6 479.1L404.9 471.1L393.8 476.1ZM393.8 476.1L404.9 471.1L411.2 463.1L400.1 468.0ZM400.1 468.0L411.2 463.1L417.5 455.1L406.4 460.0ZM406.4 460.0L417.5 455.1L423.8 447.1L412.8 451.9ZM412.8 451.9L423.8 447.1L430.1 439.1L419.1 443.8ZM419.1 443.8L430.1 439.1L436.4 431.1L425.5 435.8ZM425.5 435.8L436.4 431.1L442.7 423.2L431.8 427.7ZM431.8 427.7L442.7 423.2L449.0 415.2L438.2 419.6ZM438.2 419.6L449.0 415.2L455.3 407.2L444.5 411.6ZM444.5 411.6L455.3 407.2L461.6 399.2L450.9 403.5ZM450.9 403.5L461.6 399.2L467.9 391.2L457.2 395.4ZM457.2 395.4L467.9 391.2L474.2 383.2L463.5 387.4ZM463.5 387.4L474.2 383.2L480.5 375.2L469.9 379.3ZM469.9 379.3L480.5 375.2L486.8 367.2L476.2 371.2ZM476.2 371.2L486.8 367.2L493.1 359.2L482.6 363.2ZM482.6 363.2L493.1 359.2L499.4 351.3L488.9 355.1ZM488.9 355.1L499.4 351.3L505.7 343.3L495.3 347.0ZM495.3 347.0L505.7 343.3L512.0 335.3L501.6 339.0ZM501.6 339.0L512.0 335.3L518.4 327.3L508.0 330.9ZM508.0 330.9L518.4 327.3L524.7 319.3L514.3 322.8ZM514.3 322.8L524.7 319.3L531.0 311.3L520.7 314.8ZM520.7 314.8L531.0 311.3L537.3 303.3L527.0 306.7ZM527.0 306.7L537.3 303.3L543.6 295.3L533.3 298.6ZM533.3 298.6L543.6 295.3L549.9 287.3L539.7 290.6ZM539.7 290.6L549.9 287.3L556.2 279.4L546.0 282.5ZM546.0 282.5L556.2 279.4L562.5 271.4L552.4 274.4ZM552.4 274.4L562.5 271.4L568.8 263.4L558.7 266.4ZM558.7 266.4L568.8 263.4L575.1 255.4L565.1 258.3ZM565.1 258.3L575.1 255.4L581.4 247.4L571.4 250.2ZM571.4 250.2L581.4 247.4L587.7 239.4L577.8 242.2ZM577.8 242.2L587.7 239.4L594.0 231.4L584.1 234.1ZM584.1 234.1L594.0 231.4L600.3 223.4L590.4 226.0ZM590.4 226.0L600.3 223.4L606.6 215.4L596.8 218.0ZM596.8 218.0L606.6 215.4L612.9 207.4L603.1 209.9ZM603.1 209.9L612.9 207.4L619.2 199.5L609.5 201.8ZM609.5 201.8L619.2 199.5L625.5 191.5L615.8 193.8ZM360.7 527.0L372.1 521.4L378.4 513.5L367.0 519.0ZM367.0 519.0L378.4 513.5L384.7 505.6L373.3 511.0ZM373.3 511.0L384.7 505.6L390.9 497.7L379.6 503.0ZM379.6 503.0L390.9 497.7L397.2 489.8L386.0 495.1ZM386.0 495.1L397.2 489.8L403.4 481.9L392.3 487.1ZM392.3 487.1L403.4 481.9L409.7 474.0L398.6 479.1ZM398.6 479.1L409.7 474.0L416.0 466.1L404.9 471.1ZM404.9 471.1L416.0 466.1L422.2 458.2L411.2 463.1ZM411.2 463.1L422.2 458.2L428.5 450.2L417.5 455.1ZM417.5 455.1L428.5 450.2L434.8 442.3L423.8 447.1ZM423.8 447.1L434.8 442.3L441.0 434.4L430.1 439.1ZM430.1 439.1L441.0 434.4L447.3 426.5L436.4 431.1ZM436.4 431.1L447.3 426.5L453.6 418.6L442.7 423.2ZM442.7 423.2L453.6 418.6L459.8 410.7L449.0 415.2ZM449.0 415.2L459.8 410.7L466.1 402.8L455.3 407.2ZM455.3 407.2L466.1 402.8L472.4 394.9L461.6 399.2ZM461.6 399.2L472.4 394.9L478.6 387.0L467.9 391.2ZM467.9 391.2L478.6 387.0L484.9 379.0L474.2 383.2ZM474.2 383.2L484.9 379.0L491.2 371.1L480.5 375.2ZM480.5 375.2L491.2 371.1L497.4 363.2L486.8 367.2ZM486.8 367.2L497.4 363.2L503.7 355.3L493.1 359.2ZM493.1 359.2L503.7 355.3L510.0 347.4L499.4 351.3ZM499.4 351.3L510.0 347.4L516.2 339.5L505.7 343.3ZM505.7 343.3L516.2 339.5L522.5 331.6L512.0 335.3ZM512.0 335.3L522.5 331.6L528.7 323.7L518.4 327.3ZM518.4 327.3L528.7 323.7L535.0 315.8L524.7 319.3ZM524.7 319.3L535.0 315.8L541.3 307.8L531.0 311.3ZM531.0 311.3L541.3 307.8L547.5 299.9L537.3 303.3ZM537.3 303.3L547.5 299.9L553.8 292.0L543.6 295.3ZM543.6 295.3L553.8 292.0L560.1 284.1L549.9 287.3ZM549.9 287.3L560.1 284.1L566.3 276.2L556.2 279.4ZM556.2 279.4L566.3 276.2L572.6 268.3L562.5 271.4ZM562.5 271.4L572.6 268.3L578.9 260.4L568.8 263.4ZM568.8 263.4L578.9 260.4L585.1 252.5L575.1 255.4ZM575.1 255.4L585.1 252.5L591.4 244.6L581.4 247.4ZM581.4 247.4L591.4 244.6L597.7 236.7L587.7 239.4ZM587.7 239.4L597.7 236.7L603.9 228.7L594.0 231.4ZM594.0 231.4L603.9 228.7L610.2 220.8L600.3 223.4ZM600.3 223.4L610.2 220.8L616.5 212.9L606.6 215.4ZM606.6 215.4L616.5 212.9L622.7 205.0L612.9 207.4ZM612.9 207.4L622.7 205.0L629.0 197.1L619.2 199.5ZM619.2 199.5L629.0 197.1L635.2 189.2L625.5 191.5ZM372.1 521.4L383.5 515.9L389.7 508.0L378.4 513.5ZM378.4 513.5L389.7 508.0L396.0 500.2L384.7 505.6ZM384.7 505.6L396.0 500.2L402.2 492.4L390.9 497.7ZM390.9 497.7L402.2 492.4L408.4 484.5L397.2 489.8ZM397.2 489.8L408.4 484.5L414.6 476.7L403.4 481.9ZM403.4 481.9L414.6 476.7L420.9 468.9L409.7 474.0ZM409.7 474.0L420.9 468.9L427.1 461.0L416.0 466.1ZM416.0 466.1L427.1 461.0L433.3 453.2L422.2 458.2ZM422.2 458.2L433.3 453.2L439.5 445.4L428.5 450.2ZM428.5 450.2L439.5 445.4L445.8 437.5L434.8 442.3ZM434.8 442.3L445.8 437.5L452.0 429.7L441.0 434.4ZM441.0 434.4L452.0 429.7L458.2 421.9L447.3 426.5ZM447.3 426.5L458.2 421.9L464.4 414.0L453.6 418.6ZM453.6 418.6L464.4 414.0L470.7 406.2L459.8 410.7ZM459.8 410.7L470.7 406.2L476.9 398.4L466.1 402.8ZM466.1 402.8L476.9 398.4L483.1 390.5L472.4 394.9ZM472.4 394.9L483.1 390.5L489.3 382.7L478.6 387.0ZM478.6 387.0L489.3 382.7L495.6 374.9L484.9 379.0ZM484.9 379.0L495.6 374.9L501.8 367.0L491.2 371.1ZM491.2 371.1L501.8 367.0L508.0 359.2L497.4 363.2ZM497.4 363.2L508.0 359.2L514.2 351.4L503.7 355.3ZM503.7 355.3L514.2 351.4L520.5 343.6L510.0 347.4ZM510.0 347.4L520.5 343.6L526.7 335.7L516.2 339.5ZM516.2 339.5L526.7 335.7L532.9 327.9L522.5 331.6ZM522.5 331.6L532.9 327.9L539.1 320.1L528.7 323.7ZM528.7 323.7L539.1 320.1L545.4 312.2L535.0 315.8ZM535.0 315.8L545.4 312.2L551.6 304.4L541.3 307.8ZM541.3 307.8L551.6 304.4L557.8 296.6L547.5 299.9ZM547.5 299.9L557.8 296.6L564.0 288.7L553.8 292.0ZM553.8 292.0L564.0 288.7L570.3 280.9L560.1 284.1ZM560.1 284.1L570.3 280.9L576.5 273.1L566.3 276.2ZM566.3 276.2L576.5 273.1L582.7 265.2L572.6 268.3ZM572.6 268.3L582.7 265.2L588.9 257.4L578.9 260.4ZM578.9 260.4L588.9 257.4L595.2 249.6L585.1 252.5ZM585.1 252.5L595.2 249.6L601.4 241.7L591.4 244.6ZM591.4 244.6L601.4 241.7L607.6 233.9L597.7 236.7ZM597.7 236.7L607.6 233.9L613.8 226.1L603.9 228.7ZM603.9 228.7L613.8 226.1L620.1 218.2L610.2 220.8ZM610.2 220.8L620.1 218.2L626.3 210.4L616.5 212.9ZM616.5 212.9L626.3 210.4L632.5 202.6L622.7 205.0ZM622.7 205.0L632.5 202.6L638.7 194.7L629.0 197.1ZM629.0 197.1L638.7 194.7L645.0 186.9L635.2 189.2ZM383.5 515.9L394.9 510.3L401.1 502.5L389.7 508.0ZM389.7 508.0L401.1 502.5L407.3 494.8L396.0 500.2ZM396.0 500.2L407.3 494.8L413.5 487.0L402.2 492.4ZM402.2 492.4L413.5 487.0L419.7 479.3L408.4 484.5ZM408.4 484.5L419.7 479.3L425.8 471.5L414.6 476.7ZM414.6 476.7L425.8 471.5L432.0 463.8L420.9 468.9ZM420.9 468.9L432.0 463.8L438.2 456.0L427.1 461.0ZM427.1 461.0L438.2 456.0L444.4 448.3L433.3 453.2ZM433.3 453.2L444.4 448.3L450.6 440.5L439.5 445.4ZM439.5 445.4L450.6 440.5L456.8 432.8L445.8 437.5ZM445.8 437.5L456.8 432.8L462.9 425.0L452.0 429.7ZM452.0 429.7L462.9 425.0L469.1 417.2L458.2 421.9ZM458.2 421.9L469.1 417.2L475.3 409.5L464.4 414.0ZM464.4 414.0L475.3 409.5L481.5 401.7L470.7 406.2ZM470.7 406.2L481.5 401.7L487.7 394.0L476.9 398.4ZM476.9 398.4L487.7 394.0L493.9 386.2L483.1 390.5ZM483.1 390.5L493.9 386.2L500.1 378.5L489.3 382.7ZM489.3 382.7L500.1 378.5L506.2 370.7L495.6 374.9ZM495.6 374.9L506.2 370.7L512.4 363.0L501.8 367.0ZM501.8 367.0L512.4 363.0L518.6 355.2L508.0 359.2ZM508.0 359.2L518.6 355.2L524.8 347.5L514.2 351.4ZM514.2 351.4L524.8 347.5L531.0 339.7L520.5 343.6ZM520.5 343.6L531.0 339.7L537.2 331.9L526.7 335.7ZM526.7 335.7L537.2 331.9L543.3 324.2L532.9 327.9ZM532.9 327.9L543.3 324.2L549.5 316.4L539.1 320.1ZM539.1 320.1L549.5 316.4L555.7 308.7L545.4 312.2ZM545.4 312.2L555.7 308.7L561.9 300.9L551.6 304.4ZM551.6 304.4L561.9 300.9L568.1 293.2L557.8 296.6ZM557.8 296.6L568.1 293.2L574.3 285.4L564.0 288.7ZM564.0 288.7L574.3 285.4L580.5 277.7L570.3 280.9ZM570.3 280.9L580.5 277.7L586.6 269.9L576.5 273.1ZM576.5 273.1L586.6 269.9L592.8 262.2L582.7 265.2ZM582.7 265.2L592.8 262.2L599.0 254.4L588.9 257.4ZM588.9 257.4L599.0 254.4L605.2 246.7L595.2 249.6ZM595.2 249.6L605.2 246.7L611.4 238.9L601.4 241.7ZM601.4 241.7L611.4 238.9L617.6 231.1L607.6 233.9ZM607.6 233.9L617.6 231.1L623.8 223.4L613.8 226.1ZM613.8 226.1L623.8 223.4L629.9 215.6L620.1 218.2ZM620.1 218.2L629.9 215.6L636.1 207.9L626.3 210.4ZM626.3 210.4L636.1 207.9L642.3 200.1L632.5 202.6ZM632.5 202.6L642.3 200.1L648.5 192.4L638.7 194.7ZM638.7 194.7L648.5 192.4L654.7 184.6L645.0 186.9ZM394.9 510.3L406.3 504.7L412.5 497.0L401.1 502.5ZM401.1 502.5L412.5 497.0L418.6 489.4L407.3 494.8ZM407.3 494.8L418.6 489.4L424.7 481.7L413.5 487.0ZM413.5 487.0L424.7 481.7L430.9 474.0L419.7 479.3ZM419.7 479.3L430.9 474.0L437.0 466.3L425.8 471.5ZM425.8 471.5L437.0 466.3L443.2 458.7L432.0 463.8ZM432.0 463.8L443.2 458.7L449.3 451.0L438.2 456.0ZM438.2 456.0L449.3 451.0L455.5 443.3L444.4 448.3ZM444.4 448.3L455.5 443.3L461.6 435.6L450.6 440.5ZM450.6 440.5L461.6 435.6L467.8 428.0L456.8 432.8ZM456.8 432.8L467.8 428.0L473.9 420.3L462.9 425.0ZM462.9 425.0L473.9 420.3L480.0 412.6L469.1 417.2ZM469.1 417.2L480.0 412.6L486.2 404.9L475.3 409.5ZM475.3 409.5L486.2 404.9L492.3 397.3L481.5 401.7ZM481.5 401.7L492.3 397.3L498.5 389.6L487.7 394.0ZM487.7 394.0L498.5 389.6L504.6 381.9L493.9 386.2ZM493.9 386.2L504.6 381.9L510.8 374.2L500.1 378.5ZM500.1 378.5L510.8 374.2L516.9 366.6L506.2 370.7ZM506.2 370.7L516.9 366.6L523.1 358.9L512.4 363.0ZM512.4 363.0L523.1 358.9L529.2 351.2L518.6 355.2ZM518.6 355.2L529.2 351.2L535.3 343.5L524.8 347.5ZM524.8 347.5L535.3 343.5L541.5 335.9L531.0 339.7ZM531.0 339.7L541.5 335.9L547.6 328.2L537.2 331.9ZM537.2 331.9L547.6 328.2L553.8 320.5L543.3 324.2ZM543.3 324.2L553.8 320.5L559.9 312.8L549.5 316.4ZM549.5 316.4L559.9 312.8L566.1 305.1L555.7 308.7ZM555.7 308.7L566.1 305.1L572.2 297.5L561.9 300.9ZM561.9 300.9L572.2 297.5L578.4 289.8L568.1 293.2ZM568.1 293.2L578.4 289.8L584.5 282.1L574.3 285.4ZM574.3 285.4L584.5 282.1L590.6 274.4L580.5 277.7ZM580.5 277.7L590.6 274.4L596.8 266.8L586.6 269.9ZM586.6 269.9L596.8 266.8L602.9 259.1L592.8 262.2ZM592.8 262.2L602.9 259.1L609.1 251.4L599.0 254.4ZM599.0 254.4L609.1 251.4L615.2 243.7L605.2 246.7ZM605.2 246.7L615.2 243.7L621.4 236.1L611.4 238.9ZM611.4 238.9L621.4 236.1L627.5 228.4L617.6 231.1ZM617.6 231.1L627.5 228.4L633.7 220.7L623.8 223.4ZM623.8 223.4L633.7 220.7L639.8 213.0L629.9 215.6ZM629.9 215.6L639.8 213.0L646.0 205.4L636.1 207.9ZM636.1 207.9L646.0 205.4L652.1 197.7L642.3 200.1ZM642.3 200.1L652.1 197.7L658.2 190.0L648.5 192.4ZM648.5 192.4L658.2 190.0L664.4 182.3L654.7 184.6ZM406.3 504.7L417.7 499.1L423.8 491.6L412.5 497.0ZM412.5 497.0L423.8 491.6L429.9 484.0L418.6 489.4ZM418.6 489.4L429.9 484.0L436.0 476.4L424.7 481.7ZM424.7 481.7L436.0 476.4L442.1 468.8L430.9 474.0ZM430.9 474.0L442.1 468.8L448.2 461.2L437.0 466.3ZM437.0 466.3L448.2 461.2L454.3 453.6L443.2 458.7ZM443.2 458.7L454.3 453.6L460.4 446.0L449.3 451.0ZM449.3 451.0L460.4 446.0L466.5 438.4L455.5 443.3ZM455.5 443.3L466.5 438.4L472.6 430.8L461.6 435.6ZM461.6 435.6L472.6 430.8L478.7 423.2L467.8 428.0ZM467.8 428.0L478.7 423.2L484.9 415.6L473.9 420.3ZM473.9 420.3L484.9 415.6L491.0 408.0L480.0 412.6ZM480.0 412.6L491.0 408.0L497.1 400.4L486.2 404.9ZM486.2 404.9L497.1 400.4L503.2 392.8L492.3 397.3ZM492.3 397.3L503.2 392.8L509.3 385.2L498.5 389.6ZM498.5 389.6L509.3 385.2L515.4 377.6L504.6 381.9ZM504.6 381.9L515.4 377.6L521.5 370.0L510.8 374.2ZM510.8 374.2L521.5 370.0L527.6 362.4L516.9 366.6ZM516.9 366.6L527.6 362.4L533.7 354.8L523.1 358.9ZM523.1 358.9L533.7 354.8L539.8 347.2L529.2 351.2ZM529.2 351.2L539.8 347.2L545.9 339.6L535.3 343.5ZM535.3 343.5L545.9 339.6L552.0 332.0L541.5 335.9ZM541.5 335.9L552.0 332.0L558.1 324.4L547.6 328.2ZM547.6 328.2L558.1 324.4L564.2 316.8L553.8 320.5ZM553.8 320.5L564.2 316.8L570.3 309.2L559.9 312.8ZM559.9 312.8L570.3 309.2L576.4 301.6L566.1 305.1ZM566.1 305.1L576.4 301.6L582.5 294.0L572.2 297.5ZM572.2 297.5L582.5 294.0L588.6 286.4L578.4 289.8ZM578.4 289.8L588.6 286.4L594.7 278.8L584.5 282.1ZM584.5 282.1L594.7 278.8L600.8 271.2L590.6 274.4ZM590.6 274.4L600.8 271.2L606.9 263.6L596.8 266.8ZM596.8 266.8L606.9 263.6L613.1 256.0L602.9 259.1ZM602.9 259.1L613.1 256.0L619.2 248.4L609.1 251.4ZM609.1 251.4L619.2 248.4L625.3 240.8L615.2 243.7ZM615.2 243.7L625.3 240.8L631.4 233.2L621.4 236.1ZM621.4 236.1L631.4 233.2L637.5 225.6L627.5 228.4ZM627.5 228.4L637.5 225.6L643.6 218.0L633.7 220.7ZM633.7 220.7L643.6 218.0L649.7 210.4L639.8 213.0ZM639.8 213.0L649.7 210.4L655.8 202.8L646.0 205.4ZM646.0 205.4L655.8 202.8L661.9 195.2L652.1 197.7ZM652.1 197.7L661.9 195.2L668.0 187.6L658.2 190.0ZM658.2 190.0L668.0 187.6L674.1 180.1L664.4 182.3ZM417.7 499.1L429.1 493.6L435.2 486.1L423.8 491.6ZM423.8 491.6L435.2 486.1L441.2 478.5L429.9 484.0ZM429.9 484.0L441.2 478.5L447.3 471.0L436.0 476.4ZM436.0 476.4L447.3 471.0L453.4 463.5L442.1 468.8ZM442.1 468.8L453.4 463.5L459.4 456.0L448.2 461.2ZM448.2 461.2L459.4 456.0L465.5 448.5L454.3 453.6ZM454.3 453.6L465.5 448.5L471.5 440.9L460.4 446.0ZM460.4 446.0L471.5 440.9L477.6 433.4L466.5 438.4ZM466.5 438.4L477.6 433.4L483.7 425.9L472.6 430.8ZM472.6 430.8L483.7 425.9L489.7 418.4L478.7 423.2ZM478.7 423.2L489.7 418.4L495.8 410.9L484.9 415.6ZM484.9 415.6L495.8 410.9L501.9 403.3L491.0 408.0ZM491.0 408.0L501.9 403.3L507.9 395.8L497.1 400.4ZM497.1 400.4L507.9 395.8L514.0 388.3L503.2 392.8ZM503.2 392.8L514.0 388.3L520.1 380.8L509.3 385.2ZM509.3 385.2L520.1 380.8L526.1 373.3L515.4 377.6ZM515.4 377.6L526.1 373.3L532.2 365.7L521.5 370.0ZM521.5 370.0L532.2 365.7L538.3 358.2L527.6 362.4ZM527.6 362.4L538.3 358.2L544.3 350.7L533.7 354.8ZM533.7 354.8L544.3 350.7L550.4 343.2L539.8 347.2ZM539.8 347.2L550.4 343.2L556.5 335.7L545.9 339.6ZM545.9 339.6L556.5 335.7L562.5 328.2L552.0 332.0ZM552.0 332.0L562.5 328.2L568.6 320.6L558.1 324.4ZM558.1 324.4L568.6 320.6L574.6 313.1L564.2 316.8ZM564.2 316.8L574.6 313.1L580.7 305.6L570.3 309.2ZM570.3 309.2L580.7 305.6L586.8 298.1L576.4 301.6ZM576.4 301.6L586.8 298.1L592.8 290.6L582.5 294.0ZM582.5 294.0L592.8 290.6L598.9 283.0L588.6 286.4ZM588.6 286.4L598.9 283.0L605.0 275.5L594.7 278.8ZM594.7 278.8L605.0 275.5L611.0 268.0L600.8 271.2ZM600.8 271.2L611.0 268.0L617.1 260.5L606.9 263.6ZM606.9 263.6L617.1 260.5L623.2 253.0L613.1 256.0ZM613.1 256.0L623.2 253.0L629.2 245.4L619.2 248.4ZM619.2 248.4L629.2 245.4L635.3 237.9L625.3 240.8ZM625.3 240.8L635.3 237.9L641.4 230.4L631.4 233.2ZM631.4 233.2L641.4 230.4L647.4 222.9L637.5 225.6ZM637.5 225.6L647.4 222.9L653.5 215.4L643.6 218.0ZM643.6 218.0L653.5 215.4L659.6 207.8L649.7 210.4ZM649.7 210.4L659.6 207.8L665.6 200.3L655.8 202.8ZM655.8 202.8L665.6 200.3L671.7 192.8L661.9 195.2ZM661.9 195.2L671.7 192.8L677.7 185.3L668.0 187.6ZM668.0 187.6L677.7 185.3L683.8 177.8L674.1 180.1ZM429.1 493.6L440.5 488.0L446.5 480.6L435.2 486.1ZM435.2 486.1L446.5 480.6L452.5 473.1L441.2 478.5ZM441.2 478.5L452.5 473.1L458.6 465.7L447.3 471.0ZM447.3 471.0L458.6 465.7L464.6 458.2L453.4 463.5ZM453.4 463.5L464.6 458.2L470.6 450.8L459.4 456.0ZM459.4 456.0L470.6 450.8L476.6 443.4L465.5 448.5ZM465.5 448.5L476.6 443.4L482.7 435.9L471.5 440.9ZM471.5 440.9L482.7 435.9L488.7 428.5L477.6 433.4ZM477.6 433.4L488.7 428.5L494.7 421.0L483.7 425.9ZM483.7 425.9L494.7 421.0L500.7 413.6L489.7 418.4ZM489.7 418.4L500.7 413.6L506.8 406.2L495.8 410.9ZM495.8 410.9L506.8 406.2L512.8 398.7L501.9 403.3ZM501.9 403.3L512.8 398.7L518.8 391.3L507.9 395.8ZM507.9 395.8L518.8 391.3L524.8 383.8L514.0 388.3ZM514.0 388.3L524.8 383.8L530.9 376.4L520.1 380.8ZM520.1 380.8L530.9 376.4L536.9 368.9L526.1 373.3ZM526.1 373.3L536.9 368.9L542.9 361.5L532.2 365.7ZM532.2 365.7L542.9 361.5L548.9 354.1L538.3 358.2ZM538.3 358.2L548.9 354.1L555.0 346.6L544.3 350.7ZM544.3 350.7L555.0 346.6L561.0 339.2L550.4 343.2ZM550.4 343.2L561.0 339.2L567.0 331.7L556.5 335.7ZM556.5 335.7L567.0 331.7L573.0 324.3L562.5 328.2ZM562.5 328.2L573.0 324.3L579.1 316.9L568.6 320.6ZM568.6 320.6L579.1 316.9L585.1 309.4L574.6 313.1ZM574.6 313.1L585.1 309.4L591.1 302.0L580.7 305.6ZM580.7 305.6L591.1 302.0L597.1 294.5L586.8 298.1ZM586.8 298.1L597.1 294.5L603.2 287.1L592.8 290.6ZM592.8 290.6L603.2 287.1L609.2 279.7L598.9 283.0ZM598.9 283.0L609.2 279.7L615.2 272.2L605.0 275.5ZM605.0 275.5L615.2 272.2L621.2 264.8L611.0 268.0ZM611.0 268.0L621.2 264.8L627.3 257.3L617.1 260.5ZM617.1 260.5L627.3 257.3L633.3 249.9L623.2 253.0ZM623.2 253.0L633.3 249.9L639.3 242.5L629.2 245.4ZM629.2 245.4L639.3 242.5L645.3 235.0L635.3 237.9ZM635.3 237.9L645.3 235.0L651.4 227.6L641.4 230.4ZM641.4 230.4L651.4 227.6L657.4 220.1L647.4 222.9ZM647.4 222.9L657.4 220.1L663.4 212.7L653.5 215.4ZM653.5 215.4L663.4 212.7L669.4 205.2L659.6 207.8ZM659.6 207.8L669.4 205.2L675.5 197.8L665.6 200.3ZM665.6 200.3L675.5 197.8L681.5 190.4L671.7 192.8ZM671.7 192.8L681.5 190.4L687.5 182.9L677.7 185.3ZM677.7 185.3L687.5 182.9L693.5 175.5L683.8 177.8ZM440.5 488.0L451.9 482.4L457.9 475.1L446.5 480.6ZM446.5 480.6L457.9 475.1L463.9 467.7L452.5 473.1ZM452.5 473.1L463.9 467.7L469.8 460.3L458.6 465.7ZM458.6 465.7L469.8 460.3L475.8 453.0L464.6 458.2ZM464.6 458.2L475.8 453.0L481.8 445.6L470.6 450.8ZM470.6 450.8L481.8 445.6L487.8 438.3L476.6 443.4ZM476.6 443.4L487.8 438.3L493.8 430.9L482.7 435.9ZM482.7 435.9L493.8 430.9L499.8 423.5L488.7 428.5ZM488.7 428.5L499.8 423.5L505.7 416.2L494.7 421.0ZM494.7 421.0L505.7 416.2L511.7 408.8L500.7 413.6ZM500.7 413.6L511.7 408.8L517.7 401.4L506.8 406.2ZM506.8 406.2L517.7 401.4L523.7 394.1L512.8 398.7ZM512.8 398.7L523.7 394.1L529.7 386.7L518.8 391.3ZM518.8 391.3L529.7 386.7L535.7 379.4L524.8 383.8ZM524.8 383.8L535.7 379.4L541.7 372.0L530.9 376.4ZM530.9 376.4L541.7 372.0L547.6 364.6L536.9 368.9ZM536.9 368.9L547.6 364.6L553.6 357.3L542.9 361.5ZM542.9 361.5L553.6 357.3L559.6 349.9L548.9 354.1ZM548.9 354.1L559.6 349.9L565.6 342.5L555.0 346.6ZM555.0 346.6L565.6 342.5L571.6 335.2L561.0 339.2ZM561.0 339.2L571.6 335.2L577.6 327.8L567.0 331.7ZM567.0 331.7L577.6 327.8L583.5 320.5L573.0 324.3ZM573.0 324.3L583.5 320.5L589.5 313.1L579.1 316.9ZM579.1 316.9L589.5 313.1L595.5 305.7L585.1 309.4ZM585.1 309.4L595.5 305.7L601.5 298.4L591.1 302.0ZM591.1 302.0L601.5 298.4L607.5 291.0L597.1 294.5ZM597.1 294.5L607.5 291.0L613.5 283.6L603.2 287.1ZM603.2 287.1L613.5 283.6L619.5 276.3L609.2 279.7ZM609.2 279.7L619.5 276.3L625.4 268.9L615.2 272.2ZM615.2 272.2L625.4 268.9L631.4 261.6L621.2 264.8ZM621.2 264.8L631.4 261.6L637.4 254.2L627.3 257.3ZM627.3 257.3L637.4 254.2L643.4 246.8L633.3 249.9ZM633.3 249.9L643.4 246.8L649.4 239.5L639.3 242.5ZM639.3 242.5L649.4 239.5L655.4 232.1L645.3 235.0ZM645.3 235.0L655.4 232.1L661.3 224.7L651.4 227.6ZM651.4 227.6L661.3 224.7L667.3 217.4L657.4 220.1ZM657.4 220.1L667.3 217.4L673.3 210.0L663.4 212.7ZM663.4 212.7L673.3 210.0L679.3 202.6L669.4 205.2ZM669.4 205.2L679.3 202.6L685.3 195.3L675.5 197.8ZM675.5 197.8L685.3 195.3L691.3 187.9L681.5 190.4ZM681.5 190.4L691.3 187.9L697.3 180.6L687.5 182.9ZM687.5 182.9L697.3 180.6L703.2 173.2L693.5 175.5ZM451.9 482.4L463.3 476.9L469.2 469.6L457.9 475.1ZM457.9 475.1L469.2 469.6L475.2 462.3L463.9 467.7ZM463.9 467.7L475.2 462.3L481.1 455.0L469.8 460.3ZM469.8 460.3L481.1 455.0L487.1 447.7L475.8 453.0ZM475.8 453.0L487.1 447.7L493.0 440.4L481.8 445.6ZM481.8 445.6L493.0 440.4L498.9 433.2L487.8 438.3ZM487.8 438.3L498.9 433.2L504.9 425.9L493.8 430.9ZM493.8 430.9L504.9 425.9L510.8 418.6L499.8 423.5ZM499.8 423.5L510.8 418.6L516.8 411.3L505.7 416.2ZM505.7 416.2L516.8 411.3L522.7 404.0L511.7 408.8ZM511.7 408.8L522.7 404.0L528.7 396.7L517.7 401.4ZM517.7 401.4L528.7 396.7L534.6 389.4L523.7 394.1ZM523.7 394.1L534.6 389.4L540.6 382.2L529.7 386.7ZM529.7 386.7L540.6 382.2L546.5 374.9L535.7 379.4ZM535.7 379.4L546.5 374.9L552.4 367.6L541.7 372.0ZM541.7 372.0L552.4 367.6L558.4 360.3L547.6 364.6ZM547.6 364.6L558.4 360.3L564.3 353.0L553.6 357.3ZM553.6 357.3L564.3 353.0L570.3 345.7L559.6 349.9ZM559.6 349.9L570.3 345.7L576.2 338.5L565.6 342.5ZM565.6 342.5L576.2 338.5L582.2 331.2L571.6 335.2ZM571.6 335.2L582.2 331.2L588.1 323.9L577.6 327.8ZM577.6 327.8L588.1 323.9L594.1 316.6L583.5 320.5ZM583.5 320.5L594.1 316.6L600.0 309.3L589.5 313.1ZM589.5 313.1L600.0 309.3L605.9 302.0L595.5 305.7ZM595.5 305.7L605.9 302.0L611.9 294.7L601.5 298.4ZM601.5 298.4L611.9 294.7L617.8 287.5L607.5 291.0ZM607.5 291.0L617.8 287.5L623.8 280.2L613.5 283.6ZM613.5 283.6L623.8 280.2L629.7 272.9L619.5 276.3ZM619.5 276.3L629.7 272.9L635.7 265.6L625.4 268.9ZM625.4 268.9L635.7 265.6L641.6 258.3L631.4 261.6ZM631.4 261.6L641.6 258.3L647.6 251.0L637.4 254.2ZM637.4 254.2L647.6 251.0L653.5 243.8L643.4 246.8ZM643.4 246.8L653.5 243.8L659.4 236.5L649.4 239.5ZM649.4 239.5L659.4 236.5L665.4 229.2L655.4 232.1ZM655.4 232.1L665.4 229.2L671.3 221.9L661.3 224.7ZM661.3 224.7L671.3 221.9L677.3 214.6L667.3 217.4ZM667.3 217.4L677.3 214.6L683.2 207.3L673.3 210.0ZM673.3 210.0L683.2 207.3L689.2 200.1L679.3 202.6ZM679.3 202.6L689.2 200.1L695.1 192.8L685.3 195.3ZM685.3 195.3L695.1 192.8L701.1 185.5L691.3 187.9ZM691.3 187.9L701.1 185.5L707.0 178.2L697.3 180.6ZM697.3 180.6L707.0 178.2L713.0 170.9L703.2 173.2ZM463.3 476.9L474.7 471.3L480.6 464.1L469.2 469.6ZM469.2 469.6L480.6 464.1L486.5 456.9L475.2 462.3ZM475.2 462.3L486.5 456.9L492.4 449.7L481.1 455.0ZM481.1 455.0L492.4 449.7L498.3 442.5L487.1 447.7ZM487.1 447.7L498.3 442.5L504.2 435.3L493.0 440.4ZM493.0 440.4L504.2 435.3L510.1 428.1L498.9 433.2ZM498.9 433.2L510.1 428.1L516.0 420.8L504.9 425.9ZM504.9 425.9L516.0 420.8L521.9 413.6L510.8 418.6ZM510.8 418.6L521.9 413.6L527.8 406.4L516.8 411.3ZM516.8 411.3L527.8 406.4L533.7 399.2L522.7 404.0ZM522.7 404.0L533.7 399.2L539.6 392.0L528.7 396.7ZM528.7 396.7L539.6 392.0L545.5 384.8L534.6 389.4ZM534.6 389.4L545.5 384.8L551.4 377.6L540.6 382.2ZM540.6 382.2L551.4 377.6L557.3 370.4L546.5 374.9ZM546.5 374.9L557.3 370.4L563.2 363.2L552.4 367.6ZM552.4 367.6L563.2 363.2L569.1 356.0L558.4 360.3ZM558.4 360.3L569.1 356.0L575.0 348.8L564.3 353.0ZM564.3 353.0L575.0 348.8L581.0 341.6L570.3 345.7ZM570.3 345.7L581.0 341.6L586.9 334.4L576.2 338.5ZM576.2 338.5L586.9 334.4L592.8 327.2L582.2 331.2ZM582.2 331.2L592.8 327.2L598.7 320.0L588.1 323.9ZM588.1 323.9L598.7 320.0L604.6 312.8L594.1 316.6ZM594.1 316.6L604.6 312.8L610.5 305.5L600.0 309.3ZM600.0 309.3L610.5 305.5L616.4 298.3L605.9 302.0ZM605.9 302.0L616.4 298.3L622.3 291.1L611.9 294.7ZM611.9 294.7L622.3 291.1L628.2 283.9L617.8 287.5ZM617.8 287.5L628.2 283.9L634.1 276.7L623.8 280.2ZM623.8 280.2L634.1 276.7L640.0 269.5L629.7 272.9ZM629.7 272.9L640.0 269.5L645.9 262.3L635.7 265.6ZM635.7 265.6L645.9 262.3L651.8 255.1L641.6 258.3ZM641.6 258.3L651.8 255.1L657.7 247.9L647.6 251.0ZM647.6 251.0L657.7 247.9L663.6 240.7L653.5 243.8ZM653.5 243.8L663.6 240.7L669.5 233.5L659.4 236.5ZM659.4 236.5L669.5 233.5L675.4 226.3L665.4 229.2ZM665.4 229.2L675.4 226.3L681.3 219.1L671.3 221.9ZM671.3 221.9L681.3 219.1L687.2 211.9L677.3 214.6ZM677.3 214.6L687.2 211.9L693.1 204.7L683.2 207.3ZM683.2 207.3L693.1 204.7L699.0 197.5L689.2 200.1ZM689.2 200.1L699.0 197.5L704.9 190.2L695.1 192.8ZM695.1 192.8L704.9 190.2L710.9 183.0L701.1 185.5ZM701.1 185.5L710.9 183.0L716.8 175.8L707.0 178.2ZM707.0 178.2L716.8 175.8L722.7 168.6L713.0 170.9ZM474.7 471.3L486.1 465.7L491.9 458.6L480.6 464.1ZM480.6 464.1L491.9 458.6L497.8 451.5L486.5 456.9ZM486.5 456.9L497.8 451.5L503.7 444.3L492.4 449.7ZM492.4 449.7L503.7 444.3L509.5 437.2L498.3 442.5ZM498.3 442.5L509.5 437.2L515.4 430.1L504.2 435.3ZM504.2 435.3L515.4 430.1L521.2 423.0L510.1 428.1ZM510.1 428.1L521.2 423.0L527.1 415.8L516.0 420.8ZM516.0 420.8L527.1 415.8L533.0 408.7L521.9 413.6ZM521.9 413.6L533.0 408.7L538.8 401.6L527.8 406.4ZM527.8 406.4L538.8 401.6L544.7 394.4L533.7 399.2ZM533.7 399.2L544.7 394.4L550.6 387.3L539.6 392.0ZM539.6 392.0L550.6 387.3L556.4 380.2L545.5 384.8ZM545.5 384.8L556.4 380.2L562.3 373.1L551.4 377.6ZM551.4 377.6L562.3 373.1L568.2 365.9L557.3 370.4ZM557.3 370.4L568.2 365.9L574.0 358.8L563.2 363.2ZM563.2 363.2L574.0 358.8L579.9 351.7L569.1 356.0ZM569.1 356.0L579.9 351.7L585.8 344.5L575.0 348.8ZM575.0 348.8L585.8 344.5L591.6 337.4L581.0 341.6ZM581.0 341.6L591.6 337.4L597.5 330.3L586.9 334.4ZM586.9 334.4L597.5 330.3L603.4 323.2L592.8 327.2ZM592.8 327.2L603.4 323.2L609.2 316.0L598.7 320.0ZM598.7 320.0L609.2 316.0L615.1 308.9L604.6 312.8ZM604.6 312.8L615.1 308.9L620.9 301.8L610.5 305.5ZM610.5 305.5L620.9 301.8L626.8 294.6L616.4 298.3ZM616.4 298.3L626.8 294.6L632.7 287.5L622.3 291.1ZM622.3 291.1L632.7 287.5L638.5 280.4L628.2 283.9ZM628.2 283.9L638.5 280.4L644.4 273.3L634.1 276.7ZM634.1 276.7L644.4 273.3L650.3 266.1L640.0 269.5ZM640.0 269.5L650.3 266.1L656.1 259.0L645.9 262.3ZM645.9 262.3L656.1 259.0L662.0 251.9L651.8 255.1ZM651.8 255.1L662.0 251.9L667.9 244.8L657.7 247.9ZM657.7 247.9L667.9 244.8L673.7 237.6L663.6 240.7ZM663.6 240.7L673.7 237.6L679.6 230.5L669.5 233.5ZM669.5 233.5L679.6 230.5L685.5 223.4L675.4 226.3ZM675.4 226.3L685.5 223.4L691.3 216.2L681.3 219.1ZM681.3 219.1L691.3 216.2L697.2 209.1L687.2 211.9ZM687.2 211.9L697.2 209.1L703.1 202.0L693.1 204.7ZM693.1 204.7L703.1 202.0L708.9 194.9L699.0 197.5ZM699.0 197.5L708.9 194.9L714.8 187.7L704.9 190.2ZM704.9 190.2L714.8 187.7L720.6 180.6L710.9 183.0ZM710.9 183.0L720.6 180.6L726.5 173.5L716.8 175.8ZM716.8 175.8L726.5 173.5L732.4 166.3L722.7 168.6ZM486.1 465.7L497.5 460.1L503.3 453.1L491.9 458.6ZM491.9 458.6L503.3 453.1L509.1 446.0L497.8 451.5ZM497.8 451.5L509.1 446.0L514.9 439.0L503.7 444.3ZM503.7 444.3L514.9 439.0L520.8 431.9L509.5 437.2ZM509.5 437.2L520.8 431.9L526.6 424.9L515.4 430.1ZM515.4 430.1L526.6 424.9L532.4 417.8L521.2 423.0ZM521.2 423.0L532.4 417.8L538.2 410.8L527.1 415.8ZM527.1 415.8L538.2 410.8L544.1 403.7L533.0 408.7ZM533.0 408.7L544.1 403.7L549.9 396.7L538.8 401.6ZM538.8 401.6L549.9 396.7L555.7 389.6L544.7 394.4ZM544.7 394.4L555.7 389.6L561.5 382.6L550.6 387.3ZM550.6 387.3L561.5 382.6L567.4 375.6L556.4 380.2ZM556.4 380.2L567.4 375.6L573.2 368.5L562.3 373.1ZM562.3 373.1L573.2 368.5L579.0 361.5L568.2 365.9ZM568.2 365.9L579.0 361.5L584.8 354.4L574.0 358.8ZM574.0 358.8L584.8 354.4L590.6 347.4L579.9 351.7ZM579.9 351.7L590.6 347.4L596.5 340.3L585.8 344.5ZM585.8 344.5L596.5 340.3L602.3 333.3L591.6 337.4ZM591.6 337.4L602.3 333.3L608.1 326.2L597.5 330.3ZM597.5 330.3L608.1 326.2L613.9 319.2L603.4 323.2ZM603.4 323.2L613.9 319.2L619.8 312.1L609.2 316.0ZM609.2 316.0L619.8 312.1L625.6 305.1L615.1 308.9ZM615.1 308.9L625.6 305.1L631.4 298.0L620.9 301.8ZM620.9 301.8L631.4 298.0L637.2 291.0L626.8 294.6ZM626.8 294.6L637.2 291.0L643.1 283.9L632.7 287.5ZM632.7 287.5L643.1 283.9L648.9 276.9L638.5 280.4ZM638.5 280.4L648.9 276.9L654.7 269.8L644.4 273.3ZM644.4 273.3L654.7 269.8L660.5 262.8L650.3 266.1ZM650.3 266.1L660.5 262.8L666.4 255.7L656.1 259.0ZM656.1 259.0L666.4 255.7L672.2 248.7L662.0 251.9ZM662.0 251.9L672.2 248.7L678.0 241.6L667.9 244.8ZM667.9 244.8L678.0 241.6L683.8 234.6L673.7 237.6ZM673.7 237.6L683.8 234.6L689.7 227.5L679.6 230.5ZM679.6 230.5L689.7 227.5L695.5 220.5L685.5 223.4ZM685.5 223.4L695.5 220.5L701.3 213.4L691.3 216.2ZM691.3 216.2L701.3 213.4L707.1 206.4L697.2 209.1ZM697.2 209.1L707.1 206.4L713.0 199.3L703.1 202.0ZM703.1 202.0L713.0 199.3L718.8 192.3L708.9 194.9ZM708.9 194.9L718.8 192.3L724.6 185.2L714.8 187.7ZM714.8 187.7L724.6 185.2L730.4 178.2L720.6 180.6ZM720.6 180.6L730.4 178.2L736.3 171.1L726.5 173.5ZM726.5 173.5L736.3 171.1L742.1 164.1L732.4 166.3ZM497.5 460.1L508.9 454.6L514.6 447.6L503.3 453.1ZM503.3 453.1L514.6 447.6L520.4 440.6L509.1 446.0ZM509.1 446.0L520.4 440.6L526.2 433.7L514.9 439.0ZM514.9 439.0L526.2 433.7L532.0 426.7L520.8 431.9ZM520.8 431.9L532.0 426.7L537.8 419.7L526.6 424.9ZM526.6 424.9L537.8 419.7L543.6 412.7L532.4 417.8ZM532.4 417.8L543.6 412.7L549.3 405.8L538.2 410.8ZM538.2 410.8L549.3 405.8L555.1 398.8L544.1 403.7ZM544.1 403.7L555.1 398.8L560.9 391.8L549.9 396.7ZM549.9 396.7L560.9 391.8L566.7 384.9L555.7 389.6ZM555.7 389.6L566.7 384.9L572.5 377.9L561.5 382.6ZM561.5 382.6L572.5 377.9L578.3 370.9L567.4 375.6ZM567.4 375.6L578.3 370.9L584.0 363.9L573.2 368.5ZM573.2 368.5L584.0 363.9L589.8 357.0L579.0 361.5ZM579.0 361.5L589.8 357.0L595.6 350.0L584.8 354.4ZM584.8 354.4L595.6 350.0L601.4 343.0L590.6 347.4ZM590.6 347.4L601.4 343.0L607.2 336.1L596.5 340.3ZM596.5 340.3L607.2 336.1L613.0 329.1L602.3 333.3ZM602.3 333.3L613.0 329.1L618.8 322.1L608.1 326.2ZM608.1 326.2L618.8 322.1L624.5 315.1L613.9 319.2ZM613.9 319.2L624.5 315.1L630.3 308.2L619.8 312.1ZM619.8 312.1L630.3 308.2L636.1 301.2L625.6 305.1ZM625.6 305.1L636.1 301.2L641.9 294.2L631.4 298.0ZM631.4 298.0L641.9 294.2L647.7 287.3L637.2 291.0ZM637.2 291.0L647.7 287.3L653.5 280.3L643.1 283.9ZM643.1 283.9L653.5 280.3L659.2 273.3L648.9 276.9ZM648.9 276.9L659.2 273.3L665.0 266.3L654.7 269.8ZM654.7 269.8L665.0 266.3L670.8 259.4L660.5 262.8ZM660.5 262.8L670.8 259.4L676.6 252.4L666.4 255.7ZM666.4 255.7L676.6 252.4L682.4 245.4L672.2 248.7ZM672.2 248.7L682.4 245.4L688.2 238.5L678.0 241.6ZM678.0 241.6L688.2 238.5L694.0 231.5L683.8 234.6ZM683.8 234.6L694.0 231.5L699.7 224.5L689.7 227.5ZM689.7 227.5L699.7 224.5L705.5 217.5L695.5 220.5ZM695.5 220.5L705.5 217.5L711.3 210.6L701.3 213.4ZM701.3 213.4L711.3 210.6L717.1 203.6L707.1 206.4ZM707.1 206.4L717.1 203.6L722.9 196.6L713.0 199.3ZM713.0 199.3L722.9 196.6L728.7 189.7L718.8 192.3ZM718.8 192.3L728.7 189.7L734.4 182.7L724.6 185.2ZM724.6 185.2L734.4 182.7L740.2 175.7L730.4 178.2ZM730.4 178.2L740.2 175.7L746.0 168.7L736.3 171.1ZM736.3 171.1L746.0 168.7L751.8 161.8L742.1 164.1ZM508.9 454.6L520.2 449.0L526.0 442.1L514.6 447.6ZM514.6 447.6L526.0 442.1L531.7 435.2L520.4 440.6ZM520.4 440.6L531.7 435.2L537.5 428.3L526.2 433.7ZM526.2 433.7L537.5 428.3L543.2 421.4L532.0 426.7ZM532.0 426.7L543.2 421.4L549.0 414.5L537.8 419.7ZM537.8 419.7L549.0 414.5L554.7 407.6L543.6 412.7ZM543.6 412.7L554.7 407.6L560.5 400.8L549.3 405.8ZM549.3 405.8L560.5 400.8L566.2 393.9L555.1 398.8ZM555.1 398.8L566.2 393.9L571.9 387.0L560.9 391.8ZM560.9 391.8L571.9 387.0L577.7 380.1L566.7 384.9ZM566.7 384.9L577.7 380.1L583.4 373.2L572.5 377.9ZM572.5 377.9L583.4 373.2L589.2 366.3L578.3 370.9ZM578.3 370.9L589.2 366.3L594.9 359.4L584.0 363.9ZM584.0 363.9L594.9 359.4L600.7 352.5L589.8 357.0ZM589.8 357.0L600.7 352.5L606.4 345.6L595.6 350.0ZM595.6 350.0L606.4 345.6L612.2 338.7L601.4 343.0ZM601.4 343.0L612.2 338.7L617.9 331.8L607.2 336.1ZM607.2 336.1L617.9 331.8L623.6 324.9L613.0 329.1ZM613.0 329.1L623.6 324.9L629.4 318.0L618.8 322.1ZM618.8 322.1L629.4 318.0L635.1 311.1L624.5 315.1ZM624.5 315.1L635.1 311.1L640.9 304.2L630.3 308.2ZM630.3 308.2L640.9 304.2L646.6 297.4L636.1 301.2ZM636.1 301.2L646.6 297.4L652.4 290.5L641.9 294.2ZM641.9 294.2L652.4 290.5L658.1 283.6L647.7 287.3ZM647.7 287.3L658.1 283.6L663.9 276.7L653.5 280.3ZM653.5 280.3L663.9 276.7L669.6 269.8L659.2 273.3ZM659.2 273.3L669.6 269.8L675.3 262.9L665.0 266.3ZM665.0 266.3L675.3 262.9L681.1 256.0L670.8 259.4ZM670.8 259.4L681.1 256.0L686.8 249.1L676.6 252.4ZM676.6 252.4L686.8 249.1L692.6 242.2L682.4 245.4ZM682.4 245.4L692.6 242.2L698.3 235.3L688.2 238.5ZM688.2 238.5L698.3 235.3L704.1 228.4L694.0 231.5ZM694.0 231.5L704.1 228.4L709.8 221.5L699.7 224.5ZM699.7 224.5L709.8 221.5L715.6 214.6L705.5 217.5ZM705.5 217.5L715.6 214.6L721.3 207.7L711.3 210.6ZM711.3 210.6L721.3 207.7L727.0 200.8L717.1 203.6ZM717.1 203.6L727.0 200.8L732.8 194.0L722.9 196.6ZM722.9 196.6L732.8 194.0L738.5 187.1L728.7 189.7ZM728.7 189.7L738.5 187.1L744.3 180.2L734.4 182.7ZM734.4 182.7L744.3 180.2L750.0 173.3L740.2 175.7ZM740.2 175.7L750.0 173.3L755.8 166.4L746.0 168.7ZM746.0 168.7L755.8 166.4L761.5 159.5L751.8 161.8ZM520.2 449.0L531.6 443.4L537.3 436.6L526.0 442.1ZM526.0 442.1L537.3 436.6L543.0 429.8L531.7 435.2ZM531.7 435.2L543.0 429.8L548.8 423.0L537.5 428.3ZM537.5 428.3L548.8 423.0L554.5 416.2L543.2 421.4ZM543.2 421.4L554.5 416.2L560.2 409.4L549.0 414.5ZM549.0 414.5L560.2 409.4L565.9 402.5L554.7 407.6ZM554.7 407.6L565.9 402.5L571.6 395.7L560.5 400.8ZM560.5 400.8L571.6 395.7L577.3 388.9L566.2 393.9ZM566.2 393.9L577.3 388.9L583.0 382.1L571.9 387.0ZM571.9 387.0L583.0 382.1L588.7 375.3L577.7 380.1ZM577.7 380.1L588.7 375.3L594.4 368.5L583.4 373.2ZM583.4 373.2L594.4 368.5L600.1 361.7L589.2 366.3ZM589.2 366.3L600.1 361.7L605.8 354.8L594.9 359.4ZM594.9 359.4L605.8 354.8L611.5 348.0L600.7 352.5ZM600.7 352.5L611.5 348.0L617.2 341.2L606.4 345.6ZM606.4 345.6L617.2 341.2L622.9 334.4L612.2 338.7ZM612.2 338.7L622.9 334.4L628.6 327.6L617.9 331.8ZM617.9 331.8L628.6 327.6L634.3 320.8L623.6 324.9ZM623.6 324.9L634.3 320.8L640.0 313.9L629.4 318.0ZM629.4 318.0L640.0 313.9L645.7 307.1L635.1 311.1ZM635.1 311.1L645.7 307.1L651.4 300.3L640.9 304.2ZM640.9 304.2L651.4 300.3L657.1 293.5L646.6 297.4ZM646.6 297.4L657.1 293.5L662.8 286.7L652.4 290.5ZM652.4 290.5L662.8 286.7L668.5 279.9L658.1 283.6ZM658.1 283.6L668.5 279.9L674.2 273.1L663.9 276.7ZM663.9 276.7L674.2 273.1L680.0 266.2L669.6 269.8ZM669.6 269.8L680.0 266.2L685.7 259.4L675.3 262.9ZM675.3 262.9L685.7 259.4L691.4 252.6L681.1 256.0ZM681.1 256.0L691.4 252.6L697.1 245.8L686.8 249.1ZM686.8 249.1L697.1 245.8L702.8 239.0L692.6 242.2ZM692.6 242.2L702.8 239.0L708.5 232.2L698.3 235.3ZM698.3 235.3L708.5 232.2L714.2 225.4L704.1 228.4ZM704.1 228.4L714.2 225.4L719.9 218.5L709.8 221.5ZM709.8 221.5L719.9 218.5L725.6 211.7L715.6 214.6ZM715.6 214.6L725.6 211.7L731.3 204.9L721.3 207.7ZM721.3 207.7L731.3 204.9L737.0 198.1L727.0 200.8ZM727.0 200.8L737.0 198.1L742.7 191.3L732.8 194.0ZM732.8 194.0L742.7 191.3L748.4 184.5L738.5 187.1ZM738.5 187.1L748.4 184.5L754.1 177.7L744.3 180.2ZM744.3 180.2L754.1 177.7L759.8 170.8L750.0 173.3ZM750.0 173.3L759.8 170.8L765.5 164.0L755.8 166.4ZM755.8 166.4L765.5 164.0L771.2 157.2L761.5 159.5ZM531.6 443.4L543.0 437.9L548.7 431.1L537.3 436.6ZM537.3 436.6L548.7 431.1L554.4 424.4L543.0 429.8ZM543.0 429.8L554.4 424.4L560.0 417.6L548.8 423.0ZM548.8 423.0L560.0 417.6L565.7 410.9L554.5 416.2ZM554.5 416.2L565.7 410.9L571.4 404.2L560.2 409.4ZM560.2 409.4L571.4 404.2L577.0 397.4L565.9 402.5ZM565.9 402.5L577.0 397.4L582.7 390.7L571.6 395.7ZM571.6 395.7L582.7 390.7L588.3 384.0L577.3 388.9ZM577.3 388.9L588.3 384.0L594.0 377.2L583.0 382.1ZM583.0 382.1L594.0 377.2L599.7 370.5L588.7 375.3ZM588.7 375.3L599.7 370.5L605.3 363.8L594.4 368.5ZM594.4 368.5L605.3 363.8L611.0 357.0L600.1 361.7ZM600.1 361.7L611.0 357.0L616.7 350.3L605.8 354.8ZM605.8 354.8L616.7 350.3L622.3 343.5L611.5 348.0ZM611.5 348.0L622.3 343.5L628.0 336.8L617.2 341.2ZM617.2 341.2L628.0 336.8L633.7 330.1L622.9 334.4ZM622.9 334.4L633.7 330.1L639.3 323.3L628.6 327.6ZM628.6 327.6L639.3 323.3L645.0 316.6L634.3 320.8ZM634.3 320.8L645.0 316.6L650.7 309.9L640.0 313.9ZM640.0 313.9L650.7 309.9L656.3 303.1L645.7 307.1ZM645.7 307.1L656.3 303.1L662.0 296.4L651.4 300.3ZM651.4 300.3L662.0 296.4L667.6 289.7L657.1 293.5ZM657.1 293.5L667.6 289.7L673.3 282.9L662.8 286.7ZM662.8 286.7L673.3 282.9L679.0 276.2L668.5 279.9ZM668.5 279.9L679.0 276.2L684.6 269.4L674.2 273.1ZM674.2 273.1L684.6 269.4L690.3 262.7L680.0 266.2ZM680.0 266.2L690.3 262.7L696.0 256.0L685.7 259.4ZM685.7 259.4L696.0 256.0L701.6 249.2L691.4 252.6ZM691.4 252.6L701.6 249.2L707.3 242.5L697.1 245.8ZM697.1 245.8L707.3 242.5L713.0 235.8L702.8 239.0ZM702.8 239.0L713.0 235.8L718.6 229.0L708.5 232.2ZM708.5 232.2L718.6 229.0L724.3 222.3L714.2 225.4ZM714.2 225.4L724.3 222.3L730.0 215.6L719.9 218.5ZM719.9 218.5L730.0 215.6L735.6 208.8L725.6 211.7ZM725.6 211.7L735.6 208.8L741.3 202.1L731.3 204.9ZM731.3 204.9L741.3 202.1L747.0 195.3L737.0 198.1ZM737.0 198.1L747.0 195.3L752.6 188.6L742.7 191.3ZM742.7 191.3L752.6 188.6L758.3 181.9L748.4 184.5ZM748.4 184.5L758.3 181.9L763.9 175.1L754.1 177.7ZM754.1 177.7L763.9 175.1L769.6 168.4L759.8 170.8ZM759.8 170.8L769.6 168.4L775.3 161.7L765.5 164.0ZM765.5 164.0L775.3 161.7L780.9 154.9L771.2 157.2ZM543.0 437.9L554.4 432.3L560.0 425.6L548.7 431.1ZM548.7 431.1L560.0 425.6L565.7 419.0L554.4 424.4ZM554.4 424.4L565.7 419.0L571.3 412.3L560.0 417.6ZM560.0 417.6L571.3 412.3L576.9 405.7L565.7 410.9ZM565.7 410.9L576.9 405.7L582.5 399.0L571.4 404.2ZM571.4 404.2L582.5 399.0L588.2 392.3L577.0 397.4ZM577.0 397.4L588.2 392.3L593.8 385.7L582.7 390.7ZM582.7 390.7L593.8 385.7L599.4 379.0L588.3 384.0ZM588.3 384.0L599.4 379.0L605.0 372.4L594.0 377.2ZM594.0 377.2L605.0 372.4L610.7 365.7L599.7 370.5ZM599.7 370.5L610.7 365.7L616.3 359.0L605.3 363.8ZM605.3 363.8L616.3 359.0L621.9 352.4L611.0 357.0ZM611.0 357.0L621.9 352.4L627.5 345.7L616.7 350.3ZM616.7 350.3L627.5 345.7L633.2 339.1L622.3 343.5ZM622.3 343.5L633.2 339.1L638.8 332.4L628.0 336.8ZM628.0 336.8L638.8 332.4L644.4 325.8L633.7 330.1ZM633.7 330.1L644.4 325.8L650.0 319.1L639.3 323.3ZM639.3 323.3L650.0 319.1L655.7 312.4L645.0 316.6ZM645.0 316.6L655.7 312.4L661.3 305.8L650.7 309.9ZM650.7 309.9L661.3 305.8L666.9 299.1L656.3 303.1ZM656.3 303.1L666.9 299.1L672.5 292.5L662.0 296.4ZM662.0 296.4L672.5 292.5L678.2 285.8L667.6 289.7ZM667.6 289.7L678.2 285.8L683.8 279.1L673.3 282.9ZM673.3 282.9L683.8 279.1L689.4 272.5L679.0 276.2ZM679.0 276.2L689.4 272.5L695.0 265.8L684.6 269.4ZM684.6 269.4L695.0 265.8L700.7 259.2L690.3 262.7ZM690.3 262.7L700.7 259.2L706.3 252.5L696.0 256.0ZM696.0 256.0L706.3 252.5L711.9 245.9L701.6 249.2ZM701.6 249.2L711.9 245.9L717.5 239.2L707.3 242.5ZM707.3 242.5L717.5 239.2L723.2 232.5L713.0 235.8ZM713.0 235.8L723.2 232.5L728.8 225.9L718.6 229.0ZM718.6 229.0L728.8 225.9L734.4 219.2L724.3 222.3ZM724.3 222.3L734.4 219.2L740.0 212.6L730.0 215.6ZM730.0 215.6L740.0 212.6L745.7 205.9L735.6 208.8ZM735.6 208.8L745.7 205.9L751.3 199.2L741.3 202.1ZM741.3 202.1L751.3 199.2L756.9 192.6L747.0 195.3ZM747.0 195.3L756.9 192.6L762.5 185.9L752.6 188.6ZM752.6 188.6L762.5 185.9L768.2 179.3L758.3 181.9ZM758.3 181.9L768.2 179.3L773.8 172.6L763.9 175.1ZM763.9 175.1L773.8 172.6L779.4 166.0L769.6 168.4ZM769.6 168.4L779.4 166.0L785.0 159.3L775.3 161.7ZM775.3 161.7L785.0 159.3L790.6 152.6L780.9 154.9ZM554.4 432.3L565.8 426.7L571.4 420.1L560.0 425.6ZM560.0 425.6L571.4 420.1L577.0 413.6L565.7 419.0ZM565.7 419.0L577.0 413.6L582.6 407.0L571.3 412.3ZM571.3 412.3L582.6 407.0L588.2 400.4L576.9 405.7ZM576.9 405.7L588.2 400.4L593.7 393.8L582.5 399.0ZM582.5 399.0L593.7 393.8L599.3 387.2L588.2 392.3ZM588.2 392.3L599.3 387.2L604.9 380.7L593.8 385.7ZM593.8 385.7L604.9 380.7L610.5 374.1L599.4 379.0ZM599.4 379.0L610.5 374.1L616.1 367.5L605.0 372.4ZM605.0 372.4L616.1 367.5L621.7 360.9L610.7 365.7ZM610.7 365.7L621.7 360.9L627.2 354.3L616.3 359.0ZM616.3 359.0L627.2 354.3L632.8 347.8L621.9 352.4ZM621.9 352.4L632.8 347.8L638.4 341.2L627.5 345.7ZM627.5 345.7L638.4 341.2L644.0 334.6L633.2 339.1ZM633.2 339.1L644.0 334.6L649.6 328.0L638.8 332.4ZM638.8 332.4L649.6 328.0L655.2 321.4L644.4 325.8ZM644.4 325.8L655.2 321.4L660.8 314.9L650.0 319.1ZM650.0 319.1L660.8 314.9L666.3 308.3L655.7 312.4ZM655.7 312.4L666.3 308.3L671.9 301.7L661.3 305.8ZM661.3 305.8L671.9 301.7L677.5 295.1L666.9 299.1ZM666.9 299.1L677.5 295.1L683.1 288.5L672.5 292.5ZM672.5 292.5L683.1 288.5L688.7 282.0L678.2 285.8ZM678.2 285.8L688.7 282.0L694.3 275.4L683.8 279.1ZM683.8 279.1L694.3 275.4L699.8 268.8L689.4 272.5ZM689.4 272.5L699.8 268.8L705.4 262.2L695.0 265.8ZM695.0 265.8L705.4 262.2L711.0 255.6L700.7 259.2ZM700.7 259.2L711.0 255.6L716.6 249.1L706.3 252.5ZM706.3 252.5L716.6 249.1L722.2 242.5L711.9 245.9ZM711.9 245.9L722.2 242.5L727.8 235.9L717.5 239.2ZM717.5 239.2L727.8 235.9L733.3 229.3L723.2 232.5ZM723.2 232.5L733.3 229.3L738.9 222.7L728.8 225.9ZM728.8 225.9L738.9 222.7L744.5 216.2L734.4 219.2ZM734.4 219.2L744.5 216.2L750.1 209.6L740.0 212.6ZM740.0 212.6L750.1 209.6L755.7 203.0L745.7 205.9ZM745.7 205.9L755.7 203.0L761.3 196.4L751.3 199.2ZM751.3 199.2L761.3 196.4L766.9 189.8L756.9 192.6ZM756.9 192.6L766.9 189.8L772.4 183.3L762.5 185.9ZM762.5 185.9L772.4 183.3L778.0 176.7L768.2 179.3ZM768.2 179.3L778.0 176.7L783.6 170.1L773.8 172.6ZM773.8 172.6L783.6 170.1L789.2 163.5L779.4 166.0ZM779.4 166.0L789.2 163.5L794.8 156.9L785.0 159.3ZM785.0 159.3L794.8 156.9L800.4 150.4L790.6 152.6ZM565.8 426.7L577.2 421.1L582.8 414.6L571.4 420.1ZM571.4 420.1L582.8 414.6L588.3 408.1L577.0 413.6ZM577.0 413.6L588.3 408.1L593.8 401.6L582.6 407.0ZM582.6 407.0L593.8 401.6L599.4 395.1L588.2 400.4ZM588.2 400.4L599.4 395.1L604.9 388.6L593.7 393.8ZM593.7 393.8L604.9 388.6L610.5 382.1L599.3 387.2ZM599.3 387.2L610.5 382.1L616.0 375.6L604.9 380.7ZM604.9 380.7L616.0 375.6L621.6 369.1L610.5 374.1ZM610.5 374.1L621.6 369.1L627.1 362.6L616.1 367.5ZM616.1 367.5L627.1 362.6L632.7 356.1L621.7 360.9ZM621.7 360.9L632.7 356.1L638.2 349.6L627.2 354.3ZM627.2 354.3L638.2 349.6L643.7 343.1L632.8 347.8ZM632.8 347.8L643.7 343.1L649.3 336.6L638.4 341.2ZM638.4 341.2L649.3 336.6L654.8 330.1L644.0 334.6ZM644.0 334.6L654.8 330.1L660.4 323.6L649.6 328.0ZM649.6 328.0L660.4 323.6L665.9 317.1L655.2 321.4ZM655.2 321.4L665.9 317.1L671.5 310.6L660.8 314.9ZM660.8 314.9L671.5 310.6L677.0 304.1L666.3 308.3ZM666.3 308.3L677.0 304.1L682.6 297.6L671.9 301.7ZM671.9 301.7L682.6 297.6L688.1 291.1L677.5 295.1ZM677.5 295.1L688.1 291.1L693.6 284.6L683.1 288.5ZM683.1 288.5L693.6 284.6L699.2 278.1L688.7 282.0ZM688.7 282.0L699.2 278.1L704.7 271.6L694.3 275.4ZM694.3 275.4L704.7 271.6L710.3 265.1L699.8 268.8ZM699.8 268.8L710.3 265.1L715.8 258.6L705.4 262.2ZM705.4 262.2L715.8 258.6L721.4 252.1L711.0 255.6ZM711.0 255.6L721.4 252.1L726.9 245.6L716.6 249.1ZM716.6 249.1L726.9 245.6L732.5 239.1L722.2 242.5ZM722.2 242.5L732.5 239.1L738.0 232.6L727.8 235.9ZM727.8 235.9L738.0 232.6L743.5 226.1L733.3 229.3ZM733.3 229.3L743.5 226.1L749.1 219.6L738.9 222.7ZM738.9 222.7L749.1 219.6L754.6 213.1L744.5 216.2ZM744.5 216.2L754.6 213.1L760.2 206.6L750.1 209.6ZM750.1 209.6L760.2 206.6L765.7 200.1L755.7 203.0ZM755.7 203.0L765.7 200.1L771.3 193.6L761.3 196.4ZM761.3 196.4L771.3 193.6L776.8 187.1L766.9 189.8ZM766.9 189.8L776.8 187.1L782.4 180.6L772.4 183.3ZM772.4 183.3L782.4 180.6L787.9 174.1L778.0 176.7ZM778.0 176.7L787.9 174.1L793.4 167.6L783.6 170.1ZM783.6 170.1L793.4 167.6L799.0 161.1L789.2 163.5ZM789.2 163.5L799.0 161.1L804.5 154.6L794.8 156.9ZM794.8 156.9L804.5 154.6L810.1 148.1L800.4 150.4ZM577.2 421.1L588.6 415.6L594.1 409.1L582.8 414.6ZM582.8 414.6L594.1 409.1L599.6 402.7L588.3 408.1ZM588.3 408.1L599.6 402.7L605.1 396.3L593.8 401.6ZM593.8 401.6L605.1 396.3L610.6 389.9L599.4 395.1ZM599.4 395.1L610.6 389.9L616.1 383.5L604.9 388.6ZM604.9 388.6L616.1 383.5L621.6 377.0L610.5 382.1ZM610.5 382.1L621.6 377.0L627.1 370.6L616.0 375.6ZM616.0 375.6L627.1 370.6L632.6 364.2L621.6 369.1ZM621.6 369.1L632.6 364.2L638.1 357.8L627.1 362.6ZM627.1 362.6L638.1 357.8L643.6 351.3L632.7 356.1ZM632.7 356.1L643.6 351.3L649.2 344.9L638.2 349.6ZM638.2 349.6L649.2 344.9L654.7 338.5L643.7 343.1ZM643.7 343.1L654.7 338.5L660.2 332.1L649.3 336.6ZM649.3 336.6L660.2 332.1L665.7 325.6L654.8 330.1ZM654.8 330.1L665.7 325.6L671.2 319.2L660.4 323.6ZM660.4 323.6L671.2 319.2L676.7 312.8L665.9 317.1ZM665.9 317.1L676.7 312.8L682.2 306.4L671.5 310.6ZM671.5 310.6L682.2 306.4L687.7 299.9L677.0 304.1ZM677.0 304.1L687.7 299.9L693.2 293.5L682.6 297.6ZM682.6 297.6L693.2 293.5L698.7 287.1L688.1 291.1ZM688.1 291.1L698.7 287.1L704.2 280.7L693.6 284.6ZM693.6 284.6L704.2 280.7L709.7 274.3L699.2 278.1ZM699.2 278.1L709.7 274.3L715.2 267.8L704.7 271.6ZM704.7 271.6L715.2 267.8L720.7 261.4L710.3 265.1ZM710.3 265.1L720.7 261.4L726.2 255.0L715.8 258.6ZM715.8 258.6L726.2 255.0L731.7 248.6L721.4 252.1ZM721.4 252.1L731.7 248.6L737.2 242.1L726.9 245.6ZM726.9 245.6L737.2 242.1L742.7 235.7L732.5 239.1ZM732.5 239.1L742.7 235.7L748.2 229.3L738.0 232.6ZM738.0 232.6L748.2 229.3L753.7 222.9L743.5 226.1ZM743.5 226.1L753.7 222.9L759.2 216.4L749.1 219.6ZM749.1 219.6L759.2 216.4L764.7 210.0L754.6 213.1ZM754.6 213.1L764.7 210.0L770.2 203.6L760.2 206.6ZM760.2 206.6L770.2 203.6L775.8 197.2L765.7 200.1ZM765.7 200.1L775.8 197.2L781.3 190.7L771.3 193.6ZM771.3 193.6L781.3 190.7L786.8 184.3L776.8 187.1ZM776.8 187.1L786.8 184.3L792.3 177.9L782.4 180.6ZM782.4 180.6L792.3 177.9L797.8 171.5L787.9 174.1ZM787.9 174.1L797.8 171.5L803.3 165.1L793.4 167.6ZM793.4 167.6L803.3 165.1L808.8 158.6L799.0 161.1ZM799.0 161.1L808.8 158.6L814.3 152.2L804.5 154.6ZM804.5 154.6L814.3 152.2L819.8 145.8L810.1 148.1ZM588.6 415.6L600.0 410.0L605.5 403.7L594.1 409.1ZM594.1 409.1L605.5 403.7L610.9 397.3L599.6 402.7ZM599.6 402.7L610.9 397.3L616.4 391.0L605.1 396.3ZM605.1 396.3L616.4 391.0L621.9 384.6L610.6 389.9ZM610.6 389.9L621.9 384.6L627.3 378.3L616.1 383.5ZM616.1 383.5L627.3 378.3L632.8 371.9L621.6 377.0ZM621.6 377.0L632.8 371.9L638.2 365.6L627.1 370.6ZM627.1 370.6L638.2 365.6L643.7 359.2L632.6 364.2ZM632.6 364.2L643.7 359.2L649.2 352.9L638.1 357.8ZM638.1 357.8L649.2 352.9L654.6 346.5L643.6 351.3ZM643.6 351.3L654.6 346.5L660.1 340.2L649.2 344.9ZM649.2 344.9L660.1 340.2L665.6 333.9L654.7 338.5ZM654.7 338.5L665.6 333.9L671.0 327.5L660.2 332.1ZM660.2 332.1L671.0 327.5L676.5 321.2L665.7 325.6ZM665.7 325.6L676.5 321.2L682.0 314.8L671.2 319.2ZM671.2 319.2L682.0 314.8L687.4 308.5L676.7 312.8ZM676.7 312.8L687.4 308.5L692.9 302.1L682.2 306.4ZM682.2 306.4L692.9 302.1L698.4 295.8L687.7 299.9ZM687.7 299.9L698.4 295.8L703.8 289.4L693.2 293.5ZM693.2 293.5L703.8 289.4L709.3 283.1L698.7 287.1ZM698.7 287.1L709.3 283.1L714.8 276.8L704.2 280.7ZM704.2 280.7L714.8 276.8L720.2 270.4L709.7 274.3ZM709.7 274.3L720.2 270.4L725.7 264.1L715.2 267.8ZM715.2 267.8L725.7 264.1L731.1 257.7L720.7 261.4ZM720.7 261.4L731.1 257.7L736.6 251.4L726.2 255.0ZM726.2 255.0L736.6 251.4L742.1 245.0L731.7 248.6ZM731.7 248.6L742.1 245.0L747.5 238.7L737.2 242.1ZM737.2 242.1L747.5 238.7L753.0 232.3L742.7 235.7ZM742.7 235.7L753.0 232.3L758.5 226.0L748.2 229.3ZM748.2 229.3L758.5 226.0L763.9 219.6L753.7 222.9ZM753.7 222.9L763.9 219.6L769.4 213.3L759.2 216.4ZM759.2 216.4L769.4 213.3L774.9 207.0L764.7 210.0ZM764.7 210.0L774.9 207.0L780.3 200.6L770.2 203.6ZM770.2 203.6L780.3 200.6L785.8 194.3L775.8 197.2ZM775.8 197.2L785.8 194.3L791.2 187.9L781.3 190.7ZM781.3 190.7L791.2 187.9L796.7 181.6L786.8 184.3ZM786.8 184.3L796.7 181.6L802.2 175.2L792.3 177.9ZM792.3 177.9L802.2 175.2L807.6 168.9L797.8 171.5ZM797.8 171.5L807.6 168.9L813.1 162.5L803.3 165.1ZM803.3 165.1L813.1 162.5L818.6 156.2L808.8 158.6ZM808.8 158.6L818.6 156.2L824.0 149.8L814.3 152.2ZM814.3 152.2L824.0 149.8L829.5 143.5L819.8 145.8Z" fill="#fff" stroke="#fff" stroke-width="0.6"/><g fill="none" stroke-width="1.1" stroke-linecap="round"><path d="M333.0 535.5L339.4 527.3M318.5 526.6L329.8 521.3M323.3 529.7L329.8 521.3M316.8 538.1L323.3 529.7M312.0 535.1L323.3 529.7M315.2 549.3L321.6 541.0M318.5 526.6L325.1 518.1M315.2 549.3L326.6 543.7M337.9 538.2L349.3 532.6M316.8 538.1L328.1 532.7M307.3 531.9L318.5 526.6M328.1 532.7L339.4 527.3M349.3 532.6L355.7 524.5M333.0 535.5L344.3 530.0M349.3 532.6L360.7 527.0M337.9 538.2L344.3 530.0M323.3 529.7L334.6 524.4M328.1 532.7L334.6 524.4M326.6 543.7L333.0 535.5M321.6 541.0L328.1 532.7M312.0 535.1L318.5 526.6M321.6 541.0L333.0 535.5M326.6 543.7L337.9 538.2M307.3 531.9L313.9 523.3" stroke="#353dad"/><path d="M360.7 527.0L367.0 519.0M339.4 527.3L350.7 521.9M316.0 511.3L327.1 506.3M344.3 530.0L355.7 524.5M360.7 527.0L372.1 521.4M325.1 518.1L331.6 509.7M350.7 521.9L357.1 513.7M316.0 511.3L322.6 502.7M313.9 523.3L320.5 514.8M309.3 519.9L320.5 514.8M345.8 519.1L352.3 510.8M341.0 516.1L352.3 510.8M320.5 514.8L327.1 506.3M334.6 524.4L341.0 516.1M313.9 523.3L325.1 518.1M355.7 524.5L362.0 516.4M334.6 524.4L345.8 519.1M309.3 519.9L316.0 511.3M355.7 524.5L367.0 519.0M341.0 516.1L347.5 507.8M344.3 530.0L350.7 521.9M329.8 521.3L336.3 513.0M325.1 518.1L336.3 513.0M350.7 521.9L362.0 516.4M345.8 519.1L357.1 513.7M329.8 521.3L341.0 516.1M320.5 514.8L331.6 509.7M339.4 527.3L345.8 519.1" stroke="#3243ba"/><path d="M357.1 513.7L363.5 505.6M311.5 507.6L318.2 498.9M362.0 516.4L373.3 511.0M336.3 513.0L347.5 507.8M311.5 507.6L322.6 502.7M322.6 502.7L329.2 494.0M352.3 510.8L358.7 502.6M307.1 503.8L313.8 495.0M342.8 504.6L349.3 496.2M362.0 516.4L368.4 508.4M322.6 502.7L333.7 497.7M347.5 507.8L353.9 499.5M347.5 507.8L358.7 502.6M367.0 519.0L373.3 511.0M307.1 503.8L318.2 498.9M331.6 509.7L338.2 501.2M372.1 521.4L378.4 513.5M357.1 513.7L368.4 508.4M372.1 521.4L383.5 515.9M336.3 513.0L342.8 504.6M327.1 506.3L333.7 497.7M352.3 510.8L363.5 505.6M342.8 504.6L353.9 499.5M327.1 506.3L338.2 501.2M367.0 519.0L378.4 513.5M331.6 509.7L342.8 504.6" stroke="#2c4ac7"/><path d="M324.8 490.2L335.8 485.4M313.8 495.0L320.6 486.2M363.5 505.6L369.9 497.4M353.9 499.5L365.1 494.4M333.7 497.7L340.2 489.2M329.2 494.0L340.2 489.2M349.3 496.2L360.4 491.2M368.4 508.4L379.6 503.0M383.5 515.9L394.9 510.3M358.7 502.6L365.1 494.4M353.9 499.5L360.4 491.2M344.7 492.8L355.8 487.8M338.2 501.2L344.7 492.8M329.2 494.0L335.8 485.4M383.5 515.9L389.7 508.0M378.4 513.5L384.7 505.6M368.4 508.4L374.7 500.3M378.4 513.5L389.7 508.0M363.5 505.6L374.7 500.3M309.6 491.0L316.3 482.1M344.7 492.8L351.3 484.3M333.7 497.7L344.7 492.8M309.6 491.0L320.6 486.2M373.3 511.0L379.6 503.0M358.7 502.6L369.9 497.4M349.3 496.2L355.8 487.8M318.2 498.9L329.2 494.0M373.3 511.0L384.7 505.6M313.8 495.0L324.8 490.2M338.2 501.2L349.3 496.2M318.2 498.9L324.8 490.2M324.8 490.2L331.5 481.5" stroke="#2053d4"/><path d="M360.4 491.2L371.5 486.2M335.8 485.4L342.5 476.8M355.8 487.8L366.9 482.9M374.7 500.3L381.1 492.2M379.6 503.0L386.0 495.1M384.7 505.6L396.0 500.2M369.9 497.4L376.3 489.3M351.3 484.3L362.3 479.4M340.2 489.2L351.3 484.3M346.8 480.6L353.4 472.1M394.9 510.3L401.1 502.5M365.1 494.4L371.5 486.2M384.7 505.6L390.9 497.7M312.2 477.8L323.1 473.2M394.9 510.3L406.3 504.7M389.7 508.0L401.1 502.5M320.6 486.2L331.5 481.5M331.5 481.5L338.2 472.8M389.7 508.0L396.0 500.2M379.6 503.0L390.9 497.7M355.8 487.8L362.3 479.4M331.5 481.5L342.5 476.8M369.9 497.4L381.1 492.2M351.3 484.3L357.8 475.9M340.2 489.2L346.8 480.6M346.8 480.6L357.8 475.9M316.3 482.1L327.3 477.5M365.1 494.4L376.3 489.3M320.6 486.2L327.3 477.5M335.8 485.4L346.8 480.6M312.2 477.8L319.0 468.9M374.7 500.3L386.0 495.1M360.4 491.2L366.9 482.9M316.3 482.1L323.1 473.2" stroke="#0f5cdd"/><path d="M323.1 473.2L334.0 468.7M381.1 492.2L387.4 484.2M353.4 472.1L360.0 463.6M371.5 486.2L378.0 477.9M390.9 497.7L402.2 492.4M396.0 500.2L407.3 494.8M362.3 479.4L368.8 471.1M376.3 489.3L387.4 484.2M381.1 492.2L392.3 487.1M319.0 468.9L325.8 459.9M401.1 502.5L407.3 494.8M396.0 500.2L402.2 492.4M371.5 486.2L382.6 481.1M406.3 504.7L417.7 499.1M390.9 497.7L397.2 489.8M362.3 479.4L373.3 474.6M319.0 468.9L329.8 464.4M357.8 475.9L368.8 471.1M406.3 504.7L412.5 497.0M386.0 495.1L397.2 489.8M308.2 473.4L319.0 468.9M342.5 476.8L353.4 472.1M353.4 472.1L364.4 467.4M376.3 489.3L382.6 481.1M401.1 502.5L412.5 497.0M308.2 473.4L315.0 464.3M315.0 464.3L321.8 455.3M327.3 477.5L338.2 472.8M342.5 476.8L349.1 468.2M315.0 464.3L325.8 459.9M338.2 472.8L344.8 464.1M334.0 468.7L340.7 459.9M327.3 477.5L334.0 468.7M366.9 482.9L373.3 474.6M338.2 472.8L349.1 468.2M357.8 475.9L364.4 467.4M323.1 473.2L329.8 464.4M334.0 468.7L344.8 464.1M366.9 482.9L378.0 477.9M386.0 495.1L392.3 487.1" stroke="#0363e1"/><path d="M325.8 459.9L336.6 455.5M407.3 494.8L418.6 489.4M351.5 455.4L362.3 451.0M417.7 499.1L429.1 493.6M336.6 455.5L343.3 446.7M360.0 463.6L370.9 458.9M382.6 481.1L393.8 476.1M378.0 477.9L384.4 469.7M336.6 455.5L347.4 451.2M412.5 497.0L418.6 489.4M407.3 494.8L413.5 487.0M402.2 492.4L408.4 484.5M311.1 459.7L321.8 455.3M344.8 464.1L351.5 455.4M412.5 497.0L423.8 491.6M321.8 455.3L328.6 446.3M368.8 471.1L379.8 466.3M402.2 492.4L413.5 487.0M344.8 464.1L355.7 459.6M364.4 467.4L370.9 458.9M321.8 455.3L332.6 451.0M340.7 459.9L347.4 451.2M392.3 487.1L403.4 481.9M387.4 484.2L398.6 479.1M378.0 477.9L389.0 473.0M382.6 481.1L389.0 473.0M360.0 463.6L366.6 455.0M340.7 459.9L351.5 455.4M373.3 474.6L384.4 469.7M355.7 459.6L362.3 451.0M311.1 459.7L317.9 450.6M349.1 468.2L355.7 459.6M387.4 484.2L393.8 476.1M329.8 464.4L340.7 459.9M355.7 459.6L366.6 455.0M397.2 489.8L408.4 484.5M349.1 468.2L360.0 463.6M373.3 474.6L379.8 466.3M368.8 471.1L375.3 462.7M329.8 464.4L336.6 455.5M325.8 459.9L332.6 451.0M364.4 467.4L375.3 462.7M417.7 499.1L423.8 491.6M351.5 455.4L358.2 446.8M397.2 489.8L403.4 481.9M392.3 487.1L398.6 479.1" stroke="#0268e1"/><path d="M418.6 489.4L424.7 481.7M343.3 446.7L350.1 437.8M339.4 442.1L346.1 433.2M429.1 493.6L440.5 488.0M332.6 451.0L339.4 442.1M354.1 442.4L364.8 438.1M366.6 455.0L373.2 446.5M343.3 446.7L354.1 442.4M328.6 446.3L335.5 437.3M370.9 458.9L377.5 450.5M354.1 442.4L360.8 433.6M429.1 493.6L435.2 486.1M317.9 450.6L324.8 441.5M358.2 446.8L364.8 438.1M328.6 446.3L339.4 442.1M362.3 451.0L373.2 446.5M358.2 446.8L369.0 442.4M413.5 487.0L424.7 481.7M317.9 450.6L328.6 446.3M423.8 491.6L429.9 484.0M314.1 445.7L324.8 441.5M347.4 451.2L358.2 446.8M362.3 451.0L369.0 442.4M339.4 442.1L350.1 437.8M413.5 487.0L419.7 479.3M314.1 445.7L321.0 436.5M347.4 451.2L354.1 442.4M366.6 455.0L377.5 450.5M370.9 458.9L381.8 454.3M332.6 451.0L343.3 446.7M408.4 484.5L414.6 476.7M418.6 489.4L429.9 484.0M403.4 481.9L409.7 474.0M423.8 491.6L435.2 486.1M403.4 481.9L414.6 476.7M408.4 484.5L419.7 479.3" stroke="#046de0"/><path d="M335.5 437.3L346.1 433.2M360.8 433.6L367.5 424.8M424.7 481.7L430.9 474.0M369.0 442.4L375.6 433.7M440.5 488.0L451.9 482.4M364.8 438.1L375.6 433.7M398.6 479.1L404.9 471.1M346.1 433.2L352.9 424.2M379.8 466.3L390.8 461.5M419.7 479.3L430.9 474.0M424.7 481.7L436.0 476.4M331.7 432.4L338.5 423.3M429.9 484.0L441.2 478.5M335.5 437.3L342.3 428.3M440.5 488.0L446.5 480.6M389.0 473.0L400.1 468.0M364.8 438.1L371.5 429.4M379.8 466.3L386.3 458.0M419.7 479.3L425.8 471.5M331.7 432.4L342.3 428.3M350.1 437.8L356.8 429.0M375.3 462.7L381.8 454.3M321.0 436.5L331.7 432.4M350.1 437.8L360.8 433.6M389.0 473.0L395.4 464.8M435.2 486.1L441.2 478.5M398.6 479.1L409.7 474.0M346.1 433.2L356.8 429.0M324.8 441.5L335.5 437.3M321.0 436.5L327.9 427.3M384.4 469.7L390.8 461.5M324.8 441.5L331.7 432.4M393.8 476.1L404.9 471.1M369.0 442.4L379.8 438.0M360.8 433.6L371.5 429.4M435.2 486.1L446.5 480.6M384.4 469.7L395.4 464.8M393.8 476.1L400.1 468.0M375.3 462.7L386.3 458.0M429.9 484.0L436.0 476.4" stroke="#0871de"/><path d="M404.9 471.1L416.0 466.1M327.9 427.3L334.8 418.2M441.2 478.5L452.5 473.1M356.8 429.0L363.6 420.1M349.1 419.3L355.9 410.3M327.9 427.3L338.5 423.3M414.6 476.7L420.9 468.9M400.1 468.0L406.4 460.0M324.3 422.1L334.8 418.2M390.8 461.5L401.8 456.7M395.4 464.8L406.4 460.0M349.1 419.3L359.7 415.3M446.5 480.6L452.5 473.1M386.3 458.0L397.2 453.3M400.1 468.0L411.2 463.1M377.5 450.5L388.3 445.9M446.5 480.6L457.9 475.1M338.5 423.3L349.1 419.3M352.9 424.2L359.7 415.3M409.7 474.0L416.0 466.1M381.8 454.3L388.3 445.9M436.0 476.4L447.3 471.0M386.3 458.0L392.7 449.7M338.5 423.3L345.4 414.2M373.2 446.5L379.8 438.0M409.7 474.0L420.9 468.9M377.5 450.5L384.0 442.0M451.9 482.4L463.3 476.9M352.9 424.2L363.6 420.1M404.9 471.1L411.2 463.1M451.9 482.4L457.9 475.1M373.2 446.5L384.0 442.0M342.3 428.3L349.1 419.3M395.4 464.8L401.8 456.7M390.8 461.5L397.2 453.3M342.3 428.3L352.9 424.2M430.9 474.0L442.1 468.8M356.8 429.0L367.5 424.8M441.2 478.5L447.3 471.0M381.8 454.3L392.7 449.7M436.0 476.4L442.1 468.8M414.6 476.7L425.8 471.5M430.9 474.0L437.0 466.3M324.3 422.1L331.2 412.8" stroke="#0d75dc"/><path d="M355.9 410.3L362.8 401.3M463.3 476.9L469.2 469.6M352.3 405.1L359.1 396.1M334.7 398.1L345.1 394.4M375.6 433.7L382.2 425.1M452.5 473.1L458.6 465.7M345.4 414.2L352.3 405.1M341.7 409.0L348.6 399.8M375.6 433.7L386.3 429.4M359.7 415.3L370.3 411.3M463.3 476.9L474.7 471.3M367.5 424.8L374.2 416.1M367.5 424.8L378.2 420.7M384.0 442.0L390.5 433.6M379.8 438.0L386.3 429.4M420.9 468.9L427.1 461.0M363.6 420.1L374.2 416.1M457.9 475.1L463.9 467.7M338.2 403.6L345.1 394.4M334.7 398.1L341.7 388.7M420.9 468.9L432.0 463.8M371.5 429.4L378.2 420.7M452.5 473.1L463.9 467.7M338.2 403.6L348.6 399.8M363.6 420.1L370.3 411.3M331.2 412.8L338.2 403.6M359.7 415.3L366.5 406.4M425.8 471.5L432.0 463.8M371.5 429.4L382.2 425.1M331.2 412.8L341.7 409.0M425.8 471.5L437.0 466.3M355.9 410.3L366.5 406.4M352.3 405.1L362.8 401.3M334.8 418.2L341.7 409.0M447.3 471.0L453.4 463.5M379.8 438.0L390.5 433.6M384.0 442.0L394.8 437.5M447.3 471.0L458.6 465.7M341.7 409.0L352.3 405.1M457.9 475.1L469.2 469.6M345.4 414.2L355.9 410.3M334.8 418.2L345.4 414.2" stroke="#1079da"/><path d="M341.7 388.7L352.1 385.1M388.3 445.9L394.8 437.5M442.1 468.8L453.4 463.5M366.5 406.4L377.1 402.4M382.2 425.1L388.8 416.5M437.0 466.3L443.2 458.7M432.0 463.8L443.2 458.7M382.2 425.1L392.9 420.9M437.0 466.3L448.2 461.2M374.2 416.1L384.8 412.0M397.2 453.3L403.6 445.0M401.8 456.7L408.2 448.6M406.4 460.0L417.5 455.1M352.1 385.1L362.5 381.5M392.7 449.7L399.2 441.4M432.0 463.8L438.2 456.0M345.1 394.4L355.6 390.7M374.2 416.1L380.9 407.3M362.8 401.3L369.6 392.3M378.2 420.7L388.8 416.5M392.7 449.7L403.6 445.0M411.2 463.1L417.5 455.1M355.6 390.7L362.5 381.5M469.2 469.6L475.2 462.3M359.1 396.1L369.6 392.3M362.8 401.3L373.3 397.4M458.6 465.7L464.6 458.2M388.3 445.9L399.2 441.4M341.7 388.7L348.7 379.4M352.1 385.1L359.0 375.9M442.1 468.8L448.2 461.2M406.4 460.0L412.8 451.9M474.7 471.3L486.1 465.7M345.1 394.4L352.1 385.1M378.2 420.7L384.8 412.0M366.5 406.4L373.3 397.4M355.6 390.7L366.0 387.0M416.0 466.1L427.1 461.0M458.6 465.7L469.8 460.3M359.1 396.1L366.0 387.0M370.3 411.3L377.1 402.4M474.7 471.3L480.6 464.1M463.9 467.7L469.8 460.3M370.3 411.3L380.9 407.3M397.2 453.3L408.2 448.6M416.0 466.1L422.2 458.2M401.8 456.7L412.8 451.9M348.6 399.8L359.1 396.1M463.9 467.7L475.2 462.3M411.2 463.1L422.2 458.2M469.2 469.6L480.6 464.1M348.6 399.8L355.6 390.7" stroke="#127dd8"/><path d="M386.3 429.4L392.9 420.9M369.6 392.3L376.4 383.3M390.5 433.6L397.1 425.1M366.0 387.0L372.9 377.9M369.6 392.3L380.1 388.5M359.0 375.9L366.0 366.6M348.7 379.4L359.0 375.9M443.2 458.7L449.3 451.0M422.2 458.2L433.3 453.2M394.8 437.5L401.3 429.2M377.1 402.4L383.8 393.6M448.2 461.2L459.4 456.0M373.3 397.4L383.8 393.6M443.2 458.7L454.3 453.6M377.1 402.4L387.6 398.5M362.5 381.5L369.4 372.3M394.8 437.5L405.7 433.1M422.2 458.2L428.5 450.2M355.6 370.1L362.6 360.8M362.5 381.5L372.9 377.9M427.1 461.0L438.2 456.0M386.3 429.4L397.1 425.1M453.4 463.5L464.6 458.2M390.5 433.6L401.3 429.2M427.1 461.0L433.3 453.2M348.7 379.4L355.6 370.1M355.6 370.1L366.0 366.6M366.0 387.0L376.4 383.3M453.4 463.5L459.4 456.0M417.5 455.1L423.8 447.1M448.2 461.2L454.3 453.6M373.3 397.4L380.1 388.5M417.5 455.1L428.5 450.2M359.0 375.9L369.4 372.3" stroke="#1481d6"/><path d="M369.4 372.3L376.3 363.2M399.2 441.4L405.7 433.1M475.2 462.3L486.5 456.9M486.1 465.7L491.9 458.6M399.2 441.4L410.1 436.8M428.5 450.2L434.8 442.3M366.0 366.6L372.9 357.4M438.2 456.0L449.3 451.0M372.9 377.9L383.2 374.3M366.0 366.6L376.3 363.2M397.1 425.1L407.8 420.8M469.8 460.3L481.1 455.0M392.9 420.9L399.5 412.3M408.2 448.6L414.6 440.4M459.4 456.0L470.6 450.8M362.6 360.8L372.9 357.4M372.9 377.9L379.7 368.8M438.2 456.0L444.4 448.3M464.6 458.2L470.6 450.8M480.6 464.1L486.5 456.9M454.3 453.6L460.4 446.0M397.1 425.1L403.6 416.6M469.8 460.3L475.8 453.0M459.4 456.0L465.5 448.5M376.4 383.3L383.2 374.3M412.8 451.9L419.1 443.8M384.8 412.0L391.5 403.3M464.6 458.2L475.8 453.0M412.8 451.9L423.8 447.1M486.1 465.7L497.5 460.1M433.3 453.2L439.5 445.4M384.8 412.0L395.5 407.9M380.1 388.5L386.9 379.6M380.9 407.3L391.5 403.3M392.9 420.9L403.6 416.6M403.6 445.0L410.1 436.8M433.3 453.2L444.4 448.3M408.2 448.6L419.1 443.8M480.6 464.1L491.9 458.6M362.6 360.8L369.6 351.5M388.8 416.5L399.5 412.3M380.9 407.3L387.6 398.5M369.4 372.3L379.7 368.8M475.2 462.3L481.1 455.0M376.4 383.3L386.9 379.6M454.3 453.6L465.5 448.5M380.1 388.5L390.5 384.8M428.5 450.2L439.5 445.4M403.6 445.0L414.6 440.4M388.8 416.5L395.5 407.9" stroke="#1485d4"/><path d="M444.4 448.3L450.6 440.5M475.8 453.0L481.8 445.6M481.1 455.0L492.4 449.7M376.3 363.2L386.6 359.7M423.8 447.1L430.1 439.1M387.6 398.5L394.3 389.8M401.3 429.2L407.8 420.8M383.8 393.6L390.5 384.8M419.1 443.8L430.1 439.1M376.3 363.2L383.2 354.0M383.8 393.6L394.3 389.8M439.5 445.4L450.6 440.5M387.6 398.5L398.2 394.6M379.7 368.8L386.6 359.7M444.4 448.3L455.5 443.3M410.1 436.8L420.9 432.3M383.2 374.3L390.1 365.3M419.1 443.8L425.5 435.8M439.5 445.4L445.8 437.5M405.7 433.1L416.5 428.6M449.3 451.0L455.5 443.3M391.5 403.3L398.2 394.6M383.2 374.3L393.6 370.7M395.5 407.9L406.1 403.8M391.5 403.3L402.1 399.3M369.6 351.5L376.6 342.1M379.7 368.8L390.1 365.3M481.1 455.0L487.1 447.7M449.3 451.0L460.4 446.0M423.8 447.1L434.8 442.3M405.7 433.1L412.1 424.8M470.6 450.8L481.8 445.6M414.6 440.4L425.5 435.8M369.6 351.5L379.8 348.2M401.3 429.2L412.1 424.8M395.5 407.9L402.1 399.3M372.9 357.4L379.8 348.2M372.9 357.4L383.2 354.0M475.8 453.0L487.1 447.7M470.6 450.8L476.6 443.4M414.6 440.4L420.9 432.3M410.1 436.8L416.5 428.6" stroke="#1389d3"/><path d="M390.5 384.8L401.0 381.0M386.6 359.7L396.9 356.3M491.9 458.6L503.3 453.1M407.8 420.8L414.3 412.4M434.8 442.3L441.0 434.4M398.2 394.6L404.8 385.9M399.5 412.3L410.2 408.2M486.5 456.9L497.8 451.5M403.6 416.6L414.3 412.4M416.5 428.6L422.9 420.4M394.3 389.8L401.0 381.0M434.8 442.3L445.8 437.5M465.5 448.5L471.5 440.9M376.6 342.1L383.6 332.8M386.9 379.6L393.6 370.7M455.5 443.3L461.6 435.6M465.5 448.5L476.6 443.4M497.5 460.1L508.9 454.6M394.3 389.8L404.8 385.9M416.5 428.6L427.3 424.1M486.5 456.9L492.4 449.7M376.6 342.1L386.8 338.9M420.9 432.3L431.8 427.7M386.9 379.6L397.3 375.9M430.1 439.1L441.0 434.4M491.9 458.6L497.8 451.5M407.8 420.8L418.6 416.5M460.4 446.0L466.5 438.4M399.5 412.3L406.1 403.8M383.2 354.0L390.1 344.9M403.6 416.6L410.2 408.2M379.8 348.2L386.8 338.9M412.1 424.8L422.9 420.4M383.2 354.0L393.4 350.6M497.5 460.1L503.3 453.1M460.4 446.0L471.5 440.9M379.8 348.2L390.1 344.9M425.5 435.8L431.8 427.7M386.6 359.7L393.4 350.6M420.9 432.3L427.3 424.1M390.5 384.8L397.3 375.9M425.5 435.8L436.4 431.1M412.1 424.8L418.6 416.5M398.2 394.6L408.7 390.7M455.5 443.3L466.5 438.4M430.1 439.1L436.4 431.1" stroke="#108ed2"/><path d="M390.1 365.3L400.4 361.7M481.8 445.6L487.8 438.3M471.5 440.9L477.6 433.4M414.3 412.4L425.1 408.2M406.1 403.8L412.7 395.3M445.8 437.5L456.8 432.8M383.6 332.8L393.7 329.7M410.2 408.2L420.9 404.0M481.8 445.6L493.0 440.4M397.3 375.9L404.0 367.0M390.1 365.3L396.9 356.3M436.4 431.1L442.7 423.2M393.4 350.6L403.7 347.3M450.6 440.5L461.6 435.6M397.3 375.9L407.7 372.2M492.4 449.7L498.3 442.5M406.1 403.8L416.7 399.7M393.4 350.6L400.3 341.6M393.6 370.7L404.0 367.0M466.5 438.4L472.6 430.8M492.4 449.7L503.7 444.3M476.6 443.4L487.8 438.3M402.1 399.3L408.7 390.7M401.0 381.0L411.5 377.2M487.1 447.7L493.0 440.4M450.6 440.5L456.8 432.8M402.1 399.3L412.7 395.3M476.6 443.4L482.7 435.9M441.0 434.4L452.0 429.7M401.0 381.0L407.7 372.2M390.1 344.9L397.0 335.7M414.3 412.4L420.9 404.0M410.2 408.2L416.7 399.7M436.4 431.1L447.3 426.5M441.0 434.4L447.3 426.5M386.8 338.9L397.0 335.7M466.5 438.4L477.6 433.4M393.6 370.7L400.4 361.7M471.5 440.9L482.7 435.9M396.9 356.3L403.7 347.3M386.8 338.9L393.7 329.7M396.9 356.3L407.2 352.8M487.1 447.7L498.3 442.5M445.8 437.5L452.0 429.7M390.1 344.9L400.3 341.6" stroke="#0c93d2"/><path d="M412.7 395.3L423.3 391.3M403.7 347.3L414.0 343.9M416.7 399.7L427.4 395.6M452.0 429.7L458.2 421.9M404.0 367.0L410.8 358.2M393.7 329.7L403.9 326.5M404.0 367.0L414.4 363.4M404.8 385.9L415.3 382.1M403.7 347.3L410.5 338.3M407.7 372.2L414.4 363.4M393.7 329.7L400.7 320.4M397.0 335.7L407.2 332.5M418.6 416.5L429.4 412.1M404.8 385.9L411.5 377.2M503.3 453.1L509.1 446.0M497.8 451.5L503.7 444.3M403.9 326.5L414.0 323.4M397.0 335.7L403.9 326.5M400.4 361.7L407.2 352.8M416.7 399.7L423.3 391.3M412.7 395.3L419.3 386.7M418.6 416.5L425.1 408.2M408.7 390.7L419.3 386.7M400.3 341.6L410.5 338.3M461.6 435.6L472.6 430.8M403.9 326.5L410.8 317.4M456.8 432.8L467.8 428.0M431.8 427.7L438.2 419.6M400.4 361.7L410.8 358.2M400.7 320.4L407.6 311.2M408.7 390.7L415.3 382.1M427.3 424.1L433.7 416.0M431.8 427.7L442.7 423.2M400.3 341.6L407.2 332.5M422.9 420.4L429.4 412.1M400.7 320.4L410.8 317.4M461.6 435.6L467.8 428.0M503.3 453.1L514.6 447.6M407.7 372.2L418.2 368.5M456.8 432.8L462.9 425.0M452.0 429.7L462.9 425.0M422.9 420.4L433.7 416.0M427.3 424.1L438.2 419.6M497.8 451.5L509.1 446.0" stroke="#0998d1"/><path d="M477.6 433.4L483.7 425.9M407.2 352.8L414.0 343.9M411.5 377.2L422.0 373.4M442.7 423.2L449.0 415.2M487.8 438.3L493.8 430.9M477.6 433.4L488.7 428.5M414.0 343.9L424.3 340.5M438.2 419.6L444.5 411.6M419.3 386.7L425.8 378.2M503.7 444.3L509.5 437.2M410.8 317.4L417.7 308.2M425.1 408.2L431.5 399.9M407.6 311.2L417.7 308.2M433.7 416.0L444.5 411.6M414.4 363.4L421.1 354.7M493.0 440.4L498.9 433.2M487.8 438.3L498.9 433.2M410.8 317.4L420.9 314.3M508.9 454.6L520.2 449.0M467.8 428.0L473.9 420.3M415.3 382.1L422.0 373.4M438.2 419.6L449.0 415.2M467.8 428.0L478.7 423.2M415.3 382.1L425.8 378.2M414.4 363.4L424.8 359.8M493.0 440.4L504.2 435.3M407.6 311.2L414.6 302.0M419.3 386.7L429.8 382.8M429.4 412.1L435.8 403.9M508.9 454.6L514.6 447.6M472.6 430.8L478.7 423.2M407.2 352.8L417.5 349.3M414.0 323.4L424.2 320.2M442.7 423.2L453.6 418.6M425.1 408.2L435.8 403.9M414.0 343.9L420.8 335.0M414.0 323.4L420.9 314.3M420.9 404.0L427.4 395.6M472.6 430.8L483.7 425.9M498.3 442.5L509.5 437.2M410.5 338.3L417.4 329.2M407.2 332.5L417.4 329.2M410.8 358.2L421.1 354.7M447.3 426.5L458.2 421.9M433.7 416.0L440.1 407.8M410.5 338.3L420.8 335.0M482.7 435.9L493.8 430.9M420.9 404.0L431.5 399.9M498.3 442.5L504.2 435.3M407.2 332.5L414.0 323.4M503.7 444.3L514.9 439.0M410.8 358.2L417.5 349.3M447.3 426.5L453.6 418.6M411.5 377.2L418.2 368.5M429.4 412.1L440.1 407.8M414.6 302.0L424.6 299.0M482.7 435.9L488.7 428.5" stroke="#079ccf"/><path d="M420.8 335.0L431.0 331.6M424.3 340.5L431.0 331.6M488.7 428.5L499.8 423.5M509.1 446.0L520.4 440.6M418.2 368.5L428.6 364.8M440.1 407.8L450.9 403.5M427.4 395.6L438.0 391.6M424.8 359.8L431.5 351.1M431.5 399.9L438.0 391.6M424.3 340.5L434.5 337.1M425.8 378.2L432.4 369.7M424.6 299.0L431.5 289.9M423.3 391.3L433.9 387.3M427.6 326.0L437.8 322.8M424.2 320.2L431.0 311.2M417.7 308.2L424.6 299.0M440.1 407.8L446.5 399.7M462.9 425.0L473.9 420.3M427.8 305.2L437.8 302.2M417.7 308.2L427.8 305.2M514.6 447.6L520.4 440.6M417.5 349.3L424.3 340.5M417.4 329.2L427.6 326.0M420.9 314.3L431.0 311.2M444.5 411.6L455.3 407.2M435.8 403.9L442.2 395.7M427.8 305.2L434.6 296.1M423.3 391.3L429.8 382.8M462.9 425.0L469.1 417.2M514.6 447.6L526.0 442.1M417.5 349.3L427.8 345.9M417.4 329.2L424.2 320.2M421.1 354.7L427.8 345.9M449.0 415.2L455.3 407.2M453.6 418.6L459.8 410.7M424.6 299.0L434.6 296.1M427.4 395.6L433.9 387.3M444.5 411.6L450.9 403.5M424.2 320.2L434.3 317.1M425.8 378.2L436.4 374.4M458.2 421.9L469.1 417.2M427.6 326.0L434.3 317.1M422.0 373.4L432.4 369.7M493.8 430.9L504.9 425.9M421.1 354.7L431.5 351.1M449.0 415.2L459.8 410.7M483.7 425.9L494.7 421.0M458.2 421.9L464.4 414.0M420.9 314.3L427.8 305.2M509.1 446.0L514.9 439.0M420.8 335.0L427.6 326.0M422.0 373.4L428.6 364.8M493.8 430.9L499.8 423.5M435.8 403.9L446.5 399.7M488.7 428.5L494.7 421.0M418.2 368.5L424.8 359.8M483.7 425.9L489.7 418.4M424.8 359.8L435.2 356.2M431.5 399.9L442.2 395.7M453.6 418.6L464.4 414.0" stroke="#06a0cd"/><path d="M520.2 449.0L531.6 443.4M498.9 433.2L510.1 428.1M433.9 387.3L444.5 383.3M441.5 287.0L448.4 278.0M431.5 351.1L438.1 342.4M504.2 435.3L510.1 428.1M435.2 356.2L445.6 352.6M437.8 302.2L444.7 293.2M427.8 345.9L434.5 337.1M478.7 423.2L489.7 418.4M436.4 374.4L442.9 365.9M431.5 289.9L438.4 280.7M431.0 311.2L437.8 302.2M504.2 435.3L515.4 430.1M428.6 364.8L439.0 361.1M437.8 302.2L447.9 299.2M438.0 391.6L448.6 387.5M437.8 322.8L447.9 319.6M438.1 342.4L444.8 333.7M432.4 369.7L439.0 361.1M459.8 410.7L470.7 406.2M438.1 342.4L448.5 339.0M438.4 280.7L445.3 271.6M441.1 308.2L447.9 299.2M438.0 391.6L444.5 383.3M437.8 322.8L444.5 313.9M434.3 317.1L441.1 308.2M434.6 296.1L441.5 287.0M431.0 331.6L437.8 322.8M441.1 308.2L451.2 305.1M469.1 417.2L475.3 409.5M442.2 395.7L448.6 387.5M441.2 328.3L451.5 325.0M459.8 410.7L466.1 402.8M498.9 433.2L504.9 425.9M433.9 387.3L440.4 378.9M436.4 374.4L446.9 370.5M469.1 417.2L480.0 412.6M509.5 437.2L515.4 430.1M434.6 296.1L444.7 293.2M429.8 382.8L440.4 378.9M434.5 337.1L444.8 333.7M464.4 414.0L475.3 409.5M434.5 337.1L441.2 328.3M441.2 328.3L447.9 319.6M438.4 280.7L448.4 278.0M509.5 437.2L520.8 431.9M464.4 414.0L470.7 406.2M432.4 369.7L442.9 365.9M428.6 364.8L435.2 356.2M520.2 449.0L526.0 442.1M429.8 382.8L436.4 374.4M431.0 331.6L441.2 328.3M473.9 420.3L480.0 412.6M434.3 317.1L444.5 313.9M431.5 351.1L441.8 347.6M427.8 345.9L438.1 342.4M441.5 287.0L451.5 284.2M431.0 311.2L441.1 308.2M478.7 423.2L484.9 415.6M435.2 356.2L441.8 347.6M442.2 395.7L452.9 391.5M473.9 420.3L484.9 415.6M431.5 289.9L441.5 287.0" stroke="#06a4ca"/><path d="M444.5 313.9L454.7 310.8M448.4 278.0L455.2 268.9M455.3 407.2L461.6 399.2M458.0 296.2L468.1 293.3M520.4 440.6L526.2 433.7M440.4 378.9L446.9 370.5M445.6 352.6L456.0 349.0M514.9 439.0L520.8 431.9M458.1 316.4L468.3 313.1M451.2 305.1L458.0 296.2M450.9 403.5L461.6 399.2M446.5 399.7L457.2 395.4M448.4 278.0L458.3 275.2M451.2 305.1L461.4 302.0M447.9 319.6L458.1 316.4M520.4 440.6L531.7 435.2M444.7 293.2L454.7 290.3M444.5 313.9L451.2 305.1M494.7 421.0L505.7 416.2M510.1 428.1L521.2 423.0M439.0 361.1L449.5 357.4M458.1 316.4L464.8 307.7M440.4 378.9L450.9 375.0M450.9 403.5L457.2 395.4M504.9 425.9L510.8 418.6M454.7 290.3L461.5 281.4M448.6 387.5L455.1 379.2M484.9 415.6L491.0 408.0M447.9 319.6L454.7 310.8M447.9 299.2L454.7 290.3M446.5 399.7L452.9 391.5M494.7 421.0L500.7 413.6M444.8 333.7L451.5 325.0M480.0 412.6L486.2 404.9M455.1 330.4L465.4 327.0M444.7 293.2L451.5 284.2M454.7 310.8L464.8 307.7M454.7 290.3L464.7 287.4M451.5 325.0L461.7 321.7M442.9 365.9L453.4 362.1M444.8 333.7L455.1 330.4M504.9 425.9L516.0 420.8M448.6 387.5L459.3 383.4M446.9 370.5L457.4 366.7M480.0 412.6L491.0 408.0M455.3 407.2L466.1 402.8M447.9 299.2L458.0 296.2M514.9 439.0L526.2 433.7M454.7 310.8L461.4 302.0M455.1 330.4L461.7 321.7M475.3 409.5L481.5 401.7M451.5 325.0L458.1 316.4M441.8 347.6L448.5 339.0M475.3 409.5L486.2 404.9M448.5 339.0L458.8 335.5M439.0 361.1L445.6 352.6M441.8 347.6L452.2 344.1M510.1 428.1L516.0 420.8M444.5 383.3L450.9 375.0M451.5 284.2L461.5 281.4M484.9 415.6L495.8 410.9M499.8 423.5L505.7 416.2M444.5 383.3L455.1 379.2M489.7 418.4L495.8 410.9M445.3 271.6L455.2 268.9M445.6 352.6L452.2 344.1M448.5 339.0L455.1 330.4M458.0 296.2L464.7 287.4M489.7 418.4L500.7 413.6M442.9 365.9L449.5 357.4M499.8 423.5L510.8 418.6M451.5 284.2L458.3 275.2M446.9 370.5L453.4 362.1" stroke="#06a7c6"/><path d="M515.4 430.1L521.2 423.0M461.4 302.0L468.1 293.3M452.9 391.5L459.3 383.4M464.8 307.7L475.0 304.5M452.2 344.1L462.5 340.5M491.0 408.0L497.1 400.4M461.5 281.4L471.5 278.5M486.2 404.9L497.1 400.4M468.3 313.1L475.0 304.5M461.6 399.2L472.4 394.9M456.0 349.0L466.4 345.4M457.4 366.7L463.9 358.3M449.5 357.4L456.0 349.0M475.0 304.5L485.1 301.4M491.0 408.0L501.9 403.3M495.8 410.9L501.9 403.3M468.3 313.1L478.5 309.9M459.9 353.7L470.3 350.0M531.6 443.4L537.3 436.6M469.1 332.1L475.6 323.6M466.1 402.8L476.9 398.4M470.7 406.2L481.5 401.7M526.0 442.1L531.7 435.2M486.2 404.9L492.3 397.3M462.1 259.8L469.0 250.7M468.1 293.3L474.8 284.5M495.8 410.9L506.8 406.2M475.0 304.5L481.6 295.9M471.9 318.4L478.5 309.9M456.0 349.0L462.5 340.5M458.3 275.2L465.1 266.2M453.4 362.1L459.9 353.7M465.4 327.0L471.9 318.4M470.7 406.2L476.9 398.4M459.3 383.4L465.6 375.2M455.1 379.2L461.5 371.0M520.8 431.9L526.6 424.9M466.1 402.8L472.4 394.9M457.2 395.4L463.5 387.4M462.1 259.8L472.0 257.2M515.4 430.1L526.6 424.9M455.2 268.9L465.1 266.2M461.7 321.7L468.3 313.1M452.9 391.5L463.5 387.4M468.1 293.3L478.1 290.3M457.2 395.4L467.9 391.2M461.7 321.7L471.9 318.4M453.4 362.1L463.9 358.3M464.7 287.4L471.5 278.5M471.5 299.0L478.1 290.3M520.8 431.9L532.0 426.7M500.7 413.6L511.7 408.8M449.5 357.4L459.9 353.7M471.5 299.0L481.6 295.9M505.7 416.2L511.7 408.8M464.7 287.4L474.8 284.5M526.0 442.1L537.3 436.6M531.6 443.4L543.0 437.9M450.9 375.0L461.5 371.0M469.1 332.1L479.4 328.6M459.9 353.7L466.4 345.4M462.5 340.5L469.1 332.1M458.3 275.2L468.3 272.5M500.7 413.6L506.8 406.2M458.8 335.5L465.4 327.0M505.7 416.2L516.8 411.3M471.9 318.4L482.2 315.1M452.2 344.1L458.8 335.5M461.5 281.4L468.3 272.5M461.4 302.0L471.5 299.0M455.1 379.2L465.6 375.2M465.4 327.0L475.6 323.6M464.8 307.7L471.5 299.0M455.2 268.9L462.1 259.8M459.3 383.4L469.9 379.3M461.6 399.2L467.9 391.2M458.8 335.5L469.1 332.1M457.4 366.7L467.9 362.8M462.5 340.5L472.9 337.0M450.9 375.0L457.4 366.7" stroke="#07a9c2"/><path d="M478.5 309.9L485.1 301.4M526.2 433.7L537.5 428.3M481.6 295.9L488.2 287.3M472.0 257.2L481.8 254.6M480.8 346.4L491.2 342.7M474.8 284.5L481.5 275.7M461.5 371.0L467.9 362.8M497.1 400.4L507.9 395.8M474.3 354.6L484.8 350.8M472.4 394.9L483.1 390.5M483.1 390.5L493.9 386.2M475.1 263.5L485.0 260.9M521.2 423.0L527.1 415.8M531.7 435.2L537.5 428.3M510.8 418.6L521.9 413.6M485.9 320.2L492.4 311.8M472.0 257.2L478.8 248.2M470.3 350.0L476.8 341.7M474.2 383.2L484.9 379.0M468.3 272.5L478.2 269.7M467.9 362.8L478.4 359.0M461.5 371.0L472.0 367.1M472.4 394.9L478.6 387.0M479.4 328.6L485.9 320.2M463.5 387.4L469.9 379.3M481.5 401.7L487.7 394.0M470.3 350.0L480.8 346.4M475.6 323.6L485.9 320.2M478.1 290.3L488.2 287.3M476.9 398.4L483.1 390.5M472.9 337.0L479.4 328.6M471.5 278.5L481.5 275.7M531.7 435.2L543.0 429.8M465.6 375.2L476.2 371.2M467.9 391.2L474.2 383.2M466.4 345.4L472.9 337.0M463.5 387.4L474.2 383.2M485.1 301.4L495.3 298.2M483.2 333.4L493.6 329.9M481.5 401.7L492.3 397.3M488.7 306.7L498.9 303.5M479.4 328.6L489.7 325.1M492.3 397.3L498.5 389.6M472.0 367.1L482.6 363.2M476.9 398.4L487.7 394.0M478.2 269.7L485.0 260.9M487.7 394.0L493.9 386.2M478.5 309.9L488.7 306.7M481.5 275.7L491.5 272.9M471.5 278.5L478.2 269.7M467.9 391.2L478.6 387.0M465.1 266.2L472.0 257.2M478.1 290.3L484.8 281.6M492.3 397.3L503.2 392.8M463.9 358.3L474.3 354.6M483.2 333.4L489.7 325.1M480.8 346.4L487.2 338.1M478.2 269.7L488.2 266.9M465.6 375.2L472.0 367.1M487.7 394.0L498.5 389.6M497.1 400.4L503.2 392.8M474.3 354.6L480.8 346.4M476.8 341.7L483.2 333.4M465.1 266.2L475.1 263.5M521.2 423.0L532.4 417.8M481.5 275.7L488.2 266.9M475.1 263.5L481.8 254.6M472.0 367.1L478.4 359.0M516.0 420.8L521.9 413.6M510.8 418.6L516.8 411.3M474.2 383.2L480.5 375.2M485.9 320.2L496.2 316.8M463.9 358.3L470.3 350.0M482.2 315.1L488.7 306.7M476.8 341.7L487.2 338.1M469.9 379.3L476.2 371.2M468.3 272.5L475.1 263.5M467.9 362.8L474.3 354.6M516.0 420.8L527.1 415.8M478.6 387.0L484.9 379.0M482.2 315.1L492.4 311.8M472.9 337.0L483.2 333.4M475.6 323.6L482.2 315.1M481.6 295.9L491.7 292.8M478.6 387.0L489.3 382.7M474.8 284.5L484.8 281.6M466.4 345.4L476.8 341.7M469.9 379.3L480.5 375.2M488.7 306.7L495.3 298.2M485.1 301.4L491.7 292.8M483.1 390.5L489.3 382.7M469.0 250.7L478.8 248.2M526.2 433.7L532.0 426.7" stroke="#0aacbe"/><path d="M489.3 382.7L500.1 378.5M484.9 379.0L495.6 374.9M497.6 334.5L504.0 326.4M482.6 363.2L493.1 359.2M489.7 325.1L496.2 316.8M491.2 342.7L501.6 339.0M491.5 272.9L498.1 264.2M495.3 298.2L505.4 295.1M486.8 367.2L493.1 359.2M498.3 284.3L504.9 275.8M491.2 371.1L497.4 363.2M489.3 382.7L495.6 374.9M493.9 386.2L500.1 378.5M498.5 389.6L504.6 381.9M491.5 272.9L501.5 270.1M521.9 413.6L533.0 408.7M537.3 436.6L543.0 429.8M492.4 311.8L502.6 308.5M498.5 389.6L509.3 385.2M488.2 266.9L498.1 264.2M487.2 338.1L493.6 329.9M493.1 359.2L503.7 355.3M493.9 386.2L504.6 381.9M491.2 342.7L497.6 334.5M495.3 347.0L505.7 343.3M498.3 284.3L508.4 281.3M494.8 278.7L501.5 270.1M498.9 303.5L509.1 300.2M478.8 248.2L488.6 245.7M506.8 406.2L512.8 398.7M504.0 326.4L514.3 322.8M491.7 292.8L501.8 289.8M488.2 287.3L494.8 278.7M488.2 266.9L494.9 258.2M503.2 392.8L509.3 385.2M526.6 424.9L532.4 417.8M521.9 413.6L527.8 406.4M481.8 254.6L488.6 245.7M484.8 350.8L491.2 342.7M511.7 408.8L517.7 401.4M500.0 321.7L506.5 313.5M485.0 260.9L491.7 252.0M478.4 359.0L484.8 350.8M495.3 347.0L501.6 339.0M488.2 287.3L498.3 284.3M493.6 329.9L500.0 321.7M511.7 408.8L522.7 404.0M480.5 375.2L486.8 367.2M478.8 248.2L485.6 239.2M501.9 403.3L512.8 398.7M506.8 406.2L517.7 401.4M484.8 281.6L494.8 278.7M485.0 260.9L494.9 258.2M486.8 367.2L497.4 363.2M503.2 392.8L514.0 388.3M495.3 298.2L501.8 289.8M496.2 316.8L502.6 308.5M480.5 375.2L491.2 371.1M516.8 411.3L522.7 404.0M502.6 308.5L509.1 300.2M501.9 403.3L507.9 395.8M493.6 329.9L504.0 326.4M537.3 436.6L548.7 431.1M494.8 278.7L504.9 275.8M492.4 311.8L498.9 303.5M487.2 338.1L497.6 334.5M532.0 426.7L543.2 421.4M502.6 308.5L512.9 305.2M496.2 316.8L506.5 313.5M493.1 359.2L499.4 351.3M484.8 281.6L491.5 272.9M476.2 371.2L486.8 367.2M497.6 334.5L508.0 330.9M498.9 303.5L505.4 295.1M516.8 411.3L527.8 406.4M504.0 326.4L510.3 318.2M489.7 325.1L500.0 321.7M488.9 355.1L495.3 347.0M526.6 424.9L537.8 419.7M491.7 292.8L498.3 284.3M481.8 254.6L491.7 252.0M484.9 379.0L491.2 371.1M532.0 426.7L537.8 419.7M484.8 350.8L495.3 347.0M482.6 363.2L488.9 355.1M500.0 321.7L510.3 318.2M488.9 355.1L499.4 351.3M476.2 371.2L482.6 363.2M478.4 359.0L488.9 355.1M491.2 371.1L501.8 367.0" stroke="#0faeb9"/><path d="M508.4 281.3L518.4 278.3M532.4 417.8L538.2 410.8M504.6 381.9L510.8 374.2M504.9 275.8L514.9 272.8M498.1 264.2L504.8 255.5M501.8 367.0L508.0 359.2M522.7 404.0L533.7 399.2M494.9 258.2L501.6 249.4M506.5 313.5L512.9 305.2M503.7 355.3L514.2 351.4M501.6 339.0L512.0 335.3M491.7 252.0L498.5 243.1M508.0 330.9L514.3 322.8M501.5 270.1L511.5 267.2M500.1 378.5L506.2 370.7M543.0 437.9L554.4 432.3M510.3 318.2L516.7 310.1M507.9 395.8L514.0 388.3M500.1 378.5L510.8 374.2M508.0 330.9L518.4 327.3M512.8 398.7L523.7 394.1M512.9 305.2L523.1 301.9M516.7 310.1L527.0 306.7M499.4 351.3L510.0 347.4M505.4 295.1L515.6 291.9M501.5 270.1L508.1 261.4M517.7 401.4L523.7 394.1M503.7 355.3L510.0 347.4M509.3 385.2L515.4 377.6M514.3 322.8L520.7 314.8M488.6 245.7L495.4 236.7M512.8 398.7L518.8 391.3M537.5 428.3L548.8 423.0M505.7 343.3L512.0 335.3M517.7 401.4L528.7 396.7M501.8 289.8L511.9 286.7M497.4 363.2L508.0 359.2M514.3 322.8L524.7 319.3M498.1 264.2L508.1 261.4M509.1 300.2L515.6 291.9M532.4 417.8L543.6 412.7M508.4 281.3L514.9 272.8M504.9 275.8L511.5 267.2M506.5 313.5L516.7 310.1M510.3 318.2L520.7 314.8M527.1 415.8L538.2 410.8M497.4 363.2L503.7 355.3M509.1 300.2L519.3 297.0M512.0 335.3L518.4 327.3M543.0 437.9L548.7 431.1M495.6 374.9L506.2 370.7M510.0 347.4L516.2 339.5M506.2 370.7L512.4 363.0M516.7 310.1L523.1 301.9M512.9 305.2L519.3 297.0M499.4 351.3L505.7 343.3M510.0 347.4L520.5 343.6M505.4 295.1L511.9 286.7M509.3 385.2L520.1 380.8M512.0 335.3L522.5 331.6M495.6 374.9L501.8 367.0M488.6 245.7L498.5 243.1M506.2 370.7L516.9 366.6M522.7 404.0L528.7 396.7M527.1 415.8L533.0 408.7M504.6 381.9L515.4 377.6M537.5 428.3L543.2 421.4M505.7 343.3L516.2 339.5M501.8 367.0L512.4 363.0M501.8 289.8L508.4 281.3M491.7 252.0L501.6 249.4M494.9 258.2L504.8 255.5M501.6 339.0L508.0 330.9M485.6 239.2L495.4 236.7M507.9 395.8L518.8 391.3" stroke="#15b1b4"/><path d="M508.0 359.2L514.2 351.4M523.1 301.9L533.3 298.6M495.4 236.7L502.2 227.8M527.8 406.4L533.7 399.2M504.8 255.5L514.7 252.8M510.8 374.2L521.5 370.0M537.8 419.7L543.6 412.7M543.0 429.8L548.8 423.0M508.0 359.2L518.6 355.2M522.5 331.6L532.9 327.9M498.5 243.1L508.3 240.6M518.6 355.2L524.8 347.5M514.9 272.8L521.4 264.4M511.9 286.7L522.0 283.6M495.4 236.7L505.2 234.3M508.1 261.4L514.7 252.8M523.1 301.9L529.5 293.8M520.1 380.8L526.1 373.3M518.4 327.3L524.7 319.3M520.5 343.6L531.0 339.7M524.7 319.3L531.0 311.3M518.6 355.2L529.2 351.2M533.0 408.7L544.1 403.7M522.5 331.6L528.7 323.7M510.8 374.2L516.9 366.6M516.2 339.5L522.5 331.6M512.4 363.0L523.1 358.9M520.1 380.8L530.9 376.4M508.1 261.4L518.0 258.7M523.7 394.1L534.6 389.4M498.5 243.1L505.2 234.3M518.8 391.3L529.7 386.7M520.5 343.6L526.7 335.7M511.5 267.2L518.0 258.7M524.7 319.3L535.0 315.8M519.3 297.0L525.7 288.8M516.2 339.5L526.7 335.7M512.4 363.0L518.6 355.2M515.4 377.6L521.5 370.0M514.2 351.4L524.8 347.5M518.8 391.3L524.8 383.8M523.7 394.1L529.7 386.7M515.6 291.9L525.7 288.8M514.0 388.3L524.8 383.8M501.6 249.4L511.5 246.8M520.7 314.8L531.0 311.3M516.9 366.6L523.1 358.9M515.4 377.6L526.1 373.3M511.9 286.7L518.4 278.3M518.4 327.3L528.7 323.7M516.9 366.6L527.6 362.4M515.6 291.9L522.0 283.6M501.6 249.4L508.3 240.6M520.7 314.8L527.0 306.7M533.0 408.7L538.8 401.6M514.0 388.3L520.1 380.8M527.8 406.4L538.8 401.6M543.0 429.8L554.4 424.4M537.8 419.7L549.0 414.5M519.3 297.0L529.5 293.8M514.2 351.4L520.5 343.6M511.5 267.2L521.4 264.4M514.9 272.8L524.9 269.9M504.8 255.5L511.5 246.8" stroke="#1db3af"/><path d="M514.7 252.8L524.6 250.1M527.6 362.4L538.3 358.2M529.7 386.7L540.6 382.2M505.2 234.3L512.0 225.4M538.2 410.8L549.3 405.8M524.8 383.8L535.7 379.4M511.5 246.8L521.3 244.2M508.3 240.6L518.1 238.1M554.4 432.3L560.0 425.6M518.0 258.7L528.0 255.9M528.7 323.7L539.1 320.1M521.4 264.4L528.0 255.9M525.7 288.8L532.2 280.6M529.5 293.8L539.7 290.6M502.2 227.8L512.0 225.4M528.7 396.7L534.6 389.4M521.5 370.0L527.6 362.4M511.5 246.8L518.1 238.1M508.3 240.6L515.0 231.9M548.7 431.1L554.4 424.4M543.2 421.4L549.0 414.5M525.7 288.8L535.9 285.6M524.9 269.9L535.0 267.0M531.0 311.3L541.3 307.8M521.5 370.0L532.2 365.7M518.4 278.3L524.9 269.9M543.6 412.7L549.3 405.8M522.0 283.6L528.5 275.3M527.0 306.7L537.3 303.3M524.8 383.8L530.9 376.4M543.2 421.4L554.5 416.2M533.7 399.2L539.6 392.0M538.2 410.8L544.1 403.7M543.6 412.7L554.7 407.6M548.8 423.0L560.0 417.6M524.8 347.5L531.0 339.7M533.7 399.2L544.7 394.4M523.1 358.9L529.2 351.2M521.4 264.4L531.4 261.6M518.0 258.7L524.6 250.1M518.4 278.3L528.5 275.3M527.0 306.7L533.3 298.6M529.5 293.8L535.9 285.6M524.8 347.5L535.3 343.5M526.1 373.3L536.9 368.9M528.7 396.7L539.6 392.0M548.7 431.1L560.0 425.6M505.2 234.3L515.0 231.9M527.6 362.4L533.7 354.8M526.7 335.7L537.2 331.9M548.8 423.0L554.5 416.2M522.0 283.6L532.2 280.6M526.1 373.3L532.2 365.7M524.9 269.9L531.4 261.6M531.0 311.3L537.3 303.3M514.7 252.8L521.3 244.2M529.7 386.7L535.7 379.4M554.4 432.3L565.8 426.7M526.7 335.7L532.9 327.9M523.1 358.9L533.7 354.8M528.7 323.7L535.0 315.8" stroke="#25b5a9"/><path d="M531.4 261.6L541.4 258.7M524.6 250.1L534.5 247.5M554.4 424.4L560.0 417.6M512.0 225.4L521.7 223.1M528.5 275.3L535.0 267.0M531.0 339.7L537.2 331.9M532.2 280.6L542.3 277.5M544.1 403.7L555.1 398.8M535.9 285.6L546.0 282.5M537.3 303.3L543.6 295.3M521.3 244.2L528.0 235.6M539.6 392.0L545.5 384.8M531.0 339.7L541.5 335.9M535.7 379.4L541.7 372.0M534.6 389.4L540.6 382.2M528.5 275.3L538.6 272.3M530.9 376.4L536.9 368.9M535.0 315.8L545.4 312.2M539.1 320.1L549.5 316.4M554.4 424.4L565.7 419.0M539.6 392.0L550.6 387.3M535.7 379.4L546.5 374.9M549.0 414.5L560.2 409.4M530.9 376.4L541.7 372.0M537.3 303.3L547.5 299.9M532.9 327.9L543.3 324.2M532.2 365.7L538.3 358.2M539.1 320.1L545.4 312.2M528.0 255.9L534.5 247.5M529.2 351.2L539.8 347.2M535.0 315.8L541.3 307.8M538.8 401.6L544.7 394.4M532.2 365.7L542.9 361.5M531.4 261.6L537.9 253.2M532.9 327.9L539.1 320.1M529.2 351.2L535.3 343.5M524.6 250.1L531.2 241.6M535.3 343.5L545.9 339.6M518.1 238.1L524.8 229.4M535.9 285.6L542.3 277.5M534.6 389.4L545.5 384.8M532.2 280.6L538.6 272.3M544.1 403.7L549.9 396.7M512.0 225.4L518.7 216.6M533.3 298.6L539.7 290.6M521.7 223.1L531.5 220.7M518.7 216.6L528.4 214.3M515.0 231.9L524.8 229.4M533.3 298.6L543.6 295.3M518.1 238.1L528.0 235.6M537.2 331.9L547.6 328.2M535.3 343.5L541.5 335.9M549.0 414.5L554.7 407.6M521.7 223.1L528.4 214.3M533.7 354.8L539.8 347.2M528.0 255.9L537.9 253.2M515.0 231.9L521.7 223.1M537.2 331.9L543.3 324.2M521.3 244.2L531.2 241.6M538.8 401.6L549.9 396.7M533.7 354.8L544.3 350.7" stroke="#2eb7a4"/><path d="M531.2 241.6L537.8 233.1M542.9 361.5L548.9 354.1M540.6 382.2L546.5 374.9M528.0 235.6L534.6 227.0M541.7 372.0L547.6 364.6M538.3 358.2L548.9 354.1M544.7 394.4L555.7 389.6M541.7 372.0L552.4 367.6M554.5 416.2L565.7 410.9M541.5 335.9L547.6 328.2M531.2 241.6L541.1 239.0M538.6 272.3L545.0 264.1M524.8 229.4L531.5 220.7M541.5 335.9L552.0 332.0M542.3 277.5L548.6 269.4M535.0 267.0L541.4 258.7M524.8 229.4L534.6 227.0M539.8 347.2L550.4 343.2M535.0 267.0L545.0 264.1M537.9 253.2L547.9 250.4M549.3 405.8L555.1 398.8M543.6 295.3L549.9 287.3M534.6 227.0L544.4 224.5M540.6 382.2L551.4 377.6M549.3 405.8L560.5 400.8M534.5 247.5L544.4 244.8M528.4 214.3L538.1 212.0M554.5 416.2L560.2 409.4M545.4 312.2L555.7 308.7M534.6 227.0L541.2 218.4M544.7 394.4L550.6 387.3M545.5 384.8L556.4 380.2M539.7 290.6L546.0 282.5M538.6 272.3L548.6 269.4M536.9 368.9L542.9 361.5M545.4 312.2L551.6 304.4M541.4 258.7L551.4 255.9M534.5 247.5L541.1 239.0M531.5 220.7L538.1 212.0M560.0 425.6L565.7 419.0M542.3 277.5L552.4 274.4M539.7 290.6L549.9 287.3M543.3 324.2L549.5 316.4M542.9 361.5L553.6 357.3M531.5 220.7L541.2 218.4M528.0 235.6L537.8 233.1M541.3 307.8L547.5 299.9M545.5 384.8L551.4 377.6M539.8 347.2L545.9 339.6M560.0 425.6L571.4 420.1M541.4 258.7L547.9 250.4M541.3 307.8L551.6 304.4M536.9 368.9L547.6 364.6M537.9 253.2L544.4 244.8M543.6 295.3L553.8 292.0M543.3 324.2L553.8 320.5M538.3 358.2L544.3 350.7" stroke="#38b99e"/><path d="M547.6 364.6L553.6 357.3M549.9 396.7L560.9 391.8M544.4 244.8L554.4 242.1M565.8 426.7L577.2 421.1M544.4 224.5L554.2 222.1M541.2 218.4L547.8 209.7M547.6 230.6L554.2 222.1M547.6 328.2L558.1 324.4M546.0 282.5L552.4 274.4M545.0 264.1L551.4 255.9M546.5 374.9L552.4 367.6M547.5 299.9L557.8 296.6M550.6 387.3L556.4 380.2M547.6 328.2L553.8 320.5M554.7 407.6L560.5 400.8M547.8 209.7L557.6 207.5M560.2 409.4L571.4 404.2M541.1 239.0L551.0 236.4M548.6 269.4L558.7 266.4M550.4 343.2L556.5 335.7M560.0 417.6L571.3 412.3M549.9 287.3L556.2 279.4M537.8 233.1L547.6 230.6M538.1 212.0L547.8 209.7M547.5 299.9L553.8 292.0M550.4 343.2L561.0 339.2M546.5 374.9L557.3 370.4M549.5 316.4L555.7 308.7M541.2 218.4L551.0 216.0M548.9 354.1L559.6 349.9M544.4 224.5L551.0 216.0M546.0 282.5L556.2 279.4M549.5 316.4L559.9 312.8M555.1 398.8L560.9 391.8M547.9 250.4L554.4 242.1M548.6 269.4L555.0 261.2M547.6 230.6L557.5 228.0M548.9 354.1L555.0 346.6M545.9 339.6L552.0 332.0M549.9 287.3L560.1 284.1M555.1 398.8L566.2 393.9M545.0 264.1L555.0 261.2M544.3 350.7L550.4 343.2M547.9 250.4L557.9 247.7M551.6 304.4L557.8 296.6M550.6 387.3L561.5 382.6M544.3 350.7L555.0 346.6M545.9 339.6L556.5 335.7M554.7 407.6L565.9 402.5M547.6 364.6L558.4 360.3M549.9 396.7L555.7 389.6M544.4 244.8L551.0 236.4M560.2 409.4L565.9 402.5M551.6 304.4L561.9 300.9M560.0 417.6L565.7 410.9M541.1 239.0L547.6 230.6M537.8 233.1L544.4 224.5M565.8 426.7L571.4 420.1" stroke="#42bb98"/><path d="M560.7 213.6L570.5 211.3M551.0 216.0L560.7 213.6M560.8 233.8L567.3 225.5M556.5 335.7L562.5 328.2M551.4 255.9L561.4 253.1M551.0 236.4L560.8 233.8M557.8 296.6L568.1 293.2M560.5 400.8L571.6 395.7M555.7 389.6L566.7 384.9M552.0 332.0L562.5 328.2M558.7 266.4L565.1 258.3M565.7 410.9L571.4 404.2M552.4 274.4L558.7 266.4M558.1 324.4L564.2 316.8M558.7 266.4L568.8 263.4M555.0 346.6L565.6 342.5M554.2 222.1L564.0 219.7M556.4 380.2L562.3 373.1M557.9 247.7L567.8 244.9M560.7 213.6L567.3 205.2M555.0 346.6L561.0 339.2M565.7 410.9L576.9 405.7M555.0 261.2L561.4 253.1M556.2 279.4L562.5 271.4M553.6 357.3L559.6 349.9M557.5 228.0L567.3 225.5M565.7 419.0L571.3 412.3M553.8 292.0L560.1 284.1M552.4 367.6L558.4 360.3M553.6 357.3L564.3 353.0M553.8 292.0L564.0 288.7M565.7 419.0L577.0 413.6M555.7 389.6L561.5 382.6M556.2 279.4L566.3 276.2M557.6 207.5L567.3 205.2M552.0 332.0L558.1 324.4M558.1 324.4L568.6 320.6M555.7 308.7L561.9 300.9M553.8 320.5L559.9 312.8M556.4 380.2L567.4 375.6M554.2 222.1L560.7 213.6M554.4 242.1L560.8 233.8M557.9 247.7L564.3 239.4M560.8 233.8L570.7 231.2M551.4 255.9L557.9 247.7M551.4 377.6L557.3 370.4M555.7 308.7L566.1 305.1M560.5 400.8L566.2 393.9M555.0 261.2L565.1 258.3M557.8 296.6L564.0 288.7M556.5 335.7L567.0 331.7M553.8 320.5L564.2 316.8M551.0 216.0L557.6 207.5M551.0 236.4L557.5 228.0M554.4 242.1L564.3 239.4M551.4 377.6L562.3 373.1M557.5 228.0L564.0 219.7M552.4 274.4L562.5 271.4M552.4 367.6L563.2 363.2" stroke="#4dbc92"/><path d="M561.4 253.1L567.8 244.9M562.5 328.2L568.6 320.6M565.1 258.3L571.4 250.2M571.4 420.1L582.8 414.6M570.5 211.3L580.2 208.9M560.1 284.1L566.3 276.2M573.8 217.2L580.2 208.9M580.2 208.9L586.7 200.6M562.5 328.2L573.0 324.3M558.4 360.3L569.1 356.0M570.7 231.2L580.6 228.6M565.1 258.3L575.1 255.4M567.3 205.2L577.0 202.9M580.2 208.9L590.0 206.5M560.1 284.1L570.3 280.9M564.2 316.8L570.3 309.2M562.3 373.1L573.2 368.5M561.5 382.6L567.4 375.6M567.8 244.9L577.8 242.2M567.3 225.5L577.1 223.0M559.6 349.9L565.6 342.5M561.0 339.2L567.0 331.7M564.0 288.7L570.3 280.9M565.9 402.5L571.6 395.7M560.9 391.8L571.9 387.0M559.6 349.9L570.3 345.7M561.5 382.6L572.5 377.9M564.3 239.4L574.2 236.8M561.0 339.2L571.6 335.2M564.0 288.7L574.3 285.4M567.3 225.5L573.8 217.2M561.4 253.1L571.4 250.2M562.5 271.4L568.8 263.4M559.9 312.8L570.3 309.2M560.9 391.8L566.7 384.9M559.9 312.8L566.1 305.1M561.9 300.9L568.1 293.2M564.2 316.8L574.6 313.1M557.3 370.4L563.2 363.2M564.0 219.7L570.5 211.3M562.3 373.1L568.2 365.9M567.8 244.9L574.2 236.8M577.0 202.9L586.7 200.6M561.9 300.9L572.2 297.5M557.3 370.4L568.2 365.9M565.9 402.5L577.0 397.4M571.3 412.3L576.9 405.7M558.4 360.3L564.3 353.0M570.5 211.3L577.0 202.9M570.7 231.2L577.1 223.0M564.0 219.7L573.8 217.2M573.8 217.2L583.5 214.8M571.4 420.1L577.0 413.6M571.3 412.3L582.6 407.0M564.3 239.4L570.7 231.2M562.5 271.4L572.6 268.3" stroke="#59bd8c"/><path d="M572.6 268.3L578.9 260.4M571.6 395.7L577.3 388.9M580.6 228.6L587.0 220.5M566.2 393.9L571.9 387.0M565.6 342.5L571.6 335.2M570.3 309.2L576.4 301.6M577.2 421.1L588.6 415.6M577.0 413.6L582.6 407.0M568.6 320.6L574.6 313.1M596.4 198.3L606.1 196.0M565.6 342.5L576.2 338.5M570.3 280.9L580.5 277.7M567.4 375.6L573.2 368.5M574.2 236.8L584.1 234.1M575.1 255.4L581.4 247.4M568.6 320.6L579.1 316.9M570.3 280.9L576.5 273.1M568.8 263.4L575.1 255.4M586.7 200.6L596.4 198.3M571.4 404.2L582.5 399.0M566.3 276.2L572.6 268.3M567.4 375.6L578.3 370.9M587.0 220.5L593.3 212.3M577.1 223.0L587.0 220.5M564.3 353.0L575.0 348.8M567.0 331.7L577.6 327.8M590.0 206.5L599.7 204.2M566.3 276.2L576.5 273.1M563.2 363.2L569.1 356.0M574.2 236.8L580.6 228.6M568.8 263.4L578.9 260.4M568.1 293.2L578.4 289.8M583.5 214.8L590.0 206.5M567.0 331.7L573.0 324.3M563.2 363.2L574.0 358.8M566.2 393.9L577.3 388.9M580.6 228.6L590.4 226.0M570.3 309.2L580.7 305.6M568.1 293.2L574.3 285.4M566.1 305.1L572.2 297.5M571.4 250.2L577.8 242.2M575.1 255.4L585.1 252.5M566.1 305.1L576.4 301.6M566.7 384.9L572.5 377.9M571.4 250.2L581.4 247.4M571.6 395.7L582.7 390.7M572.6 268.3L582.7 265.2M587.0 220.5L596.8 218.0M566.7 384.9L577.7 380.1M571.4 404.2L577.0 397.4M577.8 242.2L584.1 234.1M577.1 223.0L583.5 214.8M564.3 353.0L570.3 345.7M577.2 421.1L582.8 414.6M590.0 206.5L596.4 198.3M577.0 413.6L588.3 408.1M577.8 242.2L587.7 239.4M583.5 214.8L593.3 212.3" stroke="#65be86"/><path d="M576.4 301.6L586.8 298.1M573.0 324.3L583.5 320.5M582.8 414.6L594.1 409.1M574.3 285.4L580.5 277.7M571.6 335.2L582.2 331.2M569.1 356.0L579.9 351.7M578.9 260.4L585.1 252.5M574.3 285.4L584.5 282.1M568.2 365.9L579.0 361.5M599.7 204.2L606.1 196.0M578.4 289.8L584.5 282.1M573.0 324.3L579.1 316.9M571.6 335.2L577.6 327.8M569.1 356.0L575.0 348.8M578.9 260.4L588.9 257.4M606.1 196.0L615.8 193.8M578.4 289.8L588.6 286.4M581.4 247.4L591.4 244.6M576.5 273.1L586.6 269.9M596.8 218.0L603.1 209.9M593.3 212.3L603.1 209.9M577.0 397.4L582.7 390.7M590.4 226.0L596.8 218.0M603.1 209.9L612.9 207.4M571.9 387.0L577.7 380.1M576.5 273.1L582.7 265.2M570.3 345.7L576.2 338.5M596.8 218.0L606.6 215.4M584.1 234.1L590.4 226.0M576.4 301.6L582.5 294.0M572.2 297.5L578.4 289.8M584.1 234.1L594.0 231.4M603.1 209.9L609.5 201.8M585.1 252.5L591.4 244.6M571.9 387.0L583.0 382.1M576.9 405.7L588.2 400.4M568.2 365.9L574.0 358.8M594.0 231.4L600.3 223.4M572.2 297.5L582.5 294.0M585.1 252.5L595.2 249.6M573.2 368.5L579.0 361.5M581.4 247.4L587.7 239.4M576.9 405.7L582.5 399.0M587.7 239.4L594.0 231.4M582.8 414.6L588.3 408.1M572.5 377.9L578.3 370.9M590.4 226.0L600.3 223.4M594.0 231.4L603.9 228.7M574.6 313.1L580.7 305.6M599.7 204.2L609.5 201.8M593.3 212.3L599.7 204.2M570.3 345.7L581.0 341.6M572.5 377.9L583.4 373.2M577.0 397.4L588.2 392.3M573.2 368.5L584.0 363.9M587.7 239.4L597.7 236.7M574.6 313.1L585.1 309.4" stroke="#71bf80"/><path d="M577.6 327.8L588.1 323.9M588.9 257.4L595.2 249.6M580.5 277.7L590.6 274.4M582.7 265.2L592.8 262.2M582.5 399.0L593.7 393.8M609.5 201.8L615.8 193.8M586.6 269.9L592.8 262.2M600.3 223.4L610.2 220.8M578.3 370.9L584.0 363.9M603.9 228.7L610.2 220.8M582.5 294.0L592.8 290.6M595.2 249.6L605.2 246.7M577.6 327.8L583.5 320.5M582.7 265.2L588.9 257.4M612.9 207.4L619.2 199.5M578.3 370.9L589.2 366.3M588.9 257.4L599.0 254.4M597.7 236.7L603.9 228.7M586.6 269.9L596.8 266.8M584.5 282.1L594.7 278.8M606.6 215.4L612.9 207.4M582.5 399.0L588.2 392.3M595.2 249.6L601.4 241.7M582.6 407.0L588.2 400.4M597.7 236.7L607.6 233.9M574.0 358.8L584.8 354.4M575.0 348.8L585.8 344.5M582.6 407.0L593.8 401.6M576.2 338.5L586.9 334.4M577.7 380.1L583.4 373.2M577.3 388.9L588.3 384.0M584.5 282.1L590.6 274.4M575.0 348.8L581.0 341.6M574.0 358.8L579.9 351.7M600.3 223.4L606.6 215.4M580.7 305.6L591.1 302.0M612.9 207.4L622.7 205.0M579.1 316.9L589.5 313.1M591.4 244.6L597.7 236.7M606.6 215.4L616.5 212.9M615.8 193.8L625.5 191.5M579.1 316.9L585.1 309.4M580.7 305.6L586.8 298.1M591.4 244.6L601.4 241.7M588.6 415.6L594.1 409.1M609.5 201.8L619.2 199.5M577.7 380.1L588.7 375.3M576.2 338.5L582.2 331.2M580.5 277.7L586.6 269.9M588.6 415.6L600.0 410.0M582.5 294.0L588.6 286.4M603.9 228.7L613.8 226.1M577.3 388.9L583.0 382.1" stroke="#7cbf7b"/><path d="M605.2 246.7L615.2 243.7M583.4 373.2L589.2 366.3M592.8 262.2L599.0 254.4M590.6 274.4L596.8 266.8M616.5 212.9L622.7 205.0M582.2 331.2L588.1 323.9M583.0 382.1L594.0 377.2M610.2 220.8L616.5 212.9M616.5 212.9L626.3 210.4M586.9 334.4L592.8 327.2M585.8 344.5L591.6 337.4M596.8 266.8L606.9 263.6M590.6 274.4L600.8 271.2M579.9 351.7L590.6 347.4M610.2 220.8L620.1 218.2M579.0 361.5L589.8 357.0M586.9 334.4L597.5 330.3M588.1 323.9L598.7 320.0M613.8 226.1L623.8 223.4M588.2 400.4L593.7 393.8M588.6 286.4L594.7 278.8M582.7 390.7L588.3 384.0M589.5 313.1L595.5 305.7M619.2 199.5L625.5 191.5M622.7 205.0L632.5 202.6M586.8 298.1L592.8 290.6M588.2 400.4L599.4 395.1M599.0 254.4L605.2 246.7M613.8 226.1L620.1 218.2M583.4 373.2L594.4 368.5M582.2 331.2L592.8 327.2M589.5 313.1L600.0 309.3M607.6 233.9L613.8 226.1M586.8 298.1L597.1 294.5M625.5 191.5L635.2 189.2M599.0 254.4L609.1 251.4M588.3 408.1L599.6 402.7M588.6 286.4L598.9 283.0M585.1 309.4L595.5 305.7M601.4 241.7L607.6 233.9M622.7 205.0L629.0 197.1M607.6 233.9L617.6 231.1M581.0 341.6L586.9 334.4M588.1 323.9L594.1 316.6M579.0 361.5L584.8 354.4M579.9 351.7L585.8 344.5M596.8 266.8L602.9 259.1M588.3 408.1L593.8 401.6M601.4 241.7L611.4 238.9M585.1 309.4L591.1 302.0M581.0 341.6L591.6 337.4M583.5 320.5L589.5 313.1M592.8 262.2L602.9 259.1M585.8 344.5L596.5 340.3M583.0 382.1L588.7 375.3M582.7 390.7L593.8 385.7M583.5 320.5L594.1 316.6M605.2 246.7L611.4 238.9M619.2 199.5L629.0 197.1" stroke="#87bf77"/><path d="M594.1 316.6L600.0 309.3M598.9 283.0L605.0 275.5M588.3 384.0L594.0 377.2M591.6 337.4L597.5 330.3M590.6 347.4L601.4 343.0M592.8 327.2L598.7 320.0M593.8 401.6L605.1 396.3M588.7 375.3L594.4 368.5M617.6 231.1L627.5 228.4M598.9 283.0L609.2 279.7M609.1 251.4L615.2 243.7M600.8 271.2L611.0 268.0M626.3 210.4L632.5 202.6M592.8 327.2L603.4 323.2M620.1 218.2L626.3 210.4M626.3 210.4L636.1 207.9M617.6 231.1L623.8 223.4M594.7 278.8L600.8 271.2M592.8 290.6L598.9 283.0M589.8 357.0L595.6 350.0M592.8 290.6L603.2 287.1M594.1 316.6L604.6 312.8M597.1 294.5L607.5 291.0M588.3 384.0L599.4 379.0M594.1 409.1L605.5 403.7M594.7 278.8L605.0 275.5M595.5 305.7L605.9 302.0M611.4 238.9L617.6 231.1M589.8 357.0L600.7 352.5M588.7 375.3L599.7 370.5M591.6 337.4L602.3 333.3M584.0 363.9L594.9 359.4M588.2 392.3L593.8 385.7M597.1 294.5L603.2 287.1M623.8 223.4L629.9 215.6M584.8 354.4L590.6 347.4M594.1 409.1L599.6 402.7M602.9 259.1L609.1 251.4M611.4 238.9L621.4 236.1M584.0 363.9L589.8 357.0M588.2 392.3L599.3 387.2M595.5 305.7L601.5 298.4M591.1 302.0L601.5 298.4M623.8 223.4L633.7 220.7M602.9 259.1L613.1 256.0M629.0 197.1L635.2 189.2M620.1 218.2L629.9 215.6M590.6 347.4L596.5 340.3M584.8 354.4L595.6 350.0M591.1 302.0L597.1 294.5M629.0 197.1L638.7 194.7M593.8 401.6L599.4 395.1M600.8 271.2L606.9 263.6M609.1 251.4L619.2 248.4" stroke="#92bf73"/><path d="M598.7 320.0L604.6 312.8M629.9 215.6L639.8 213.0M589.2 366.3L600.1 361.7M597.5 330.3L603.4 323.2M596.5 340.3L607.2 336.1M636.1 207.9L642.3 200.1M595.6 350.0L601.4 343.0M611.0 268.0L617.1 260.5M606.9 263.6L613.1 256.0M601.5 298.4L611.9 294.7M632.5 202.6L642.3 200.1M636.1 207.9L646.0 205.4M595.6 350.0L606.4 345.6M619.2 248.4L629.2 245.4M594.0 377.2L599.7 370.5M613.1 256.0L623.2 253.0M593.8 385.7L599.4 379.0M601.5 298.4L607.5 291.0M605.0 275.5L615.2 272.2M632.5 202.6L638.7 194.7M615.2 243.7L621.4 236.1M615.2 243.7L625.3 240.8M621.4 236.1L627.5 228.4M593.8 385.7L604.9 380.7M594.0 377.2L605.0 372.4M589.2 366.3L594.9 359.4M621.4 236.1L631.4 233.2M605.0 275.5L611.0 268.0M596.5 340.3L602.3 333.3M635.2 189.2L645.0 186.9M638.7 194.7L648.5 192.4M606.9 263.6L617.1 260.5M593.7 393.8L599.3 387.2M600.0 309.3L605.9 302.0M603.2 287.1L613.5 283.6M627.5 228.4L633.7 220.7M619.2 248.4L625.3 240.8M593.7 393.8L604.9 388.6M599.6 402.7L610.9 397.3M627.5 228.4L637.5 225.6M597.5 330.3L608.1 326.2M613.1 256.0L619.2 248.4M638.7 194.7L645.0 186.9M603.2 287.1L609.2 279.7M598.7 320.0L609.2 316.0M600.0 309.3L610.5 305.5M629.9 215.6L636.1 207.9M599.6 402.7L605.1 396.3M600.0 410.0L605.5 403.7M611.0 268.0L621.2 264.8" stroke="#9cbf6f"/><path d="M625.3 240.8L631.4 233.2M615.2 272.2L625.4 268.9M629.2 245.4L639.3 242.5M607.5 291.0L613.5 283.6M621.2 264.8L627.3 257.3M600.7 352.5L611.5 348.0M609.2 316.0L619.8 312.1M594.9 359.4L605.8 354.8M601.4 343.0L612.2 338.7M599.3 387.2L610.5 382.1M631.4 233.2L641.4 230.4M637.5 225.6L643.6 218.0M605.5 403.7L610.9 397.3M607.5 291.0L617.8 287.5M633.7 220.7L643.6 218.0M609.2 279.7L615.2 272.2M629.2 245.4L635.3 237.9M594.4 368.5L605.3 363.8M615.2 272.2L621.2 264.8M645.0 186.9L654.7 184.6M613.5 283.6L619.5 276.3M599.3 387.2L604.9 380.7M637.5 225.6L647.4 222.9M633.7 220.7L639.8 213.0M609.2 279.7L619.5 276.3M594.4 368.5L600.1 361.7M604.6 312.8L610.5 305.5M599.4 395.1L610.6 389.9M625.3 240.8L635.3 237.9M604.6 312.8L615.1 308.9M602.3 333.3L608.1 326.2M642.3 200.1L652.1 197.7M599.4 395.1L604.9 388.6M623.2 253.0L629.2 245.4M631.4 233.2L637.5 225.6M594.9 359.4L600.7 352.5M605.9 302.0L611.9 294.7M617.1 260.5L623.2 253.0M613.5 283.6L623.8 280.2M623.2 253.0L633.3 249.9M642.3 200.1L648.5 192.4M602.3 333.3L613.0 329.1M603.4 323.2L613.9 319.2M617.1 260.5L627.3 257.3M605.9 302.0L616.4 298.3M639.8 213.0L646.0 205.4M599.4 379.0L605.0 372.4M600.7 352.5L606.4 345.6M621.2 264.8L631.4 261.6M609.2 316.0L615.1 308.9M639.8 213.0L649.7 210.4M599.4 379.0L610.5 374.1M603.4 323.2L609.2 316.0M601.4 343.0L607.2 336.1" stroke="#a5be6b"/><path d="M613.9 319.2L624.5 315.1M641.4 230.4L647.4 222.9M606.4 345.6L617.2 341.2M607.2 336.1L617.9 331.8M604.9 388.6L610.5 382.1M605.8 354.8L616.7 350.3M605.1 396.3L610.6 389.9M641.4 230.4L651.4 227.6M600.1 361.7L611.0 357.0M652.1 197.7L658.2 190.0M649.7 210.4L655.8 202.8M604.9 388.6L616.1 383.5M643.6 218.0L649.7 210.4M599.7 370.5L610.7 365.7M611.9 294.7L617.8 287.5M619.5 276.3L629.7 272.9M635.3 237.9L645.3 235.0M607.2 336.1L613.0 329.1M652.1 197.7L661.9 195.2M610.5 305.5L616.4 298.3M627.3 257.3L633.3 249.9M633.3 249.9L643.4 246.8M615.1 308.9L625.6 305.1M608.1 326.2L618.8 322.1M610.5 305.5L620.9 301.8M654.7 184.6L664.4 182.3M619.5 276.3L625.4 268.9M643.6 218.0L653.5 215.4M617.8 287.5L623.8 280.2M635.3 237.9L641.4 230.4M633.3 249.9L639.3 242.5M605.1 396.3L616.4 391.0M613.9 319.2L619.8 312.1M606.4 345.6L612.2 338.7M616.4 298.3L626.8 294.6M605.8 354.8L611.5 348.0M649.7 210.4L659.6 207.8M600.1 361.7L605.8 354.8M617.8 287.5L628.2 283.9M625.4 268.9L635.7 265.6M646.0 205.4L652.1 197.7M648.5 192.4L654.7 184.6M611.9 294.7L622.3 291.1M613.0 329.1L623.6 324.9M599.7 370.5L605.3 363.8M616.4 298.3L622.3 291.1M648.5 192.4L658.2 190.0M646.0 205.4L655.8 202.8M615.1 308.9L620.9 301.8M627.3 257.3L637.4 254.2M613.0 329.1L618.8 322.1M625.4 268.9L631.4 261.6M608.1 326.2L613.9 319.2" stroke="#aebe67"/><path d="M628.2 283.9L638.5 280.4M637.4 254.2L647.6 251.0M611.5 348.0L622.3 343.5M629.7 272.9L635.7 265.6M605.3 363.8L616.3 359.0M655.8 202.8L661.9 195.2M617.9 331.8L628.6 327.6M647.4 222.9L657.4 220.1M645.3 235.0L655.4 232.1M626.8 294.6L637.2 291.0M620.9 301.8L631.4 298.0M631.4 261.6L637.4 254.2M612.2 338.7L617.9 331.8M622.3 291.1L628.2 283.9M635.7 265.6L641.6 258.3M629.7 272.9L640.0 269.5M610.6 389.9L621.9 384.6M631.4 261.6L641.6 258.3M622.3 291.1L632.7 287.5M651.4 227.6L661.3 224.7M645.3 235.0L651.4 227.6M623.8 280.2L634.1 276.7M625.6 305.1L636.1 301.2M612.2 338.7L622.9 334.4M643.4 246.8L653.5 243.8M626.8 294.6L632.7 287.5M620.9 301.8L626.8 294.6M651.4 227.6L657.4 220.1M619.8 312.1L630.3 308.2M610.6 389.9L616.1 383.5M611.5 348.0L617.2 341.2M643.4 246.8L649.4 239.5M655.8 202.8L665.6 200.3M617.9 331.8L623.6 324.9M658.2 190.0L668.0 187.6M635.7 265.6L645.9 262.3M639.3 242.5L649.4 239.5M647.4 222.9L653.5 215.4M604.9 380.7L610.5 374.1M653.5 215.4L663.4 212.7M624.5 315.1L630.3 308.2M605.0 372.4L616.1 367.5M610.9 397.3L616.4 391.0M618.8 322.1L624.5 315.1M604.9 380.7L616.0 375.6M658.2 190.0L664.4 182.3M628.2 283.9L634.1 276.7M605.3 363.8L611.0 357.0M639.3 242.5L645.3 235.0M623.8 280.2L629.7 272.9M624.5 315.1L635.1 311.1M653.5 215.4L659.6 207.8M625.6 305.1L631.4 298.0M618.8 322.1L629.4 318.0M605.0 372.4L610.7 365.7M637.4 254.2L643.4 246.8M619.8 312.1L625.6 305.1" stroke="#b7bd64"/><path d="M661.9 195.2L671.7 192.8M610.5 382.1L621.6 377.0M657.4 220.1L667.3 217.4M638.5 280.4L648.9 276.9M632.7 287.5L643.1 283.9M659.6 207.8L665.6 200.3M610.5 382.1L616.0 375.6M649.4 239.5L659.4 236.5M610.5 374.1L616.1 367.5M629.4 318.0L640.0 313.9M655.4 232.1L661.3 224.7M668.0 187.6L674.1 180.1M623.6 324.9L629.4 318.0M611.0 357.0L621.9 352.4M655.4 232.1L665.4 229.2M664.4 182.3L674.1 180.1M649.4 239.5L655.4 232.1M631.4 298.0L637.2 291.0M665.6 200.3L671.7 192.8M641.6 258.3L651.8 255.1M647.6 251.0L653.5 243.8M665.6 200.3L675.5 197.8M640.0 269.5L645.9 262.3M616.7 350.3L622.3 343.5M617.2 341.2L628.0 336.8M645.9 262.3L656.1 259.0M647.6 251.0L657.7 247.9M638.5 280.4L644.4 273.3M640.0 269.5L650.3 266.1M630.3 308.2L640.9 304.2M610.5 374.1L621.6 369.1M632.7 287.5L638.5 280.4M610.7 365.7L616.3 359.0M610.7 365.7L621.7 360.9M630.3 308.2L636.1 301.2M645.9 262.3L651.8 255.1M668.0 187.6L677.7 185.3M629.4 318.0L635.1 311.1M623.6 324.9L634.3 320.8M617.2 341.2L622.9 334.4M616.4 391.0L621.9 384.6M661.9 195.2L668.0 187.6M634.1 276.7L640.0 269.5M611.0 357.0L616.7 350.3M631.4 298.0L641.9 294.2M641.6 258.3L647.6 251.0M657.4 220.1L663.4 212.7M634.1 276.7L644.4 273.3M616.7 350.3L627.5 345.7M659.6 207.8L669.4 205.2" stroke="#c0bc60"/><path d="M616.1 383.5L621.6 377.0M675.5 197.8L681.5 190.4M644.4 273.3L650.3 266.1M637.2 291.0L647.7 287.3M663.4 212.7L669.4 205.2M628.6 327.6L634.3 320.8M650.3 266.1L660.5 262.8M616.1 367.5L621.7 360.9M667.3 217.4L677.3 214.6M661.3 224.7L671.3 221.9M636.1 301.2L646.6 297.4M616.1 367.5L627.1 362.6M616.3 359.0L621.9 352.4M616.0 375.6L627.1 370.6M634.3 320.8L645.0 316.6M657.7 247.9L663.6 240.7M651.8 255.1L657.7 247.9M622.9 334.4L633.7 330.1M641.9 294.2L652.4 290.5M616.3 359.0L627.2 354.3M648.9 276.9L659.2 273.3M674.1 180.1L683.8 177.8M635.1 311.1L640.9 304.2M657.7 247.9L667.9 244.8M651.8 255.1L662.0 251.9M616.0 375.6L621.6 369.1M661.3 224.7L667.3 217.4M622.3 343.5L628.0 336.8M671.7 192.8L677.7 185.3M636.1 301.2L641.9 294.2M643.1 283.9L648.9 276.9M621.9 384.6L627.3 378.3M653.5 243.8L659.4 236.5M621.9 352.4L627.5 345.7M677.7 185.3L687.5 182.9M644.4 273.3L654.7 269.8M671.7 192.8L681.5 190.4M628.6 327.6L639.3 323.3M641.9 294.2L647.7 287.3M637.2 291.0L643.1 283.9M621.9 352.4L632.8 347.8M622.3 343.5L633.2 339.1M650.3 266.1L656.1 259.0M659.4 236.5L665.4 229.2M677.7 185.3L683.8 177.8M669.4 205.2L675.5 197.8M634.3 320.8L640.0 313.9M616.1 383.5L627.3 378.3M667.3 217.4L673.3 210.0M622.9 334.4L628.6 327.6M675.5 197.8L685.3 195.3M635.1 311.1L645.7 307.1M669.4 205.2L679.3 202.6M648.9 276.9L654.7 269.8M659.4 236.5L669.5 233.5M663.4 212.7L673.3 210.0M653.5 243.8L663.6 240.7M643.1 283.9L653.5 280.3" stroke="#c8bc5d"/><path d="M671.3 221.9L677.3 214.6M660.5 262.8L666.4 255.7M677.3 214.6L683.2 207.3M646.6 297.4L657.1 293.5M654.7 269.8L660.5 262.8M656.1 259.0L666.4 255.7M669.5 233.5L675.4 226.3M628.0 336.8L633.7 330.1M653.5 280.3L659.2 273.3M683.8 177.8L693.5 175.5M665.4 229.2L671.3 221.9M640.0 313.9L650.7 309.9M662.0 251.9L672.2 248.7M671.3 221.9L681.3 219.1M660.5 262.8L670.8 259.4M669.5 233.5L679.6 230.5M621.6 377.0L632.8 371.9M627.5 345.7L638.4 341.2M687.5 182.9L693.5 175.5M656.1 259.0L662.0 251.9M652.4 290.5L658.1 283.6M687.5 182.9L697.3 180.6M621.6 377.0L627.1 370.6M640.0 313.9L645.7 307.1M627.5 345.7L633.2 339.1M663.6 240.7L669.5 233.5M677.3 214.6L687.2 211.9M681.5 190.4L691.3 187.9M633.7 330.1L639.3 323.3M647.7 287.3L653.5 280.3M663.6 240.7L673.7 237.6M654.7 269.8L665.0 266.3M673.3 210.0L683.2 207.3M646.6 297.4L652.4 290.5M628.0 336.8L638.8 332.4M647.7 287.3L658.1 283.6M621.7 360.9L632.7 356.1M640.9 304.2L646.6 297.4M685.3 195.3L691.3 187.9M681.5 190.4L687.5 182.9M665.4 229.2L675.4 226.3M679.3 202.6L685.3 195.3M662.0 251.9L667.9 244.8M633.7 330.1L644.4 325.8M673.3 210.0L679.3 202.6M621.6 369.1L632.6 364.2M685.3 195.3L695.1 192.8M679.3 202.6L689.2 200.1M640.9 304.2L651.4 300.3M621.7 360.9L627.2 354.3M621.6 369.1L627.1 362.6M652.4 290.5L662.8 286.7M653.5 280.3L663.9 276.7" stroke="#d1bb59"/><path d="M663.9 276.7L669.6 269.8M687.2 211.9L697.2 209.1M638.8 332.4L644.4 325.8M697.3 180.6L703.2 173.2M689.2 200.1L699.0 197.5M693.5 175.5L703.2 173.2M650.7 309.9L661.3 305.8M633.2 339.1L638.8 332.4M672.2 248.7L682.4 245.4M683.2 207.3L689.2 200.1M638.8 332.4L649.6 328.0M645.0 316.6L655.7 312.4M673.7 237.6L683.8 234.6M667.9 244.8L678.0 241.6M681.3 219.1L687.2 211.9M633.2 339.1L644.0 334.6M627.2 354.3L638.2 349.6M657.1 293.5L662.8 286.7M651.4 300.3L662.0 296.4M681.3 219.1L691.3 216.2M691.3 187.9L701.1 185.5M662.8 286.7L673.3 282.9M673.7 237.6L679.6 230.5M627.3 378.3L632.8 371.9M627.2 354.3L632.8 347.8M658.1 283.6L663.9 276.7M632.8 347.8L638.4 341.2M666.4 255.7L676.6 252.4M679.6 230.5L689.7 227.5M639.3 323.3L650.0 319.1M663.9 276.7L674.2 273.1M632.8 347.8L643.7 343.1M695.1 192.8L701.1 185.5M665.0 266.3L670.8 259.4M691.3 187.9L697.3 180.6M672.2 248.7L678.0 241.6M689.2 200.1L695.1 192.8M683.2 207.3L693.1 204.7M645.0 316.6L650.7 309.9M662.8 286.7L668.5 279.9M627.1 362.6L638.1 357.8M645.7 307.1L656.3 303.1M675.4 226.3L685.5 223.4M667.9 244.8L673.7 237.6M659.2 273.3L669.6 269.8M657.1 293.5L667.6 289.7M670.8 259.4L681.1 256.0M627.1 362.6L632.7 356.1M651.4 300.3L657.1 293.5M627.1 370.6L632.6 364.2M697.3 180.6L707.0 178.2M645.7 307.1L651.4 300.3M659.2 273.3L665.0 266.3M675.4 226.3L681.3 219.1M650.7 309.9L656.3 303.1M658.1 283.6L668.5 279.9M627.1 370.6L638.2 365.6M687.2 211.9L693.1 204.7M665.0 266.3L675.3 262.9M670.8 259.4L676.6 252.4M679.6 230.5L685.5 223.4M666.4 255.7L672.2 248.7M639.3 323.3L645.0 316.6M695.1 192.8L704.9 190.2" stroke="#d9ba56"/><path d="M699.0 197.5L708.9 194.9M632.7 356.1L643.6 351.3M667.6 289.7L678.2 285.8M644.0 334.6L654.8 330.1M697.2 209.1L707.1 206.4M682.4 245.4L692.6 242.2M672.5 292.5L678.2 285.8M683.8 234.6L689.7 227.5M666.9 299.1L672.5 292.5M675.3 262.9L685.7 259.4M703.2 173.2L713.0 170.9M699.0 197.5L704.9 190.2M676.6 252.4L686.8 249.1M693.1 204.7L703.1 202.0M704.9 190.2L710.9 183.0M669.6 269.8L675.3 262.9M685.5 223.4L691.3 216.2M666.9 299.1L677.5 295.1M644.0 334.6L649.6 328.0M638.2 365.6L643.7 359.2M682.4 245.4L688.2 238.5M674.2 273.1L684.6 269.4M704.9 190.2L714.8 187.7M678.0 241.6L688.2 238.5M650.0 319.1L655.7 312.4M691.3 216.2L701.3 213.4M697.2 209.1L703.1 202.0M693.1 204.7L699.0 197.5M707.0 178.2L713.0 170.9M662.0 296.4L667.6 289.7M656.3 303.1L662.0 296.4M676.6 252.4L682.4 245.4M669.6 269.8L680.0 266.2M650.0 319.1L660.8 314.9M701.1 185.5L707.0 178.2M638.4 341.2L644.0 334.6M632.6 364.2L638.1 357.8M638.1 357.8L649.2 352.9M673.3 282.9L679.0 276.2M668.5 279.9L679.0 276.2M655.7 312.4L666.3 308.3M638.4 341.2L649.3 336.6M667.6 289.7L673.3 282.9M632.6 364.2L643.7 359.2M662.0 296.4L672.5 292.5M701.1 185.5L710.9 183.0M638.1 357.8L643.6 351.3M683.8 234.6L694.0 231.5M661.3 305.8L666.9 299.1M675.3 262.9L681.1 256.0M685.5 223.4L695.5 220.5M673.3 282.9L683.8 279.1M644.4 325.8L655.2 321.4M674.2 273.1L680.0 266.2M638.2 349.6L643.7 343.1M655.7 312.4L661.3 305.8M668.5 279.9L674.2 273.1M661.3 305.8L671.9 301.7M691.3 216.2L697.2 209.1M678.0 241.6L683.8 234.6M707.0 178.2L716.8 175.8M656.3 303.1L666.9 299.1M672.5 292.5L683.1 288.5M632.7 356.1L638.2 349.6M644.4 325.8L650.0 319.1M638.2 349.6L649.2 344.9M632.8 371.9L638.2 365.6" stroke="#e1b952"/><path d="M665.9 317.1L671.5 310.6M695.5 220.5L701.3 213.4M678.2 285.8L683.8 279.1M671.5 310.6L682.2 306.4M677.5 295.1L683.1 288.5M655.2 321.4L660.8 314.9M699.7 224.5L705.5 217.5M643.7 343.1L654.7 338.5M694.0 231.5L699.7 224.5M689.7 227.5L695.5 220.5M708.9 194.9L718.8 192.3M710.9 183.0L720.6 180.6M680.0 266.2L690.3 262.7M677.5 295.1L688.1 291.1M707.1 206.4L717.1 203.6M649.6 328.0L655.2 321.4M679.0 276.2L689.4 272.5M694.0 231.5L704.1 228.4M666.3 308.3L677.0 304.1M643.7 343.1L649.3 336.6M688.2 238.5L694.0 231.5M683.1 288.5L693.6 284.6M686.8 249.1L697.1 245.8M677.0 304.1L682.6 297.6M649.6 328.0L660.4 323.6M713.0 199.3L722.9 196.6M688.2 238.5L698.3 235.3M684.6 269.4L695.0 265.8M681.1 256.0L686.8 249.1M685.7 259.4L696.0 256.0M714.8 187.7L720.6 180.6M710.9 183.0L716.8 175.8M666.3 308.3L671.9 301.7M703.1 202.0L708.9 194.9M654.8 330.1L665.7 325.6M677.0 304.1L687.7 299.9M683.1 288.5L688.7 282.0M682.6 297.6L688.1 291.1M683.8 279.1L694.3 275.4M701.3 213.4L707.1 206.4M695.5 220.5L705.5 217.5M713.0 170.9L722.7 168.6M722.7 168.6L732.4 166.3M681.1 256.0L691.4 252.6M689.7 227.5L699.7 224.5M665.9 317.1L676.7 312.8M685.7 259.4L691.4 252.6M643.6 351.3L649.2 344.9M654.8 330.1L660.4 323.6M682.6 297.6L693.2 293.5M676.7 312.8L682.2 306.4M708.9 194.9L714.8 187.7M680.0 266.2L685.7 259.4M671.9 301.7L682.6 297.6M701.3 213.4L711.3 210.6M683.8 279.1L689.4 272.5M707.1 206.4L713.0 199.3M679.0 276.2L684.6 269.4M643.6 351.3L654.6 346.5M649.3 336.6L660.2 332.1M716.8 175.8L722.7 168.6M676.7 312.8L687.4 308.5M686.8 249.1L692.6 242.2M713.0 199.3L718.8 192.3M643.7 359.2L649.2 352.9M660.8 314.9L666.3 308.3M684.6 269.4L690.3 262.7M678.2 285.8L688.7 282.0M682.2 306.4L687.7 299.9M660.8 314.9L671.5 310.6M655.2 321.4L665.9 317.1M699.7 224.5L709.8 221.5M714.8 187.7L724.6 185.2M671.9 301.7L677.5 295.1M716.8 175.8L726.5 173.5M649.3 336.6L654.8 330.1M682.2 306.4L692.9 302.1M703.1 202.0L713.0 199.3M671.5 310.6L677.0 304.1" stroke="#e9b94e"/><path d="M693.2 293.5L698.7 287.1M688.1 291.1L698.7 287.1M704.1 228.4L709.8 221.5M693.2 293.5L703.8 289.4M705.5 217.5L711.3 210.6M665.7 325.6L671.2 319.2M687.4 308.5L692.9 302.1M702.8 239.0L708.5 232.2M660.4 323.6L665.9 317.1M690.3 262.7L696.0 256.0M698.3 235.3L704.1 228.4M695.0 265.8L705.4 262.2M660.1 340.2L665.6 333.9M665.6 333.9L671.0 327.5M730.4 178.2L736.3 171.1M696.0 256.0L706.3 252.5M709.8 221.5L719.9 218.5M671.0 327.5L676.5 321.2M724.6 185.2L730.4 178.2M654.7 338.5L660.2 332.1M660.4 323.6L671.2 319.2M693.6 284.6L704.2 280.7M690.3 262.7L700.7 259.2M722.9 196.6L728.7 189.7M649.2 344.9L654.7 338.5M695.0 265.8L700.7 259.2M718.8 192.3L724.6 185.2M692.9 302.1L698.4 295.8M654.7 338.5L665.6 333.9M687.7 299.9L698.4 295.8M722.9 196.6L732.8 194.0M649.2 344.9L660.1 340.2M693.6 284.6L699.2 278.1M692.6 242.2L698.3 235.3M694.3 275.4L704.7 271.6M715.6 214.6L725.6 211.7M688.1 291.1L693.6 284.6M687.7 299.9L693.2 293.5M726.5 173.5L732.4 166.3M720.6 180.6L730.4 178.2M697.1 245.8L702.8 239.0M671.2 319.2L676.7 312.8M711.3 210.6L721.3 207.7M654.6 346.5L660.1 340.2M704.1 228.4L714.2 225.4M671.2 319.2L682.0 314.8M694.3 275.4L699.8 268.8M728.7 189.7L738.5 187.1M732.4 166.3L742.1 164.1M698.3 235.3L708.5 232.2M702.8 239.0L713.0 235.8M730.4 178.2L740.2 175.7M717.1 203.6L722.9 196.6M660.2 332.1L671.0 327.5M709.8 221.5L715.6 214.6M689.4 272.5L695.0 265.8M724.6 185.2L734.4 182.7M696.0 256.0L701.6 249.2M711.3 210.6L717.1 203.6M720.6 180.6L726.5 173.5M717.1 203.6L727.0 200.8M728.7 189.7L734.4 182.7M689.4 272.5L699.8 268.8M691.4 252.6L701.6 249.2M688.7 282.0L699.2 278.1M718.8 192.3L728.7 189.7M649.2 352.9L654.6 346.5M660.2 332.1L665.7 325.6M705.5 217.5L715.6 214.6M665.7 325.6L676.5 321.2M682.0 314.8L687.4 308.5M726.5 173.5L736.3 171.1M692.6 242.2L702.8 239.0M697.1 245.8L707.3 242.5M715.6 214.6L721.3 207.7M676.5 321.2L682.0 314.8M688.7 282.0L694.3 275.4M691.4 252.6L697.1 245.8" stroke="#f1b94a"/><path d="M727.0 200.8L737.0 198.1M706.3 252.5L716.6 249.1M734.4 182.7L744.3 180.2M736.3 171.1L742.1 164.1M698.7 287.1L704.2 280.7M721.3 207.7L731.3 204.9M738.5 187.1L744.3 180.2M704.7 271.6L715.2 267.8M707.3 242.5L713.0 235.8M732.8 194.0L738.5 187.1M698.7 287.1L709.3 283.1M734.4 182.7L740.2 175.7M731.3 204.9L737.0 198.1M742.1 164.1L751.8 161.8M704.2 280.7L709.7 274.3M699.2 278.1L704.7 271.6M708.5 232.2L718.6 229.0M718.6 229.0L728.8 225.9M725.6 211.7L731.3 204.9M701.6 249.2L707.3 242.5M704.2 280.7L714.8 276.8M719.9 218.5L730.0 215.6M713.0 235.8L718.6 229.0M698.4 295.8L703.8 289.4M699.2 278.1L709.7 274.3M736.3 171.1L746.0 168.7M714.2 225.4L724.3 222.3M721.3 207.7L727.0 200.8M700.7 259.2L711.0 255.6M738.5 187.1L748.4 184.5M707.3 242.5L717.5 239.2M701.6 249.2L711.9 245.9M732.8 194.0L742.7 191.3M703.8 289.4L709.3 283.1M740.2 175.7L750.0 173.3M705.4 262.2L711.0 255.6M731.3 204.9L741.3 202.1M700.7 259.2L706.3 252.5M714.2 225.4L719.9 218.5M705.4 262.2L715.8 258.6M699.8 268.8L705.4 262.2M727.0 200.8L732.8 194.0M708.5 232.2L714.2 225.4M740.2 175.7L746.0 168.7M699.8 268.8L710.3 265.1M725.6 211.7L735.6 208.8M718.6 229.0L724.3 222.3M719.9 218.5L725.6 211.7M706.3 252.5L711.9 245.9M704.7 271.6L710.3 265.1M713.0 235.8L723.2 232.5" stroke="#f8bb44"/><path d="M737.0 198.1L747.0 195.3M730.0 215.6L740.0 212.6M744.3 180.2L750.0 173.3M724.3 222.3L734.4 219.2M748.4 184.5L754.1 177.7M717.5 239.2L727.8 235.9M747.0 195.3L752.6 188.6M711.9 245.9L722.2 242.5M742.7 191.3L748.4 184.5M750.0 173.3L755.8 166.4M727.8 235.9L733.3 229.3M737.0 198.1L742.7 191.3M709.3 283.1L714.8 276.8M751.8 161.8L761.5 159.5M722.2 242.5L727.8 235.9M727.8 235.9L738.0 232.6M717.5 239.2L723.2 232.5M711.9 245.9L717.5 239.2M722.2 242.5L732.5 239.1M716.6 249.1L726.9 245.6M728.8 225.9L734.4 219.2M721.4 252.1L731.7 248.6M711.0 255.6L716.6 249.1M710.3 265.1L715.8 258.6M715.2 267.8L720.7 261.4M735.6 208.8L741.3 202.1M728.8 225.9L738.9 222.7M711.0 255.6L721.4 252.1M744.3 180.2L754.1 177.7M730.0 215.6L735.6 208.8M721.4 252.1L726.9 245.6M715.2 267.8L725.7 264.1M724.3 222.3L730.0 215.6M748.4 184.5L758.3 181.9M740.0 212.6L750.1 209.6M716.6 249.1L722.2 242.5M710.3 265.1L720.7 261.4M747.0 195.3L756.9 192.6M742.7 191.3L752.6 188.6M741.3 202.1L747.0 195.3M750.0 173.3L759.8 170.8M714.8 276.8L720.2 270.4M715.8 258.6L726.2 255.0M723.2 232.5L733.3 229.3M740.0 212.6L745.7 205.9M709.7 274.3L715.2 267.8M746.0 168.7L751.8 161.8M734.4 219.2L740.0 212.6M715.8 258.6L721.4 252.1M746.0 168.7L755.8 166.4M741.3 202.1L751.3 199.2M709.7 274.3L720.2 270.4M723.2 232.5L728.8 225.9M735.6 208.8L745.7 205.9M734.4 219.2L744.5 216.2" stroke="#fdbe3d"/><path d="M754.1 177.7L759.8 170.8M742.7 235.7L748.2 229.3M725.7 264.1L731.1 257.7M738.9 222.7L744.5 216.2M732.5 239.1L738.0 232.6M737.2 242.1L742.7 235.7M751.3 199.2L756.9 192.6M756.9 192.6L766.9 189.8M759.8 170.8L769.6 168.4M720.2 270.4L725.7 264.1M758.3 181.9L763.9 175.1M731.7 248.6L737.2 242.1M742.7 235.7L753.0 232.3M755.8 166.4L765.5 164.0M738.0 232.6L748.2 229.3M745.7 205.9L755.7 203.0M732.5 239.1L742.7 235.7M731.7 248.6L742.1 245.0M726.9 245.6L737.2 242.1M738.0 232.6L743.5 226.1M720.7 261.4L726.2 255.0M744.5 216.2L750.1 209.6M720.7 261.4L731.1 257.7M745.7 205.9L751.3 199.2M731.1 257.7L736.6 251.4M726.9 245.6L732.5 239.1M752.6 188.6L762.5 185.9M744.5 216.2L754.6 213.1M754.1 177.7L763.9 175.1M726.2 255.0L736.6 251.4M755.7 203.0L761.3 196.4M758.3 181.9L768.2 179.3M750.1 209.6L755.7 203.0M749.1 219.6L754.6 213.1M755.7 203.0L765.7 200.1M759.8 170.8L765.5 164.0M743.5 226.1L749.1 219.6M755.8 166.4L761.5 159.5M756.9 192.6L762.5 185.9M750.1 209.6L760.2 206.6M749.1 219.6L759.2 216.4M726.2 255.0L731.7 248.6M733.3 229.3L738.9 222.7M738.9 222.7L749.1 219.6M743.5 226.1L753.7 222.9M751.3 199.2L761.3 196.4M733.3 229.3L743.5 226.1M737.2 242.1L747.5 238.7M752.6 188.6L758.3 181.9" stroke="#ffc337"/><path d="M748.2 229.3L753.7 222.9M766.9 189.8L776.8 187.1M748.2 229.3L758.5 226.0M763.9 175.1L769.6 168.4M765.5 164.0L775.3 161.7M736.6 251.4L742.1 245.0M759.2 216.4L769.4 213.3M753.0 232.3L758.5 226.0M765.7 200.1L771.3 193.6M761.3 196.4L771.3 193.6M761.5 159.5L771.2 157.2M765.7 200.1L775.8 197.2M760.2 206.6L770.2 203.6M759.2 216.4L764.7 210.0M754.6 213.1L764.7 210.0M761.3 196.4L766.9 189.8M764.7 210.0L770.2 203.6M747.5 238.7L753.0 232.3M763.9 175.1L773.8 172.6M769.6 168.4L775.3 161.7M764.7 210.0L774.9 207.0M754.6 213.1L760.2 206.6M753.7 222.9L759.2 216.4M765.5 164.0L771.2 157.2M742.1 245.0L747.5 238.7M762.5 185.9L768.2 179.3M768.2 179.3L778.0 176.7M769.6 168.4L779.4 166.0M762.5 185.9L772.4 183.3M753.7 222.9L763.9 219.6M760.2 206.6L765.7 200.1M768.2 179.3L773.8 172.6M766.9 189.8L772.4 183.3M758.5 226.0L763.9 219.6" stroke="#fec832"/><path d="M773.8 172.6L783.6 170.1M775.3 161.7L780.9 154.9M775.8 197.2L785.8 194.3M775.8 197.2L781.3 190.7M771.3 193.6L781.3 190.7M774.9 207.0L780.3 200.6M776.8 187.1L786.8 184.3M771.3 193.6L776.8 187.1M770.2 203.6L775.8 197.2M775.3 161.7L785.0 159.3M763.9 219.6L769.4 213.3M772.4 183.3L778.0 176.7M770.2 203.6L780.3 200.6M778.0 176.7L787.9 174.1M773.8 172.6L779.4 166.0M776.8 187.1L782.4 180.6M772.4 183.3L782.4 180.6M771.2 157.2L780.9 154.9M778.0 176.7L783.6 170.1M769.4 213.3L774.9 207.0" stroke="#fcce2e"/><path d="M785.8 194.3L791.2 187.9M782.4 180.6L792.3 177.9M780.9 154.9L790.6 152.6M782.4 180.6L787.9 174.1M779.4 166.0L789.2 163.5M780.3 200.6L785.8 194.3M785.0 159.3L790.6 152.6M779.4 166.0L785.0 159.3M785.0 159.3L794.8 156.9M783.6 170.1L793.4 167.6M781.3 190.7L791.2 187.9M783.6 170.1L789.2 163.5M781.3 190.7L786.8 184.3M786.8 184.3L792.3 177.9M786.8 184.3L796.7 181.6" stroke="#fad32a"/><path d="M792.3 177.9L802.2 175.2M790.6 152.6L800.4 150.4M787.9 174.1L793.4 167.6M791.2 187.9L796.7 181.6M789.2 163.5L799.0 161.1M787.9 174.1L797.8 171.5M793.4 167.6L803.3 165.1M789.2 163.5L794.8 156.9M793.4 167.6L799.0 161.1M792.3 177.9L797.8 171.5" stroke="#f7d826"/><path d="M799.0 161.1L804.5 154.6M800.4 150.4L810.1 148.1M802.2 175.2L807.6 168.9M797.8 171.5L803.3 165.1M797.8 171.5L807.6 168.9M794.8 156.9L800.4 150.4M794.8 156.9L804.5 154.6M799.0 161.1L808.8 158.6M796.7 181.6L802.2 175.2" stroke="#f5de21"/><path d="M807.6 168.9L813.1 162.5M803.3 165.1L813.1 162.5M803.3 165.1L808.8 158.6M804.5 154.6L814.3 152.2M808.8 158.6L814.3 152.2M804.5 154.6L810.1 148.1M808.8 158.6L818.6 156.2" stroke="#f5e41d"/><path d="M814.3 152.2L819.8 145.8M814.3 152.2L824.0 149.8M810.1 148.1L819.8 145.8M813.1 162.5L818.6 156.2" stroke="#f5eb18"/><path d="M819.8 145.8L829.5 143.5M818.6 156.2L824.0 149.8M824.0 149.8L829.5 143.5" stroke="#f6f313"/></g></g>
<path d="M99.1 228.3L99.1 596.8L629.9 702.4L933.5 517.6M99.1 596.8L85.7 594.1M99.1 504.7L85.7 502.0M99.1 412.5L85.7 409.9M99.1 320.4L85.7 317.8M99.1 228.3L85.7 225.6M629.9 702.4L618.2 709.5M523.7 681.3L512.0 688.4M417.6 660.2L405.9 667.3M311.4 639.0L299.7 646.2M205.3 617.9L193.6 625.0M99.1 596.8L87.4 603.9M629.9 702.4L643.3 705.1M705.8 656.2L719.2 658.9M781.7 610.0L795.1 612.7M857.6 563.8L871.0 566.5M933.5 517.6L946.9 520.3" fill="none" stroke="#262626" stroke-width="1.5"/>
<g font-family="&quot;Liberation Sans&quot;, sans-serif" font-size="26" fill="#000"><text x="74.2" y="602.5" text-anchor="end">0</text><text x="74.2" y="510.4" text-anchor="end">10</text><text x="74.2" y="418.3" text-anchor="end">20</text><text x="74.2" y="326.1" text-anchor="end">30</text><text x="74.2" y="234.0" text-anchor="end">40</text><text x="608.9" y="741.6" text-anchor="end">0</text><text x="502.7" y="720.5" text-anchor="end">20</text><text x="396.6" y="699.4" text-anchor="end">40</text><text x="290.4" y="678.3" text-anchor="end">60</text><text x="184.3" y="657.2" text-anchor="end">80</text><text x="78.9" y="636.0" text-anchor="end">100</text><text x="652.0" y="733.0" text-anchor="start">20</text><text x="727.9" y="686.8" text-anchor="start">40</text><text x="803.8" y="640.6" text-anchor="start">60</text><text x="879.7" y="594.4" text-anchor="start">80</text><text x="955.6" y="548.2" text-anchor="start">100</text></g>
<g font-family="&quot;Liberation Sans&quot;, sans-serif" font-size="29.2" fill="#000"><text x="134.5" y="754">CO2 molepercentage</text><text x="791.5" y="734.5">Temperature</text><text transform="translate(31 514.3) rotate(-90)">Pressure,&#160; MPa</text></g>
<text x="511" y="30" text-anchor="middle" font-family="&quot;Liberation Sans&quot;, sans-serif" font-size="28.9" font-weight="bold" fill="#000">PTX phase diagram of interfacial phase</text>
</svg></body></html>
